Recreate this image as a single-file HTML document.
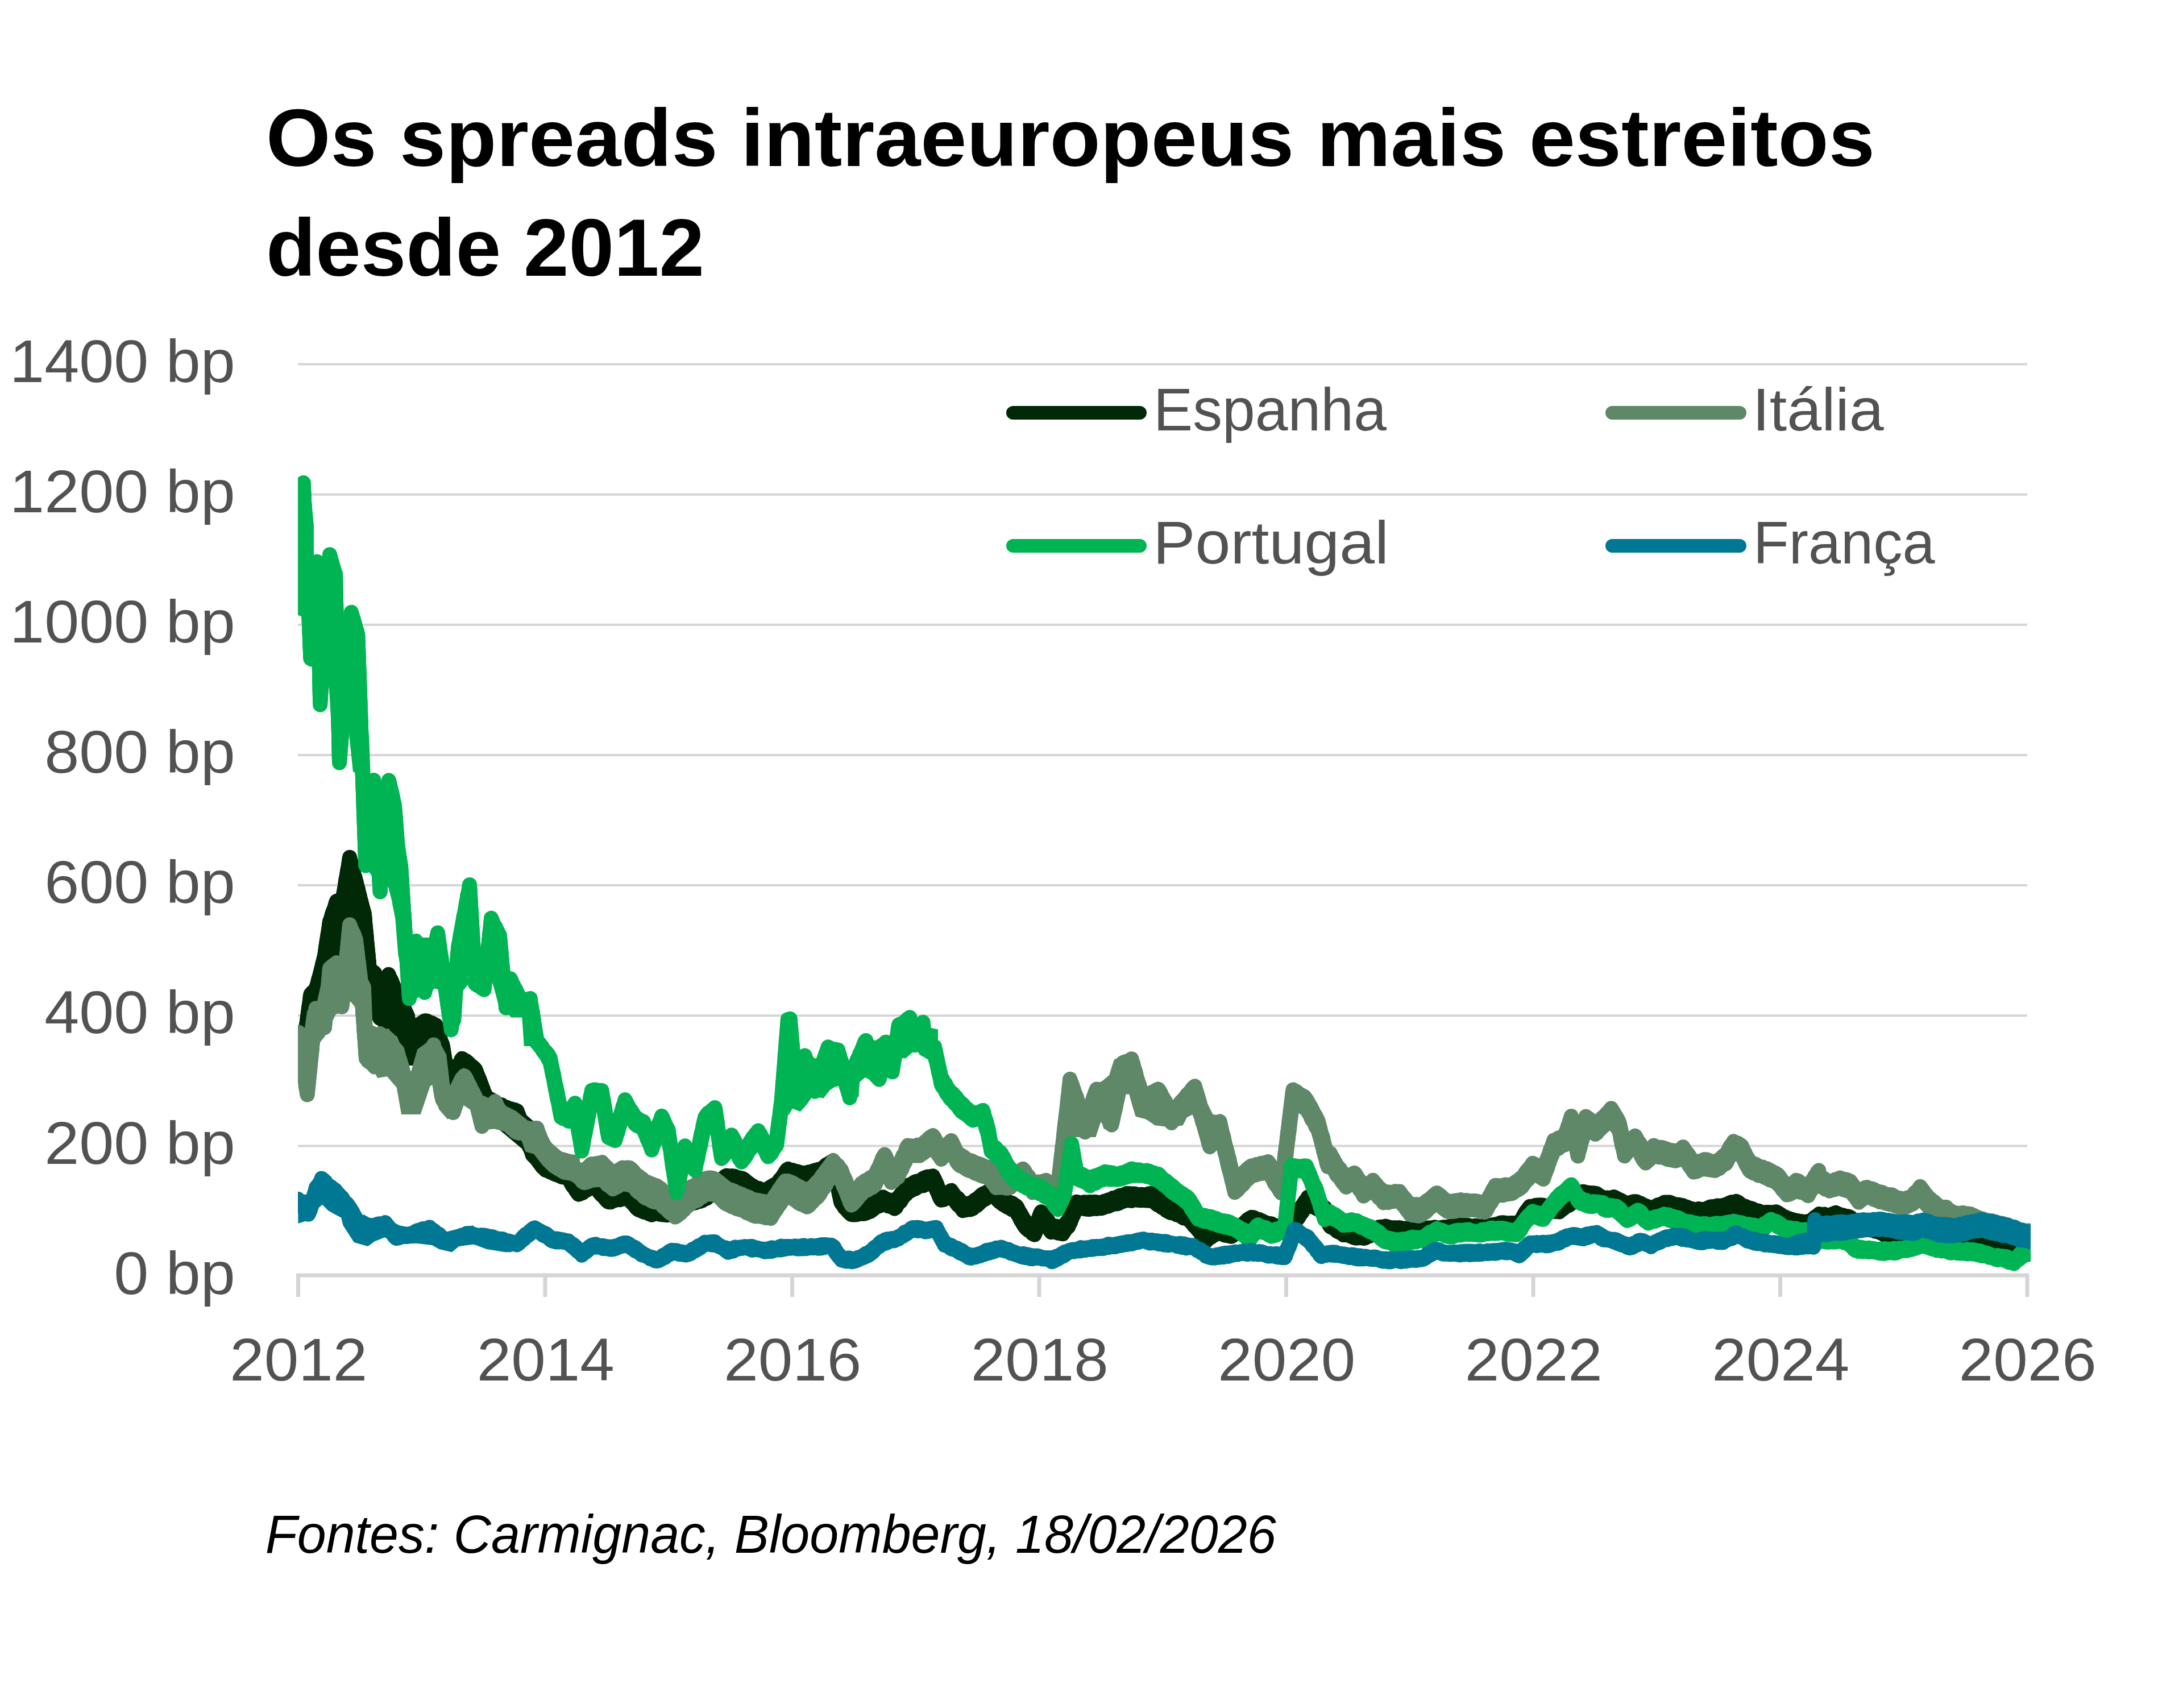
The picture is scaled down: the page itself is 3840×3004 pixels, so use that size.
<!DOCTYPE html>
<html><head><meta charset="utf-8">
<style>
html,body{margin:0;padding:0;background:#fff;width:3840px;height:3004px;overflow:hidden}
svg{position:absolute;left:0;top:0}
.t{font-family:"Liberation Sans",sans-serif;font-weight:bold;font-size:143px;fill:#000}
.ax{font-family:"Liberation Sans",sans-serif;font-size:105px;fill:#525252}
.lg{font-family:"Liberation Sans",sans-serif;font-size:106px;fill:#525252}
.ft{font-family:"Liberation Sans",sans-serif;font-style:italic;font-size:94px;fill:#000}
</style></head><body>
<svg width="3840" height="3004" viewBox="0 0 3840 3004">
<text x="467.9" y="291.5" class="t" textLength="2830" lengthAdjust="spacingAndGlyphs">Os spreads intraeuropeus mais estreitos</text>
<text x="468" y="485" class="t" textLength="771" lengthAdjust="spacingAndGlyphs">desde 2012</text>
<line x1="524" y1="2015.4" x2="3566" y2="2015.4" stroke="#d5d5d5" stroke-width="4"/>
<line x1="524" y1="1786.2" x2="3566" y2="1786.2" stroke="#d5d5d5" stroke-width="4"/>
<line x1="524" y1="1557.1" x2="3566" y2="1557.1" stroke="#d5d5d5" stroke-width="4"/>
<line x1="524" y1="1327.9" x2="3566" y2="1327.9" stroke="#d5d5d5" stroke-width="4"/>
<line x1="524" y1="1098.8" x2="3566" y2="1098.8" stroke="#d5d5d5" stroke-width="4"/>
<line x1="524" y1="869.7" x2="3566" y2="869.7" stroke="#d5d5d5" stroke-width="4"/>
<line x1="524" y1="640.5" x2="3566" y2="640.5" stroke="#d5d5d5" stroke-width="4"/>

<line x1="521" y1="2243" x2="3569" y2="2243" stroke="#d5d5d5" stroke-width="7"/>
<line x1="524.5" y1="2243" x2="524.5" y2="2281" stroke="#d5d5d5" stroke-width="7"/>
<line x1="959.0" y1="2243" x2="959.0" y2="2281" stroke="#d5d5d5" stroke-width="7"/>
<line x1="1393.5" y1="2243" x2="1393.5" y2="2281" stroke="#d5d5d5" stroke-width="7"/>
<line x1="1828.0" y1="2243" x2="1828.0" y2="2281" stroke="#d5d5d5" stroke-width="7"/>
<line x1="2262.5" y1="2243" x2="2262.5" y2="2281" stroke="#d5d5d5" stroke-width="7"/>
<line x1="2697.0" y1="2243" x2="2697.0" y2="2281" stroke="#d5d5d5" stroke-width="7"/>
<line x1="3131.5" y1="2243" x2="3131.5" y2="2281" stroke="#d5d5d5" stroke-width="7"/>
<line x1="3566.0" y1="2243" x2="3566.0" y2="2281" stroke="#d5d5d5" stroke-width="7"/>

<text x="413.8" y="2275.7" text-anchor="end" class="ax" textLength="213.6" lengthAdjust="spacingAndGlyphs">0 bp</text>
<text x="413.8" y="2046.6" text-anchor="end" class="ax" textLength="335.6" lengthAdjust="spacingAndGlyphs">200 bp</text>
<text x="413.8" y="1817.4" text-anchor="end" class="ax" textLength="335.6" lengthAdjust="spacingAndGlyphs">400 bp</text>
<text x="413.8" y="1588.3" text-anchor="end" class="ax" textLength="335.6" lengthAdjust="spacingAndGlyphs">600 bp</text>
<text x="413.8" y="1359.1" text-anchor="end" class="ax" textLength="335.6" lengthAdjust="spacingAndGlyphs">800 bp</text>
<text x="413.8" y="1130.0" text-anchor="end" class="ax" textLength="396.7" lengthAdjust="spacingAndGlyphs">1000 bp</text>
<text x="413.8" y="900.9" text-anchor="end" class="ax" textLength="396.7" lengthAdjust="spacingAndGlyphs">1200 bp</text>
<text x="413.8" y="671.7" text-anchor="end" class="ax" textLength="396.7" lengthAdjust="spacingAndGlyphs">1400 bp</text>

<text x="525.3" y="2428" text-anchor="middle" class="ax" textLength="242" lengthAdjust="spacingAndGlyphs">2012</text>
<text x="959.8" y="2428" text-anchor="middle" class="ax" textLength="242" lengthAdjust="spacingAndGlyphs">2014</text>
<text x="1394.3" y="2428" text-anchor="middle" class="ax" textLength="242" lengthAdjust="spacingAndGlyphs">2016</text>
<text x="1828.8" y="2428" text-anchor="middle" class="ax" textLength="242" lengthAdjust="spacingAndGlyphs">2018</text>
<text x="2263.3" y="2428" text-anchor="middle" class="ax" textLength="242" lengthAdjust="spacingAndGlyphs">2020</text>
<text x="2697.8" y="2428" text-anchor="middle" class="ax" textLength="242" lengthAdjust="spacingAndGlyphs">2022</text>
<text x="3132.3" y="2428" text-anchor="middle" class="ax" textLength="242" lengthAdjust="spacingAndGlyphs">2024</text>
<text x="3566.8" y="2428" text-anchor="middle" class="ax" textLength="242" lengthAdjust="spacingAndGlyphs">2026</text>

<defs><clipPath id="pc"><rect x="524" y="0" width="3048" height="3004"/></clipPath></defs>
<g clip-path="url(#pc)" fill="none" stroke-linejoin="round" stroke-linecap="round" stroke-width="26">
<path d="M524.8 1912.8 L537.5 1811.6 L543.1 1747.0 L551.5 1735.8 L561.4 1727.3 L564.2 1676.7 L574.0 1620.5 L583.9 1584.0 L596.5 1575.6 L602.1 1516.5 L613.4 1501.0 L624.6 1513.7 L633.0 1598.0 L644.3 1600.9 L651.3 1620.5 L652.7 1704.8 L664.0 1713.3 L668.2 1721.7 L683.6 1707.7 L694.9 1733.0 L706.1 1749.8 L723.0 1792.0 L745.5 1786.4 L768.0 1797.6 L775.0 1803.2 L775.0 1828.5 L756.7 1837.0 L725.8 1873.5 L717.4 1865.0 L697.7 1822.9 L672.4 1811.6 L655.5 1794.8 L638.7 1716.0 L627.4 1676.7 L599.3 1676.7 L571.2 1721.7 L557.2 1775.0 L543.1 1817.3 L526.2 1912.8Z" fill="#012907" stroke="none"/>
<path d="M760.0 1798.0 L768.4 1800.0 L776.9 1817.0 L783.2 1842.2 L791.6 1899.0 L797.9 1871.7 L814.8 1854.8 L829.5 1865.4 L842.2 1882.2 L852.7 1922.3 L865.4 1928.6 L878.0 1930.7 L907.5 1947.6 L920.1 1956.0 L937.0 1970.7 L945.4 1975.0 L968.6 2010.8 L987.6 2025.5 L1020.0 2035.0 L1020.0 2070.0 L960.2 2057.0 L937.0 2036.0 L870.0 1980.0 L830.0 1940.0 L800.0 1940.0 L780.0 1920.0 L760.0 1880.0Z" fill="#012907" stroke="none"/>
<path d="M528.3 1879.2 L528.9 1875.9 L529.4 1872.2 L530.0 1867.6 L530.5 1862.9 L531.1 1858.2 L531.6 1854.6 L532.2 1850.2 L532.7 1846.3 L533.3 1843.3 L533.8 1839.6 L534.4 1836.6 L534.9 1831.3 L535.5 1826.7 L536.0 1822.6 L536.6 1819.2 L537.1 1814.9 L537.7 1812.3 L538.2 1808.4 L538.8 1805.4 L539.3 1800.2 L539.9 1797.3 L540.4 1792.3 L541.0 1789.0 L541.5 1785.4 L542.1 1780.3 L542.6 1775.9 L543.2 1771.0 L543.7 1768.2 L544.3 1764.4 L544.8 1760.8 L545.4 1755.5 L545.9 1751.0 L546.5 1748.5 L549.6 1745.0 L552.6 1743.5 L555.7 1740.3 L556.8 1734.9 L557.9 1731.8 L559.0 1728.0 L560.0 1723.4 L561.1 1720.1 L562.2 1716.2 L563.3 1711.8 L564.4 1707.7 L565.5 1703.3 L566.6 1698.7 L567.6 1693.9 L568.7 1689.9 L569.8 1685.5 L570.9 1681.1 L571.5 1677.8 L572.1 1674.4 L572.7 1668.9 L573.3 1664.2 L573.9 1661.1 L574.5 1657.3 L575.1 1652.3 L575.8 1649.5 L576.4 1644.4 L577.0 1641.9 L577.6 1637.8 L578.2 1634.4 L578.8 1629.7 L579.4 1625.4 L580.0 1620.9 L581.4 1617.7 L582.7 1613.7 L584.1 1607.8 L585.4 1604.0 L586.8 1600.6 L588.1 1597.3 L589.5 1592.8 L590.8 1587.9 L592.2 1584.7 L596.8 1586.6 L601.4 1588.9 L602.1 1586.4 L602.8 1581.3 L603.5 1576.8 L604.1 1572.7 L604.8 1569.6 L605.5 1565.4 L606.2 1561.7 L606.9 1558.3 L607.6 1552.5 L608.2 1547.6 L608.9 1545.0 L609.6 1541.4 L610.3 1538.0 L611.0 1532.0 L611.7 1528.9 L612.4 1525.5 L613.0 1521.8 L613.7 1516.4 L614.4 1511.0 L615.1 1507.8 L616.2 1512.6 L617.2 1515.3 L618.3 1520.6 L619.3 1523.3 L620.4 1528.8 L621.4 1532.8 L622.5 1537.2 L623.5 1540.3 L624.6 1543.1 L625.6 1548.3 L626.7 1551.5 L627.7 1556.0 L628.8 1560.6 L629.8 1563.2 L630.8 1568.8 L631.8 1572.2 L632.8 1575.9 L633.8 1581.1 L634.8 1584.2 L635.9 1588.4 L636.9 1592.2 L637.9 1596.1 L638.9 1600.1 L639.9 1603.3 L640.9 1606.9 L641.3 1611.2 L641.7 1616.5 L642.0 1621.2 L642.4 1626.0 L642.8 1629.7 L643.2 1633.1 L643.6 1637.5 L644.0 1640.5 L644.4 1644.6 L644.7 1648.3 L645.1 1653.3 L645.5 1658.3 L645.9 1662.0 L646.3 1665.7 L646.6 1670.6 L647.0 1672.9 L647.4 1677.6 L647.8 1682.6 L648.2 1686.4 L648.6 1689.4 L649.0 1693.9 L649.3 1697.6 L649.7 1702.9 L650.1 1705.2 L654.7 1707.8 L659.2 1711.3 L659.7 1714.9 L660.2 1719.5 L660.6 1724.5 L661.1 1727.6 L661.6 1732.7 L662.1 1735.2 L662.6 1739.5 L663.0 1744.2 L663.5 1748.8 L664.0 1752.3 L664.5 1756.0 L664.9 1760.3 L665.4 1765.4 L665.9 1768.7 L666.4 1771.9 L666.9 1775.9 L667.3 1779.5 L667.8 1784.9 L668.3 1787.6 L669.1 1783.7 L670.0 1780.3 L670.8 1776.4 L671.7 1772.2 L672.5 1769.0 L673.4 1763.8 L674.2 1760.2 L675.1 1756.8 L676.0 1751.1 L676.8 1747.1 L677.6 1743.8 L678.5 1738.7 L679.4 1734.4 L680.2 1730.9 L681.0 1728.0 L681.9 1724.4 L682.8 1718.5 L683.6 1713.8 L685.4 1718.6 L687.2 1721.9 L689.1 1725.6 L690.9 1730.8 L692.7 1734.8 L694.5 1739.6 L696.3 1742.0 L698.2 1747.5 L700.0 1752.1 L701.8 1755.2 L703.5 1758.7 L705.2 1761.3 L706.9 1765.3 L708.6 1769.9 L710.3 1772.9 L712.0 1775.8 L713.7 1780.0 L715.4 1783.5 L717.1 1787.1 L717.5 1791.6 L717.8 1795.1 L718.2 1800.5 L718.5 1805.5 L718.9 1809.7 L719.3 1814.2 L719.6 1818.7 L720.0 1822.5 L720.3 1825.7 L720.7 1829.6 L721.0 1832.4 L721.4 1836.8 L721.8 1841.1 L722.1 1844.5 L722.5 1848.3 L722.8 1853.4 L723.2 1858.4 L724.0 1854.9 L724.7 1851.3 L725.5 1845.7 L726.2 1842.7 L727.0 1838.1 L727.8 1833.7 L728.5 1828.7 L729.3 1826.1 L730.0 1821.8 L730.8 1816.7 L731.5 1812.8 L732.3 1808.2 L735.3 1805.5 L738.4 1803.0 L741.4 1799.4 L744.5 1797.0 L747.5 1795.2 L751.3 1795.6 L755.1 1797.9 L759.0 1798.8 L762.8 1801.2 L766.6 1802.9 L767.9 1806.2 L769.2 1810.7 L770.5 1813.3 L771.8 1817.4 L773.0 1822.1 L774.3 1826.1 L775.6 1830.9 L776.9 1834.0 L778.2 1836.8 L778.9 1840.2 L779.7 1844.2 L780.4 1849.3 L781.1 1853.7 L781.8 1858.4 L782.5 1862.5 L783.3 1865.3 L784.0 1870.9 L784.7 1875.7 L785.5 1878.7 L786.2 1883.6 L786.9 1886.8 L787.6 1891.2 L788.3 1895.0 L789.1 1899.5 L789.8 1902.4 L791.7 1900.1 L793.7 1897.5 L795.6 1893.3 L797.5 1890.1 L799.5 1885.9 L801.4 1881.7 L803.3 1877.5 L805.3 1874.8 L807.2 1871.5 L809.1 1868.9 L811.1 1864.2 L813.0 1861.7 L816.3 1864.4 L819.6 1865.5 L822.9 1868.2 L826.3 1872.0 L829.6 1874.5 L832.9 1877.2 L836.2 1880.7 L837.7 1884.4 L839.2 1888.8 L840.7 1891.9 L842.1 1895.4 L843.6 1898.7 L845.1 1902.9 L846.6 1907.0 L848.1 1911.4 L849.6 1914.8 L851.0 1919.4 L852.5 1923.0 L854.0 1925.5 L855.5 1928.9 L859.4 1932.4 L863.2 1933.4 L867.1 1935.7 L871.0 1938.0 L874.8 1940.9 L878.7 1942.4 L882.5 1943.2 L886.4 1946.7 L890.3 1947.1 L894.1 1949.0 L898.0 1950.0 L901.9 1951.5 L905.7 1952.0 L909.6 1953.8 L911.0 1957.5 L912.4 1961.3 L913.9 1965.6 L915.3 1969.5 L916.7 1972.3 L918.1 1977.4 L919.5 1979.8 L921.0 1984.6 L922.4 1987.8 L923.8 1991.8 L925.2 1996.6 L926.7 1999.1 L928.1 2002.9 L929.5 2007.4 L930.9 2010.4 L932.3 2014.3 L933.8 2019.3 L935.2 2023.5 L936.6 2027.4 L939.5 2030.7 L942.4 2034.1 L945.3 2038.3 L948.2 2041.4 L951.1 2045.2 L954.0 2047.9 L956.9 2051.6 L959.8 2053.4 L963.8 2054.8 L967.8 2055.8 L971.9 2057.7 L975.9 2060.3 L979.9 2061.8 L983.9 2063.9 L987.9 2065.2 L992.0 2066.5 L996.0 2068.4 L1000.0 2070.5 L1002.5 2073.7 L1005.0 2076.8 L1007.5 2080.4 L1010.1 2082.3 L1012.6 2085.3 L1015.1 2089.8 L1017.6 2093.6 L1021.4 2091.5 L1025.1 2088.6 L1028.9 2086.3 L1032.6 2083.1 L1036.4 2080.0 L1040.1 2076.7 L1043.9 2075.0 L1046.8 2078.2 L1049.8 2081.3 L1052.7 2083.9 L1055.6 2087.5 L1058.6 2090.2 L1061.5 2092.6 L1064.4 2095.2 L1067.4 2099.5 L1070.3 2104.0 L1074.3 2103.0 L1078.3 2102.3 L1082.4 2100.0 L1086.4 2099.6 L1090.4 2097.6 L1094.5 2097.6 L1098.5 2095.9 L1102.5 2094.9 L1105.4 2096.5 L1108.4 2100.2 L1111.3 2102.3 L1114.2 2105.4 L1117.1 2108.6 L1120.1 2112.7 L1123.0 2115.8 L1126.9 2115.9 L1130.8 2116.6 L1134.7 2118.4 L1138.6 2121.3 L1142.5 2123.3 L1146.4 2124.7 L1151.1 2124.3 L1155.8 2124.1 L1160.4 2124.1 L1165.1 2122.8 L1169.8 2123.9 L1173.9 2123.7 L1178.0 2125.0 L1182.1 2125.8 L1186.2 2126.1 L1190.3 2126.7 L1193.2 2123.6 L1196.2 2121.9 L1199.1 2117.8 L1202.0 2115.2 L1204.9 2112.3 L1207.9 2108.4 L1210.8 2106.9 L1214.8 2105.6 L1218.8 2103.3 L1222.9 2103.3 L1226.9 2102.6 L1230.9 2101.8 L1235.0 2099.9 L1239.0 2097.9 L1243.0 2097.3 L1246.2 2093.9 L1249.4 2090.4 L1252.6 2088.8 L1255.8 2084.9 L1259.0 2082.5 L1262.1 2080.6 L1265.3 2078.4 L1268.5 2076.4 L1271.7 2072.9 L1274.9 2069.4 L1278.1 2067.5 L1282.8 2068.9 L1287.5 2068.1 L1292.1 2068.6 L1296.8 2070.6 L1301.5 2071.6 L1304.9 2072.2 L1308.3 2073.9 L1311.8 2076.9 L1315.2 2079.5 L1318.6 2082.2 L1322.0 2084.4 L1325.9 2086.8 L1329.8 2089.0 L1333.7 2089.7 L1337.6 2091.0 L1341.5 2093.6 L1345.4 2093.8 L1349.3 2092.4 L1353.2 2088.9 L1357.2 2086.6 L1361.1 2084.2 L1365.0 2082.3 L1368.9 2079.2 L1371.4 2075.2 L1373.9 2072.4 L1376.4 2069.3 L1378.9 2065.6 L1381.4 2061.4 L1383.9 2057.6 L1386.4 2055.9 L1390.3 2058.4 L1394.2 2058.1 L1398.1 2059.6 L1402.0 2060.3 L1405.9 2061.4 L1409.8 2063.8 L1414.0 2062.8 L1418.2 2063.5 L1422.4 2061.2 L1426.5 2061.1 L1430.7 2059.3 L1434.9 2058.1 L1439.1 2056.9 L1442.9 2056.2 L1446.6 2054.6 L1450.4 2051.4 L1454.2 2048.0 L1458.0 2046.3 L1461.7 2043.4 L1465.5 2041.6 L1466.4 2044.4 L1467.3 2049.4 L1468.2 2054.3 L1469.1 2056.5 L1470.0 2061.4 L1470.9 2066.4 L1471.8 2070.8 L1472.8 2075.0 L1473.7 2076.9 L1474.6 2081.0 L1475.5 2084.5 L1476.4 2088.5 L1477.3 2092.8 L1478.2 2097.2 L1479.1 2102.4 L1480.0 2105.4 L1482.9 2110.0 L1485.9 2113.4 L1488.8 2115.5 L1491.7 2119.8 L1494.7 2124.0 L1497.6 2126.0 L1502.0 2126.7 L1506.4 2126.2 L1510.8 2124.6 L1515.1 2124.4 L1519.5 2122.9 L1523.9 2123.9 L1527.6 2121.6 L1531.2 2119.4 L1534.9 2116.7 L1538.6 2115.1 L1542.2 2113.1 L1545.9 2109.9 L1549.5 2108.5 L1553.2 2105.3 L1557.3 2108.1 L1561.4 2109.6 L1565.5 2110.7 L1569.6 2112.3 L1573.7 2113.9 L1576.3 2109.9 L1578.9 2106.6 L1581.5 2104.5 L1584.1 2100.9 L1586.7 2098.0 L1589.3 2095.8 L1591.9 2092.0 L1594.5 2087.8 L1597.1 2084.6 L1601.5 2084.0 L1605.9 2080.9 L1610.3 2078.2 L1614.7 2077.2 L1619.1 2076.1 L1623.5 2072.8 L1627.9 2070.9 L1632.3 2069.4 L1636.7 2069.2 L1641.1 2068.3 L1642.9 2071.6 L1644.8 2075.7 L1646.6 2079.5 L1648.4 2083.6 L1650.2 2088.9 L1652.0 2093.0 L1653.9 2097.2 L1655.7 2100.4 L1660.1 2099.6 L1664.5 2097.7 L1668.9 2097.0 L1673.3 2093.7 L1676.2 2098.2 L1679.2 2102.1 L1682.1 2105.8 L1685.0 2107.1 L1687.9 2111.2 L1690.9 2113.3 L1693.8 2117.9 L1698.2 2117.8 L1702.5 2116.9 L1706.9 2115.7 L1711.3 2114.0 L1714.8 2110.6 L1718.3 2108.4 L1721.9 2105.9 L1725.4 2102.4 L1728.9 2099.9 L1733.3 2098.0 L1737.7 2095.5 L1742.1 2093.7 L1746.5 2090.6 L1749.4 2093.1 L1752.3 2097.1 L1755.3 2100.2 L1758.2 2102.5 L1761.1 2104.6 L1764.9 2108.0 L1768.6 2110.5 L1772.4 2112.7 L1776.2 2115.5 L1780.0 2115.7 L1783.7 2118.5 L1787.5 2120.8 L1789.6 2123.7 L1791.7 2128.2 L1793.8 2131.7 L1795.8 2135.0 L1797.9 2138.7 L1800.0 2142.8 L1802.1 2145.7 L1805.6 2149.8 L1809.1 2152.1 L1812.7 2155.5 L1816.2 2157.9 L1819.7 2161.6 L1821.4 2158.2 L1823.0 2152.6 L1824.7 2149.9 L1826.4 2144.2 L1828.1 2139.3 L1829.7 2134.8 L1831.4 2131.3 L1833.9 2135.6 L1836.4 2138.4 L1838.9 2142.1 L1841.5 2144.4 L1844.0 2147.4 L1846.5 2151.9 L1849.0 2155.7 L1853.1 2156.1 L1857.2 2156.4 L1861.3 2158.2 L1865.4 2157.3 L1869.5 2158.1 L1872.8 2153.7 L1876.0 2149.9 L1879.3 2146.4 L1881.1 2142.2 L1883.0 2138.7 L1884.8 2133.6 L1886.6 2130.3 L1888.4 2127.7 L1890.2 2122.4 L1892.1 2118.8 L1893.9 2113.7 L1898.3 2115.4 L1902.7 2115.3 L1907.1 2114.2 L1911.5 2115.3 L1915.8 2113.9 L1920.2 2114.4 L1924.6 2114.0 L1929.0 2114.3 L1933.4 2115.6 L1937.8 2115.9 L1941.8 2112.8 L1945.8 2112.1 L1949.8 2110.2 L1953.8 2109.9 L1957.8 2107.0 L1961.7 2107.0 L1965.7 2104.6 L1969.7 2102.9 L1973.7 2102.2 L1977.7 2101.1 L1981.7 2099.1 L1986.1 2099.1 L1990.5 2099.8 L1994.9 2099.3 L1999.3 2100.4 L2003.7 2101.3 L2008.0 2100.7 L2012.4 2101.3 L2016.8 2100.9 L2021.2 2099.4 L2025.6 2099.0 L2029.3 2101.7 L2032.9 2104.9 L2036.6 2107.6 L2040.2 2110.1 L2043.9 2113.5 L2047.6 2116.9 L2051.2 2118.7 L2054.9 2121.6 L2058.7 2121.7 L2062.5 2123.9 L2066.3 2125.1 L2070.1 2126.8 L2073.9 2128.5 L2077.8 2130.4 L2081.6 2131.9 L2085.4 2132.7 L2089.2 2134.0 L2093.0 2135.2 L2095.7 2139.2 L2098.3 2142.5 L2101.0 2144.7 L2103.6 2148.6 L2106.3 2152.0 L2108.9 2153.9 L2111.6 2157.3 L2114.2 2161.8 L2116.9 2163.6 L2119.5 2168.2 L2122.2 2171.5 L2126.3 2168.5 L2130.4 2166.3 L2134.5 2163.9 L2138.6 2160.2 L2142.7 2158.6 L2146.6 2160.8 L2150.5 2162.2 L2154.4 2162.1 L2158.4 2164.0 L2162.3 2164.8 L2166.2 2164.9 L2169.7 2161.9 L2173.2 2160.4 L2176.7 2158.6 L2180.2 2156.1 L2183.8 2154.3 L2187.3 2152.3 L2190.8 2148.6 L2194.3 2145.2 L2197.8 2142.9 L2201.3 2140.8 L2205.7 2141.4 L2210.1 2144.1 L2214.4 2144.6 L2218.8 2146.8 L2223.2 2148.7 L2227.6 2151.0 L2232.0 2151.8 L2236.4 2152.2 L2240.8 2155.0 L2245.2 2155.8 L2249.6 2158.1 L2254.0 2158.5 L2257.4 2155.4 L2260.8 2153.6 L2264.2 2152.4 L2267.7 2149.3 L2271.1 2147.3 L2274.5 2144.6 L2276.9 2140.9 L2279.3 2138.2 L2281.7 2133.0 L2284.1 2130.3 L2286.5 2128.1 L2288.8 2123.0 L2291.2 2119.7 L2293.6 2115.9 L2296.0 2112.1 L2298.4 2110.1 L2300.8 2105.4 L2304.5 2108.4 L2308.1 2110.8 L2311.8 2113.8 L2315.4 2114.5 L2319.1 2116.9 L2322.8 2120.5 L2326.4 2121.8 L2330.1 2123.5 L2331.8 2127.9 L2333.4 2132.5 L2335.1 2137.0 L2336.7 2139.7 L2338.3 2144.1 L2340.0 2147.9 L2343.9 2150.8 L2347.8 2151.8 L2351.7 2153.5 L2355.6 2156.7 L2359.5 2160.0 L2363.4 2162.9 L2367.8 2161.9 L2372.2 2163.1 L2376.6 2165.0 L2380.9 2166.1 L2385.3 2167.2 L2389.7 2166.9 L2394.1 2166.8 L2398.5 2167.6 L2402.3 2167.9 L2406.1 2166.2 L2409.9 2164.2 L2413.8 2163.9 L2417.6 2161.0 L2421.4 2160.8 L2425.2 2158.4 L2429.0 2157.7 L2433.1 2157.6 L2437.2 2156.6 L2441.3 2157.8 L2445.4 2159.0 L2449.5 2159.3 L2453.6 2159.2 L2457.7 2159.7 L2461.8 2159.1 L2466.0 2160.1 L2470.1 2160.4 L2474.3 2160.5 L2478.5 2160.2 L2482.6 2158.7 L2486.8 2158.9 L2491.0 2158.9 L2495.1 2159.5 L2499.3 2158.7 L2503.3 2158.8 L2507.3 2159.9 L2511.3 2159.6 L2515.4 2159.7 L2519.4 2159.3 L2523.4 2158.3 L2527.4 2159.5 L2531.7 2160.0 L2535.9 2158.8 L2540.2 2158.0 L2544.4 2158.7 L2548.7 2157.1 L2552.9 2156.4 L2557.2 2156.1 L2561.4 2156.4 L2565.7 2155.0 L2569.9 2154.4 L2574.2 2155.9 L2578.4 2154.6 L2582.5 2155.0 L2586.7 2156.6 L2590.9 2156.6 L2595.0 2155.7 L2599.2 2156.2 L2603.4 2157.8 L2607.5 2156.8 L2611.7 2156.5 L2615.8 2156.4 L2619.9 2155.3 L2624.0 2154.7 L2628.1 2153.6 L2632.1 2153.2 L2636.2 2152.0 L2640.3 2150.4 L2644.4 2150.3 L2648.4 2150.9 L2652.5 2151.6 L2656.5 2151.0 L2660.5 2150.9 L2664.5 2151.6 L2668.6 2150.2 L2672.6 2150.3 L2674.9 2146.4 L2677.3 2143.0 L2679.6 2139.0 L2681.9 2134.6 L2684.3 2130.5 L2686.6 2128.0 L2689.0 2124.4 L2691.3 2121.7 L2696.0 2121.7 L2700.7 2120.0 L2705.3 2119.5 L2710.0 2119.3 L2714.7 2119.6 L2718.7 2120.8 L2722.7 2121.6 L2726.7 2121.7 L2730.8 2122.5 L2734.8 2123.4 L2738.8 2122.7 L2742.8 2124.1 L2746.3 2120.6 L2749.8 2118.7 L2753.4 2115.4 L2756.9 2113.2 L2760.4 2111.0 L2763.9 2109.1 L2767.4 2105.7 L2770.9 2103.1 L2774.4 2100.3 L2778.0 2097.8 L2781.5 2096.4 L2785.0 2095.7 L2789.7 2097.2 L2794.4 2097.7 L2799.0 2098.0 L2803.7 2098.2 L2808.4 2099.0 L2812.7 2102.3 L2816.9 2104.7 L2821.2 2107.9 L2825.6 2106.6 L2829.9 2106.8 L2834.3 2106.5 L2838.7 2105.0 L2842.6 2106.9 L2846.5 2109.1 L2850.4 2110.6 L2854.4 2113.0 L2858.3 2115.1 L2862.2 2117.2 L2866.3 2115.5 L2870.3 2114.2 L2874.4 2113.3 L2878.5 2113.3 L2882.2 2115.3 L2885.9 2116.3 L2889.6 2118.5 L2893.2 2120.3 L2896.9 2121.4 L2900.6 2124.2 L2904.3 2126.5 L2908.2 2123.2 L2912.1 2121.6 L2916.0 2119.4 L2919.9 2118.4 L2923.8 2117.1 L2927.7 2114.5 L2932.4 2114.5 L2937.1 2114.5 L2941.7 2116.4 L2946.4 2118.4 L2951.1 2118.4 L2955.2 2119.4 L2959.3 2119.9 L2963.4 2121.8 L2967.5 2123.0 L2971.6 2124.8 L2975.7 2125.8 L2979.8 2127.8 L2983.9 2127.2 L2987.9 2126.1 L2991.9 2126.9 L2995.9 2127.1 L3000.0 2126.4 L3004.0 2124.6 L3008.0 2122.7 L3012.0 2122.1 L3016.2 2122.8 L3020.4 2120.5 L3024.7 2120.7 L3028.9 2120.5 L3033.1 2119.5 L3037.3 2118.1 L3041.5 2116.1 L3045.8 2114.3 L3050.0 2114.9 L3054.2 2112.8 L3058.1 2114.8 L3062.0 2118.1 L3065.9 2120.7 L3069.8 2121.5 L3073.7 2123.4 L3077.6 2124.5 L3081.5 2125.5 L3085.4 2127.4 L3089.3 2129.6 L3093.2 2129.4 L3097.1 2131.6 L3101.0 2132.8 L3105.7 2131.9 L3110.4 2132.1 L3115.0 2132.3 L3119.7 2132.2 L3124.4 2131.2 L3128.3 2133.5 L3132.2 2135.9 L3136.2 2139.1 L3140.1 2140.2 L3144.0 2142.7 L3147.9 2143.4 L3152.1 2145.0 L3156.2 2146.0 L3160.4 2146.8 L3164.5 2147.7 L3168.7 2148.1 L3172.8 2148.9 L3177.0 2149.2 L3181.1 2147.8 L3185.3 2148.1 L3189.0 2144.3 L3192.7 2140.5 L3196.3 2138.4 L3200.0 2135.1 L3204.6 2136.3 L3209.2 2135.6 L3213.7 2137.4 L3218.3 2137.3 L3223.8 2135.1 L3229.3 2132.9 L3233.6 2135.0 L3237.9 2136.5 L3242.2 2137.4 L3246.4 2139.0 L3250.7 2139.2 L3255.0 2141.0 L3258.7 2144.1 L3262.3 2145.9 L3266.0 2148.2 L3269.6 2151.0 L3273.3 2152.3 L3277.5 2154.1 L3281.7 2154.4 L3285.9 2154.7 L3290.0 2155.0 L3294.2 2155.0 L3298.4 2157.0 L3302.6 2156.9 L3306.7 2158.4 L3310.8 2162.0 L3315.0 2163.5 L3319.1 2167.0 L3323.1 2168.9 L3327.2 2170.5 L3331.2 2170.4 L3335.3 2171.0 L3339.3 2173.3 L3343.6 2174.0 L3347.8 2173.2 L3352.1 2172.4 L3356.4 2174.0 L3360.6 2174.6 L3364.9 2173.9 L3369.0 2173.8 L3373.1 2174.8 L3377.1 2173.3 L3381.2 2173.8 L3385.3 2174.4 L3389.4 2174.0 L3393.4 2174.5 L3397.5 2173.8 L3401.6 2174.7 L3405.7 2174.9 L3409.7 2173.6 L3413.8 2173.2 L3417.9 2172.6 L3421.9 2173.5 L3426.0 2173.1 L3430.1 2173.0 L3434.1 2174.6 L3438.2 2173.7 L3442.4 2172.4 L3446.6 2172.6 L3450.8 2171.8 L3454.9 2171.2 L3459.1 2171.7 L3463.3 2171.7 L3467.5 2170.8 L3473.0 2170.3 L3478.5 2169.5 L3482.5 2169.2 L3486.4 2170.8 L3490.4 2172.6 L3494.4 2172.6 L3498.3 2174.4 L3502.3 2176.7 L3506.2 2177.7 L3510.2 2177.9 L3514.1 2179.5 L3518.0 2180.1 L3521.9 2181.7 L3525.9 2182.4 L3529.8 2183.9 L3534.4 2184.3 L3539.0 2186.7 L3543.1 2187.4 L3547.2 2186.4 L3551.4 2187.8 L3555.5 2186.8 L3559.6 2186.8 L3563.8 2187.6 L3567.9 2186.4 L3572.0 2186.9" stroke="#012907"/>
<path d="M528.3 1884.0 L528.9 1879.3 L529.4 1876.5 L530.0 1872.9 L530.5 1868.2 L531.1 1864.3 L531.6 1860.6 L532.2 1856.1 L532.7 1852.9 L533.3 1849.1 L533.8 1845.3 L534.4 1840.7 L534.9 1836.9 L535.5 1833.5 L536.0 1827.4 L536.6 1824.2 L537.1 1820.9 L537.7 1815.3 L538.2 1812.4 L538.8 1807.8 L539.3 1805.0 L539.9 1799.7 L540.4 1796.0 L541.0 1792.3 L541.5 1788.5 L542.1 1783.9 L542.6 1779.1 L543.2 1777.0 L543.7 1772.2 L544.3 1768.9 L544.8 1764.7 L545.4 1760.1 L545.9 1755.7 L546.5 1752.2 L549.6 1750.4 L552.6 1747.2 L555.7 1743.5 L556.8 1739.2 L557.9 1735.9 L559.0 1732.2 L560.0 1726.2 L561.1 1722.0 L562.2 1718.8 L563.3 1713.7 L564.4 1709.9 L565.5 1706.8 L566.6 1703.1 L567.6 1699.2 L568.7 1693.4 L569.8 1688.8 L570.9 1685.3 L571.5 1680.6 L572.1 1678.1 L572.7 1672.7 L573.3 1668.6 L573.9 1666.0 L574.5 1660.4 L575.1 1656.6 L575.8 1653.2 L576.4 1649.2 L577.0 1646.2 L577.6 1641.5 L578.2 1637.9 L578.8 1632.7 L579.4 1627.9 L580.0 1624.0 L581.4 1620.6 L582.7 1616.9 L584.1 1612.7 L585.4 1608.1 L586.8 1605.2 L588.1 1599.9 L589.5 1596.1 L590.8 1591.6 L592.2 1587.2 L596.8 1589.9 L601.4 1594.5 L602.1 1589.3 L602.8 1586.2 L603.5 1581.2 L604.1 1578.5 L604.8 1574.9 L605.5 1570.2 L606.2 1566.3 L606.9 1562.2 L607.6 1558.6 L608.2 1554.4 L608.9 1550.0 L609.6 1544.9 L610.3 1541.7 L611.0 1537.5 L611.7 1532.4 L612.4 1528.1 L613.0 1524.9 L613.7 1520.4 L614.4 1517.1 L615.1 1511.7 L616.2 1516.5 L617.2 1520.0 L618.3 1523.7 L619.3 1527.6 L620.4 1531.8 L621.4 1536.3 L622.5 1539.1 L623.5 1544.0 L624.6 1547.7 L625.6 1552.8 L626.7 1556.4 L627.7 1560.8 L628.8 1563.4 L629.8 1566.8 L630.8 1571.8 L631.8 1576.2 L632.8 1579.1 L633.8 1582.6 L634.8 1587.9 L635.9 1591.3 L636.9 1596.9 L637.9 1599.6 L638.9 1605.2 L639.9 1609.8 L640.9 1614.2 L641.3 1617.0 L641.7 1620.6 L642.0 1624.8 L642.4 1629.3 L642.8 1633.6 L643.2 1636.9 L643.6 1640.5 L644.0 1645.3 L644.4 1648.1 L644.7 1653.4 L645.1 1657.9 L645.5 1661.2 L645.9 1665.3 L646.3 1670.0 L646.6 1673.2 L647.0 1677.7 L647.4 1682.6 L647.8 1686.1 L648.2 1690.8 L648.6 1693.2 L649.0 1697.4 L649.3 1701.6 L649.7 1704.9 L650.1 1709.4 L654.7 1713.7 L659.2 1716.4 L659.7 1719.5 L660.2 1724.4 L660.6 1729.1 L661.1 1732.4 L661.6 1735.9 L662.1 1740.7 L662.6 1744.7 L663.0 1747.7 L663.5 1751.3 L664.0 1755.6 L664.5 1759.2 L664.9 1763.0 L665.4 1768.9 L665.9 1773.4 L666.4 1777.8 L666.9 1780.1 L667.3 1784.1 L667.8 1788.2 L668.3 1791.1 L669.1 1787.3 L670.0 1782.9 L670.8 1780.0 L671.7 1775.3 L672.5 1771.0 L673.4 1766.7 L674.2 1764.4 L675.1 1759.1 L676.0 1755.3 L676.8 1751.5 L677.6 1748.5 L678.5 1743.9 L679.4 1738.8 L680.2 1736.1 L681.0 1731.2 L681.9 1727.8 L682.8 1724.5 L683.6 1719.8 L685.4 1722.8 L687.2 1727.3 L689.1 1729.9 L690.9 1734.4 L692.7 1739.0 L694.5 1743.8 L696.3 1746.1 L698.2 1751.6 L700.0 1754.3 L701.8 1757.4 L703.5 1762.1 L705.2 1766.8 L706.9 1770.2 L708.6 1773.7 L710.3 1776.8 L712.0 1781.2 L713.7 1785.2 L715.4 1788.8 L717.1 1793.4 L717.5 1796.0 L717.8 1799.2 L718.2 1804.1 L718.5 1808.8 L718.9 1811.8 L719.3 1816.2 L719.6 1819.6 L720.0 1824.5 L720.3 1828.4 L720.7 1832.5 L721.0 1838.0 L721.4 1842.2 L721.8 1846.7 L722.1 1851.3 L722.5 1853.4 L722.8 1856.9 L723.2 1860.7 L724.0 1856.8 L724.7 1853.1 L725.5 1850.4 L726.2 1845.7 L727.0 1842.3 L727.8 1839.1 L728.5 1833.9 L729.3 1830.8 L730.0 1826.7 L730.8 1821.4 L731.5 1818.6 L732.3 1814.1 L735.3 1811.4 L738.4 1807.6 L741.4 1803.5 L744.5 1802.0 L747.5 1798.1 L751.3 1800.8 L755.1 1801.4 L759.0 1803.7 L762.8 1804.4 L766.6 1807.5 L767.9 1810.6 L769.2 1815.5 L770.5 1819.2 L771.8 1823.7 L773.0 1826.1 L774.3 1829.3 L775.6 1833.6 L776.9 1836.5 L778.2 1841.7 L778.9 1845.4 L779.7 1849.6 L780.4 1854.3 L781.1 1857.8 L781.8 1862.2 L782.5 1865.4 L783.3 1869.1 L784.0 1874.6 L784.7 1879.0 L785.5 1882.5 L786.2 1887.3 L786.9 1890.2 L787.6 1894.8 L788.3 1899.7 L789.1 1903.7 L789.8 1906.8 L791.7 1902.8 L793.7 1900.7 L795.6 1897.1 L797.5 1893.2 L799.5 1890.0 L801.4 1886.6 L803.3 1882.6 L805.3 1878.5 L807.2 1875.9 L809.1 1872.9 L811.1 1869.5 L813.0 1865.2 L816.3 1867.7 L819.6 1869.9 L822.9 1874.1 L826.3 1875.1 L829.6 1878.5 L832.9 1880.3 L836.2 1883.9 L837.7 1888.2 L839.2 1892.9 L840.7 1895.7 L842.1 1899.0 L843.6 1903.4 L845.1 1907.6 L846.6 1910.7 L848.1 1914.1 L849.6 1918.5 L851.0 1923.6 L852.5 1925.8 L854.0 1931.2 L855.5 1933.6 L859.4 1936.6 L863.2 1939.4 L867.1 1940.1 L871.0 1943.1 L874.8 1944.3 L878.7 1945.9 L882.5 1948.5 L886.4 1950.8 L890.3 1951.9 L894.1 1953.2 L898.0 1954.3 L901.9 1954.9 L905.7 1955.7 L909.6 1958.2 L911.0 1961.3 L912.4 1964.9 L913.9 1969.3 L915.3 1973.6 L916.7 1977.1 L918.1 1981.5 L919.5 1984.4 L921.0 1987.9 L922.4 1993.0 L923.8 1997.0 L925.2 2000.3 L926.7 2003.1 L928.1 2008.1 L929.5 2012.8 L930.9 2017.0 L932.3 2019.4 L933.8 2022.7 L935.2 2026.5 L936.6 2031.5 L939.5 2034.3 L942.4 2037.3 L945.3 2040.5 L948.2 2044.8 L951.1 2048.4 L954.0 2052.6 L956.9 2054.9 L959.8 2058.2 L963.8 2059.2 L967.8 2061.4 L971.9 2063.0 L975.9 2065.2 L979.9 2066.5 L983.9 2067.7 L987.9 2070.0 L992.0 2070.5 L996.0 2071.0 L1000.0 2073.0 L1002.5 2077.6 L1005.0 2082.2 L1007.5 2086.5 L1010.1 2089.3 L1012.6 2093.5 L1015.1 2097.1 L1017.6 2100.7 L1021.4 2099.3 L1025.1 2098.0 L1028.9 2094.3 L1032.6 2093.1 L1036.4 2090.1 L1040.1 2087.3 L1043.9 2086.3 L1046.8 2089.3 L1049.8 2091.8 L1052.7 2095.3 L1055.6 2099.1 L1058.6 2102.3 L1061.5 2104.3 L1064.4 2108.3 L1067.4 2111.8 L1070.3 2114.2 L1074.3 2114.3 L1078.3 2112.1 L1082.4 2110.9 L1086.4 2109.5 L1090.4 2110.3 L1094.5 2108.8 L1098.5 2108.3 L1102.5 2107.6 L1105.4 2109.8 L1108.4 2111.8 L1111.3 2115.4 L1114.2 2118.3 L1117.1 2121.8 L1120.1 2125.4 L1123.0 2127.8 L1126.9 2128.8 L1130.8 2131.1 L1134.7 2132.3 L1138.6 2133.1 L1142.5 2135.2 L1146.4 2136.8 L1151.1 2134.9 L1155.8 2134.4 L1160.4 2135.6 L1165.1 2136.4 L1169.8 2136.9 L1173.9 2137.2 L1178.0 2136.7 L1182.1 2136.1 L1186.2 2137.6 L1190.3 2137.5 L1193.2 2134.2 L1196.2 2133.2 L1199.1 2129.6 L1202.0 2125.5 L1204.9 2123.2 L1207.9 2121.1 L1210.8 2118.4 L1214.8 2117.5 L1218.8 2116.2 L1222.9 2115.5 L1226.9 2112.9 L1230.9 2113.0 L1235.0 2111.7 L1239.0 2109.0 L1243.0 2107.8 L1246.2 2104.6 L1249.4 2103.3 L1252.6 2101.6 L1255.8 2099.2 L1259.0 2096.3 L1262.1 2092.9 L1265.3 2090.9 L1268.5 2086.4 L1271.7 2083.6 L1274.9 2081.0 L1278.1 2079.1 L1282.8 2080.7 L1287.5 2080.0 L1292.1 2079.6 L1296.8 2081.9 L1301.5 2083.4 L1304.9 2084.5 L1308.3 2086.3 L1311.8 2090.2 L1315.2 2092.7 L1318.6 2095.3 L1322.0 2098.0 L1325.9 2098.5 L1329.8 2099.2 L1333.7 2100.2 L1337.6 2101.3 L1341.5 2103.6 L1345.4 2105.8 L1349.3 2103.6 L1353.2 2100.0 L1357.2 2097.1 L1361.1 2094.7 L1365.0 2092.3 L1368.9 2089.4 L1371.4 2087.7 L1373.9 2083.8 L1376.4 2080.4 L1378.9 2077.6 L1381.4 2073.8 L1383.9 2070.9 L1386.4 2067.2 L1390.3 2069.4 L1394.2 2070.1 L1398.1 2072.7 L1402.0 2074.3 L1405.9 2076.1 L1409.8 2077.0 L1414.0 2076.2 L1418.2 2074.7 L1422.4 2073.8 L1426.5 2072.6 L1430.7 2071.0 L1434.9 2071.2 L1439.1 2071.4 L1442.9 2068.4 L1446.6 2064.3 L1450.4 2062.0 L1454.2 2060.9 L1458.0 2058.8 L1461.7 2055.6 L1465.5 2052.3 L1466.4 2056.6 L1467.3 2060.4 L1468.2 2064.3 L1469.1 2069.6 L1470.0 2073.1 L1470.9 2077.7 L1471.8 2081.1 L1472.8 2085.2 L1473.7 2088.5 L1474.6 2092.0 L1475.5 2097.7 L1476.4 2102.1 L1477.3 2105.6 L1478.2 2110.4 L1479.1 2114.1 L1480.0 2116.3 L1482.9 2120.0 L1485.9 2124.7 L1488.8 2127.2 L1491.7 2130.8 L1494.7 2133.7 L1497.6 2136.3 L1502.0 2136.5 L1506.4 2136.3 L1510.8 2135.3 L1515.1 2134.5 L1519.5 2134.9 L1523.9 2133.6 L1527.6 2131.8 L1531.2 2130.6 L1534.9 2127.8 L1538.6 2124.9 L1542.2 2122.1 L1545.9 2121.5 L1549.5 2119.2 L1553.2 2116.8 L1557.3 2118.7 L1561.4 2121.0 L1565.5 2121.9 L1569.6 2123.1 L1573.7 2125.7 L1576.3 2123.5 L1578.9 2118.5 L1581.5 2115.4 L1584.1 2113.3 L1586.7 2108.9 L1589.3 2104.9 L1591.9 2102.6 L1594.5 2100.2 L1597.1 2096.6 L1601.5 2094.8 L1605.9 2091.8 L1610.3 2090.8 L1614.7 2087.4 L1619.1 2085.5 L1623.5 2085.6 L1627.9 2083.6 L1632.3 2080.8 L1636.7 2079.9 L1641.1 2078.2 L1642.9 2082.8 L1644.8 2086.2 L1646.6 2091.5 L1648.4 2095.8 L1650.2 2099.4 L1652.0 2104.3 L1653.9 2108.4 L1655.7 2110.7 L1660.1 2110.0 L1664.5 2107.7 L1668.9 2105.4 L1673.3 2104.1 L1676.2 2108.1 L1679.2 2110.8 L1682.1 2115.8 L1685.0 2119.5 L1687.9 2121.7 L1690.9 2124.9 L1693.8 2129.2 L1698.2 2128.3 L1702.5 2127.3 L1706.9 2127.4 L1711.3 2125.7 L1714.8 2122.5 L1718.3 2120.5 L1721.9 2117.3 L1725.4 2113.7 L1728.9 2111.0 L1733.3 2108.8 L1737.7 2105.5 L1742.1 2102.9 L1746.5 2100.4 L1749.4 2104.5 L1752.3 2106.7 L1755.3 2111.1 L1758.2 2113.8 L1761.1 2115.7 L1764.9 2118.7 L1768.6 2120.6 L1772.4 2123.2 L1776.2 2124.7 L1780.0 2127.4 L1783.7 2128.4 L1787.5 2131.4 L1789.6 2135.0 L1791.7 2138.0 L1793.8 2142.5 L1795.8 2146.8 L1797.9 2149.7 L1800.0 2153.5 L1802.1 2156.9 L1805.6 2161.1 L1809.1 2164.0 L1812.7 2166.0 L1816.2 2169.7 L1819.7 2171.7 L1821.4 2167.4 L1823.0 2164.1 L1824.7 2159.7 L1826.4 2154.7 L1828.1 2151.5 L1829.7 2147.4 L1831.4 2142.4 L1833.9 2147.1 L1836.4 2150.8 L1838.9 2154.3 L1841.5 2157.1 L1844.0 2159.3 L1846.5 2163.7 L1849.0 2167.1 L1853.1 2166.5 L1857.2 2167.0 L1861.3 2168.8 L1865.4 2169.5 L1869.5 2170.2 L1872.8 2164.9 L1876.0 2160.2 L1879.3 2157.9 L1881.1 2153.1 L1883.0 2150.0 L1884.8 2144.8 L1886.6 2140.1 L1888.4 2137.0 L1890.2 2132.4 L1892.1 2129.6 L1893.9 2124.8 L1898.3 2124.6 L1902.7 2124.8 L1907.1 2126.1 L1911.5 2126.7 L1915.8 2127.1 L1920.2 2126.3 L1924.6 2125.4 L1929.0 2125.9 L1933.4 2125.2 L1937.8 2125.3 L1941.8 2123.7 L1945.8 2121.8 L1949.8 2121.7 L1953.8 2119.5 L1957.8 2117.8 L1961.7 2117.5 L1965.7 2117.3 L1969.7 2115.4 L1973.7 2113.5 L1977.7 2112.4 L1981.7 2110.9 L1986.1 2111.2 L1990.5 2111.9 L1994.9 2110.2 L1999.3 2110.5 L2003.7 2111.0 L2008.0 2111.3 L2012.4 2110.9 L2016.8 2111.5 L2021.2 2111.7 L2025.6 2110.2 L2029.3 2112.4 L2032.9 2116.5 L2036.6 2119.3 L2040.2 2120.1 L2043.9 2123.8 L2047.6 2125.2 L2051.2 2128.7 L2054.9 2130.7 L2058.7 2133.0 L2062.5 2133.3 L2066.3 2134.6 L2070.1 2136.7 L2073.9 2137.3 L2077.8 2139.3 L2081.6 2142.3 L2085.4 2142.4 L2089.2 2144.9 L2093.0 2146.2 L2095.7 2150.0 L2098.3 2153.4 L2101.0 2156.9 L2103.6 2158.1 L2106.3 2162.7 L2108.9 2164.7 L2111.6 2169.2 L2114.2 2172.7 L2116.9 2174.9 L2119.5 2178.7 L2122.2 2182.3 L2126.3 2178.1 L2130.4 2176.1 L2134.5 2173.1 L2138.6 2171.1 L2142.7 2168.2 L2146.6 2169.0 L2150.5 2170.6 L2154.4 2172.8 L2158.4 2172.5 L2162.3 2174.0 L2166.2 2174.8 L2169.7 2172.6 L2173.2 2169.2 L2176.7 2166.6 L2180.2 2164.7 L2183.8 2162.0 L2187.3 2160.0 L2190.8 2157.2 L2194.3 2156.2 L2197.8 2154.1 L2201.3 2151.3 L2205.7 2151.8 L2210.1 2154.6 L2214.4 2155.1 L2218.8 2156.5 L2223.2 2159.1 L2227.6 2161.4 L2232.0 2161.7 L2236.4 2164.0 L2240.8 2163.9 L2245.2 2165.0 L2249.6 2166.2 L2254.0 2168.0 L2257.4 2166.8 L2260.8 2163.8 L2264.2 2161.5 L2267.7 2158.9 L2271.1 2157.2 L2274.5 2155.3 L2276.9 2151.1 L2279.3 2148.3 L2281.7 2144.5 L2284.1 2141.9 L2286.5 2137.1 L2288.8 2134.5 L2291.2 2131.2 L2293.6 2126.6 L2296.0 2123.8 L2298.4 2119.8 L2300.8 2116.3 L2304.5 2119.8 L2308.1 2122.3 L2311.8 2122.9 L2315.4 2125.5 L2319.1 2127.0 L2322.8 2129.5 L2326.4 2131.4 L2330.1 2134.2 L2331.8 2139.1 L2333.4 2143.1 L2335.1 2146.2 L2336.7 2151.0 L2338.3 2154.9 L2340.0 2157.6 L2343.9 2159.4 L2347.8 2161.5 L2351.7 2165.3 L2355.6 2167.4 L2359.5 2168.5 L2363.4 2172.1 L2367.8 2171.7 L2372.2 2172.4 L2376.6 2174.6 L2380.9 2176.4 L2385.3 2177.6 L2389.7 2177.3 L2394.1 2176.9 L2398.5 2178.0 L2402.3 2177.1 L2406.1 2174.7 L2409.9 2173.6 L2413.8 2172.0 L2417.6 2171.5 L2421.4 2170.7 L2425.2 2167.7 L2429.0 2166.5 L2433.1 2167.9 L2437.2 2168.6 L2441.3 2167.2 L2445.4 2168.8 L2449.5 2169.9 L2453.6 2170.1 L2457.7 2169.7 L2461.8 2170.8 L2466.0 2170.4 L2470.1 2169.9 L2474.3 2169.1 L2478.5 2169.1 L2482.6 2170.3 L2486.8 2169.9 L2491.0 2169.9 L2495.1 2169.3 L2499.3 2168.2 L2503.3 2169.2 L2507.3 2169.6 L2511.3 2170.2 L2515.4 2168.7 L2519.4 2169.8 L2523.4 2170.5 L2527.4 2170.4 L2531.7 2169.4 L2535.9 2168.9 L2540.2 2167.8 L2544.4 2166.5 L2548.7 2166.0 L2552.9 2166.3 L2557.2 2165.2 L2561.4 2165.3 L2565.7 2166.0 L2569.9 2164.7 L2574.2 2163.3 L2578.4 2165.4 L2582.5 2165.5 L2586.7 2166.3 L2590.9 2166.6 L2595.0 2166.2 L2599.2 2166.1 L2603.4 2166.1 L2607.5 2165.5 L2611.7 2166.9 L2615.8 2165.7 L2619.9 2163.6 L2624.0 2162.5 L2628.1 2162.1 L2632.1 2161.5 L2636.2 2160.6 L2640.3 2159.9 L2644.4 2160.4 L2648.4 2160.1 L2652.5 2158.5 L2656.5 2159.8 L2660.5 2158.6 L2664.5 2160.2 L2668.6 2160.6 L2672.6 2160.9 L2674.9 2156.8 L2677.3 2151.1 L2679.6 2147.3 L2681.9 2144.8 L2684.3 2141.4 L2686.6 2138.0 L2689.0 2132.1 L2691.3 2128.9 L2696.0 2129.6 L2700.7 2128.7 L2705.3 2128.6 L2710.0 2127.8 L2714.7 2128.6 L2718.7 2128.5 L2722.7 2128.2 L2726.7 2128.2 L2730.8 2129.1 L2734.8 2130.7 L2738.8 2130.9 L2742.8 2131.4 L2746.3 2128.3 L2749.8 2126.3 L2753.4 2122.8 L2756.9 2120.6 L2760.4 2119.9 L2763.9 2116.4 L2767.4 2114.7 L2770.9 2112.4 L2774.4 2109.1 L2778.0 2107.8 L2781.5 2105.9 L2785.0 2104.3 L2789.7 2105.5 L2794.4 2105.5 L2799.0 2105.3 L2803.7 2105.7 L2808.4 2108.3 L2812.7 2109.5 L2816.9 2112.9 L2821.2 2114.6 L2825.6 2114.2 L2829.9 2113.7 L2834.3 2112.7 L2838.7 2112.1 L2842.6 2115.3 L2846.5 2118.0 L2850.4 2120.3 L2854.4 2123.1 L2858.3 2124.7 L2862.2 2126.5 L2866.3 2124.3 L2870.3 2124.3 L2874.4 2123.3 L2878.5 2121.4 L2882.2 2123.3 L2885.9 2125.6 L2889.6 2127.2 L2893.2 2127.6 L2896.9 2130.7 L2900.6 2132.1 L2904.3 2132.7 L2908.2 2131.0 L2912.1 2128.8 L2916.0 2128.1 L2919.9 2126.3 L2923.8 2124.3 L2927.7 2122.1 L2932.4 2122.7 L2937.1 2124.7 L2941.7 2125.6 L2946.4 2126.1 L2951.1 2125.8 L2955.2 2127.5 L2959.3 2127.8 L2963.4 2128.6 L2967.5 2130.3 L2971.6 2130.7 L2975.7 2132.8 L2979.8 2135.5 L2983.9 2137.1 L2987.9 2136.2 L2991.9 2134.0 L2995.9 2133.8 L3000.0 2133.4 L3004.0 2131.6 L3008.0 2130.9 L3012.0 2130.8 L3016.2 2130.3 L3020.4 2128.8 L3024.7 2128.7 L3028.9 2128.5 L3033.1 2125.9 L3037.3 2124.1 L3041.5 2123.6 L3045.8 2122.5 L3050.0 2121.7 L3054.2 2121.9 L3058.1 2124.4 L3062.0 2127.0 L3065.9 2127.7 L3069.8 2128.8 L3073.7 2131.1 L3077.6 2133.2 L3081.5 2134.6 L3085.4 2134.7 L3089.3 2136.3 L3093.2 2138.5 L3097.1 2138.3 L3101.0 2139.7 L3105.7 2139.5 L3110.4 2139.2 L3115.0 2138.9 L3119.7 2139.7 L3124.4 2139.6 L3128.3 2141.0 L3132.2 2143.1 L3136.2 2145.5 L3140.1 2148.7 L3144.0 2149.1 L3147.9 2151.7 L3152.1 2152.4 L3156.2 2153.7 L3160.4 2154.2 L3164.5 2154.0 L3168.7 2153.9 L3172.8 2154.8 L3177.0 2155.4 L3181.1 2156.3 L3185.3 2155.6 L3189.0 2152.3 L3192.7 2150.9 L3196.3 2148.1 L3200.0 2144.1 L3204.6 2144.6 L3209.2 2145.2 L3213.7 2144.9 L3218.3 2144.6 L3223.8 2143.9 L3229.3 2141.2 L3233.6 2142.5 L3237.9 2144.3 L3242.2 2144.3 L3246.4 2146.2 L3250.7 2146.6 L3255.0 2149.2 L3258.7 2152.5 L3262.3 2153.8 L3266.0 2155.0 L3269.6 2157.3 L3273.3 2160.1 L3277.5 2161.0 L3281.7 2161.0 L3285.9 2162.9 L3290.0 2163.4 L3294.2 2163.3 L3298.4 2165.7 L3302.6 2165.3 L3306.7 2167.9 L3310.8 2169.5 L3315.0 2172.3 L3319.1 2174.6 L3323.1 2176.4 L3327.2 2178.0 L3331.2 2177.3 L3335.3 2177.7 L3339.3 2179.3 L3343.6 2181.0 L3347.8 2181.2 L3352.1 2181.9 L3356.4 2181.1 L3360.6 2182.2 L3364.9 2182.0 L3369.0 2182.7 L3373.1 2183.4 L3377.1 2181.5 L3381.2 2182.0 L3385.3 2182.8 L3389.4 2181.7 L3393.4 2183.0 L3397.5 2182.9 L3401.6 2181.7 L3405.7 2182.1 L3409.7 2181.0 L3413.8 2181.9 L3417.9 2181.4 L3421.9 2181.5 L3426.0 2182.1 L3430.1 2181.9 L3434.1 2182.8 L3438.2 2181.4 L3442.4 2180.7 L3446.6 2180.3 L3450.8 2180.7 L3454.9 2179.0 L3459.1 2179.6 L3463.3 2179.4 L3467.5 2178.1 L3473.0 2177.5 L3478.5 2175.5 L3482.5 2177.3 L3486.4 2178.0 L3490.4 2180.2 L3494.4 2182.0 L3498.3 2182.7 L3502.3 2183.3 L3506.2 2185.9 L3510.2 2186.6 L3514.1 2188.0 L3518.0 2187.9 L3521.9 2188.9 L3525.9 2189.5 L3529.8 2189.9 L3534.4 2191.8 L3539.0 2193.9 L3543.1 2194.5 L3547.2 2193.7 L3551.4 2195.4 L3555.5 2195.6 L3559.6 2194.7 L3563.8 2195.0 L3567.9 2195.5 L3572.0 2194.9" stroke="#012907"/>
<path d="M528.3 1882.1 L528.9 1877.1 L529.4 1872.8 L530.0 1868.8 L530.5 1865.1 L531.1 1861.4 L531.6 1858.1 L532.2 1853.3 L532.7 1850.5 L533.3 1845.8 L533.8 1841.6 L534.4 1837.0 L534.9 1833.8 L535.5 1830.3 L536.0 1825.4 L536.6 1822.3 L537.1 1818.2 L537.7 1813.7 L538.2 1809.5 L538.8 1804.9 L539.3 1802.3 L539.9 1799.5 L540.4 1795.3 L541.0 1790.0 L541.5 1785.8 L542.1 1782.7 L542.6 1777.5 L543.2 1774.3 L543.7 1770.7 L544.3 1766.7 L544.8 1761.8 L545.4 1757.3 L545.9 1752.9 L546.5 1750.9 L549.6 1748.4 L552.6 1744.6 L555.7 1741.2 L556.8 1737.5 L557.9 1733.3 L559.0 1728.6 L560.0 1725.1 L561.1 1720.6 L562.2 1717.2 L563.3 1713.0 L564.4 1708.0 L565.5 1704.2 L566.6 1700.3 L567.6 1696.1 L568.7 1692.6 L569.8 1688.3 L570.9 1683.6 L571.5 1680.6 L572.1 1674.8 L572.7 1671.0 L573.3 1667.8 L573.9 1662.4 L574.5 1657.8 L575.1 1655.6 L575.8 1650.7 L576.4 1646.5 L577.0 1643.3 L577.6 1639.3 L578.2 1634.3 L578.8 1631.6 L579.4 1626.3 L580.0 1621.3 L581.4 1617.6 L582.7 1613.6 L584.1 1609.7 L585.4 1606.4 L586.8 1602.6 L588.1 1598.6 L589.5 1595.3 L590.8 1590.0 L592.2 1585.6 L596.8 1588.7 L601.4 1593.2 L602.1 1587.8 L602.8 1583.5 L603.5 1580.8 L604.1 1575.0 L604.8 1572.1 L605.5 1568.8 L606.2 1563.9 L606.9 1559.0 L607.6 1554.1 L608.2 1551.0 L608.9 1547.9 L609.6 1542.6 L610.3 1537.9 L611.0 1533.9 L611.7 1530.9 L612.4 1526.1 L613.0 1522.8 L613.7 1518.4 L614.4 1515.3 L615.1 1510.5 L616.2 1514.8 L617.2 1518.7 L618.3 1522.2 L619.3 1525.8 L620.4 1530.4 L621.4 1535.1 L622.5 1539.2 L623.5 1542.2 L624.6 1546.3 L625.6 1550.0 L626.7 1553.3 L627.7 1558.2 L628.8 1562.0 L629.8 1564.8 L630.8 1570.0 L631.8 1574.1 L632.8 1578.9 L633.8 1582.2 L634.8 1585.0 L635.9 1589.4 L636.9 1594.4 L637.9 1598.4 L638.9 1601.7 L639.9 1605.5 L640.9 1609.7 L641.3 1613.1 L641.7 1619.1 L642.0 1622.3 L642.4 1627.7 L642.8 1630.5 L643.2 1635.9 L643.6 1640.2 L644.0 1642.4 L644.4 1647.8 L644.7 1651.9 L645.1 1656.0 L645.5 1659.1 L645.9 1663.1 L646.3 1666.9 L646.6 1670.3 L647.0 1674.7 L647.4 1678.3 L647.8 1683.5 L648.2 1687.1 L648.6 1692.5 L649.0 1697.2 L649.3 1699.9 L649.7 1702.9 L650.1 1707.9 L654.7 1710.9 L659.2 1714.5 L659.7 1717.4 L660.2 1721.9 L660.6 1725.5 L661.1 1731.1 L661.6 1734.8 L662.1 1738.2 L662.6 1742.1 L663.0 1747.3 L663.5 1750.7 L664.0 1754.7 L664.5 1759.0 L664.9 1762.7 L665.4 1766.0 L665.9 1769.7 L666.4 1773.9 L666.9 1778.6 L667.3 1781.7 L667.8 1785.5 L668.3 1789.3 L669.1 1785.2 L670.0 1781.5 L670.8 1776.8 L671.7 1774.5 L672.5 1771.1 L673.4 1767.4 L674.2 1762.5 L675.1 1757.7 L676.0 1753.0 L676.8 1748.3 L677.6 1745.2 L678.5 1740.8 L679.4 1738.1 L680.2 1733.4 L681.0 1730.4 L681.9 1725.4 L682.8 1721.6 L683.6 1716.3 L685.4 1720.6 L687.2 1723.9 L689.1 1728.5 L690.9 1732.6 L692.7 1737.2 L694.5 1741.0 L696.3 1743.8 L698.2 1747.7 L700.0 1753.4 L701.8 1756.8 L703.5 1760.0 L705.2 1764.5 L706.9 1767.7 L708.6 1771.7 L710.3 1775.2 L712.0 1779.2 L713.7 1782.5 L715.4 1786.2 L717.1 1790.2 L717.5 1795.5 L717.8 1799.0 L718.2 1803.8 L718.5 1807.7 L718.9 1811.1 L719.3 1814.4 L719.6 1820.0 L720.0 1823.3 L720.3 1826.7 L720.7 1830.9 L721.0 1836.1 L721.4 1839.6 L721.8 1843.7 L722.1 1848.5 L722.5 1853.2 L722.8 1856.8 L723.2 1861.2 L724.0 1857.2 L724.7 1852.1 L725.5 1848.7 L726.2 1844.1 L727.0 1840.6 L727.8 1837.0 L728.5 1833.0 L729.3 1829.1 L730.0 1824.5 L730.8 1819.9 L731.5 1816.3 L732.3 1810.7 L735.3 1808.9 L738.4 1806.2 L741.4 1802.3 L744.5 1799.0 L747.5 1796.3 L751.3 1798.2 L755.1 1800.0 L759.0 1802.5 L762.8 1804.6 L766.6 1806.1 L767.9 1810.2 L769.2 1813.4 L770.5 1816.1 L771.8 1819.7 L773.0 1823.4 L774.3 1826.7 L775.6 1832.4 L776.9 1835.8 L778.2 1838.6 L778.9 1842.6 L779.7 1848.4 L780.4 1851.6 L781.1 1854.8 L781.8 1860.4 L782.5 1864.6 L783.3 1869.3 L784.0 1872.3 L784.7 1875.4 L785.5 1879.4 L786.2 1883.8 L786.9 1888.8 L787.6 1892.3 L788.3 1896.3 L789.1 1901.2 L789.8 1904.6 L791.7 1901.0 L793.7 1896.9 L795.6 1893.0 L797.5 1890.4 L799.5 1886.3 L801.4 1884.7 L803.3 1881.9 L805.3 1877.1 L807.2 1874.0 L809.1 1870.6 L811.1 1866.9 L813.0 1863.2 L816.3 1864.9 L819.6 1867.2 L822.9 1870.1 L826.3 1872.5 L829.6 1876.1 L832.9 1878.0 L836.2 1881.0 L837.7 1885.3 L839.2 1888.8 L840.7 1893.3 L842.1 1897.7 L843.6 1902.4 L845.1 1905.9 L846.6 1908.5 L848.1 1911.8 L849.6 1916.4 L851.0 1919.6 L852.5 1923.1 L854.0 1928.8 L855.5 1932.9 L859.4 1935.4 L863.2 1935.4 L867.1 1937.8 L871.0 1940.5 L874.8 1941.4 L878.7 1944.4 L882.5 1947.0 L886.4 1948.0 L890.3 1949.9 L894.1 1951.0 L898.0 1952.1 L901.9 1952.8 L905.7 1953.6 L909.6 1955.9 L911.0 1960.0 L912.4 1962.9 L913.9 1967.0 L915.3 1972.1 L916.7 1975.6 L918.1 1979.3 L919.5 1982.5 L921.0 1986.6 L922.4 1990.5 L923.8 1994.6 L925.2 1997.5 L926.7 2002.0 L928.1 2006.3 L929.5 2008.6 L930.9 2013.6 L932.3 2016.8 L933.8 2020.6 L935.2 2025.3 L936.6 2028.9 L939.5 2031.1 L942.4 2034.1 L945.3 2039.2 L948.2 2043.6 L951.1 2045.3 L954.0 2048.8 L956.9 2051.3 L959.8 2056.4 L963.8 2057.9 L967.8 2059.5 L971.9 2061.4 L975.9 2062.8 L979.9 2064.2 L983.9 2064.5 L987.9 2065.3 L992.0 2067.8 L996.0 2069.0 L1000.0 2070.2 L1002.5 2074.6 L1005.0 2078.5 L1007.5 2083.0 L1010.1 2086.0 L1012.6 2090.4 L1015.1 2094.3 L1017.6 2098.1 L1021.4 2094.8 L1025.1 2091.4 L1028.9 2089.0 L1032.6 2087.1 L1036.4 2085.9 L1040.1 2082.6 L1043.9 2079.9 L1046.8 2083.9 L1049.8 2085.6 L1052.7 2089.6 L1055.6 2092.2 L1058.6 2095.9 L1061.5 2100.2 L1064.4 2101.8 L1067.4 2104.7 L1070.3 2107.5 L1074.3 2107.0 L1078.3 2106.4 L1082.4 2105.8 L1086.4 2104.1 L1090.4 2103.8 L1094.5 2101.8 L1098.5 2101.3 L1102.5 2100.8 L1105.4 2103.2 L1108.4 2105.7 L1111.3 2108.6 L1114.2 2112.5 L1117.1 2115.9 L1120.1 2117.8 L1123.0 2120.1 L1126.9 2121.1 L1130.8 2122.3 L1134.7 2123.4 L1138.6 2125.5 L1142.5 2127.1 L1146.4 2129.0 L1151.1 2128.8 L1155.8 2129.9 L1160.4 2128.9 L1165.1 2129.8 L1169.8 2129.2 L1173.9 2129.0 L1178.0 2130.0 L1182.1 2130.3 L1186.2 2130.9 L1190.3 2132.1 L1193.2 2130.0 L1196.2 2125.8 L1199.1 2123.8 L1202.0 2121.4 L1204.9 2117.1 L1207.9 2114.3 L1210.8 2112.1 L1214.8 2111.6 L1218.8 2110.7 L1222.9 2108.3 L1226.9 2106.8 L1230.9 2105.0 L1235.0 2105.2 L1239.0 2103.8 L1243.0 2101.5 L1246.2 2100.3 L1249.4 2097.7 L1252.6 2095.7 L1255.8 2091.9 L1259.0 2088.1 L1262.1 2086.8 L1265.3 2084.2 L1268.5 2082.3 L1271.7 2078.7 L1274.9 2076.0 L1278.1 2072.6 L1282.8 2072.7 L1287.5 2073.6 L1292.1 2074.6 L1296.8 2074.6 L1301.5 2075.2 L1304.9 2079.3 L1308.3 2082.0 L1311.8 2084.6 L1315.2 2086.6 L1318.6 2088.8 L1322.0 2091.6 L1325.9 2093.0 L1329.8 2094.6 L1333.7 2096.5 L1337.6 2097.5 L1341.5 2098.0 L1345.4 2099.7 L1349.3 2098.0 L1353.2 2095.3 L1357.2 2091.8 L1361.1 2089.3 L1365.0 2087.2 L1368.9 2085.9 L1371.4 2081.2 L1373.9 2078.3 L1376.4 2076.0 L1378.9 2071.0 L1381.4 2068.3 L1383.9 2064.5 L1386.4 2061.9 L1390.3 2062.2 L1394.2 2063.3 L1398.1 2065.4 L1402.0 2067.9 L1405.9 2068.8 L1409.8 2069.8 L1414.0 2068.3 L1418.2 2069.1 L1422.4 2067.0 L1426.5 2067.4 L1430.7 2066.5 L1434.9 2065.5 L1439.1 2065.7 L1442.9 2062.2 L1446.6 2058.8 L1450.4 2056.7 L1454.2 2054.8 L1458.0 2052.6 L1461.7 2048.7 L1465.5 2047.1 L1466.4 2051.8 L1467.3 2054.5 L1468.2 2059.9 L1469.1 2064.6 L1470.0 2067.4 L1470.9 2070.6 L1471.8 2076.0 L1472.8 2078.7 L1473.7 2082.8 L1474.6 2086.8 L1475.5 2090.1 L1476.4 2095.3 L1477.3 2100.0 L1478.2 2103.0 L1479.1 2108.2 L1480.0 2110.7 L1482.9 2114.3 L1485.9 2116.9 L1488.8 2121.0 L1491.7 2124.9 L1494.7 2128.1 L1497.6 2131.1 L1502.0 2131.6 L1506.4 2130.2 L1510.8 2130.0 L1515.1 2130.5 L1519.5 2128.9 L1523.9 2129.8 L1527.6 2127.5 L1531.2 2125.2 L1534.9 2122.9 L1538.6 2119.8 L1542.2 2117.5 L1545.9 2116.6 L1549.5 2114.2 L1553.2 2110.5 L1557.3 2113.7 L1561.4 2114.5 L1565.5 2116.4 L1569.6 2118.5 L1573.7 2119.5 L1576.3 2115.7 L1578.9 2113.8 L1581.5 2110.0 L1584.1 2108.1 L1586.7 2103.5 L1589.3 2100.2 L1591.9 2097.6 L1594.5 2093.1 L1597.1 2090.8 L1601.5 2088.4 L1605.9 2085.7 L1610.3 2084.0 L1614.7 2081.7 L1619.1 2080.1 L1623.5 2079.4 L1627.9 2076.7 L1632.3 2075.6 L1636.7 2073.7 L1641.1 2072.1 L1642.9 2077.9 L1644.8 2082.2 L1646.6 2086.1 L1648.4 2090.0 L1650.2 2094.9 L1652.0 2098.0 L1653.9 2101.3 L1655.7 2106.0 L1660.1 2103.8 L1664.5 2103.5 L1668.9 2100.4 L1673.3 2098.8 L1676.2 2101.8 L1679.2 2104.8 L1682.1 2109.6 L1685.0 2112.7 L1687.9 2116.8 L1690.9 2119.8 L1693.8 2123.6 L1698.2 2123.2 L1702.5 2121.6 L1706.9 2119.7 L1711.3 2119.9 L1714.8 2116.2 L1718.3 2113.1 L1721.9 2111.0 L1725.4 2108.7 L1728.9 2104.9 L1733.3 2101.9 L1737.7 2100.1 L1742.1 2099.5 L1746.5 2097.3 L1749.4 2098.8 L1752.3 2102.7 L1755.3 2106.4 L1758.2 2108.9 L1761.1 2112.7 L1764.9 2113.9 L1768.6 2115.4 L1772.4 2118.4 L1776.2 2120.9 L1780.0 2121.7 L1783.7 2123.9 L1787.5 2126.9 L1789.6 2131.0 L1791.7 2133.1 L1793.8 2136.6 L1795.8 2140.7 L1797.9 2145.4 L1800.0 2148.8 L1802.1 2151.6 L1805.6 2155.5 L1809.1 2159.2 L1812.7 2160.4 L1816.2 2164.4 L1819.7 2168.0 L1821.4 2162.9 L1823.0 2159.2 L1824.7 2155.8 L1826.4 2149.7 L1828.1 2145.1 L1829.7 2142.5 L1831.4 2137.8 L1833.9 2141.9 L1836.4 2143.6 L1838.9 2147.6 L1841.5 2151.0 L1844.0 2154.4 L1846.5 2157.6 L1849.0 2160.0 L1853.1 2162.3 L1857.2 2162.0 L1861.3 2163.1 L1865.4 2164.8 L1869.5 2165.5 L1872.8 2159.9 L1876.0 2157.0 L1879.3 2152.4 L1881.1 2147.2 L1883.0 2144.8 L1884.8 2141.5 L1886.6 2136.0 L1888.4 2132.6 L1890.2 2128.4 L1892.1 2123.8 L1893.9 2120.4 L1898.3 2119.2 L1902.7 2118.9 L1907.1 2120.4 L1911.5 2120.5 L1915.8 2119.6 L1920.2 2118.8 L1924.6 2119.5 L1929.0 2120.3 L1933.4 2120.6 L1937.8 2119.6 L1941.8 2117.4 L1945.8 2117.0 L1949.8 2115.0 L1953.8 2113.5 L1957.8 2113.5 L1961.7 2111.7 L1965.7 2109.9 L1969.7 2109.2 L1973.7 2107.7 L1977.7 2107.5 L1981.7 2106.4 L1986.1 2106.4 L1990.5 2106.4 L1994.9 2106.1 L1999.3 2105.9 L2003.7 2104.8 L2008.0 2105.0 L2012.4 2106.2 L2016.8 2105.6 L2021.2 2106.7 L2025.6 2106.6 L2029.3 2108.4 L2032.9 2111.0 L2036.6 2112.6 L2040.2 2114.7 L2043.9 2117.0 L2047.6 2120.4 L2051.2 2122.4 L2054.9 2126.4 L2058.7 2126.6 L2062.5 2129.2 L2066.3 2131.3 L2070.1 2132.2 L2073.9 2132.4 L2077.8 2133.4 L2081.6 2135.3 L2085.4 2138.1 L2089.2 2139.1 L2093.0 2141.5 L2095.7 2144.1 L2098.3 2146.8 L2101.0 2149.6 L2103.6 2152.1 L2106.3 2155.2 L2108.9 2159.3 L2111.6 2163.3 L2114.2 2167.1 L2116.9 2169.3 L2119.5 2173.5 L2122.2 2175.1 L2126.3 2173.3 L2130.4 2170.1 L2134.5 2167.7 L2138.6 2165.2 L2142.7 2164.0 L2146.6 2164.9 L2150.5 2166.8 L2154.4 2166.1 L2158.4 2168.2 L2162.3 2169.0 L2166.2 2170.3 L2169.7 2167.3 L2173.2 2165.7 L2176.7 2163.6 L2180.2 2160.6 L2183.8 2157.3 L2187.3 2155.8 L2190.8 2154.6 L2194.3 2152.6 L2197.8 2148.4 L2201.3 2145.7 L2205.7 2148.5 L2210.1 2150.5 L2214.4 2150.8 L2218.8 2151.7 L2223.2 2153.2 L2227.6 2155.4 L2232.0 2156.7 L2236.4 2156.9 L2240.8 2158.6 L2245.2 2160.0 L2249.6 2161.6 L2254.0 2163.1 L2257.4 2160.1 L2260.8 2158.0 L2264.2 2156.7 L2267.7 2154.4 L2271.1 2151.1 L2274.5 2148.2 L2276.9 2145.7 L2279.3 2142.8 L2281.7 2138.1 L2284.1 2135.3 L2286.5 2131.8 L2288.8 2127.5 L2291.2 2124.4 L2293.6 2120.7 L2296.0 2117.5 L2298.4 2114.4 L2300.8 2110.1 L2304.5 2111.8 L2308.1 2115.2 L2311.8 2116.6 L2315.4 2120.2 L2319.1 2123.2 L2322.8 2124.2 L2326.4 2126.4 L2330.1 2128.9 L2331.8 2132.7 L2333.4 2136.0 L2335.1 2141.3 L2336.7 2143.9 L2338.3 2148.1 L2340.0 2152.1 L2343.9 2154.0 L2347.8 2157.2 L2351.7 2160.5 L2355.6 2163.4 L2359.5 2166.0 L2363.4 2167.8 L2367.8 2167.0 L2372.2 2169.0 L2376.6 2169.1 L2380.9 2169.5 L2385.3 2171.1 L2389.7 2171.0 L2394.1 2172.0 L2398.5 2174.6 L2402.3 2171.9 L2406.1 2171.2 L2409.9 2170.6 L2413.8 2169.4 L2417.6 2167.3 L2421.4 2165.2 L2425.2 2163.1 L2429.0 2161.9 L2433.1 2163.5 L2437.2 2163.5 L2441.3 2163.3 L2445.4 2163.5 L2449.5 2162.5 L2453.6 2163.2 L2457.7 2163.2 L2461.8 2163.0 L2466.0 2163.6 L2470.1 2163.9 L2474.3 2164.5 L2478.5 2164.1 L2482.6 2164.0 L2486.8 2163.1 L2491.0 2164.1 L2495.1 2164.0 L2499.3 2165.0 L2503.3 2163.5 L2507.3 2163.4 L2511.3 2163.1 L2515.4 2165.1 L2519.4 2165.1 L2523.4 2165.3 L2527.4 2165.7 L2531.7 2164.4 L2535.9 2163.2 L2540.2 2163.3 L2544.4 2163.2 L2548.7 2162.4 L2552.9 2160.9 L2557.2 2160.1 L2561.4 2160.2 L2565.7 2160.5 L2569.9 2160.3 L2574.2 2160.1 L2578.4 2159.6 L2582.5 2159.3 L2586.7 2160.4 L2590.9 2160.5 L2595.0 2160.9 L2599.2 2160.6 L2603.4 2162.3 L2607.5 2161.2 L2611.7 2161.2 L2615.8 2161.2 L2619.9 2159.8 L2624.0 2159.0 L2628.1 2159.5 L2632.1 2158.6 L2636.2 2157.4 L2640.3 2156.0 L2644.4 2154.4 L2648.4 2155.2 L2652.5 2154.7 L2656.5 2156.0 L2660.5 2155.4 L2664.5 2154.2 L2668.6 2154.5 L2672.6 2154.5 L2674.9 2151.7 L2677.3 2147.8 L2679.6 2143.0 L2681.9 2138.5 L2684.3 2135.6 L2686.6 2131.4 L2689.0 2128.2 L2691.3 2124.9 L2696.0 2125.7 L2700.7 2124.5 L2705.3 2125.4 L2710.0 2125.6 L2714.7 2125.2 L2718.7 2124.1 L2722.7 2125.6 L2726.7 2125.1 L2730.8 2125.5 L2734.8 2127.1 L2738.8 2127.8 L2742.8 2128.6 L2746.3 2126.0 L2749.8 2123.9 L2753.4 2119.5 L2756.9 2117.9 L2760.4 2115.8 L2763.9 2112.6 L2767.4 2110.0 L2770.9 2108.7 L2774.4 2106.8 L2778.0 2102.8 L2781.5 2101.8 L2785.0 2098.9 L2789.7 2099.7 L2794.4 2100.4 L2799.0 2102.3 L2803.7 2103.9 L2808.4 2104.7 L2812.7 2106.7 L2816.9 2108.9 L2821.2 2109.7 L2825.6 2109.7 L2829.9 2110.0 L2834.3 2109.5 L2838.7 2108.6 L2842.6 2110.8 L2846.5 2112.5 L2850.4 2115.3 L2854.4 2116.6 L2858.3 2119.0 L2862.2 2121.5 L2866.3 2121.4 L2870.3 2121.2 L2874.4 2118.7 L2878.5 2117.8 L2882.2 2118.2 L2885.9 2120.0 L2889.6 2123.0 L2893.2 2125.3 L2896.9 2125.9 L2900.6 2128.6 L2904.3 2128.6 L2908.2 2127.2 L2912.1 2125.1 L2916.0 2124.2 L2919.9 2121.2 L2923.8 2119.8 L2927.7 2117.2 L2932.4 2119.1 L2937.1 2120.7 L2941.7 2120.4 L2946.4 2121.1 L2951.1 2121.4 L2955.2 2123.2 L2959.3 2124.3 L2963.4 2124.6 L2967.5 2125.9 L2971.6 2127.2 L2975.7 2129.3 L2979.8 2131.0 L2983.9 2131.4 L2987.9 2130.0 L2991.9 2130.4 L2995.9 2129.3 L3000.0 2128.8 L3004.0 2127.1 L3008.0 2126.4 L3012.0 2126.2 L3016.2 2124.8 L3020.4 2123.7 L3024.7 2123.7 L3028.9 2124.1 L3033.1 2122.2 L3037.3 2121.7 L3041.5 2120.3 L3045.8 2120.5 L3050.0 2118.8 L3054.2 2118.8 L3058.1 2120.9 L3062.0 2122.4 L3065.9 2122.8 L3069.8 2124.7 L3073.7 2126.5 L3077.6 2129.1 L3081.5 2130.9 L3085.4 2131.1 L3089.3 2132.7 L3093.2 2135.1 L3097.1 2136.5 L3101.0 2137.6 L3105.7 2137.3 L3110.4 2137.2 L3115.0 2136.4 L3119.7 2135.8 L3124.4 2136.0 L3128.3 2138.6 L3132.2 2140.5 L3136.2 2143.0 L3140.1 2144.6 L3144.0 2147.0 L3147.9 2148.1 L3152.1 2149.4 L3156.2 2149.0 L3160.4 2149.4 L3164.5 2150.2 L3168.7 2150.9 L3172.8 2151.1 L3177.0 2152.4 L3181.1 2153.0 L3185.3 2152.3 L3189.0 2148.9 L3192.7 2146.7 L3196.3 2144.1 L3200.0 2140.5 L3204.6 2141.3 L3209.2 2141.0 L3213.7 2140.0 L3218.3 2139.9 L3223.8 2139.0 L3229.3 2136.6 L3233.6 2139.2 L3237.9 2140.6 L3242.2 2140.9 L3246.4 2142.3 L3250.7 2143.5 L3255.0 2143.8 L3258.7 2146.3 L3262.3 2150.0 L3266.0 2151.2 L3269.6 2154.6 L3273.3 2157.1 L3277.5 2156.4 L3281.7 2158.4 L3285.9 2158.5 L3290.0 2159.4 L3294.2 2159.8 L3298.4 2161.5 L3302.6 2162.2 L3306.7 2163.2 L3310.8 2165.1 L3315.0 2168.3 L3319.1 2170.3 L3323.1 2170.7 L3327.2 2171.9 L3331.2 2172.9 L3335.3 2175.2 L3339.3 2176.3 L3343.6 2177.7 L3347.8 2177.2 L3352.1 2176.6 L3356.4 2177.9 L3360.6 2178.5 L3364.9 2178.9 L3369.0 2177.9 L3373.1 2178.5 L3377.1 2177.6 L3381.2 2178.5 L3385.3 2179.1 L3389.4 2178.7 L3393.4 2178.0 L3397.5 2177.4 L3401.6 2176.8 L3405.7 2176.5 L3409.7 2178.1 L3413.8 2178.2 L3417.9 2179.1 L3421.9 2178.4 L3426.0 2178.9 L3430.1 2177.3 L3434.1 2177.0 L3438.2 2177.1 L3442.4 2177.6 L3446.6 2176.0 L3450.8 2175.5 L3454.9 2174.8 L3459.1 2175.1 L3463.3 2175.7 L3467.5 2175.1 L3473.0 2173.3 L3478.5 2171.8 L3482.5 2172.8 L3486.4 2175.1 L3490.4 2175.7 L3494.4 2176.8 L3498.3 2179.3 L3502.3 2180.1 L3506.2 2180.6 L3510.2 2181.8 L3514.1 2182.3 L3518.0 2183.7 L3521.9 2184.4 L3525.9 2186.6 L3529.8 2187.7 L3534.4 2188.8 L3539.0 2191.3 L3543.1 2190.9 L3547.2 2191.5 L3551.4 2190.4 L3555.5 2190.8 L3559.6 2190.2 L3563.8 2191.7 L3567.9 2191.2 L3572.0 2190.9" stroke="#012907"/>
<path d="M524.8 1814.5 L534.7 1817.3 L540.3 1777.9 L557.2 1763.9 L564.2 1733.0 L574.0 1702.0 L585.3 1690.8 L596.5 1688.0 L603.5 1629.0 L614.8 1617.7 L627.4 1629.0 L633.0 1713.3 L644.3 1716.0 L652.7 1733.0 L655.5 1803.2 L672.4 1811.6 L683.6 1808.8 L697.7 1828.5 L706.1 1837.0 L711.7 1873.5 L723.0 1884.7 L734.2 1845.4 L753.9 1831.3 L775.0 1831.3 L775.0 1901.6 L756.7 1910.0 L739.8 1960.0 L706.1 1960.0 L697.7 1912.8 L680.8 1893.2 L664.0 1896.0 L655.5 1879.1 L635.9 1867.8 L630.2 1777.9 L616.2 1761.0 L610.6 1780.7 L590.9 1783.5 L582.5 1800.4 L571.2 1823.0 L560.0 1837.0 L551.5 1924.0 L540.3 1935.3 L529.0 1926.9 L524.8 1912.8Z" fill="#5e8867" stroke="none"/>
<path d="M760.0 1825.4 L772.6 1831.7 L785.3 1854.8 L791.6 1909.6 L802.1 1888.6 L814.8 1878.0 L829.5 1892.8 L844.3 1924.4 L859.0 1930.7 L878.0 1930.7 L890.6 1945.4 L907.5 1953.9 L928.6 1970.7 L945.4 1975.0 L958.0 1991.8 L970.7 2010.8 L987.6 2025.5 L1000.2 2029.7 L1020.0 2031.8 L1020.0 2080.0 L987.6 2074.0 L966.5 2061.3 L953.8 2048.7 L939.1 2029.7 L924.3 2025.5 L915.9 2002.3 L903.3 1996.0 L886.4 1989.7 L869.6 1985.5 L848.5 1987.6 L835.9 1981.3 L827.4 1951.8 L814.8 1943.4 L802.1 1962.3 L787.4 1968.6 L772.6 1951.8 L764.2 1930.7 L760.0 1905.4Z" fill="#5e8867" stroke="none"/>
<path d="M2000.0 1863.4 L2003.5 1889.7 L2012.3 1919.6 L2026.3 1919.6 L2035.1 1903.8 L2047.4 1910.8 L2056.2 1931.9 L2063.2 1938.9 L2073.8 1928.4 L2084.3 1910.8 L2103.6 1903.8 L2115.9 1916.0 L2123.0 1938.9 L2133.5 1960.0 L2145.8 1961.7 L2154.6 1970.5 L2161.6 2000.0 L2114.2 2000.0 L2112.4 1988.0 L2103.6 1975.8 L2098.4 1960.0 L2087.8 1965.2 L2080.8 1979.3 L2059.7 1982.8 L2031.6 1979.3 L2014.0 1967.0 L2000.0 1963.5Z" fill="#5e8867" stroke="none"/>
<path d="M1872.5 2000.0 L1873.9 1907.6 L1885.1 1899.1 L1896.4 1909.0 L1897.8 1928.7 L1914.7 1947.0 L1920.3 1910.4 L1940.0 1900.5 L1951.2 1890.7 L1959.6 1864.0 L1969.5 1858.4 L1979.3 1864.0 L1989.1 1858.4 L2000.4 1869.6 L2003.2 1892.1 L2010.2 1900.5 L2014.4 1920.2 L2025.7 1920.2 L2036.9 1902.0 L2046.8 1907.6 L2050.0 1914.6 L2050.0 1977.8 L2032.7 1977.8 L2014.4 1968.0 L1997.6 1963.8 L1990.5 1939.9 L1986.3 1924.4 L1973.7 1924.4 L1969.5 1942.7 L1966.7 1980.7 L1954.0 1990.5 L1941.4 1984.9 L1937.1 1970.8 L1931.5 1987.7 L1927.3 2000.0Z" fill="#5e8867" stroke="none"/>
<path d="M525.2 1815.5 L525.8 1819.6 L526.4 1824.9 L527.0 1829.1 L527.6 1831.4 L528.1 1836.7 L528.7 1841.1 L529.3 1844.4 L529.9 1849.2 L530.5 1853.5 L531.1 1857.2 L531.7 1860.6 L532.3 1865.2 L532.9 1868.3 L533.4 1872.8 L534.0 1877.2 L534.6 1880.4 L535.2 1883.9 L535.8 1889.2 L536.4 1894.3 L537.0 1898.4 L537.6 1900.9 L538.1 1906.4 L538.7 1909.0 L539.3 1913.3 L539.9 1917.5 L540.5 1922.7 L540.9 1918.7 L541.3 1913.2 L541.7 1910.2 L542.1 1906.6 L542.6 1902.8 L543.0 1897.9 L543.4 1894.4 L543.8 1890.9 L544.2 1885.6 L544.6 1881.4 L545.0 1878.8 L545.4 1875.2 L545.8 1869.8 L546.3 1865.4 L546.7 1861.9 L547.1 1857.7 L547.5 1853.0 L547.9 1848.9 L548.3 1845.5 L548.7 1841.4 L549.1 1838.1 L549.5 1832.6 L549.9 1828.2 L550.4 1826.1 L550.8 1822.7 L551.2 1817.4 L551.6 1813.9 L552.0 1809.1 L552.4 1805.1 L552.8 1802.0 L553.2 1798.1 L553.6 1794.3 L554.1 1788.9 L554.5 1784.2 L554.9 1779.9 L555.3 1775.5 L555.7 1773.2 L557.6 1775.9 L559.5 1779.7 L561.4 1783.3 L563.3 1787.9 L565.2 1791.4 L567.1 1796.1 L569.0 1798.6 L570.9 1802.9 L571.3 1800.0 L571.6 1796.3 L572.0 1791.3 L572.4 1788.3 L572.7 1784.2 L573.1 1780.8 L573.4 1775.2 L573.8 1772.0 L574.2 1768.0 L574.5 1764.4 L574.9 1759.1 L575.3 1755.6 L575.6 1750.6 L576.0 1746.5 L576.4 1742.9 L576.7 1737.9 L577.1 1734.3 L577.5 1731.7 L577.8 1728.3 L578.2 1724.7 L578.5 1720.7 L578.9 1715.3 L579.3 1711.1 L579.6 1705.8 L580.0 1703.0 L584.1 1699.3 L588.1 1696.6 L592.2 1693.1 L592.7 1697.3 L593.2 1702.8 L593.7 1707.3 L594.2 1711.1 L594.8 1713.7 L595.3 1717.6 L595.8 1722.7 L596.3 1726.2 L596.8 1730.2 L597.3 1733.6 L597.8 1738.0 L598.3 1741.5 L598.8 1745.3 L599.4 1751.2 L599.9 1754.8 L600.4 1759.2 L600.9 1762.7 L601.4 1766.0 L601.8 1761.4 L602.2 1758.7 L602.6 1754.5 L603.0 1749.5 L603.4 1745.5 L603.7 1743.4 L604.1 1739.1 L604.5 1735.3 L604.9 1730.0 L605.3 1727.2 L605.7 1723.1 L606.1 1718.1 L606.5 1713.8 L606.9 1711.6 L607.3 1708.3 L607.7 1703.6 L608.1 1698.7 L608.4 1694.5 L608.8 1691.8 L609.2 1686.2 L609.6 1682.3 L610.0 1677.9 L610.4 1675.3 L610.8 1670.4 L611.2 1667.4 L611.6 1662.4 L612.0 1657.6 L612.4 1655.5 L612.8 1650.3 L613.1 1645.7 L613.5 1642.1 L613.9 1637.8 L614.3 1634.9 L614.7 1630.5 L615.1 1626.3 L616.9 1631.0 L618.6 1635.7 L620.4 1638.8 L622.2 1642.5 L623.9 1647.0 L625.7 1651.8 L626.2 1655.6 L626.7 1660.1 L627.1 1663.3 L627.6 1667.6 L628.1 1672.4 L628.6 1675.4 L629.1 1680.0 L629.5 1684.4 L630.0 1688.7 L630.5 1690.6 L631.0 1694.2 L631.4 1698.2 L631.9 1703.8 L632.4 1707.7 L632.9 1712.6 L633.4 1714.8 L633.8 1720.2 L634.3 1724.5 L634.8 1727.1 L635.1 1730.5 L635.4 1735.5 L635.7 1740.5 L635.9 1745.1 L636.2 1749.5 L636.5 1751.8 L636.8 1756.6 L637.1 1760.5 L637.4 1764.6 L637.7 1769.6 L638.0 1774.0 L638.2 1776.7 L638.5 1781.1 L638.8 1784.5 L639.1 1788.9 L639.4 1791.7 L639.7 1795.7 L640.0 1800.5 L640.3 1805.3 L640.5 1808.8 L640.8 1813.3 L641.1 1817.9 L641.4 1821.5 L641.7 1824.3 L642.0 1829.4 L642.3 1834.8 L642.6 1837.0 L642.9 1840.8 L643.1 1844.8 L643.4 1849.1 L643.7 1853.4 L644.0 1857.4 L647.0 1859.9 L650.1 1864.0 L653.1 1866.0 L656.2 1870.1 L659.2 1873.5 L659.9 1869.3 L660.6 1865.1 L661.3 1862.0 L662.0 1857.8 L662.7 1853.0 L663.4 1848.3 L664.1 1843.9 L664.8 1840.6 L665.5 1836.4 L666.2 1831.2 L666.9 1828.0 L667.6 1824.1 L668.3 1818.0 L672.1 1820.3 L676.0 1822.5 L679.8 1824.4 L683.6 1827.6 L686.1 1830.3 L688.7 1835.0 L691.2 1839.6 L693.7 1843.5 L696.3 1845.8 L698.8 1848.0 L700.0 1853.1 L701.1 1857.2 L702.3 1862.1 L703.5 1864.3 L704.6 1868.2 L705.8 1872.3 L707.0 1876.2 L708.2 1881.5 L709.3 1885.9 L710.5 1888.9 L711.7 1893.8 L712.8 1898.1 L714.0 1901.2 L715.7 1904.2 L717.4 1909.1 L719.1 1912.9 L720.8 1917.9 L722.4 1922.2 L724.1 1926.8 L725.8 1929.2 L727.5 1933.3 L729.2 1936.2 L730.0 1932.7 L730.7 1927.9 L731.5 1925.4 L732.2 1920.5 L733.0 1917.1 L733.8 1913.7 L734.5 1908.9 L735.3 1904.6 L736.1 1901.1 L736.8 1898.3 L737.6 1894.5 L738.4 1890.5 L739.1 1886.2 L739.9 1881.5 L740.6 1876.9 L741.4 1872.9 L743.5 1869.6 L745.7 1867.2 L747.8 1862.1 L750.0 1860.0 L752.1 1855.8 L754.2 1852.1 L756.4 1848.6 L758.5 1844.6 L760.7 1841.9 L762.8 1837.5 L763.5 1842.7 L764.1 1845.8 L764.8 1850.0 L765.5 1852.8 L766.1 1857.7 L766.8 1862.2 L767.5 1865.5 L768.2 1869.6 L768.8 1872.9 L769.5 1876.5 L770.2 1882.4 L770.8 1887.1 L771.5 1891.6 L772.2 1895.0 L772.8 1899.1 L773.5 1903.3 L774.2 1906.7 L774.9 1910.5 L775.5 1915.1 L776.2 1918.1 L776.9 1922.1 L777.5 1926.6 L778.2 1931.4 L781.0 1933.2 L783.7 1936.8 L786.5 1940.2 L789.2 1944.1 L792.0 1946.0 L794.7 1951.0 L797.5 1953.5 L798.7 1949.0 L799.9 1945.1 L801.1 1941.7 L802.3 1938.9 L803.5 1935.5 L804.7 1931.6 L805.9 1927.0 L807.1 1923.6 L808.4 1918.8 L809.6 1914.1 L810.8 1909.8 L812.0 1906.2 L813.2 1902.1 L814.4 1898.4 L815.6 1895.4 L816.8 1892.1 L818.7 1894.8 L820.7 1898.1 L822.6 1902.9 L824.6 1906.4 L826.5 1909.5 L828.4 1914.1 L830.4 1918.0 L832.3 1921.1 L834.3 1925.4 L836.2 1929.0 L837.3 1933.7 L838.3 1938.2 L839.4 1943.8 L840.4 1946.3 L841.5 1951.4 L842.5 1955.4 L843.6 1958.6 L844.6 1964.4 L845.7 1967.5 L846.7 1972.3 L847.8 1976.7 L849.9 1972.3 L852.0 1970.5 L854.1 1965.4 L856.2 1962.2 L858.3 1959.3 L860.4 1956.1 L862.5 1951.4 L864.6 1947.5 L866.7 1945.3 L868.8 1940.6 L870.9 1937.1 L872.8 1940.7 L874.8 1945.8 L876.7 1949.7 L878.6 1952.9 L880.6 1957.8 L882.5 1960.7 L884.5 1965.8 L886.4 1969.7 L889.7 1971.7 L893.0 1974.3 L896.3 1976.0 L899.7 1979.5 L903.0 1983.7 L906.3 1984.8 L909.6 1988.2 L914.0 1987.2 L918.3 1986.6 L922.6 1986.2 L927.0 1986.8 L931.4 1987.0 L935.7 1986.3 L940.0 1984.2 L944.4 1983.9 L946.0 1988.2 L947.5 1993.2 L949.1 1996.5 L950.6 2001.0 L952.2 2004.5 L953.8 2007.6 L955.3 2012.5 L956.9 2015.6 L958.4 2020.3 L960.0 2023.9 L962.8 2026.3 L965.6 2028.6 L968.4 2033.3 L971.2 2036.0 L974.1 2038.2 L976.9 2041.0 L979.7 2043.6 L982.5 2046.3 L985.3 2049.1 L989.5 2051.2 L993.7 2051.8 L998.0 2052.8 L1002.2 2053.6 L1006.4 2052.9 L1010.6 2054.5 L1014.0 2055.2 L1017.3 2056.8 L1020.7 2057.8 L1024.0 2059.4 L1027.4 2059.9 L1031.6 2055.7 L1035.8 2051.5 L1040.0 2047.2 L1044.8 2047.9 L1049.5 2046.1 L1054.2 2045.7 L1059.0 2044.2 L1062.2 2047.9 L1065.3 2051.0 L1068.5 2053.8 L1071.7 2057.1 L1074.8 2061.5 L1078.0 2065.4 L1081.4 2063.4 L1084.8 2060.9 L1088.1 2058.0 L1091.5 2056.0 L1094.9 2053.5 L1099.1 2054.6 L1103.3 2053.6 L1107.5 2053.7 L1110.7 2056.3 L1113.8 2059.4 L1117.0 2063.9 L1120.2 2067.4 L1123.3 2068.3 L1126.5 2071.2 L1129.6 2073.0 L1132.8 2076.4 L1136.5 2078.5 L1140.2 2079.7 L1143.9 2081.5 L1147.5 2082.6 L1151.2 2084.4 L1154.9 2085.4 L1158.6 2088.0 L1162.3 2090.3 L1165.5 2094.0 L1168.6 2095.8 L1171.8 2099.1 L1174.9 2100.4 L1178.1 2102.8 L1181.3 2106.9 L1184.4 2110.4 L1187.6 2112.3 L1190.8 2109.0 L1193.9 2106.7 L1197.0 2103.4 L1200.2 2100.5 L1203.3 2098.6 L1206.5 2095.1 L1209.6 2092.8 L1212.8 2089.6 L1216.5 2086.9 L1220.2 2086.3 L1223.9 2083.1 L1227.5 2080.2 L1231.2 2079.5 L1234.9 2077.7 L1238.6 2073.7 L1242.3 2072.3 L1246.5 2071.6 L1250.8 2071.5 L1255.0 2072.4 L1259.2 2074.5 L1262.6 2077.5 L1265.9 2079.7 L1269.3 2082.7 L1272.6 2085.5 L1276.0 2088.0 L1279.8 2090.7 L1283.5 2092.6 L1287.3 2093.2 L1291.0 2094.6 L1294.8 2097.0 L1298.5 2098.1 L1302.3 2100.0 L1306.0 2100.9 L1309.8 2103.5 L1313.6 2104.3 L1317.4 2105.8 L1321.1 2108.3 L1324.9 2109.9 L1328.7 2110.4 L1333.2 2110.9 L1337.8 2112.1 L1342.3 2112.9 L1346.9 2113.4 L1351.5 2114.7 L1356.0 2115.0 L1358.3 2111.0 L1360.6 2107.9 L1362.9 2103.2 L1365.2 2100.5 L1367.5 2097.3 L1369.9 2092.8 L1372.2 2089.8 L1374.5 2086.8 L1376.8 2082.8 L1379.1 2080.0 L1381.4 2076.9 L1385.6 2077.0 L1389.8 2078.6 L1394.0 2080.2 L1397.7 2082.4 L1401.4 2084.6 L1405.1 2086.5 L1408.9 2088.5 L1412.6 2090.2 L1416.3 2093.7 L1420.0 2095.3 L1423.1 2092.9 L1426.3 2090.3 L1429.4 2087.0 L1432.6 2084.4 L1435.7 2080.4 L1438.9 2077.5 L1442.0 2074.8 L1444.3 2070.6 L1446.7 2066.9 L1449.0 2064.8 L1451.4 2060.9 L1453.8 2057.8 L1456.1 2054.9 L1458.5 2051.5 L1460.8 2048.6 L1463.2 2045.7 L1465.5 2040.9 L1468.4 2044.7 L1471.3 2047.7 L1474.2 2049.8 L1477.1 2054.6 L1480.0 2057.6 L1481.6 2062.2 L1483.2 2066.5 L1484.8 2069.9 L1486.4 2072.9 L1488.0 2076.7 L1489.6 2082.2 L1491.2 2086.1 L1492.8 2090.9 L1494.4 2093.9 L1496.0 2097.1 L1497.6 2101.5 L1500.5 2098.3 L1503.5 2096.3 L1506.4 2091.9 L1509.3 2088.7 L1512.2 2085.7 L1515.2 2081.4 L1518.1 2079.5 L1522.2 2076.3 L1526.3 2075.2 L1530.4 2071.4 L1534.5 2069.4 L1538.6 2066.5 L1540.3 2064.1 L1542.1 2059.7 L1543.8 2056.3 L1545.6 2053.1 L1547.3 2049.8 L1549.1 2044.6 L1550.8 2040.7 L1552.6 2036.0 L1554.3 2033.8 L1556.1 2030.6 L1557.6 2032.8 L1559.0 2036.1 L1560.5 2040.0 L1561.9 2043.7 L1563.4 2048.6 L1564.9 2052.7 L1566.3 2056.0 L1567.8 2061.3 L1571.7 2057.8 L1575.7 2054.4 L1579.6 2052.8 L1581.3 2047.9 L1583.1 2044.3 L1584.8 2041.0 L1586.6 2036.8 L1588.3 2032.3 L1590.1 2030.3 L1591.8 2027.3 L1593.6 2021.6 L1595.3 2016.9 L1597.1 2014.6 L1601.2 2015.1 L1605.3 2015.8 L1609.4 2015.6 L1613.5 2013.9 L1617.6 2015.3 L1621.0 2013.1 L1624.3 2010.8 L1627.7 2007.6 L1631.0 2005.0 L1634.4 2001.3 L1637.7 1999.0 L1641.1 1997.1 L1643.5 2000.2 L1646.0 2005.5 L1648.4 2009.1 L1650.8 2013.6 L1653.3 2017.9 L1655.7 2020.1 L1659.2 2018.4 L1662.7 2015.7 L1666.3 2012.9 L1669.8 2009.5 L1673.3 2006.0 L1675.2 2009.4 L1677.2 2013.8 L1679.2 2018.1 L1681.1 2022.1 L1683.0 2025.9 L1685.0 2028.7 L1688.5 2030.4 L1692.0 2032.6 L1695.5 2034.8 L1699.0 2037.9 L1702.5 2039.7 L1706.9 2041.0 L1711.3 2042.7 L1715.7 2045.3 L1720.1 2046.3 L1724.5 2047.7 L1728.9 2049.8 L1733.3 2051.8 L1737.7 2052.3 L1740.6 2055.7 L1743.5 2059.8 L1746.5 2063.4 L1749.4 2066.8 L1752.3 2070.0 L1756.4 2069.7 L1760.5 2071.4 L1764.6 2071.9 L1768.7 2071.5 L1772.8 2072.1 L1776.6 2070.4 L1780.3 2068.3 L1784.1 2066.1 L1787.9 2063.4 L1791.7 2060.1 L1795.4 2059.0 L1799.2 2055.8 L1801.7 2058.2 L1804.2 2062.6 L1806.7 2066.6 L1809.2 2068.5 L1811.7 2073.2 L1814.2 2075.5 L1816.7 2078.7 L1821.4 2079.4 L1826.1 2078.4 L1830.8 2078.5 L1835.5 2077.3 L1840.2 2075.9 L1844.3 2078.5 L1848.4 2079.7 L1852.5 2082.4 L1856.6 2085.8 L1860.7 2088.5 L1861.2 2082.8 L1861.6 2080.5 L1862.1 2075.7 L1862.5 2071.4 L1863.0 2067.4 L1863.4 2062.5 L1863.9 2058.8 L1864.4 2054.2 L1864.8 2052.0 L1865.3 2047.5 L1865.7 2042.8 L1866.2 2038.7 L1866.6 2035.1 L1867.1 2030.0 L1867.6 2027.6 L1868.0 2022.5 L1868.5 2017.7 L1868.9 2014.8 L1869.4 2011.9 L1869.8 2007.8 L1870.3 2004.1 L1870.8 1998.9 L1871.2 1993.9 L1871.7 1991.0 L1872.1 1985.7 L1872.6 1981.4 L1873.1 1977.5 L1873.5 1973.5 L1874.0 1970.5 L1874.4 1966.4 L1874.9 1961.9 L1875.3 1958.8 L1875.8 1954.6 L1876.3 1951.3 L1876.7 1947.3 L1877.2 1942.6 L1877.6 1938.8 L1878.1 1934.9 L1878.5 1929.9 L1879.0 1927.0 L1879.5 1923.0 L1879.9 1918.9 L1880.4 1913.1 L1880.8 1910.6 L1881.3 1906.0 L1881.7 1901.3 L1882.2 1897.8 L1883.5 1901.9 L1884.8 1904.9 L1886.1 1908.1 L1887.5 1913.1 L1888.8 1916.1 L1890.1 1921.0 L1891.4 1923.8 L1892.7 1927.0 L1894.0 1930.3 L1895.3 1935.2 L1896.7 1940.4 L1898.0 1942.8 L1899.3 1946.7 L1900.6 1951.9 L1901.9 1956.1 L1903.2 1958.4 L1904.6 1962.8 L1905.9 1965.5 L1907.2 1969.8 L1908.5 1973.4 L1909.9 1970.5 L1911.2 1967.2 L1912.6 1962.8 L1914.0 1957.7 L1915.3 1955.0 L1916.7 1950.9 L1918.1 1946.8 L1919.4 1943.6 L1920.8 1938.1 L1922.2 1933.8 L1923.5 1930.1 L1924.9 1925.9 L1926.3 1922.1 L1927.6 1918.8 L1929.0 1915.5 L1931.0 1918.4 L1933.1 1921.4 L1935.1 1924.7 L1937.1 1930.0 L1939.2 1932.3 L1941.2 1936.3 L1943.2 1941.1 L1945.2 1944.6 L1947.3 1947.0 L1949.3 1950.8 L1951.3 1953.5 L1953.4 1958.3 L1955.4 1961.0 L1956.3 1956.8 L1957.2 1953.6 L1958.1 1949.4 L1959.0 1946.0 L1959.9 1942.8 L1960.7 1938.1 L1961.6 1934.7 L1962.5 1930.5 L1963.4 1925.5 L1964.3 1921.2 L1965.2 1917.1 L1966.1 1914.3 L1967.0 1908.4 L1967.9 1904.1 L1968.8 1901.6 L1969.7 1897.7 L1970.6 1893.2 L1971.4 1888.1 L1972.3 1883.3 L1973.2 1880.8 L1974.1 1876.6 L1975.0 1871.4 L1975.9 1868.7 L1980.8 1866.8 L1985.6 1865.6 L1990.5 1862.3 L1991.6 1867.1 L1992.8 1869.5 L1993.9 1874.1 L1995.1 1878.6 L1996.2 1881.2 L1997.3 1884.5 L1998.5 1890.0 L1999.6 1894.9 L2000.8 1898.2 L2001.9 1901.7 L2003.0 1904.9 L2004.2 1908.4 L2005.3 1912.0 L2006.4 1915.7 L2007.6 1921.4 L2008.7 1925.5 L2009.9 1929.4 L2011.0 1932.1 L2014.8 1929.3 L2018.5 1928.0 L2022.3 1924.3 L2026.1 1921.2 L2029.9 1919.6 L2033.6 1917.2 L2037.4 1915.6 L2039.5 1918.4 L2041.7 1922.1 L2043.8 1927.2 L2045.9 1930.4 L2048.0 1934.0 L2050.2 1937.4 L2052.3 1942.1 L2054.4 1945.6 L2056.5 1949.0 L2058.7 1952.8 L2060.8 1956.1 L2063.5 1952.1 L2066.3 1949.1 L2069.0 1946.0 L2071.7 1944.2 L2074.5 1941.8 L2077.2 1937.9 L2079.9 1935.3 L2082.7 1932.3 L2085.4 1929.3 L2088.1 1925.2 L2090.9 1922.8 L2093.6 1919.9 L2096.3 1915.9 L2099.1 1912.4 L2101.8 1910.3 L2102.9 1914.4 L2104.1 1918.6 L2105.2 1921.9 L2106.4 1926.3 L2107.5 1929.5 L2108.7 1933.9 L2109.8 1937.0 L2110.9 1941.7 L2112.1 1946.3 L2113.2 1948.2 L2114.4 1953.4 L2115.5 1956.4 L2116.7 1959.7 L2117.8 1965.3 L2119.0 1968.4 L2120.1 1972.4 L2121.2 1975.4 L2122.4 1979.9 L2123.5 1984.2 L2124.7 1987.5 L2125.8 1992.9 L2127.0 1996.2 L2128.1 2000.0 L2130.6 1997.1 L2133.1 1992.1 L2135.6 1988.1 L2138.2 1984.4 L2140.7 1981.1 L2143.2 1976.3 L2145.7 1972.4 L2146.7 1976.5 L2147.6 1981.3 L2148.6 1985.2 L2149.6 1990.0 L2150.6 1994.0 L2151.5 1996.3 L2152.5 1999.7 L2153.5 2005.5 L2154.5 2010.2 L2155.4 2014.3 L2156.4 2017.0 L2157.4 2020.1 L2158.4 2024.0 L2159.3 2027.9 L2160.3 2032.2 L2161.3 2035.1 L2162.3 2038.5 L2163.2 2043.4 L2164.2 2047.7 L2165.2 2051.7 L2166.2 2056.5 L2167.1 2059.1 L2168.1 2063.3 L2169.1 2066.6 L2170.1 2070.6 L2171.0 2074.4 L2172.0 2079.6 L2174.9 2075.3 L2177.9 2074.0 L2180.8 2070.2 L2183.7 2067.0 L2186.7 2063.9 L2189.6 2060.3 L2192.5 2057.6 L2195.4 2054.7 L2198.4 2052.3 L2201.3 2050.4 L2205.5 2049.9 L2209.7 2048.1 L2213.9 2048.4 L2218.0 2046.0 L2222.2 2045.6 L2226.4 2044.5 L2230.6 2043.1 L2232.7 2046.0 L2234.9 2050.1 L2237.0 2054.4 L2239.1 2057.9 L2241.2 2060.8 L2243.4 2064.4 L2245.5 2067.1 L2247.6 2072.2 L2249.7 2075.9 L2251.9 2079.7 L2254.0 2082.8 L2254.5 2078.1 L2255.0 2074.7 L2255.5 2070.3 L2256.0 2067.1 L2256.4 2063.6 L2256.9 2059.8 L2257.4 2055.5 L2257.9 2050.1 L2258.4 2046.5 L2258.9 2043.4 L2259.4 2038.0 L2259.9 2034.0 L2260.3 2029.3 L2260.8 2025.9 L2261.3 2022.7 L2261.8 2018.0 L2262.3 2015.1 L2262.8 2011.2 L2263.3 2007.6 L2263.8 2003.1 L2264.2 1999.1 L2264.7 1994.6 L2265.2 1990.1 L2265.7 1987.0 L2266.2 1983.1 L2266.7 1979.6 L2267.2 1975.0 L2267.7 1969.8 L2268.2 1966.2 L2268.6 1962.6 L2269.1 1959.3 L2269.6 1954.2 L2270.1 1951.5 L2270.6 1946.1 L2271.1 1943.4 L2271.6 1938.0 L2272.1 1934.1 L2272.5 1931.8 L2273.0 1927.0 L2273.5 1922.1 L2274.0 1919.6 L2274.5 1916.4 L2277.8 1918.5 L2281.2 1920.3 L2284.5 1923.6 L2287.9 1925.0 L2291.2 1927.0 L2294.6 1928.8 L2297.9 1933.4 L2300.0 1936.4 L2302.0 1940.3 L2304.1 1943.9 L2306.1 1947.1 L2308.2 1951.4 L2310.2 1955.5 L2312.2 1960.0 L2314.3 1962.4 L2316.3 1967.1 L2318.4 1970.7 L2319.5 1974.4 L2320.6 1979.4 L2321.7 1982.5 L2322.8 1987.9 L2323.9 1991.8 L2325.0 1995.5 L2326.1 1998.1 L2327.2 2001.6 L2328.2 2006.7 L2329.3 2011.4 L2330.4 2015.1 L2331.5 2019.2 L2332.6 2023.3 L2333.7 2027.6 L2334.8 2030.9 L2335.9 2034.2 L2340.0 2028.3 L2342.3 2033.7 L2344.7 2036.7 L2347.1 2041.5 L2349.4 2045.6 L2351.8 2050.0 L2354.1 2052.5 L2356.9 2055.4 L2359.7 2059.6 L2362.5 2063.1 L2365.3 2067.2 L2368.1 2070.1 L2371.6 2068.5 L2375.1 2066.4 L2378.7 2065.5 L2382.2 2062.7 L2384.5 2064.8 L2386.9 2069.4 L2389.2 2072.8 L2391.5 2075.6 L2393.8 2078.4 L2396.2 2080.9 L2398.5 2085.9 L2402.6 2082.9 L2406.7 2081.7 L2410.8 2079.7 L2414.9 2075.8 L2417.6 2079.0 L2420.3 2082.0 L2423.0 2085.4 L2425.6 2088.4 L2428.3 2090.4 L2431.0 2095.0 L2433.7 2096.5 L2437.7 2095.9 L2441.7 2096.4 L2445.7 2097.0 L2449.8 2096.7 L2453.8 2095.3 L2457.8 2095.7 L2461.8 2095.6 L2464.5 2099.4 L2467.1 2103.0 L2469.8 2105.8 L2472.5 2109.0 L2475.2 2112.9 L2477.8 2115.5 L2480.5 2118.4 L2485.2 2118.1 L2489.9 2118.2 L2494.6 2118.4 L2499.3 2121.0 L2502.4 2117.7 L2505.5 2116.3 L2508.7 2112.7 L2511.8 2110.6 L2514.9 2108.8 L2518.0 2106.2 L2521.2 2102.8 L2524.3 2100.3 L2527.4 2097.9 L2530.5 2100.6 L2533.6 2102.2 L2536.8 2105.7 L2539.9 2108.1 L2543.0 2111.4 L2546.1 2113.2 L2550.8 2112.7 L2555.5 2112.4 L2560.1 2111.5 L2564.8 2111.2 L2569.5 2110.0 L2574.2 2111.9 L2578.9 2111.0 L2583.5 2111.8 L2588.2 2112.7 L2592.9 2111.9 L2597.6 2112.4 L2602.3 2113.7 L2607.0 2114.0 L2611.7 2114.9 L2614.0 2112.9 L2616.4 2109.7 L2618.7 2105.9 L2621.1 2102.3 L2623.4 2097.6 L2625.7 2092.6 L2628.1 2089.6 L2630.4 2084.7 L2634.7 2085.4 L2639.0 2085.2 L2643.3 2085.2 L2647.6 2083.5 L2651.9 2083.9 L2656.2 2084.3 L2659.7 2082.8 L2663.2 2080.9 L2666.7 2078.1 L2670.2 2076.5 L2673.7 2073.1 L2677.2 2070.4 L2679.9 2068.4 L2682.6 2063.5 L2685.3 2059.6 L2687.9 2056.7 L2690.6 2053.7 L2693.3 2049.9 L2696.0 2045.8 L2699.7 2047.5 L2703.5 2051.4 L2707.2 2053.0 L2711.0 2056.3 L2714.7 2056.9 L2716.1 2053.7 L2717.6 2049.1 L2719.0 2044.6 L2720.5 2040.2 L2721.9 2036.4 L2723.3 2033.7 L2724.8 2030.3 L2726.2 2024.9 L2727.6 2020.7 L2729.1 2017.5 L2730.5 2014.8 L2732.0 2009.2 L2733.4 2005.4 L2737.2 2004.9 L2740.9 2001.8 L2744.7 2000.4 L2748.4 1999.2 L2752.2 1996.2 L2753.7 1992.7 L2755.1 1989.6 L2756.6 1985.7 L2758.1 1980.2 L2759.5 1977.0 L2761.0 1972.1 L2762.4 1968.0 L2763.9 1963.0 L2764.8 1968.4 L2765.7 1972.2 L2766.6 1975.7 L2767.5 1980.0 L2768.4 1984.9 L2769.3 1988.1 L2770.2 1991.4 L2771.1 1995.3 L2772.0 1999.3 L2772.9 2004.3 L2773.8 2008.6 L2774.7 2012.3 L2775.6 2016.3 L2776.7 2012.7 L2777.8 2008.1 L2778.8 2004.3 L2779.9 1999.2 L2781.0 1995.9 L2782.1 1991.6 L2783.1 1988.7 L2784.2 1984.9 L2785.3 1980.7 L2786.4 1976.2 L2787.4 1971.2 L2788.5 1968.2 L2789.6 1963.6 L2792.9 1966.1 L2796.2 1968.1 L2799.4 1972.2 L2802.7 1974.6 L2806.0 1976.9 L2809.0 1974.0 L2812.1 1972.7 L2815.1 1969.7 L2818.2 1965.9 L2821.2 1964.4 L2824.4 1960.2 L2827.6 1956.7 L2830.9 1953.8 L2834.1 1949.2 L2836.4 1952.9 L2838.8 1956.9 L2841.1 1961.1 L2843.4 1964.6 L2845.8 1968.6 L2848.1 1973.8 L2849.0 1976.6 L2850.0 1981.0 L2850.9 1985.4 L2851.9 1990.4 L2852.8 1995.3 L2853.7 1998.9 L2854.7 2002.9 L2855.6 2006.8 L2856.6 2012.2 L2857.5 2015.7 L2860.6 2012.8 L2863.7 2008.4 L2866.8 2005.5 L2870.0 2002.9 L2873.1 2000.2 L2876.2 1997.6 L2878.3 2000.8 L2880.4 2005.1 L2882.4 2008.3 L2884.5 2010.6 L2886.6 2014.1 L2888.7 2018.1 L2890.7 2022.5 L2892.8 2026.3 L2894.9 2029.7 L2898.4 2025.7 L2901.9 2023.1 L2905.5 2019.3 L2909.0 2014.6 L2913.7 2017.2 L2918.3 2018.1 L2923.0 2018.0 L2927.7 2019.5 L2932.4 2021.0 L2937.1 2022.9 L2941.8 2023.3 L2946.5 2025.6 L2951.2 2023.5 L2955.8 2021.5 L2960.5 2017.2 L2963.2 2021.2 L2965.9 2025.5 L2968.6 2028.7 L2971.2 2032.1 L2973.9 2036.7 L2976.6 2040.4 L2979.3 2043.0 L2984.0 2042.4 L2988.7 2042.4 L2993.3 2041.6 L2998.0 2039.2 L3002.7 2039.5 L3007.3 2041.4 L3012.0 2042.7 L3016.7 2044.1 L3020.5 2042.2 L3024.2 2039.2 L3028.0 2036.4 L3031.7 2032.4 L3035.5 2030.6 L3037.8 2027.0 L3040.2 2023.0 L3042.5 2017.6 L3044.8 2014.5 L3047.2 2011.4 L3049.5 2007.4 L3053.0 2009.7 L3056.6 2010.3 L3060.1 2012.5 L3063.6 2015.0 L3065.6 2019.5 L3067.6 2024.4 L3069.6 2027.4 L3071.6 2032.2 L3073.6 2035.7 L3075.6 2038.9 L3077.6 2043.1 L3081.5 2044.7 L3085.4 2046.5 L3089.3 2048.2 L3093.2 2050.8 L3097.1 2052.2 L3101.0 2052.7 L3104.9 2054.9 L3108.8 2055.6 L3112.7 2057.7 L3116.6 2060.0 L3120.5 2062.1 L3124.4 2063.9 L3127.1 2065.6 L3129.8 2068.5 L3132.5 2072.8 L3135.1 2076.0 L3137.8 2079.1 L3140.5 2083.4 L3143.2 2086.7 L3147.3 2083.0 L3151.4 2082.1 L3155.5 2080.3 L3159.6 2075.9 L3163.8 2077.2 L3168.0 2080.7 L3172.3 2083.1 L3176.5 2084.6 L3180.7 2086.4 L3183.0 2082.5 L3185.4 2079.1 L3187.7 2075.9 L3190.1 2073.3 L3192.4 2068.3 L3194.7 2065.7 L3197.1 2061.1 L3199.4 2058.6 L3199.7 2064.1 L3200.0 2070.1 L3203.7 2071.3 L3207.3 2071.9 L3211.0 2074.2 L3214.6 2077.0 L3218.3 2078.3 L3222.9 2077.7 L3227.4 2074.7 L3232.0 2074.0 L3236.6 2071.5 L3241.2 2073.7 L3245.8 2074.2 L3250.4 2075.4 L3255.0 2077.6 L3257.9 2082.0 L3260.8 2085.6 L3263.8 2090.1 L3266.7 2094.3 L3269.6 2098.3 L3273.3 2096.1 L3276.9 2092.1 L3280.6 2088.9 L3284.3 2088.0 L3288.0 2090.4 L3291.6 2090.3 L3295.3 2091.5 L3298.9 2093.2 L3302.6 2095.7 L3306.9 2096.1 L3311.2 2097.1 L3315.4 2099.9 L3319.7 2101.5 L3324.0 2100.9 L3328.3 2101.5 L3332.9 2104.4 L3337.4 2106.6 L3342.0 2107.1 L3346.6 2109.5 L3351.2 2108.2 L3355.8 2106.4 L3360.3 2105.3 L3364.9 2102.4 L3368.1 2097.4 L3371.3 2095.3 L3374.5 2092.0 L3377.7 2086.8 L3380.6 2090.8 L3383.6 2094.7 L3386.5 2098.9 L3389.5 2102.2 L3392.4 2106.8 L3395.4 2107.9 L3398.5 2112.0 L3401.6 2113.1 L3404.6 2115.7 L3407.6 2118.4 L3410.7 2121.0 L3415.0 2122.8 L3419.2 2122.9 L3423.5 2123.0 L3427.2 2127.4 L3430.8 2129.2 L3434.5 2131.4 L3438.2 2134.3 L3443.0 2133.5 L3447.7 2134.2 L3452.5 2132.9 L3457.2 2134.1 L3462.0 2134.5 L3466.4 2135.2 L3470.8 2137.1 L3475.2 2139.3 L3479.6 2141.5 L3484.0 2142.7 L3487.9 2143.8 L3491.9 2145.7 L3495.8 2146.2 L3499.7 2146.9 L3503.6 2146.9 L3507.6 2149.2 L3511.5 2149.3 L3515.4 2151.1 L3519.4 2151.3 L3523.3 2152.2 L3527.2 2153.9 L3531.1 2153.9 L3535.1 2155.9 L3539.0 2157.9 L3543.6 2158.1 L3548.2 2160.9 L3552.7 2162.9 L3557.3 2164.4 L3562.2 2165.6 L3567.1 2164.4 L3572.0 2164.4" stroke="#5e8867"/>
<path d="M525.2 1819.9 L525.8 1824.5 L526.4 1827.3 L527.0 1831.3 L527.6 1834.9 L528.1 1838.6 L528.7 1844.4 L529.3 1849.1 L529.9 1851.7 L530.5 1856.3 L531.1 1861.0 L531.7 1863.9 L532.3 1869.1 L532.9 1873.7 L533.4 1878.1 L534.0 1880.9 L534.6 1884.9 L535.2 1890.0 L535.8 1893.3 L536.4 1898.0 L537.0 1902.2 L537.6 1906.6 L538.1 1909.2 L538.7 1914.6 L539.3 1917.8 L539.9 1922.1 L540.5 1925.5 L540.9 1923.1 L541.3 1917.7 L541.7 1914.6 L542.1 1910.6 L542.6 1906.0 L543.0 1901.8 L543.4 1898.5 L543.8 1894.6 L544.2 1889.4 L544.6 1885.9 L545.0 1881.8 L545.4 1878.4 L545.8 1873.7 L546.3 1868.9 L546.7 1864.7 L547.1 1861.6 L547.5 1858.2 L547.9 1852.8 L548.3 1850.4 L548.7 1846.8 L549.1 1840.9 L549.5 1836.4 L549.9 1832.1 L550.4 1828.1 L550.8 1825.3 L551.2 1821.5 L551.6 1817.4 L552.0 1814.5 L552.4 1809.0 L552.8 1804.0 L553.2 1799.6 L553.6 1795.4 L554.1 1792.0 L554.5 1788.8 L554.9 1785.7 L555.3 1780.7 L555.7 1776.1 L557.6 1780.4 L559.5 1783.5 L561.4 1788.3 L563.3 1792.3 L565.2 1795.0 L567.1 1799.8 L569.0 1804.8 L570.9 1807.4 L571.3 1803.3 L571.6 1799.1 L572.0 1794.9 L572.4 1791.8 L572.7 1787.9 L573.1 1782.8 L573.4 1779.6 L573.8 1774.5 L574.2 1770.2 L574.5 1766.2 L574.9 1763.3 L575.3 1760.0 L575.6 1755.1 L576.0 1751.7 L576.4 1746.3 L576.7 1743.0 L577.1 1738.0 L577.5 1734.7 L577.8 1731.7 L578.2 1726.6 L578.5 1722.6 L578.9 1719.6 L579.3 1715.4 L579.6 1709.9 L580.0 1706.1 L584.1 1703.1 L588.1 1699.6 L592.2 1696.1 L592.7 1700.5 L593.2 1706.3 L593.7 1710.8 L594.2 1715.4 L594.8 1719.0 L595.3 1722.3 L595.8 1727.3 L596.3 1729.7 L596.8 1733.4 L597.3 1737.8 L597.8 1742.7 L598.3 1746.8 L598.8 1750.5 L599.4 1753.8 L599.9 1758.1 L600.4 1761.9 L600.9 1765.7 L601.4 1770.9 L601.8 1766.4 L602.2 1762.7 L602.6 1757.9 L603.0 1755.5 L603.4 1750.2 L603.7 1746.5 L604.1 1742.7 L604.5 1739.8 L604.9 1735.5 L605.3 1730.3 L605.7 1727.0 L606.1 1723.6 L606.5 1719.8 L606.9 1715.0 L607.3 1711.3 L607.7 1706.3 L608.1 1701.6 L608.4 1697.4 L608.8 1693.8 L609.2 1690.0 L609.6 1687.4 L610.0 1683.3 L610.4 1678.0 L610.8 1674.4 L611.2 1670.0 L611.6 1665.4 L612.0 1662.1 L612.4 1659.3 L612.8 1654.9 L613.1 1651.4 L613.5 1646.4 L613.9 1642.1 L614.3 1638.9 L614.7 1634.8 L615.1 1631.5 L616.9 1635.6 L618.6 1640.4 L620.4 1644.5 L622.2 1647.5 L623.9 1650.6 L625.7 1654.0 L626.2 1659.8 L626.7 1663.1 L627.1 1667.1 L627.6 1671.3 L628.1 1675.5 L628.6 1678.9 L629.1 1682.4 L629.5 1686.7 L630.0 1691.7 L630.5 1695.1 L631.0 1699.3 L631.4 1702.9 L631.9 1707.8 L632.4 1712.7 L632.9 1715.1 L633.4 1718.8 L633.8 1723.4 L634.3 1727.3 L634.8 1731.3 L635.1 1736.2 L635.4 1739.5 L635.7 1744.3 L635.9 1748.2 L636.2 1752.0 L636.5 1756.7 L636.8 1760.3 L637.1 1765.0 L637.4 1767.4 L637.7 1771.5 L638.0 1777.0 L638.2 1781.0 L638.5 1783.9 L638.8 1787.9 L639.1 1792.0 L639.4 1795.9 L639.7 1801.2 L640.0 1806.1 L640.3 1810.3 L640.5 1814.7 L640.8 1816.8 L641.1 1821.6 L641.4 1825.3 L641.7 1829.0 L642.0 1833.4 L642.3 1837.1 L642.6 1842.0 L642.9 1845.8 L643.1 1849.2 L643.4 1853.9 L643.7 1857.1 L644.0 1861.9 L647.0 1865.8 L650.1 1868.3 L653.1 1870.2 L656.2 1873.0 L659.2 1876.6 L659.9 1872.1 L660.6 1868.6 L661.3 1865.5 L662.0 1860.8 L662.7 1855.7 L663.4 1851.1 L664.1 1847.3 L664.8 1844.1 L665.5 1840.7 L666.2 1835.3 L666.9 1830.0 L667.6 1826.0 L668.3 1823.0 L672.1 1825.4 L676.0 1826.8 L679.8 1830.5 L683.6 1831.7 L686.1 1835.5 L688.7 1838.5 L691.2 1842.5 L693.7 1847.0 L696.3 1851.1 L698.8 1853.8 L700.0 1857.1 L701.1 1860.4 L702.3 1863.7 L703.5 1867.6 L704.6 1872.3 L705.8 1877.3 L707.0 1881.6 L708.2 1884.7 L709.3 1890.0 L710.5 1894.4 L711.7 1898.5 L712.8 1901.3 L714.0 1904.2 L715.7 1909.8 L717.4 1913.4 L719.1 1917.7 L720.8 1922.3 L722.4 1925.0 L724.1 1928.9 L725.8 1932.5 L727.5 1936.1 L729.2 1940.9 L730.0 1937.7 L730.7 1933.0 L731.5 1930.0 L732.2 1924.6 L733.0 1920.3 L733.8 1918.1 L734.5 1913.9 L735.3 1910.0 L736.1 1906.3 L736.8 1901.1 L737.6 1896.2 L738.4 1892.5 L739.1 1889.2 L739.9 1884.5 L740.6 1881.1 L741.4 1877.4 L743.5 1873.5 L745.7 1871.1 L747.8 1868.0 L750.0 1863.6 L752.1 1859.2 L754.2 1855.4 L756.4 1851.1 L758.5 1848.9 L760.7 1844.5 L762.8 1841.0 L763.5 1846.1 L764.1 1850.9 L764.8 1854.0 L765.5 1857.8 L766.1 1862.7 L766.8 1866.5 L767.5 1869.3 L768.2 1873.1 L768.8 1877.5 L769.5 1882.4 L770.2 1886.6 L770.8 1890.6 L771.5 1895.0 L772.2 1899.1 L772.8 1901.9 L773.5 1905.2 L774.2 1908.9 L774.9 1913.0 L775.5 1918.1 L776.2 1922.5 L776.9 1926.6 L777.5 1929.9 L778.2 1933.8 L781.0 1938.1 L783.7 1940.2 L786.5 1945.1 L789.2 1948.2 L792.0 1950.3 L794.7 1953.6 L797.5 1957.0 L798.7 1953.0 L799.9 1949.2 L801.1 1945.8 L802.3 1942.8 L803.5 1938.3 L804.7 1935.4 L805.9 1931.3 L807.1 1926.6 L808.4 1922.1 L809.6 1919.5 L810.8 1916.4 L812.0 1911.5 L813.2 1907.5 L814.4 1903.2 L815.6 1898.9 L816.8 1894.6 L818.7 1900.2 L820.7 1904.5 L822.6 1907.3 L824.6 1911.2 L826.5 1915.2 L828.4 1917.8 L830.4 1923.2 L832.3 1928.0 L834.3 1930.8 L836.2 1933.3 L837.3 1937.9 L838.3 1941.7 L839.4 1946.6 L840.4 1950.6 L841.5 1956.0 L842.5 1959.8 L843.6 1963.8 L844.6 1968.8 L845.7 1972.8 L846.7 1977.1 L847.8 1981.1 L849.9 1976.5 L852.0 1972.2 L854.1 1969.9 L856.2 1967.2 L858.3 1963.5 L860.4 1960.2 L862.5 1955.6 L864.6 1952.9 L866.7 1950.0 L868.8 1946.2 L870.9 1941.2 L872.8 1944.8 L874.8 1949.5 L876.7 1953.8 L878.6 1958.3 L880.6 1962.2 L882.5 1965.8 L884.5 1969.5 L886.4 1973.6 L889.7 1976.5 L893.0 1978.8 L896.3 1980.5 L899.7 1984.7 L903.0 1986.5 L906.3 1990.5 L909.6 1992.0 L914.0 1992.9 L918.3 1991.2 L922.6 1991.0 L927.0 1989.3 L931.4 1989.6 L935.7 1989.8 L940.0 1987.9 L944.4 1987.2 L946.0 1991.5 L947.5 1995.4 L949.1 1999.7 L950.6 2003.5 L952.2 2006.9 L953.8 2011.6 L955.3 2016.5 L956.9 2020.1 L958.4 2023.6 L960.0 2028.1 L962.8 2031.6 L965.6 2034.2 L968.4 2037.2 L971.2 2040.7 L974.1 2044.1 L976.9 2046.7 L979.7 2049.3 L982.5 2051.6 L985.3 2055.2 L989.5 2056.2 L993.7 2055.8 L998.0 2058.3 L1002.2 2059.6 L1006.4 2062.3 L1010.6 2065.7 L1014.0 2068.1 L1017.3 2070.3 L1020.7 2073.1 L1024.0 2077.8 L1027.4 2080.2 L1031.6 2079.3 L1035.8 2077.8 L1040.0 2074.9 L1044.8 2075.5 L1049.5 2075.2 L1054.2 2074.6 L1059.0 2074.5 L1062.2 2077.6 L1065.3 2079.6 L1068.5 2083.9 L1071.7 2085.8 L1074.8 2088.0 L1078.0 2091.3 L1081.4 2089.5 L1084.8 2087.7 L1088.1 2086.0 L1091.5 2082.6 L1094.9 2079.7 L1099.1 2082.1 L1103.3 2083.6 L1107.5 2082.8 L1110.7 2085.3 L1113.8 2087.2 L1117.0 2089.8 L1120.2 2094.5 L1123.3 2097.1 L1126.5 2099.0 L1129.6 2101.3 L1132.8 2105.2 L1136.5 2107.5 L1140.2 2108.1 L1143.9 2110.8 L1147.5 2112.8 L1151.2 2114.2 L1154.9 2114.6 L1158.6 2115.3 L1162.3 2116.5 L1165.5 2121.2 L1168.6 2124.0 L1171.8 2125.6 L1174.9 2129.7 L1178.1 2132.9 L1181.3 2134.7 L1184.4 2136.7 L1187.6 2140.6 L1190.8 2138.8 L1193.9 2136.1 L1197.0 2134.1 L1200.2 2130.3 L1203.3 2128.0 L1206.5 2123.6 L1209.6 2121.7 L1212.8 2118.8 L1216.5 2116.1 L1220.2 2113.1 L1223.9 2112.4 L1227.5 2110.7 L1231.2 2106.5 L1234.9 2105.4 L1238.6 2102.4 L1242.3 2099.1 L1246.5 2100.2 L1250.8 2100.4 L1255.0 2100.5 L1259.2 2101.1 L1262.6 2104.4 L1265.9 2106.7 L1269.3 2110.0 L1272.6 2113.5 L1276.0 2116.7 L1279.8 2118.6 L1283.5 2119.9 L1287.3 2122.5 L1291.0 2122.7 L1294.8 2125.4 L1298.5 2126.7 L1302.3 2127.7 L1306.0 2128.5 L1309.8 2130.7 L1313.6 2133.2 L1317.4 2134.4 L1321.1 2136.3 L1324.9 2138.1 L1328.7 2139.2 L1333.2 2139.2 L1337.8 2139.6 L1342.3 2140.5 L1346.9 2142.0 L1351.5 2141.8 L1356.0 2143.0 L1358.3 2138.6 L1360.6 2135.0 L1362.9 2130.8 L1365.2 2128.3 L1367.5 2124.5 L1369.9 2120.8 L1372.2 2118.2 L1374.5 2114.5 L1376.8 2110.3 L1379.1 2106.3 L1381.4 2104.0 L1385.6 2105.6 L1389.8 2106.7 L1394.0 2107.5 L1397.7 2110.4 L1401.4 2113.0 L1405.1 2115.9 L1408.9 2118.0 L1412.6 2119.0 L1416.3 2121.1 L1420.0 2122.7 L1423.1 2120.7 L1426.3 2116.8 L1429.4 2113.9 L1432.6 2109.6 L1435.7 2107.6 L1438.9 2105.0 L1442.0 2100.7 L1444.3 2096.5 L1446.7 2092.1 L1449.0 2090.1 L1451.4 2087.0 L1453.8 2082.2 L1456.1 2078.0 L1458.5 2074.1 L1460.8 2070.5 L1463.2 2067.8 L1465.5 2064.9 L1468.4 2066.2 L1471.3 2069.1 L1474.2 2072.7 L1477.1 2074.5 L1480.0 2076.4 L1481.6 2080.3 L1483.2 2085.8 L1484.8 2088.7 L1486.4 2092.2 L1488.0 2096.5 L1489.6 2099.6 L1491.2 2104.7 L1492.8 2107.6 L1494.4 2113.4 L1496.0 2116.2 L1497.6 2119.6 L1500.5 2117.6 L1503.5 2114.2 L1506.4 2110.9 L1509.3 2107.4 L1512.2 2103.0 L1515.2 2100.7 L1518.1 2096.3 L1522.2 2093.5 L1526.3 2092.9 L1530.4 2089.8 L1534.5 2088.6 L1538.6 2085.0 L1540.3 2082.3 L1542.1 2077.9 L1543.8 2074.0 L1545.6 2068.9 L1547.3 2065.3 L1549.1 2061.4 L1550.8 2057.1 L1552.6 2054.5 L1554.3 2050.2 L1556.1 2045.9 L1557.6 2049.8 L1559.0 2054.4 L1560.5 2058.5 L1561.9 2063.6 L1563.4 2068.2 L1564.9 2071.8 L1566.3 2075.5 L1567.8 2079.9 L1571.7 2077.4 L1575.7 2072.7 L1579.6 2070.8 L1581.3 2066.0 L1583.1 2061.8 L1584.8 2059.0 L1586.6 2056.4 L1588.3 2051.4 L1590.1 2046.9 L1591.8 2044.7 L1593.6 2040.6 L1595.3 2035.4 L1597.1 2031.7 L1601.2 2031.4 L1605.3 2031.1 L1609.4 2032.8 L1613.5 2032.0 L1617.6 2032.7 L1621.0 2030.0 L1624.3 2028.3 L1627.7 2025.3 L1631.0 2023.6 L1634.4 2020.9 L1637.7 2018.3 L1641.1 2016.1 L1643.5 2019.5 L1646.0 2024.1 L1648.4 2027.5 L1650.8 2031.8 L1653.3 2034.7 L1655.7 2039.0 L1659.2 2035.0 L1662.7 2031.2 L1666.3 2029.1 L1669.8 2025.3 L1673.3 2023.0 L1675.2 2027.9 L1677.2 2032.0 L1679.2 2034.7 L1681.1 2039.0 L1683.0 2043.7 L1685.0 2046.5 L1688.5 2050.3 L1692.0 2051.2 L1695.5 2053.3 L1699.0 2055.7 L1702.5 2058.0 L1706.9 2059.5 L1711.3 2060.9 L1715.7 2063.8 L1720.1 2065.0 L1724.5 2067.2 L1728.9 2068.8 L1733.3 2069.9 L1737.7 2070.0 L1740.6 2074.3 L1743.5 2076.4 L1746.5 2080.7 L1749.4 2084.3 L1752.3 2089.1 L1756.4 2088.3 L1760.5 2088.4 L1764.6 2088.4 L1768.7 2089.7 L1772.8 2089.7 L1776.6 2089.0 L1780.3 2085.4 L1784.1 2082.7 L1787.9 2081.3 L1791.7 2077.8 L1795.4 2075.7 L1799.2 2072.9 L1801.7 2077.2 L1804.2 2079.5 L1806.7 2082.3 L1809.2 2086.7 L1811.7 2090.8 L1814.2 2093.4 L1816.7 2097.5 L1821.4 2096.7 L1826.1 2096.6 L1830.8 2096.0 L1835.5 2094.6 L1840.2 2093.2 L1844.3 2095.0 L1848.4 2097.7 L1852.5 2100.0 L1856.6 2103.3 L1860.7 2104.9 L1861.2 2101.7 L1861.6 2097.4 L1862.1 2092.5 L1862.5 2087.8 L1863.0 2084.5 L1863.4 2081.9 L1863.9 2077.7 L1864.4 2072.3 L1864.8 2067.9 L1865.3 2063.9 L1865.7 2060.4 L1866.2 2055.7 L1866.6 2052.3 L1867.1 2047.4 L1867.6 2043.4 L1868.0 2040.0 L1868.5 2035.7 L1868.9 2033.4 L1869.4 2029.4 L1869.8 2024.9 L1870.3 2021.5 L1870.8 2017.1 L1871.2 2013.4 L1871.7 2008.0 L1872.1 2003.7 L1872.6 1998.9 L1873.1 1996.6 L1873.5 1992.5 L1874.0 1988.4 L1874.4 1983.5 L1874.9 1979.0 L1875.3 1975.2 L1875.8 1971.6 L1876.3 1967.0 L1876.7 1962.9 L1877.2 1958.8 L1877.6 1954.9 L1878.1 1951.2 L1878.5 1948.3 L1879.0 1945.1 L1879.5 1940.8 L1879.9 1935.5 L1880.4 1931.4 L1880.8 1927.3 L1881.3 1924.5 L1881.7 1920.2 L1882.2 1916.0 L1883.5 1918.6 L1884.8 1922.3 L1886.1 1927.6 L1887.5 1930.6 L1888.8 1935.2 L1890.1 1938.4 L1891.4 1942.9 L1892.7 1945.5 L1894.0 1948.8 L1895.3 1952.7 L1896.7 1956.3 L1898.0 1959.5 L1899.3 1965.3 L1900.6 1969.5 L1901.9 1972.1 L1903.2 1975.0 L1904.6 1979.3 L1905.9 1984.6 L1907.2 1989.0 L1908.5 1991.2 L1909.9 1988.0 L1911.2 1984.5 L1912.6 1980.0 L1914.0 1976.4 L1915.3 1971.3 L1916.7 1968.3 L1918.1 1964.3 L1919.4 1959.6 L1920.8 1955.0 L1922.2 1951.5 L1923.5 1949.2 L1924.9 1945.1 L1926.3 1940.6 L1927.6 1936.7 L1929.0 1931.6 L1931.0 1935.9 L1933.1 1939.6 L1935.1 1942.6 L1937.1 1947.7 L1939.2 1951.4 L1941.2 1955.0 L1943.2 1958.1 L1945.2 1961.5 L1947.3 1966.3 L1949.3 1968.9 L1951.3 1971.6 L1953.4 1975.3 L1955.4 1978.6 L1956.3 1975.3 L1957.2 1970.7 L1958.1 1967.5 L1959.0 1962.4 L1959.9 1958.6 L1960.7 1955.3 L1961.6 1951.8 L1962.5 1948.0 L1963.4 1942.7 L1964.3 1937.7 L1965.2 1935.2 L1966.1 1930.4 L1967.0 1925.9 L1967.9 1922.2 L1968.8 1918.2 L1969.7 1913.6 L1970.6 1909.1 L1971.4 1905.5 L1972.3 1902.1 L1973.2 1898.1 L1974.1 1895.1 L1975.0 1890.9 L1975.9 1885.4 L1980.8 1882.8 L1985.6 1881.5 L1990.5 1879.5 L1991.6 1882.6 L1992.8 1886.7 L1993.9 1892.3 L1995.1 1895.0 L1996.2 1900.4 L1997.3 1904.8 L1998.5 1908.1 L1999.6 1910.4 L2000.8 1914.0 L2001.9 1918.4 L2003.0 1922.1 L2004.2 1926.9 L2005.3 1929.9 L2006.4 1935.0 L2007.6 1939.5 L2008.7 1941.8 L2009.9 1944.9 L2011.0 1950.3 L2014.8 1947.7 L2018.5 1945.5 L2022.3 1943.8 L2026.1 1939.5 L2029.9 1938.2 L2033.6 1934.6 L2037.4 1932.8 L2039.5 1936.0 L2041.7 1940.8 L2043.8 1944.5 L2045.9 1948.6 L2048.0 1951.1 L2050.2 1955.3 L2052.3 1958.3 L2054.4 1961.5 L2056.5 1965.7 L2058.7 1970.6 L2060.8 1975.0 L2063.5 1970.2 L2066.3 1967.9 L2069.0 1963.4 L2071.7 1960.3 L2074.5 1957.8 L2077.2 1953.8 L2079.9 1951.6 L2082.7 1947.6 L2085.4 1946.2 L2088.1 1941.6 L2090.9 1939.5 L2093.6 1936.6 L2096.3 1933.9 L2099.1 1929.8 L2101.8 1927.1 L2102.9 1931.8 L2104.1 1934.0 L2105.2 1937.6 L2106.4 1942.4 L2107.5 1947.2 L2108.7 1951.7 L2109.8 1954.8 L2110.9 1959.5 L2112.1 1962.2 L2113.2 1965.2 L2114.4 1969.9 L2115.5 1974.3 L2116.7 1977.0 L2117.8 1980.8 L2119.0 1984.8 L2120.1 1989.4 L2121.2 1993.1 L2122.4 1997.2 L2123.5 2000.7 L2124.7 2005.6 L2125.8 2009.9 L2127.0 2013.3 L2128.1 2017.2 L2130.6 2014.3 L2133.1 2009.4 L2135.6 2005.4 L2138.2 2001.3 L2140.7 1999.2 L2143.2 1994.5 L2145.7 1990.5 L2146.7 1995.9 L2147.6 1999.3 L2148.6 2003.1 L2149.6 2008.0 L2150.6 2010.2 L2151.5 2013.8 L2152.5 2017.4 L2153.5 2021.9 L2154.5 2026.8 L2155.4 2029.3 L2156.4 2033.4 L2157.4 2036.9 L2158.4 2042.2 L2159.3 2045.9 L2160.3 2050.9 L2161.3 2054.6 L2162.3 2058.9 L2163.2 2061.3 L2164.2 2065.1 L2165.2 2068.5 L2166.2 2073.7 L2167.1 2077.6 L2168.1 2081.2 L2169.1 2084.6 L2170.1 2089.9 L2171.0 2092.2 L2172.0 2097.3 L2174.9 2095.0 L2177.9 2092.3 L2180.8 2088.6 L2183.7 2085.6 L2186.7 2083.4 L2189.6 2079.7 L2192.5 2075.3 L2195.4 2074.1 L2198.4 2070.0 L2201.3 2066.4 L2205.5 2067.2 L2209.7 2066.3 L2213.9 2064.1 L2218.0 2064.3 L2222.2 2063.6 L2226.4 2062.2 L2230.6 2062.1 L2232.7 2065.1 L2234.9 2067.9 L2237.0 2071.1 L2239.1 2075.0 L2241.2 2079.7 L2243.4 2083.6 L2245.5 2085.3 L2247.6 2088.9 L2249.7 2092.1 L2251.9 2096.2 L2254.0 2098.5 L2254.5 2095.2 L2255.0 2092.3 L2255.5 2087.4 L2256.0 2082.6 L2256.4 2078.7 L2256.9 2075.2 L2257.4 2072.3 L2257.9 2067.4 L2258.4 2062.8 L2258.9 2059.2 L2259.4 2055.5 L2259.9 2051.0 L2260.3 2046.7 L2260.8 2042.4 L2261.3 2038.4 L2261.8 2035.2 L2262.3 2032.8 L2262.8 2028.5 L2263.3 2023.4 L2263.8 2018.8 L2264.2 2016.0 L2264.7 2011.0 L2265.2 2007.2 L2265.7 2004.7 L2266.2 2000.1 L2266.7 1995.1 L2267.2 1992.3 L2267.7 1988.3 L2268.2 1985.5 L2268.6 1980.5 L2269.1 1975.3 L2269.6 1971.2 L2270.1 1968.0 L2270.6 1964.5 L2271.1 1960.1 L2271.6 1956.0 L2272.1 1952.4 L2272.5 1947.4 L2273.0 1944.1 L2273.5 1940.7 L2274.0 1937.3 L2274.5 1931.8 L2277.8 1935.5 L2281.2 1937.9 L2284.5 1940.6 L2287.9 1943.8 L2291.2 1946.1 L2294.6 1949.2 L2297.9 1950.0 L2300.0 1953.6 L2302.0 1958.0 L2304.1 1960.6 L2306.1 1966.1 L2308.2 1970.1 L2310.2 1972.3 L2312.2 1975.8 L2314.3 1981.4 L2316.3 1984.4 L2318.4 1987.5 L2319.5 1991.5 L2320.6 1995.3 L2321.7 1999.1 L2322.8 2003.1 L2323.9 2006.8 L2325.0 2011.4 L2326.1 2016.4 L2327.2 2019.8 L2328.2 2025.0 L2329.3 2028.0 L2330.4 2033.0 L2331.5 2036.3 L2332.6 2040.6 L2333.7 2045.7 L2334.8 2049.4 L2335.9 2052.2 L2340.0 2046.5 L2342.3 2049.7 L2344.7 2055.1 L2347.1 2058.8 L2349.4 2063.0 L2351.8 2067.4 L2354.1 2069.5 L2356.9 2072.4 L2359.7 2076.9 L2362.5 2081.0 L2365.3 2084.0 L2368.1 2087.9 L2371.6 2085.3 L2375.1 2082.9 L2378.7 2080.3 L2382.2 2078.0 L2384.5 2081.4 L2386.9 2084.7 L2389.2 2088.0 L2391.5 2092.6 L2393.8 2095.3 L2396.2 2099.1 L2398.5 2103.6 L2402.6 2100.7 L2406.7 2097.4 L2410.8 2094.4 L2414.9 2092.7 L2417.6 2095.1 L2420.3 2098.9 L2423.0 2103.3 L2425.6 2106.9 L2428.3 2108.6 L2431.0 2111.3 L2433.7 2115.5 L2437.7 2114.2 L2441.7 2115.0 L2445.7 2113.5 L2449.8 2113.2 L2453.8 2112.5 L2457.8 2112.9 L2461.8 2111.6 L2464.5 2115.7 L2467.1 2118.7 L2469.8 2121.4 L2472.5 2125.1 L2475.2 2129.3 L2477.8 2131.5 L2480.5 2136.0 L2485.2 2137.4 L2489.9 2137.5 L2494.6 2138.8 L2499.3 2137.6 L2502.4 2134.5 L2505.5 2133.5 L2508.7 2131.2 L2511.8 2127.6 L2514.9 2124.1 L2518.0 2122.8 L2521.2 2119.8 L2524.3 2117.2 L2527.4 2114.5 L2530.5 2116.7 L2533.6 2118.7 L2536.8 2123.4 L2539.9 2126.5 L2543.0 2128.6 L2546.1 2130.8 L2550.8 2130.2 L2555.5 2130.9 L2560.1 2130.1 L2564.8 2129.3 L2569.5 2128.1 L2574.2 2128.9 L2578.9 2128.2 L2583.5 2128.5 L2588.2 2127.3 L2592.9 2128.2 L2597.6 2128.4 L2602.3 2129.7 L2607.0 2130.9 L2611.7 2132.1 L2614.0 2130.1 L2616.4 2125.7 L2618.7 2121.1 L2621.1 2117.2 L2623.4 2114.6 L2625.7 2110.1 L2628.1 2107.3 L2630.4 2102.5 L2634.7 2102.0 L2639.0 2101.3 L2643.3 2102.4 L2647.6 2100.6 L2651.9 2100.4 L2656.2 2099.7 L2659.7 2099.2 L2663.2 2097.0 L2666.7 2094.0 L2670.2 2092.7 L2673.7 2090.4 L2677.2 2087.6 L2679.9 2083.8 L2682.6 2080.1 L2685.3 2076.7 L2687.9 2074.8 L2690.6 2070.6 L2693.3 2065.6 L2696.0 2062.9 L2699.7 2064.2 L2703.5 2067.4 L2707.2 2069.5 L2711.0 2071.1 L2714.7 2074.0 L2716.1 2070.0 L2717.6 2065.5 L2719.0 2062.0 L2720.5 2058.3 L2721.9 2054.9 L2723.3 2050.0 L2724.8 2045.7 L2726.2 2041.4 L2727.6 2038.3 L2729.1 2033.7 L2730.5 2031.4 L2732.0 2026.5 L2733.4 2023.2 L2737.2 2020.9 L2740.9 2020.3 L2744.7 2016.9 L2748.4 2014.2 L2752.2 2013.8 L2753.7 2010.3 L2755.1 2006.0 L2756.6 2001.4 L2758.1 1996.2 L2759.5 1991.6 L2761.0 1989.4 L2762.4 1984.7 L2763.9 1981.9 L2764.8 1985.1 L2765.7 1990.1 L2766.6 1992.2 L2767.5 1996.4 L2768.4 2000.9 L2769.3 2005.0 L2770.2 2007.9 L2771.1 2012.6 L2772.0 2016.9 L2772.9 2020.6 L2773.8 2024.0 L2774.7 2029.1 L2775.6 2033.5 L2776.7 2027.9 L2777.8 2023.7 L2778.8 2021.3 L2779.9 2016.2 L2781.0 2011.8 L2782.1 2007.9 L2783.1 2005.3 L2784.2 2000.9 L2785.3 1996.0 L2786.4 1993.5 L2787.4 1988.3 L2788.5 1984.9 L2789.6 1981.5 L2792.9 1983.9 L2796.2 1987.0 L2799.4 1990.5 L2802.7 1991.6 L2806.0 1994.9 L2809.0 1993.0 L2812.1 1988.8 L2815.1 1986.1 L2818.2 1982.7 L2821.2 1980.5 L2824.4 1977.0 L2827.6 1974.0 L2830.9 1971.1 L2834.1 1966.9 L2836.4 1971.6 L2838.8 1974.3 L2841.1 1979.1 L2843.4 1982.2 L2845.8 1985.1 L2848.1 1988.8 L2849.0 1992.8 L2850.0 1997.5 L2850.9 2003.6 L2851.9 2008.0 L2852.8 2012.6 L2853.7 2016.8 L2854.7 2019.2 L2855.6 2023.8 L2856.6 2027.7 L2857.5 2033.3 L2860.6 2029.4 L2863.7 2025.3 L2866.8 2023.2 L2870.0 2020.5 L2873.1 2015.9 L2876.2 2014.3 L2878.3 2017.9 L2880.4 2022.3 L2882.4 2025.7 L2884.5 2028.0 L2886.6 2032.7 L2888.7 2036.7 L2890.7 2040.6 L2892.8 2042.5 L2894.9 2045.5 L2898.4 2042.0 L2901.9 2039.4 L2905.5 2034.9 L2909.0 2031.3 L2913.7 2032.3 L2918.3 2035.2 L2923.0 2035.4 L2927.7 2036.1 L2932.4 2038.9 L2937.1 2039.8 L2941.8 2040.5 L2946.5 2041.8 L2951.2 2040.6 L2955.8 2037.2 L2960.5 2033.8 L2963.2 2038.7 L2965.9 2042.1 L2968.6 2045.4 L2971.2 2049.8 L2973.9 2053.7 L2976.6 2057.6 L2979.3 2061.5 L2984.0 2060.6 L2988.7 2058.3 L2993.3 2056.5 L2998.0 2056.0 L3002.7 2056.8 L3007.3 2057.4 L3012.0 2058.2 L3016.7 2058.9 L3020.5 2056.5 L3024.2 2055.3 L3028.0 2051.5 L3031.7 2048.5 L3035.5 2047.1 L3037.8 2043.7 L3040.2 2038.3 L3042.5 2035.0 L3044.8 2030.3 L3047.2 2025.9 L3049.5 2023.6 L3053.0 2025.7 L3056.6 2026.9 L3060.1 2029.0 L3063.6 2032.9 L3065.6 2036.5 L3067.6 2039.7 L3069.6 2044.4 L3071.6 2048.6 L3073.6 2052.0 L3075.6 2055.7 L3077.6 2059.4 L3081.5 2061.6 L3085.4 2063.7 L3089.3 2064.6 L3093.2 2067.5 L3097.1 2067.7 L3101.0 2068.9 L3104.9 2071.2 L3108.8 2072.5 L3112.7 2075.3 L3116.6 2076.1 L3120.5 2077.8 L3124.4 2079.0 L3127.1 2082.6 L3129.8 2085.0 L3132.5 2088.0 L3135.1 2092.3 L3137.8 2094.9 L3140.5 2097.8 L3143.2 2101.4 L3147.3 2100.7 L3151.4 2098.8 L3155.5 2096.0 L3159.6 2094.4 L3163.8 2096.2 L3168.0 2097.1 L3172.3 2097.7 L3176.5 2100.3 L3180.7 2103.1 L3183.0 2098.3 L3185.4 2094.5 L3187.7 2091.1 L3190.1 2087.5 L3192.4 2084.4 L3194.7 2081.1 L3197.1 2078.2 L3199.4 2074.6 L3199.7 2079.5 L3200.0 2084.7 L3203.7 2087.7 L3207.3 2088.2 L3211.0 2091.7 L3214.6 2092.0 L3218.3 2094.7 L3222.9 2092.9 L3227.4 2092.1 L3232.0 2089.5 L3236.6 2089.7 L3241.2 2091.9 L3245.8 2093.4 L3250.4 2094.6 L3255.0 2096.3 L3257.9 2098.1 L3260.8 2102.8 L3263.8 2105.7 L3266.7 2110.5 L3269.6 2114.7 L3273.3 2111.5 L3276.9 2109.1 L3280.6 2106.1 L3284.3 2104.1 L3288.0 2105.8 L3291.6 2106.8 L3295.3 2109.4 L3298.9 2110.6 L3302.6 2111.7 L3306.9 2114.1 L3311.2 2114.1 L3315.4 2115.9 L3319.7 2117.1 L3324.0 2118.3 L3328.3 2118.6 L3332.9 2120.7 L3337.4 2121.5 L3342.0 2124.0 L3346.6 2125.1 L3351.2 2123.5 L3355.8 2121.5 L3360.3 2119.3 L3364.9 2117.6 L3368.1 2113.8 L3371.3 2111.8 L3374.5 2106.9 L3377.7 2102.5 L3380.6 2107.0 L3383.6 2111.8 L3386.5 2116.1 L3389.5 2120.1 L3392.4 2122.9 L3395.4 2125.1 L3398.5 2128.7 L3401.6 2131.7 L3404.6 2134.5 L3407.6 2135.2 L3410.7 2139.4 L3415.0 2138.5 L3419.2 2140.7 L3423.5 2139.7 L3427.2 2143.1 L3430.8 2146.0 L3434.5 2148.5 L3438.2 2151.2 L3443.0 2151.9 L3447.7 2150.2 L3452.5 2150.6 L3457.2 2149.1 L3462.0 2150.3 L3466.4 2151.9 L3470.8 2152.7 L3475.2 2154.7 L3479.6 2157.6 L3484.0 2160.0 L3487.9 2160.8 L3491.9 2160.3 L3495.8 2162.3 L3499.7 2164.3 L3503.6 2164.5 L3507.6 2166.3 L3511.5 2165.5 L3515.4 2166.6 L3519.4 2169.0 L3523.3 2168.4 L3527.2 2169.7 L3531.1 2171.1 L3535.1 2173.0 L3539.0 2172.7 L3543.6 2175.4 L3548.2 2177.9 L3552.7 2180.2 L3557.3 2180.6 L3562.2 2181.5 L3567.1 2181.2 L3572.0 2180.8" stroke="#5e8867"/>
<path d="M525.2 1817.8 L525.8 1822.6 L526.4 1825.5 L527.0 1828.6 L527.6 1834.4 L528.1 1838.1 L528.7 1842.3 L529.3 1845.3 L529.9 1849.9 L530.5 1855.3 L531.1 1859.5 L531.7 1864.2 L532.3 1868.3 L532.9 1872.2 L533.4 1874.4 L534.0 1879.9 L534.6 1883.4 L535.2 1888.1 L535.8 1892.8 L536.4 1895.8 L537.0 1899.7 L537.6 1903.6 L538.1 1907.1 L538.7 1910.4 L539.3 1916.6 L539.9 1920.5 L540.5 1924.6 L540.9 1921.3 L541.3 1916.8 L541.7 1912.9 L542.1 1908.7 L542.6 1905.2 L543.0 1899.4 L543.4 1895.4 L543.8 1891.4 L544.2 1888.4 L544.6 1883.6 L545.0 1879.1 L545.4 1875.5 L545.8 1871.9 L546.3 1866.7 L546.7 1864.2 L547.1 1860.1 L547.5 1854.9 L547.9 1852.2 L548.3 1848.5 L548.7 1843.7 L549.1 1838.5 L549.5 1834.6 L549.9 1830.5 L550.4 1827.9 L550.8 1824.5 L551.2 1819.0 L551.6 1814.7 L552.0 1810.4 L552.4 1807.1 L552.8 1803.4 L553.2 1798.7 L553.6 1794.8 L554.1 1791.8 L554.5 1787.5 L554.9 1784.1 L555.3 1778.5 L555.7 1775.1 L557.6 1778.2 L559.5 1783.5 L561.4 1785.8 L563.3 1790.6 L565.2 1794.5 L567.1 1798.3 L569.0 1802.7 L570.9 1806.6 L571.3 1800.8 L571.6 1796.9 L572.0 1793.2 L572.4 1788.1 L572.7 1783.7 L573.1 1781.3 L573.4 1777.8 L573.8 1774.1 L574.2 1770.3 L574.5 1765.3 L574.9 1761.5 L575.3 1756.4 L575.6 1753.3 L576.0 1748.8 L576.4 1745.0 L576.7 1741.7 L577.1 1738.0 L577.5 1732.8 L577.8 1728.1 L578.2 1724.1 L578.5 1720.9 L578.9 1717.2 L579.3 1713.0 L579.6 1709.9 L580.0 1705.4 L584.1 1701.9 L588.1 1697.9 L592.2 1694.3 L592.7 1700.4 L593.2 1703.7 L593.7 1708.6 L594.2 1713.0 L594.8 1717.5 L595.3 1721.6 L595.8 1723.7 L596.3 1727.4 L596.8 1731.8 L597.3 1735.4 L597.8 1740.4 L598.3 1744.8 L598.8 1749.2 L599.4 1752.6 L599.9 1755.6 L600.4 1760.0 L600.9 1764.1 L601.4 1769.5 L601.8 1765.8 L602.2 1761.7 L602.6 1758.0 L603.0 1753.9 L603.4 1748.4 L603.7 1743.9 L604.1 1740.5 L604.5 1735.8 L604.9 1732.4 L605.3 1728.0 L605.7 1724.6 L606.1 1720.9 L606.5 1716.1 L606.9 1711.8 L607.3 1708.5 L607.7 1704.7 L608.1 1700.1 L608.4 1695.4 L608.8 1692.7 L609.2 1690.0 L609.6 1684.2 L610.0 1680.1 L610.4 1675.6 L610.8 1671.6 L611.2 1668.2 L611.6 1663.5 L612.0 1660.2 L612.4 1656.6 L612.8 1651.9 L613.1 1648.5 L613.5 1643.8 L613.9 1641.2 L614.3 1635.8 L614.7 1632.3 L615.1 1628.6 L616.9 1632.8 L618.6 1635.9 L620.4 1639.7 L622.2 1644.4 L623.9 1648.7 L625.7 1654.1 L626.2 1658.7 L626.7 1660.8 L627.1 1664.7 L627.6 1667.8 L628.1 1671.9 L628.6 1676.5 L629.1 1681.4 L629.5 1685.0 L630.0 1689.1 L630.5 1692.6 L631.0 1696.6 L631.4 1701.3 L631.9 1705.4 L632.4 1708.2 L632.9 1711.9 L633.4 1716.9 L633.8 1721.8 L634.3 1725.7 L634.8 1730.3 L635.1 1732.9 L635.4 1737.9 L635.7 1741.0 L635.9 1744.9 L636.2 1749.4 L636.5 1753.4 L636.8 1756.7 L637.1 1760.5 L637.4 1764.5 L637.7 1769.7 L638.0 1773.3 L638.2 1777.3 L638.5 1782.8 L638.8 1787.2 L639.1 1790.9 L639.4 1794.1 L639.7 1799.4 L640.0 1802.7 L640.3 1807.2 L640.5 1811.0 L640.8 1815.8 L641.1 1818.4 L641.4 1823.7 L641.7 1826.5 L642.0 1830.4 L642.3 1836.3 L642.6 1840.0 L642.9 1843.9 L643.1 1848.5 L643.4 1852.4 L643.7 1855.3 L644.0 1860.2 L647.0 1862.6 L650.1 1866.5 L653.1 1869.2 L656.2 1871.8 L659.2 1875.9 L659.9 1872.1 L660.6 1867.4 L661.3 1863.4 L662.0 1859.2 L662.7 1855.5 L663.4 1850.9 L664.1 1846.7 L664.8 1841.9 L665.5 1838.4 L666.2 1832.6 L666.9 1829.9 L667.6 1826.0 L668.3 1821.5 L672.1 1824.3 L676.0 1826.7 L679.8 1827.1 L683.6 1830.7 L686.1 1833.8 L688.7 1837.1 L691.2 1840.7 L693.7 1843.2 L696.3 1847.5 L698.8 1850.9 L700.0 1854.4 L701.1 1858.6 L702.3 1863.5 L703.5 1866.1 L704.6 1870.3 L705.8 1874.4 L707.0 1879.2 L708.2 1883.3 L709.3 1887.8 L710.5 1890.4 L711.7 1894.5 L712.8 1897.7 L714.0 1901.4 L715.7 1906.0 L717.4 1910.3 L719.1 1913.7 L720.8 1919.6 L722.4 1924.5 L724.1 1928.2 L725.8 1931.4 L727.5 1934.2 L729.2 1939.8 L730.0 1936.2 L730.7 1931.0 L731.5 1927.7 L732.2 1923.5 L733.0 1920.5 L733.8 1916.2 L734.5 1910.7 L735.3 1907.8 L736.1 1902.6 L736.8 1898.8 L737.6 1894.9 L738.4 1891.4 L739.1 1888.5 L739.9 1884.4 L740.6 1878.9 L741.4 1875.1 L743.5 1872.6 L745.7 1868.9 L747.8 1865.5 L750.0 1861.4 L752.1 1858.5 L754.2 1854.5 L756.4 1849.8 L758.5 1845.6 L760.7 1842.8 L762.8 1839.6 L763.5 1844.3 L764.1 1847.8 L764.8 1852.1 L765.5 1856.5 L766.1 1860.8 L766.8 1864.2 L767.5 1868.9 L768.2 1871.7 L768.8 1874.7 L769.5 1878.3 L770.2 1882.3 L770.8 1887.4 L771.5 1892.3 L772.2 1895.0 L772.8 1900.7 L773.5 1904.8 L774.2 1908.1 L774.9 1912.6 L775.5 1917.4 L776.2 1920.9 L776.9 1924.7 L777.5 1928.5 L778.2 1932.5 L781.0 1936.2 L783.7 1938.8 L786.5 1942.3 L789.2 1946.4 L792.0 1948.0 L794.7 1952.8 L797.5 1956.0 L798.7 1951.0 L799.9 1948.6 L801.1 1944.5 L802.3 1939.6 L803.5 1936.1 L804.7 1931.9 L805.9 1929.1 L807.1 1925.3 L808.4 1921.7 L809.6 1917.9 L810.8 1913.1 L812.0 1910.2 L813.2 1904.6 L814.4 1900.0 L815.6 1896.3 L816.8 1892.7 L818.7 1898.3 L820.7 1900.9 L822.6 1906.1 L824.6 1909.8 L826.5 1912.4 L828.4 1916.8 L830.4 1920.9 L832.3 1924.1 L834.3 1928.7 L836.2 1931.4 L837.3 1935.6 L838.3 1939.3 L839.4 1943.5 L840.4 1949.1 L841.5 1953.8 L842.5 1957.7 L843.6 1961.2 L844.6 1965.4 L845.7 1968.8 L846.7 1973.6 L847.8 1978.6 L849.9 1976.2 L852.0 1971.1 L854.1 1966.8 L856.2 1964.7 L858.3 1961.4 L860.4 1957.9 L862.5 1954.2 L864.6 1949.5 L866.7 1947.4 L868.8 1943.1 L870.9 1941.0 L872.8 1944.7 L874.8 1947.0 L876.7 1951.4 L878.6 1954.7 L880.6 1959.1 L882.5 1962.4 L884.5 1967.1 L886.4 1970.6 L889.7 1974.2 L893.0 1976.8 L896.3 1979.6 L899.7 1981.7 L903.0 1985.4 L906.3 1987.2 L909.6 1990.5 L914.0 1990.2 L918.3 1990.2 L922.6 1990.2 L927.0 1987.8 L931.4 1987.1 L935.7 1988.0 L940.0 1987.9 L944.4 1987.6 L946.0 1991.9 L947.5 1995.8 L949.1 1998.0 L950.6 2002.3 L952.2 2006.3 L953.8 2010.9 L955.3 2015.0 L956.9 2018.3 L958.4 2022.2 L960.0 2026.2 L962.8 2029.6 L965.6 2031.9 L968.4 2034.9 L971.2 2038.2 L974.1 2040.5 L976.9 2043.0 L979.7 2045.8 L982.5 2048.0 L985.3 2052.6 L989.5 2053.6 L993.7 2055.0 L998.0 2056.4 L1002.2 2057.2 L1006.4 2059.5 L1010.6 2060.9 L1014.0 2061.8 L1017.3 2065.2 L1020.7 2068.0 L1024.0 2068.9 L1027.4 2071.5 L1031.6 2068.8 L1035.8 2064.0 L1040.0 2062.0 L1044.8 2060.5 L1049.5 2061.1 L1054.2 2060.5 L1059.0 2060.3 L1062.2 2063.8 L1065.3 2067.2 L1068.5 2070.4 L1071.7 2073.4 L1074.8 2075.4 L1078.0 2078.3 L1081.4 2076.5 L1084.8 2073.8 L1088.1 2070.9 L1091.5 2069.9 L1094.9 2067.6 L1099.1 2068.1 L1103.3 2069.4 L1107.5 2069.7 L1110.7 2071.9 L1113.8 2073.4 L1117.0 2076.0 L1120.2 2079.6 L1123.3 2083.7 L1126.5 2085.8 L1129.6 2087.5 L1132.8 2091.5 L1136.5 2093.0 L1140.2 2095.5 L1143.9 2095.7 L1147.5 2096.2 L1151.2 2097.9 L1154.9 2101.0 L1158.6 2102.6 L1162.3 2104.7 L1165.5 2107.9 L1168.6 2110.5 L1171.8 2113.2 L1174.9 2115.5 L1178.1 2117.7 L1181.3 2120.8 L1184.4 2123.8 L1187.6 2126.1 L1190.8 2123.8 L1193.9 2121.6 L1197.0 2119.0 L1200.2 2115.5 L1203.3 2112.4 L1206.5 2109.6 L1209.6 2108.5 L1212.8 2106.0 L1216.5 2102.8 L1220.2 2099.1 L1223.9 2096.4 L1227.5 2095.4 L1231.2 2092.9 L1234.9 2091.2 L1238.6 2089.0 L1242.3 2085.2 L1246.5 2085.8 L1250.8 2086.4 L1255.0 2087.7 L1259.2 2088.2 L1262.6 2090.4 L1265.9 2094.3 L1269.3 2098.0 L1272.6 2101.1 L1276.0 2104.2 L1279.8 2104.5 L1283.5 2105.8 L1287.3 2108.2 L1291.0 2110.4 L1294.8 2110.3 L1298.5 2113.0 L1302.3 2114.4 L1306.0 2116.6 L1309.8 2117.1 L1313.6 2119.7 L1317.4 2121.4 L1321.1 2122.6 L1324.9 2123.8 L1328.7 2124.6 L1333.2 2125.6 L1337.8 2127.1 L1342.3 2126.2 L1346.9 2127.1 L1351.5 2126.5 L1356.0 2126.5 L1358.3 2123.5 L1360.6 2121.7 L1362.9 2117.8 L1365.2 2113.6 L1367.5 2109.4 L1369.9 2106.1 L1372.2 2103.0 L1374.5 2098.9 L1376.8 2095.5 L1379.1 2092.4 L1381.4 2088.5 L1385.6 2090.3 L1389.8 2092.9 L1394.0 2093.8 L1397.7 2096.6 L1401.4 2097.6 L1405.1 2101.6 L1408.9 2104.4 L1412.6 2105.5 L1416.3 2107.8 L1420.0 2110.1 L1423.1 2106.6 L1426.3 2103.2 L1429.4 2100.3 L1432.6 2097.1 L1435.7 2093.9 L1438.9 2090.0 L1442.0 2086.7 L1444.3 2084.4 L1446.7 2081.9 L1449.0 2078.8 L1451.4 2073.4 L1453.8 2070.9 L1456.1 2067.0 L1458.5 2063.5 L1460.8 2060.2 L1463.2 2055.8 L1465.5 2052.7 L1468.4 2056.5 L1471.3 2058.1 L1474.2 2061.0 L1477.1 2065.3 L1480.0 2067.9 L1481.6 2072.7 L1483.2 2075.2 L1484.8 2079.4 L1486.4 2084.6 L1488.0 2087.0 L1489.6 2091.5 L1491.2 2096.2 L1492.8 2099.3 L1494.4 2103.5 L1496.0 2107.8 L1497.6 2111.5 L1500.5 2109.2 L1503.5 2105.0 L1506.4 2101.2 L1509.3 2096.9 L1512.2 2095.3 L1515.2 2091.8 L1518.1 2088.5 L1522.2 2086.2 L1526.3 2083.7 L1530.4 2080.1 L1534.5 2077.6 L1538.6 2075.2 L1540.3 2072.6 L1542.1 2069.8 L1543.8 2065.1 L1545.6 2062.1 L1547.3 2058.4 L1549.1 2053.9 L1550.8 2050.6 L1552.6 2045.7 L1554.3 2041.2 L1556.1 2037.5 L1557.6 2042.5 L1559.0 2045.2 L1560.5 2050.1 L1561.9 2053.2 L1563.4 2057.1 L1564.9 2061.0 L1566.3 2064.9 L1567.8 2069.8 L1571.7 2068.0 L1575.7 2064.4 L1579.6 2060.9 L1581.3 2057.7 L1583.1 2055.1 L1584.8 2050.4 L1586.6 2046.0 L1588.3 2043.3 L1590.1 2039.7 L1591.8 2035.3 L1593.6 2031.2 L1595.3 2028.5 L1597.1 2024.2 L1601.2 2022.9 L1605.3 2022.1 L1609.4 2023.3 L1613.5 2022.9 L1617.6 2024.3 L1621.0 2020.5 L1624.3 2018.9 L1627.7 2015.8 L1631.0 2012.3 L1634.4 2010.4 L1637.7 2007.8 L1641.1 2005.7 L1643.5 2008.9 L1646.0 2014.3 L1648.4 2018.7 L1650.8 2021.5 L1653.3 2024.3 L1655.7 2029.5 L1659.2 2026.1 L1662.7 2023.7 L1666.3 2020.3 L1669.8 2017.1 L1673.3 2014.1 L1675.2 2017.8 L1677.2 2022.4 L1679.2 2026.3 L1681.1 2031.1 L1683.0 2034.5 L1685.0 2039.2 L1688.5 2041.7 L1692.0 2044.4 L1695.5 2046.3 L1699.0 2047.6 L1702.5 2050.5 L1706.9 2052.3 L1711.3 2053.9 L1715.7 2054.9 L1720.1 2056.9 L1724.5 2058.6 L1728.9 2058.5 L1733.3 2059.9 L1737.7 2061.0 L1740.6 2064.8 L1743.5 2068.6 L1746.5 2073.0 L1749.4 2076.0 L1752.3 2080.0 L1756.4 2081.0 L1760.5 2080.0 L1764.6 2080.0 L1768.7 2080.4 L1772.8 2081.7 L1776.6 2080.5 L1780.3 2077.8 L1784.1 2074.2 L1787.9 2072.9 L1791.7 2068.9 L1795.4 2067.2 L1799.2 2064.1 L1801.7 2068.4 L1804.2 2071.0 L1806.7 2074.8 L1809.2 2077.4 L1811.7 2082.2 L1814.2 2085.1 L1816.7 2088.3 L1821.4 2088.6 L1826.1 2087.2 L1830.8 2086.3 L1835.5 2086.5 L1840.2 2085.3 L1844.3 2087.4 L1848.4 2089.3 L1852.5 2091.8 L1856.6 2094.4 L1860.7 2097.1 L1861.2 2091.8 L1861.6 2089.4 L1862.1 2084.3 L1862.5 2081.2 L1863.0 2077.0 L1863.4 2073.4 L1863.9 2069.9 L1864.4 2065.7 L1864.8 2061.6 L1865.3 2057.3 L1865.7 2051.8 L1866.2 2047.2 L1866.6 2043.2 L1867.1 2039.0 L1867.6 2034.7 L1868.0 2032.5 L1868.5 2027.1 L1868.9 2024.6 L1869.4 2019.4 L1869.8 2015.4 L1870.3 2010.5 L1870.8 2007.5 L1871.2 2002.7 L1871.7 2000.1 L1872.1 1995.4 L1872.6 1990.5 L1873.1 1988.0 L1873.5 1983.9 L1874.0 1980.7 L1874.4 1975.7 L1874.9 1970.7 L1875.3 1967.9 L1875.8 1963.2 L1876.3 1958.2 L1876.7 1955.8 L1877.2 1950.9 L1877.6 1946.6 L1878.1 1942.4 L1878.5 1938.4 L1879.0 1935.6 L1879.5 1930.1 L1879.9 1925.4 L1880.4 1920.9 L1880.8 1918.4 L1881.3 1914.4 L1881.7 1910.0 L1882.2 1906.1 L1883.5 1910.9 L1884.8 1915.2 L1886.1 1918.4 L1887.5 1922.0 L1888.8 1925.0 L1890.1 1930.0 L1891.4 1932.3 L1892.7 1935.8 L1894.0 1941.2 L1895.3 1945.2 L1896.7 1948.4 L1898.0 1951.0 L1899.3 1954.4 L1900.6 1958.1 L1901.9 1963.1 L1903.2 1966.4 L1904.6 1971.0 L1905.9 1974.3 L1907.2 1979.1 L1908.5 1982.0 L1909.9 1979.5 L1911.2 1975.4 L1912.6 1970.5 L1914.0 1966.8 L1915.3 1962.0 L1916.7 1959.3 L1918.1 1955.6 L1919.4 1950.7 L1920.8 1947.6 L1922.2 1944.4 L1923.5 1939.6 L1924.9 1935.2 L1926.3 1932.0 L1927.6 1927.8 L1929.0 1923.2 L1931.0 1927.4 L1933.1 1931.5 L1935.1 1934.7 L1937.1 1938.0 L1939.2 1942.0 L1941.2 1945.4 L1943.2 1949.2 L1945.2 1953.8 L1947.3 1957.9 L1949.3 1959.8 L1951.3 1963.9 L1953.4 1966.8 L1955.4 1971.0 L1956.3 1967.1 L1957.2 1962.3 L1958.1 1957.5 L1959.0 1953.6 L1959.9 1949.4 L1960.7 1945.1 L1961.6 1941.0 L1962.5 1936.9 L1963.4 1933.6 L1964.3 1930.2 L1965.2 1926.7 L1966.1 1921.3 L1967.0 1918.3 L1967.9 1914.9 L1968.8 1910.9 L1969.7 1906.0 L1970.6 1902.5 L1971.4 1897.6 L1972.3 1894.4 L1973.2 1889.0 L1974.1 1885.5 L1975.0 1881.6 L1975.9 1876.5 L1980.8 1875.2 L1985.6 1872.4 L1990.5 1870.1 L1991.6 1875.8 L1992.8 1880.2 L1993.9 1883.9 L1995.1 1888.4 L1996.2 1891.9 L1997.3 1895.2 L1998.5 1899.9 L1999.6 1904.0 L2000.8 1907.8 L2001.9 1911.8 L2003.0 1913.7 L2004.2 1917.0 L2005.3 1922.5 L2006.4 1927.2 L2007.6 1929.2 L2008.7 1934.2 L2009.9 1938.7 L2011.0 1941.8 L2014.8 1939.1 L2018.5 1937.2 L2022.3 1935.2 L2026.1 1931.6 L2029.9 1929.3 L2033.6 1925.7 L2037.4 1923.4 L2039.5 1926.4 L2041.7 1931.8 L2043.8 1935.6 L2045.9 1938.1 L2048.0 1941.3 L2050.2 1945.5 L2052.3 1950.0 L2054.4 1954.7 L2056.5 1958.6 L2058.7 1961.6 L2060.8 1965.6 L2063.5 1961.4 L2066.3 1957.4 L2069.0 1955.6 L2071.7 1951.8 L2074.5 1948.3 L2077.2 1945.6 L2079.9 1943.1 L2082.7 1938.9 L2085.4 1936.4 L2088.1 1934.3 L2090.9 1930.5 L2093.6 1927.3 L2096.3 1923.3 L2099.1 1921.1 L2101.8 1918.5 L2102.9 1921.5 L2104.1 1926.6 L2105.2 1930.6 L2106.4 1934.1 L2107.5 1939.1 L2108.7 1942.2 L2109.8 1944.7 L2110.9 1948.9 L2112.1 1953.5 L2113.2 1957.7 L2114.4 1962.4 L2115.5 1966.3 L2116.7 1970.2 L2117.8 1973.2 L2119.0 1977.5 L2120.1 1981.8 L2121.2 1984.5 L2122.4 1988.7 L2123.5 1993.9 L2124.7 1997.3 L2125.8 2000.5 L2127.0 2004.9 L2128.1 2009.8 L2130.6 2005.5 L2133.1 2001.7 L2135.6 1996.8 L2138.2 1994.0 L2140.7 1990.1 L2143.2 1986.4 L2145.7 1982.2 L2146.7 1986.6 L2147.6 1990.0 L2148.6 1994.2 L2149.6 1998.8 L2150.6 2002.6 L2151.5 2005.0 L2152.5 2008.5 L2153.5 2013.6 L2154.5 2017.9 L2155.4 2022.6 L2156.4 2025.2 L2157.4 2030.1 L2158.4 2034.6 L2159.3 2038.2 L2160.3 2042.0 L2161.3 2045.4 L2162.3 2048.6 L2163.2 2052.7 L2164.2 2055.9 L2165.2 2061.2 L2166.2 2063.8 L2167.1 2068.1 L2168.1 2072.6 L2169.1 2075.3 L2170.1 2078.6 L2171.0 2082.3 L2172.0 2088.3 L2174.9 2085.6 L2177.9 2082.6 L2180.8 2079.3 L2183.7 2076.3 L2186.7 2074.3 L2189.6 2071.6 L2192.5 2068.2 L2195.4 2065.9 L2198.4 2061.2 L2201.3 2058.3 L2205.5 2058.0 L2209.7 2056.4 L2213.9 2054.8 L2218.0 2054.5 L2222.2 2054.0 L2226.4 2052.8 L2230.6 2053.4 L2232.7 2056.0 L2234.9 2058.5 L2237.0 2062.9 L2239.1 2066.3 L2241.2 2070.1 L2243.4 2073.6 L2245.5 2077.4 L2247.6 2080.5 L2249.7 2083.3 L2251.9 2087.0 L2254.0 2089.6 L2254.5 2086.1 L2255.0 2082.3 L2255.5 2079.8 L2256.0 2074.9 L2256.4 2070.6 L2256.9 2067.7 L2257.4 2063.7 L2257.9 2058.2 L2258.4 2054.9 L2258.9 2051.6 L2259.4 2046.5 L2259.9 2044.0 L2260.3 2040.1 L2260.8 2036.2 L2261.3 2031.0 L2261.8 2027.1 L2262.3 2024.4 L2262.8 2019.4 L2263.3 2014.9 L2263.8 2011.3 L2264.2 2008.2 L2264.7 2004.9 L2265.2 1999.2 L2265.7 1994.4 L2266.2 1989.9 L2266.7 1986.0 L2267.2 1984.0 L2267.7 1980.9 L2268.2 1977.1 L2268.6 1972.0 L2269.1 1967.4 L2269.6 1964.7 L2270.1 1960.4 L2270.6 1956.6 L2271.1 1953.2 L2271.6 1948.4 L2272.1 1944.9 L2272.5 1940.4 L2273.0 1935.0 L2273.5 1932.3 L2274.0 1928.8 L2274.5 1923.6 L2277.8 1926.9 L2281.2 1930.0 L2284.5 1931.6 L2287.9 1934.3 L2291.2 1936.1 L2294.6 1939.9 L2297.9 1941.3 L2300.0 1944.4 L2302.0 1949.5 L2304.1 1954.3 L2306.1 1957.7 L2308.2 1960.0 L2310.2 1964.6 L2312.2 1967.7 L2314.3 1970.8 L2316.3 1976.1 L2318.4 1979.0 L2319.5 1984.2 L2320.6 1988.3 L2321.7 1991.4 L2322.8 1994.7 L2323.9 1998.2 L2325.0 2002.8 L2326.1 2006.8 L2327.2 2011.8 L2328.2 2017.0 L2329.3 2019.3 L2330.4 2023.1 L2331.5 2026.4 L2332.6 2030.7 L2333.7 2035.3 L2334.8 2039.8 L2335.9 2043.8 L2340.0 2038.3 L2342.3 2041.8 L2344.7 2044.6 L2347.1 2050.3 L2349.4 2054.6 L2351.8 2058.3 L2354.1 2061.2 L2356.9 2065.4 L2359.7 2069.0 L2362.5 2072.1 L2365.3 2075.4 L2368.1 2080.6 L2371.6 2076.9 L2375.1 2074.2 L2378.7 2072.5 L2382.2 2069.4 L2384.5 2074.2 L2386.9 2077.0 L2389.2 2081.4 L2391.5 2085.2 L2393.8 2087.0 L2396.2 2089.9 L2398.5 2094.5 L2402.6 2090.8 L2406.7 2088.0 L2410.8 2085.8 L2414.9 2083.4 L2417.6 2087.9 L2420.3 2091.8 L2423.0 2094.8 L2425.6 2097.2 L2428.3 2101.1 L2431.0 2103.8 L2433.7 2106.1 L2437.7 2106.2 L2441.7 2106.2 L2445.7 2105.7 L2449.8 2105.8 L2453.8 2105.2 L2457.8 2105.3 L2461.8 2105.0 L2464.5 2106.6 L2467.1 2109.4 L2469.8 2112.7 L2472.5 2116.7 L2475.2 2119.3 L2477.8 2123.2 L2480.5 2127.5 L2485.2 2128.4 L2489.9 2128.6 L2494.6 2129.2 L2499.3 2129.5 L2502.4 2126.1 L2505.5 2123.6 L2508.7 2121.8 L2511.8 2118.4 L2514.9 2115.2 L2518.0 2113.2 L2521.2 2111.4 L2524.3 2109.4 L2527.4 2105.8 L2530.5 2107.8 L2533.6 2112.1 L2536.8 2114.1 L2539.9 2117.5 L2543.0 2120.6 L2546.1 2121.8 L2550.8 2121.5 L2555.5 2120.5 L2560.1 2120.3 L2564.8 2120.4 L2569.5 2119.3 L2574.2 2118.8 L2578.9 2118.9 L2583.5 2119.1 L2588.2 2119.7 L2592.9 2120.1 L2597.6 2121.8 L2602.3 2123.2 L2607.0 2122.7 L2611.7 2124.2 L2614.0 2121.8 L2616.4 2117.4 L2618.7 2113.2 L2621.1 2110.2 L2623.4 2105.9 L2625.7 2100.8 L2628.1 2098.2 L2630.4 2093.6 L2634.7 2093.6 L2639.0 2093.3 L2643.3 2093.0 L2647.6 2092.6 L2651.9 2093.5 L2656.2 2093.0 L2659.7 2090.5 L2663.2 2089.0 L2666.7 2086.1 L2670.2 2083.1 L2673.7 2082.8 L2677.2 2081.3 L2679.9 2078.0 L2682.6 2074.0 L2685.3 2070.2 L2687.9 2065.6 L2690.6 2062.7 L2693.3 2058.7 L2696.0 2055.1 L2699.7 2056.6 L2703.5 2058.2 L2707.2 2061.3 L2711.0 2063.8 L2714.7 2066.6 L2716.1 2062.4 L2717.6 2059.0 L2719.0 2053.9 L2720.5 2049.2 L2721.9 2045.4 L2723.3 2043.0 L2724.8 2039.4 L2726.2 2034.2 L2727.6 2029.8 L2729.1 2026.4 L2730.5 2022.1 L2732.0 2018.2 L2733.4 2013.9 L2737.2 2013.3 L2740.9 2012.0 L2744.7 2010.5 L2748.4 2008.8 L2752.2 2006.7 L2753.7 2001.2 L2755.1 1996.6 L2756.6 1992.1 L2758.1 1989.6 L2759.5 1985.4 L2761.0 1980.0 L2762.4 1976.0 L2763.9 1972.7 L2764.8 1977.4 L2765.7 1981.2 L2766.6 1984.8 L2767.5 1989.4 L2768.4 1991.5 L2769.3 1995.2 L2770.2 2000.0 L2771.1 2004.6 L2772.0 2008.2 L2772.9 2012.5 L2773.8 2015.3 L2774.7 2019.0 L2775.6 2024.6 L2776.7 2020.6 L2777.8 2017.1 L2778.8 2013.0 L2779.9 2008.5 L2781.0 2003.1 L2782.1 1999.2 L2783.1 1996.0 L2784.2 1991.6 L2785.3 1988.6 L2786.4 1984.7 L2787.4 1981.3 L2788.5 1975.6 L2789.6 1971.1 L2792.9 1973.9 L2796.2 1977.0 L2799.4 1981.5 L2802.7 1984.7 L2806.0 1986.4 L2809.0 1984.1 L2812.1 1981.5 L2815.1 1977.5 L2818.2 1975.9 L2821.2 1971.6 L2824.4 1969.1 L2827.6 1965.2 L2830.9 1962.0 L2834.1 1958.1 L2836.4 1962.6 L2838.8 1966.7 L2841.1 1970.1 L2843.4 1974.3 L2845.8 1977.1 L2848.1 1980.8 L2849.0 1984.6 L2850.0 1988.8 L2850.9 1994.6 L2851.9 1999.3 L2852.8 2002.9 L2853.7 2008.3 L2854.7 2011.3 L2855.6 2015.5 L2856.6 2018.6 L2857.5 2024.5 L2860.6 2020.4 L2863.7 2017.5 L2866.8 2013.7 L2870.0 2010.4 L2873.1 2007.7 L2876.2 2004.4 L2878.3 2007.7 L2880.4 2012.7 L2882.4 2015.0 L2884.5 2018.7 L2886.6 2023.1 L2888.7 2026.0 L2890.7 2029.4 L2892.8 2033.6 L2894.9 2038.7 L2898.4 2034.1 L2901.9 2031.6 L2905.5 2028.7 L2909.0 2024.1 L2913.7 2024.7 L2918.3 2026.5 L2923.0 2026.6 L2927.7 2029.2 L2932.4 2030.0 L2937.1 2031.9 L2941.8 2031.5 L2946.5 2031.9 L2951.2 2031.3 L2955.8 2028.9 L2960.5 2025.4 L2963.2 2029.4 L2965.9 2034.4 L2968.6 2037.8 L2971.2 2040.3 L2973.9 2043.3 L2976.6 2048.7 L2979.3 2051.8 L2984.0 2051.5 L2988.7 2049.7 L2993.3 2047.4 L2998.0 2046.5 L3002.7 2047.9 L3007.3 2048.6 L3012.0 2051.4 L3016.7 2053.2 L3020.5 2048.5 L3024.2 2046.2 L3028.0 2043.0 L3031.7 2041.4 L3035.5 2038.1 L3037.8 2033.9 L3040.2 2029.3 L3042.5 2025.7 L3044.8 2022.4 L3047.2 2018.4 L3049.5 2015.5 L3053.0 2017.2 L3056.6 2020.0 L3060.1 2020.9 L3063.6 2024.0 L3065.6 2027.2 L3067.6 2032.4 L3069.6 2035.6 L3071.6 2039.4 L3073.6 2042.6 L3075.6 2048.0 L3077.6 2052.2 L3081.5 2054.2 L3085.4 2055.0 L3089.3 2056.0 L3093.2 2058.5 L3097.1 2060.9 L3101.0 2061.2 L3104.9 2063.3 L3108.8 2064.8 L3112.7 2066.0 L3116.6 2067.1 L3120.5 2068.5 L3124.4 2070.6 L3127.1 2074.4 L3129.8 2076.9 L3132.5 2080.8 L3135.1 2085.3 L3137.8 2088.1 L3140.5 2091.5 L3143.2 2093.4 L3147.3 2091.8 L3151.4 2088.9 L3155.5 2087.6 L3159.6 2085.6 L3163.8 2086.9 L3168.0 2088.7 L3172.3 2091.1 L3176.5 2092.4 L3180.7 2093.8 L3183.0 2089.3 L3185.4 2086.8 L3187.7 2082.7 L3190.1 2080.8 L3192.4 2077.4 L3194.7 2074.2 L3197.1 2069.9 L3199.4 2066.4 L3199.7 2071.6 L3200.0 2078.2 L3203.7 2080.2 L3207.3 2080.8 L3211.0 2083.5 L3214.6 2084.7 L3218.3 2087.6 L3222.9 2085.5 L3227.4 2084.7 L3232.0 2082.4 L3236.6 2081.0 L3241.2 2082.7 L3245.8 2083.1 L3250.4 2083.6 L3255.0 2085.1 L3257.9 2089.8 L3260.8 2092.6 L3263.8 2097.6 L3266.7 2100.5 L3269.6 2104.0 L3273.3 2103.3 L3276.9 2101.5 L3280.6 2099.4 L3284.3 2096.7 L3288.0 2096.8 L3291.6 2099.0 L3295.3 2100.9 L3298.9 2103.0 L3302.6 2105.4 L3306.9 2106.1 L3311.2 2107.7 L3315.4 2108.1 L3319.7 2108.1 L3324.0 2109.2 L3328.3 2110.7 L3332.9 2113.4 L3337.4 2114.1 L3342.0 2116.9 L3346.6 2118.9 L3351.2 2117.3 L3355.8 2114.2 L3360.3 2113.4 L3364.9 2109.7 L3368.1 2106.2 L3371.3 2102.6 L3374.5 2100.2 L3377.7 2096.0 L3380.6 2098.6 L3383.6 2102.9 L3386.5 2106.2 L3389.5 2111.2 L3392.4 2114.7 L3395.4 2117.5 L3398.5 2120.8 L3401.6 2122.4 L3404.6 2123.9 L3407.6 2126.2 L3410.7 2130.5 L3415.0 2131.1 L3419.2 2132.7 L3423.5 2131.5 L3427.2 2134.8 L3430.8 2138.4 L3434.5 2140.0 L3438.2 2142.3 L3443.0 2143.5 L3447.7 2143.9 L3452.5 2141.6 L3457.2 2140.4 L3462.0 2140.9 L3466.4 2143.3 L3470.8 2146.3 L3475.2 2146.7 L3479.6 2147.9 L3484.0 2151.3 L3487.9 2151.9 L3491.9 2152.1 L3495.8 2152.7 L3499.7 2154.8 L3503.6 2155.2 L3507.6 2156.3 L3511.5 2156.7 L3515.4 2158.3 L3519.4 2160.1 L3523.3 2162.2 L3527.2 2163.2 L3531.1 2164.5 L3535.1 2164.9 L3539.0 2164.5 L3543.6 2167.2 L3548.2 2168.2 L3552.7 2171.1 L3557.3 2173.7 L3562.2 2173.6 L3567.1 2174.0 L3572.0 2172.6" stroke="#5e8867"/>
<path d="M1386.9 1962.3 L1376.3 1792.3 L1378.4 1783.9 L1388.3 1781.1 L1396.7 1783.9 L1399.5 1792.3 L1399.5 1851.3 L1405.1 1861.2 L1419.2 1851.3 L1433.2 1861.2 L1448.7 1864.0 L1454.3 1841.5 L1468.3 1840.1 L1481.0 1856.9 L1490.8 1876.6 L1502.1 1872.4 L1510.5 1837.3 L1524.5 1824.6 L1540.0 1830.2 L1552.6 1821.8 L1570.9 1827.4 L1573.7 1802.1 L1594.8 1790.9 L1611.6 1793.7 L1629.9 1792.3 L1636.9 1807.8 L1650.0 1810.6 L1650.0 1914.5 L1645.4 1911.7 L1638.3 1886.4 L1634.1 1845.7 L1622.9 1851.3 L1606.0 1849.9 L1593.4 1861.2 L1579.3 1861.2 L1575.1 1886.4 L1561.1 1893.5 L1548.4 1907.5 L1538.6 1903.3 L1521.7 1894.9 L1511.9 1903.3 L1510.5 1928.6 L1500.7 1937.0 L1490.8 1932.8 L1479.6 1908.9 L1468.3 1911.7 L1459.9 1917.3 L1448.7 1931.4 L1429.0 1928.6 L1419.2 1942.6 L1407.9 1955.3 L1393.9 1949.7 L1386.9 1962.3Z" fill="#00b453" stroke="none"/>
<path d="M523.9 848.1 L533.7 839.7 L545.0 851.0 L552.0 924.0 L552.0 977.4 L557.6 977.4 L566.0 985.8 L570.3 971.8 L580.1 966.0 L591.3 983.0 L598.4 1011.0 L599.8 1126.4 L606.8 1073.0 L618.0 1066.0 L629.3 1115.0 L633.5 1213.5 L640.5 1283.7 L649.0 1292.0 L651.8 1368.0 L668.6 1373.7 L685.5 1368.0 L696.7 1474.8 L709.4 1519.8 L713.6 1581.6 L722.0 1587.3 L719.2 1657.5 L696.7 1612.6 L682.7 1559.0 L668.6 1573.2 L657.4 1545.0 L643.3 1525.4 L632.0 1497.3 L629.3 1362.4 L620.9 1356.8 L612.4 1275.3 L606.8 1275.3 L604.0 1342.7 L592.7 1342.7 L584.3 1250.0 L584.3 1300.0 L578.7 1207.9 L574.5 1238.8 L564.6 1248.6 L553.4 1238.8 L552.0 1171.3 L545.0 1172.7 L535.0 1162.9 L530.9 1073.0 L523.9 1075.8Z" fill="#00b453" stroke="none"/>
<path d="M690.0 1540.0 L709.3 1540.0 L712.8 1578.6 L721.6 1589.0 L723.4 1659.4 L732.1 1656.0 L742.7 1648.9 L755.0 1648.9 L767.3 1640.0 L779.6 1647.0 L788.3 1703.3 L795.4 1706.8 L797.1 1668.2 L805.9 1654.2 L809.4 1571.6 L823.5 1552.3 L837.5 1562.8 L842.8 1627.8 L844.5 1673.5 L849.8 1645.4 L853.3 1615.5 L863.9 1610.2 L874.4 1619.0 L876.2 1636.6 L883.2 1645.4 L888.5 1710.4 L899.0 1713.9 L904.3 1736.7 L918.3 1750.7 L935.9 1756.0 L941.1 1817.5 L953.4 1822.8 L955.2 1840.0 L921.8 1840.0 L918.3 1789.4 L899.0 1789.4 L886.7 1773.6 L876.2 1764.8 L869.1 1738.5 L863.9 1720.9 L858.6 1735.0 L848.0 1743.7 L835.8 1733.2 L832.3 1713.9 L825.2 1715.6 L823.5 1731.4 L814.7 1742.0 L811.2 1796.4 L802.4 1817.5 L793.6 1819.2 L783.1 1810.5 L770.8 1740.2 L763.8 1738.5 L756.7 1749.0 L742.7 1747.2 L735.7 1754.3 L725.1 1763.0 L712.8 1754.3 L709.3 1719.1 L700.5 1680.5 L695.3 1615.5 L690.0 1589.2Z" fill="#00b453" stroke="none"/>
<path d="M524.0 1040.1 L525.1 1043.5 L526.3 1046.9 L527.5 1051.1 L528.6 1055.0 L529.8 1059.4 L530.9 1063.8 L531.0 1061.3 L531.0 1057.7 L531.1 1052.3 L531.1 1049.2 L531.2 1044.0 L531.2 1041.1 L531.3 1036.6 L531.3 1032.5 L531.4 1028.3 L531.4 1023.8 L531.5 1020.5 L531.5 1015.7 L531.6 1013.5 L531.6 1009.1 L531.7 1005.7 L531.7 1001.1 L531.8 996.9 L531.8 993.9 L531.9 988.3 L531.9 984.9 L532.0 981.6 L532.0 977.4 L532.1 972.3 L532.1 969.5 L532.2 966.2 L532.2 961.7 L532.3 958.0 L532.4 952.9 L532.4 948.7 L532.5 945.2 L532.5 941.2 L532.6 937.2 L532.6 933.8 L532.7 930.3 L532.7 925.7 L532.8 922.1 L532.8 917.5 L532.9 914.2 L532.9 908.9 L533.0 905.2 L533.0 900.2 L533.1 896.7 L533.1 894.0 L533.2 890.1 L533.2 885.5 L533.3 880.3 L533.3 876.7 L533.4 871.8 L533.4 869.5 L533.5 865.8 L533.5 862.4 L533.6 858.7 L533.6 852.8 L533.7 849.1 L533.9 853.8 L534.0 858.0 L534.2 861.4 L534.4 865.2 L534.5 868.6 L534.7 873.7 L534.9 877.3 L535.0 880.2 L535.2 885.1 L535.4 888.5 L535.5 891.8 L535.7 896.0 L535.9 901.5 L536.0 904.7 L536.2 910.2 L536.4 913.5 L536.5 916.4 L536.7 920.2 L536.9 924.9 L537.0 930.2 L537.2 934.1 L537.4 938.5 L537.5 941.5 L537.7 945.6 L537.9 948.9 L538.0 952.8 L538.2 958.2 L538.4 962.7 L538.5 966.6 L538.7 970.1 L538.9 972.9 L539.0 977.0 L539.2 982.5 L539.4 986.3 L539.5 989.4 L539.7 992.8 L539.9 998.2 L540.0 1002.9 L540.2 1007.4 L540.4 1010.8 L540.6 1014.6 L540.7 1018.9 L540.9 1023.3 L541.1 1027.7 L541.2 1031.8 L541.4 1034.0 L541.6 1037.8 L541.7 1042.3 L541.9 1045.6 L542.1 1049.3 L542.2 1053.9 L542.4 1057.6 L542.6 1061.1 L542.7 1067.1 L542.9 1070.8 L543.1 1073.9 L543.2 1078.5 L543.4 1083.0 L543.6 1087.1 L543.7 1090.6 L543.9 1095.0 L544.1 1099.3 L544.2 1101.8 L544.4 1106.2 L544.6 1110.9 L544.7 1114.1 L544.9 1117.5 L545.1 1123.1 L545.2 1126.3 L545.4 1130.0 L545.6 1135.3 L545.7 1139.1 L545.9 1142.9 L546.1 1147.1 L546.2 1150.4 L546.4 1154.3 L546.7 1149.7 L546.9 1145.7 L547.2 1142.4 L547.5 1138.3 L547.7 1135.1 L548.0 1130.7 L548.3 1127.8 L548.5 1124.5 L548.8 1119.7 L549.1 1114.8 L549.3 1110.5 L549.6 1107.5 L549.9 1102.8 L550.1 1100.0 L550.4 1094.8 L550.7 1091.5 L550.9 1086.1 L551.2 1082.3 L551.5 1078.7 L551.7 1074.8 L552.0 1071.0 L552.3 1067.5 L552.5 1062.8 L552.8 1057.7 L553.1 1053.6 L553.3 1050.1 L553.6 1046.0 L553.9 1042.3 L554.1 1039.3 L554.4 1034.8 L554.7 1030.4 L554.9 1026.0 L555.2 1023.6 L555.5 1018.3 L555.7 1015.4 L556.0 1010.8 L556.3 1006.7 L556.5 1003.1 L556.8 998.8 L557.1 995.3 L557.3 992.0 L557.6 987.8 L557.7 991.3 L557.8 994.6 L557.9 999.3 L558.0 1002.9 L558.1 1007.6 L558.2 1011.8 L558.2 1014.2 L558.3 1019.9 L558.4 1023.4 L558.5 1027.7 L558.6 1032.0 L558.7 1034.7 L558.8 1039.0 L558.9 1042.5 L559.0 1048.3 L559.1 1052.8 L559.2 1056.6 L559.3 1060.6 L559.3 1064.9 L559.4 1069.4 L559.5 1072.6 L559.6 1075.8 L559.7 1080.0 L559.8 1084.5 L559.9 1087.8 L560.0 1091.4 L560.1 1095.4 L560.2 1098.8 L560.3 1104.6 L560.4 1109.4 L560.4 1112.9 L560.5 1116.6 L560.6 1120.6 L560.7 1124.8 L560.8 1128.8 L560.9 1133.6 L561.0 1136.0 L561.1 1139.3 L561.2 1144.9 L561.3 1147.9 L561.4 1152.5 L561.5 1156.5 L561.5 1161.6 L561.6 1165.9 L561.7 1168.4 L561.8 1173.0 L561.9 1177.2 L562.0 1181.0 L562.1 1186.0 L562.2 1190.5 L562.3 1193.2 L562.4 1196.8 L562.5 1200.4 L562.6 1204.3 L562.6 1208.8 L562.7 1213.5 L562.8 1217.1 L562.9 1220.4 L563.0 1225.9 L563.1 1229.3 L563.2 1234.7 L563.5 1231.1 L563.7 1225.6 L564.0 1220.6 L564.3 1218.0 L564.5 1213.0 L564.8 1209.1 L565.0 1205.8 L565.3 1201.5 L565.6 1198.4 L565.8 1194.3 L566.1 1188.9 L566.4 1184.9 L566.6 1181.0 L566.9 1176.6 L567.2 1172.8 L567.4 1169.1 L567.7 1165.9 L568.0 1160.7 L568.2 1156.6 L568.5 1154.1 L568.7 1150.0 L569.0 1144.4 L569.3 1140.9 L569.5 1137.3 L569.8 1133.5 L570.1 1128.1 L570.3 1124.1 L570.6 1121.2 L570.9 1117.3 L571.1 1112.6 L571.4 1107.5 L571.7 1103.4 L571.9 1101.0 L572.2 1097.8 L572.4 1093.4 L572.7 1089.6 L573.0 1084.6 L573.2 1079.8 L573.5 1076.3 L573.8 1072.4 L574.0 1068.9 L574.3 1063.8 L574.6 1061.1 L574.8 1056.1 L575.1 1051.9 L575.3 1049.0 L575.6 1044.8 L575.9 1039.8 L576.1 1035.5 L576.4 1032.9 L576.7 1027.2 L576.9 1022.7 L577.2 1020.3 L577.5 1016.7 L577.7 1012.3 L578.0 1008.7 L578.3 1004.3 L578.5 999.5 L578.8 994.7 L579.0 990.2 L579.3 986.3 L579.6 981.8 L579.8 979.1 L580.1 975.2 L581.3 980.2 L582.6 985.2 L583.8 989.2 L585.0 993.7 L586.3 997.9 L587.5 1002.1 L588.8 1006.4 L590.0 1009.5 L590.1 1012.4 L590.2 1017.9 L590.3 1022.3 L590.3 1025.2 L590.4 1028.4 L590.5 1033.4 L590.6 1037.1 L590.7 1041.1 L590.8 1044.4 L590.9 1049.3 L590.9 1053.9 L591.0 1056.6 L591.1 1060.0 L591.2 1065.9 L591.3 1068.7 L591.4 1073.9 L591.5 1076.7 L591.5 1081.7 L591.6 1084.2 L591.7 1088.9 L591.8 1092.9 L591.9 1096.7 L592.0 1102.1 L592.0 1106.5 L592.1 1110.3 L592.2 1112.6 L592.3 1115.9 L592.4 1119.8 L592.5 1124.4 L592.6 1129.3 L592.6 1133.4 L592.7 1137.9 L592.8 1140.9 L592.9 1145.3 L593.0 1150.2 L593.1 1153.6 L593.2 1158.6 L593.2 1161.2 L593.3 1164.2 L593.4 1169.4 L593.5 1173.1 L593.6 1177.1 L593.7 1181.3 L593.8 1184.5 L593.8 1189.7 L593.9 1194.1 L594.0 1198.2 L594.1 1202.8 L594.2 1207.1 L594.3 1209.7 L594.4 1213.7 L594.4 1218.5 L594.5 1222.5 L594.6 1225.8 L594.7 1229.8 L594.8 1234.8 L594.9 1238.6 L595.0 1242.6 L595.0 1246.7 L595.1 1250.2 L595.2 1252.8 L595.3 1257.8 L595.4 1262.2 L595.5 1265.3 L595.5 1269.9 L595.6 1274.6 L595.7 1279.1 L595.8 1282.7 L595.9 1286.3 L596.0 1289.4 L596.1 1294.4 L596.1 1297.4 L596.2 1302.6 L596.3 1305.3 L596.4 1310.1 L596.5 1313.9 L596.6 1317.6 L596.7 1322.3 L596.7 1326.0 L596.8 1329.8 L596.9 1334.4 L597.0 1337.1 L597.3 1332.5 L597.6 1329.9 L598.0 1326.2 L598.3 1322.0 L598.6 1317.8 L598.9 1313.0 L599.3 1309.5 L599.6 1304.6 L599.9 1301.8 L600.2 1297.4 L600.6 1292.5 L600.9 1289.4 L601.2 1285.2 L601.5 1282.6 L601.8 1277.2 L602.2 1273.3 L602.5 1269.9 L602.8 1266.5 L603.1 1261.3 L603.5 1256.5 L603.8 1253.6 L604.1 1249.2 L604.4 1246.2 L604.8 1241.6 L605.1 1238.1 L605.4 1232.7 L605.7 1229.2 L606.0 1225.6 L606.4 1221.3 L606.7 1218.5 L607.0 1214.4 L607.3 1210.5 L607.7 1204.7 L608.0 1201.8 L608.3 1196.7 L608.6 1193.7 L609.0 1189.6 L609.3 1184.6 L609.6 1181.5 L609.9 1176.8 L610.2 1174.1 L610.6 1168.5 L610.9 1164.3 L611.2 1160.7 L611.5 1157.5 L611.9 1153.0 L612.2 1150.0 L612.5 1145.0 L612.8 1140.7 L613.2 1137.2 L613.5 1133.8 L613.8 1128.2 L614.1 1124.0 L614.4 1120.5 L614.8 1116.2 L615.1 1113.6 L615.4 1108.4 L615.7 1105.0 L616.1 1101.6 L616.4 1097.5 L616.7 1093.8 L617.0 1089.2 L617.4 1083.8 L617.7 1080.1 L618.0 1076.8 L619.1 1079.8 L620.3 1084.8 L621.4 1087.9 L622.5 1091.7 L623.6 1095.4 L624.8 1100.6 L625.9 1104.2 L627.0 1107.4 L628.2 1110.7 L629.3 1116.3 L629.4 1119.6 L629.6 1124.4 L629.7 1128.1 L629.9 1132.9 L630.0 1137.6 L630.1 1140.2 L630.3 1144.6 L630.4 1147.8 L630.6 1152.9 L630.7 1155.9 L630.8 1160.1 L631.0 1165.1 L631.1 1168.6 L631.3 1171.4 L631.4 1176.6 L631.5 1181.0 L631.7 1184.2 L631.8 1189.2 L632.0 1192.1 L632.1 1196.5 L632.2 1200.8 L632.4 1203.8 L632.5 1208.6 L632.7 1212.8 L632.8 1216.8 L632.9 1221.7 L633.1 1224.4 L633.2 1228.8 L633.4 1233.4 L633.5 1237.8 L633.6 1242.3 L633.8 1244.2 L633.9 1247.7 L634.1 1252.6 L634.2 1257.0 L634.3 1260.7 L634.5 1264.8 L634.6 1269.8 L634.8 1273.4 L634.9 1277.3 L635.0 1280.4 L635.2 1285.8 L635.3 1290.4 L635.5 1293.4 L635.6 1295.9 L635.7 1300.7 L635.9 1305.9 L636.0 1308.3 L636.2 1311.8 L636.3 1315.9 L636.4 1319.4 L636.6 1323.2 L636.7 1327.2 L636.9 1332.5 L637.0 1336.5 L637.1 1339.7 L637.3 1345.1 L637.4 1348.6 L637.6 1353.8 L637.7 1357.1 L637.8 1362.1 L638.0 1366.7 L638.1 1369.8 L638.3 1373.7 L638.4 1376.9 L638.5 1381.1 L638.7 1384.5 L638.8 1389.0 L639.0 1394.1 L639.1 1398.7 L639.2 1402.7 L639.4 1407.1 L639.5 1410.6 L639.7 1414.8 L639.8 1417.5 L639.9 1422.7 L640.1 1426.6 L640.2 1429.4 L640.4 1434.7 L640.5 1437.1 L640.6 1440.5 L640.8 1444.3 L640.9 1450.1 L641.1 1453.1 L641.2 1457.9 L641.3 1462.5 L641.5 1466.8 L641.6 1470.3 L641.8 1472.9 L641.9 1477.8 L642.0 1482.2 L642.2 1486.8 L642.3 1491.2 L642.5 1493.3 L642.6 1497.1 L642.7 1501.9 L642.9 1505.5 L643.0 1511.0 L643.2 1513.6 L643.3 1516.8 L643.7 1514.1 L644.1 1511.1 L644.5 1506.3 L644.9 1501.6 L645.3 1497.7 L645.6 1493.0 L646.0 1488.8 L646.4 1484.3 L646.8 1481.7 L647.2 1476.9 L647.6 1472.3 L648.0 1469.3 L648.4 1465.0 L648.8 1462.1 L649.2 1457.8 L649.6 1452.9 L650.0 1448.0 L650.3 1445.6 L650.7 1440.4 L651.1 1436.6 L651.5 1433.5 L651.9 1429.8 L652.3 1426.1 L652.7 1420.0 L653.1 1415.6 L653.5 1412.3 L653.9 1407.2 L654.3 1404.0 L654.7 1401.1 L655.0 1395.5 L655.4 1392.8 L655.8 1389.0 L656.2 1384.7 L656.6 1381.2 L657.0 1377.0 L657.4 1372.0 L657.6 1375.8 L657.9 1380.7 L658.1 1385.2 L658.3 1389.1 L658.6 1393.4 L658.8 1397.2 L659.0 1400.3 L659.3 1405.1 L659.5 1407.6 L659.7 1411.5 L660.0 1415.0 L660.2 1419.6 L660.4 1424.0 L660.7 1428.8 L660.9 1432.3 L661.1 1435.7 L661.4 1440.0 L661.6 1444.3 L661.8 1449.4 L662.1 1453.2 L662.3 1457.3 L662.5 1461.2 L662.8 1463.8 L663.0 1467.5 L663.2 1471.6 L663.5 1476.4 L663.7 1480.8 L663.9 1485.3 L664.2 1489.7 L664.4 1494.1 L664.6 1497.8 L664.9 1500.4 L665.1 1503.8 L665.3 1507.9 L665.6 1512.2 L665.8 1517.9 L666.0 1521.9 L666.3 1526.2 L666.5 1530.6 L666.7 1533.7 L667.0 1536.6 L667.2 1541.3 L667.4 1544.7 L667.7 1550.2 L667.9 1552.9 L668.1 1558.5 L668.4 1561.6 L668.6 1564.9 L668.9 1561.2 L669.2 1556.3 L669.6 1552.9 L669.9 1548.2 L670.2 1544.9 L670.5 1541.3 L670.8 1538.5 L671.2 1533.3 L671.5 1529.6 L671.8 1526.0 L672.1 1521.7 L672.5 1516.9 L672.8 1512.0 L673.1 1508.5 L673.4 1505.1 L673.7 1500.5 L674.1 1497.7 L674.4 1492.4 L674.7 1488.1 L675.0 1485.5 L675.3 1481.8 L675.7 1477.1 L676.0 1473.0 L676.3 1469.3 L676.6 1464.7 L676.9 1459.5 L677.3 1455.9 L677.6 1451.5 L677.9 1449.1 L678.2 1444.7 L678.5 1440.6 L678.9 1435.9 L679.2 1433.2 L679.5 1428.4 L679.8 1424.7 L680.1 1420.3 L680.5 1415.6 L680.8 1411.5 L681.1 1408.9 L681.4 1404.3 L681.8 1399.5 L682.1 1395.0 L682.4 1392.3 L682.7 1388.9 L683.0 1384.1 L683.4 1379.8 L683.7 1375.0 L684.0 1372.3 L684.9 1376.6 L685.8 1379.6 L686.7 1384.3 L687.6 1387.2 L688.5 1391.6 L689.5 1395.2 L690.4 1399.5 L691.3 1403.9 L692.2 1409.1 L693.1 1412.6 L694.0 1416.6 L694.3 1421.7 L694.6 1426.2 L695.0 1428.8 L695.3 1432.6 L695.6 1436.1 L695.9 1439.8 L696.3 1443.8 L696.6 1449.7 L696.9 1452.7 L697.2 1458.4 L697.6 1462.6 L697.9 1465.5 L698.2 1471.3 L698.5 1475.0 L698.9 1478.7 L699.2 1482.2 L699.5 1487.1 L700.1 1491.4 L700.7 1495.6 L701.3 1498.6 L701.9 1503.7 L702.6 1507.4 L703.2 1510.9 L703.8 1515.1 L704.4 1519.5 L705.0 1522.2 L705.3 1526.7 L705.5 1531.8 L705.8 1534.8 L706.1 1540.0 L706.3 1542.5 L706.6 1546.3 L706.8 1551.4 L707.1 1556.3 L707.4 1560.4 L707.6 1564.6 L707.9 1567.7 L708.2 1570.4 L708.4 1576.1 L708.7 1580.9 L708.9 1583.1 L709.2 1588.5 L709.5 1593.1 L709.7 1596.4 L710.0 1600.9 L710.3 1605.1 L710.5 1608.5 L710.8 1611.3 L711.1 1614.6 L711.3 1618.6 L711.6 1622.5 L711.8 1626.8 L712.1 1632.4 L712.4 1636.8 L712.6 1641.2 L712.9 1643.8 L713.2 1648.6 L713.4 1652.6 L713.7 1656.5 L713.9 1660.1 L714.2 1664.8 L714.5 1667.4 L714.7 1671.8 L715.0 1675.0 L715.3 1678.9 L715.5 1683.5 L715.8 1688.2 L716.1 1691.5 L716.3 1695.2 L716.6 1699.7 L716.8 1704.3 L717.1 1709.0 L717.4 1711.5 L717.6 1715.7 L717.9 1720.7 L718.2 1723.4 L718.4 1727.0 L718.7 1731.5 L718.9 1734.9 L719.2 1740.3 L719.5 1743.4 L719.7 1748.0 L720.0 1753.0 L720.5 1748.2 L721.0 1745.2 L721.5 1741.6 L722.0 1737.5 L722.5 1732.8 L723.0 1728.6 L723.4 1724.1 L723.9 1720.0 L724.4 1717.3 L724.9 1713.0 L725.4 1708.0 L725.9 1704.5 L726.4 1699.5 L726.9 1695.1 L727.4 1692.8 L727.9 1688.9 L728.4 1684.1 L728.8 1680.7 L729.3 1676.9 L729.8 1672.7 L730.3 1667.9 L730.8 1664.6 L731.3 1659.4 L731.8 1655.0 L732.5 1659.1 L733.2 1663.1 L734.0 1668.3 L734.7 1672.3 L735.4 1676.4 L736.1 1680.0 L736.9 1683.1 L737.6 1687.7 L738.3 1692.3 L739.0 1697.5 L739.8 1700.2 L740.5 1704.2 L741.2 1707.3 L741.9 1712.0 L742.7 1716.8 L743.4 1719.7 L744.1 1724.6 L744.8 1728.5 L745.6 1733.8 L746.3 1736.8 L747.0 1742.1 L747.9 1736.3 L748.8 1732.3 L749.8 1727.6 L750.7 1724.2 L751.6 1720.3 L752.5 1716.8 L753.4 1713.8 L754.4 1708.9 L755.3 1704.7 L756.2 1701.7 L757.1 1697.2 L758.0 1693.3 L759.0 1688.1 L759.9 1685.2 L760.8 1681.5 L761.7 1678.1 L762.6 1673.2 L763.6 1669.5 L764.5 1665.2 L765.4 1660.4 L766.3 1657.5 L767.2 1653.9 L768.2 1648.6 L769.1 1645.2 L770.0 1640.4 L770.6 1644.9 L771.2 1650.0 L771.7 1654.2 L772.3 1657.8 L772.9 1660.9 L773.5 1665.9 L774.0 1669.4 L774.6 1674.8 L775.2 1679.3 L775.8 1681.2 L776.4 1684.4 L776.9 1690.3 L777.5 1693.7 L778.1 1698.7 L778.7 1702.8 L779.2 1705.3 L779.8 1709.4 L780.4 1712.8 L781.0 1717.0 L781.6 1721.4 L782.1 1726.7 L782.7 1731.2 L783.3 1735.5 L783.9 1738.5 L784.5 1741.6 L785.0 1745.0 L785.6 1750.3 L786.2 1753.2 L786.8 1758.9 L787.3 1761.8 L787.9 1765.9 L788.5 1770.1 L789.1 1775.4 L789.7 1779.9 L790.2 1781.9 L790.8 1785.6 L791.4 1790.1 L792.0 1794.3 L792.5 1798.5 L793.1 1802.9 L793.7 1807.1 L794.1 1803.2 L794.4 1799.3 L794.8 1793.6 L795.2 1791.1 L795.5 1786.3 L795.9 1782.3 L796.2 1779.3 L796.6 1773.5 L797.0 1769.8 L797.3 1766.6 L797.7 1761.1 L798.1 1757.7 L798.4 1752.6 L798.8 1749.3 L799.1 1745.1 L799.5 1740.8 L799.9 1736.7 L800.2 1734.2 L800.6 1729.0 L801.0 1724.9 L801.3 1721.2 L801.7 1717.3 L802.0 1713.8 L802.4 1708.7 L802.8 1703.6 L803.1 1701.0 L803.5 1695.9 L803.9 1691.9 L804.2 1688.4 L804.6 1684.8 L804.9 1680.1 L805.3 1675.8 L805.7 1672.2 L806.0 1668.2 L806.4 1664.7 L807.1 1660.7 L807.9 1657.1 L808.6 1651.9 L809.3 1646.9 L810.0 1642.9 L810.8 1640.8 L811.5 1635.4 L812.2 1631.9 L812.9 1627.8 L813.7 1624.1 L814.4 1619.5 L815.1 1615.0 L815.8 1610.7 L816.6 1607.6 L817.3 1604.7 L818.0 1600.9 L818.7 1596.6 L819.5 1591.8 L820.2 1587.9 L820.9 1583.8 L821.6 1580.7 L822.4 1576.7 L823.1 1572.6 L823.8 1568.8 L824.5 1566.0 L825.3 1560.7 L826.0 1555.9 L826.2 1559.4 L826.5 1564.8 L826.7 1569.4 L827.0 1572.0 L827.2 1576.4 L827.4 1580.8 L827.7 1585.9 L827.9 1590.2 L828.1 1593.6 L828.4 1597.7 L828.6 1602.5 L828.9 1606.4 L829.1 1609.3 L829.3 1612.9 L829.6 1617.6 L829.8 1620.7 L830.0 1626.0 L830.3 1629.1 L830.5 1633.6 L830.8 1637.8 L831.0 1642.1 L831.2 1645.1 L831.5 1648.2 L831.7 1652.1 L832.0 1656.7 L832.2 1659.9 L832.4 1663.7 L832.7 1669.2 L832.9 1672.3 L833.1 1677.9 L833.4 1680.7 L833.6 1685.2 L833.9 1690.2 L834.1 1694.6 L834.3 1696.9 L834.6 1702.3 L834.8 1706.1 L835.0 1709.9 L835.3 1714.2 L835.5 1718.7 L835.8 1722.2 L836.0 1725.5 L839.9 1729.0 L843.8 1732.2 L847.7 1735.7 L851.6 1737.4 L852.0 1732.1 L852.4 1727.5 L852.8 1724.5 L853.3 1721.8 L853.7 1718.1 L854.1 1713.2 L854.5 1709.9 L854.9 1705.5 L855.3 1700.0 L855.7 1696.6 L856.1 1691.9 L856.6 1687.5 L857.0 1685.1 L857.4 1681.6 L857.8 1676.7 L858.2 1672.0 L858.6 1667.5 L859.0 1663.7 L859.5 1660.9 L859.9 1656.4 L860.3 1652.9 L860.7 1647.6 L861.1 1643.6 L861.5 1639.2 L861.9 1636.4 L862.3 1633.1 L862.8 1627.4 L863.2 1623.5 L863.6 1619.1 L864.0 1614.8 L866.1 1619.3 L868.2 1624.7 L870.3 1628.5 L872.4 1631.5 L874.5 1636.7 L876.6 1641.0 L878.7 1644.7 L879.1 1649.2 L879.4 1651.7 L879.8 1655.4 L880.2 1659.4 L880.5 1664.6 L880.9 1668.0 L881.3 1671.4 L881.6 1675.2 L882.0 1680.2 L882.3 1685.0 L882.7 1688.4 L883.1 1692.4 L883.4 1696.1 L883.8 1700.7 L884.2 1704.8 L884.5 1707.2 L884.9 1712.4 L885.3 1716.8 L885.6 1719.2 L886.0 1723.4 L886.4 1728.5 L886.7 1732.1 L887.1 1735.4 L887.4 1738.6 L887.8 1744.5 L888.2 1748.0 L888.5 1752.8 L888.9 1757.5 L889.3 1761.7 L889.6 1764.7 L890.0 1768.1 L890.7 1764.2 L891.5 1760.9 L892.2 1756.9 L892.9 1751.3 L893.6 1748.1 L894.4 1742.6 L895.1 1738.8 L895.8 1735.3 L896.5 1729.6 L897.3 1726.2 L898.0 1721.3 L899.9 1725.6 L901.9 1730.5 L903.8 1733.8 L905.7 1737.9 L907.6 1740.8 L909.6 1745.6 L911.5 1748.9 L913.4 1753.4 L915.4 1756.1 L917.3 1761.0 L922.5 1759.6 L927.6 1757.3 L932.8 1756.0 L933.4 1760.8 L934.1 1765.6 L934.7 1769.3 L935.4 1774.0 L936.0 1776.4 L936.7 1779.8 L937.3 1784.6 L938.0 1788.3 L938.6 1793.0 L939.2 1797.7 L939.9 1801.6 L940.5 1806.1 L941.2 1809.9 L941.8 1813.8 L942.5 1818.8 L943.1 1821.4 L943.8 1824.9 L944.4 1829.3 L947.0 1832.9 L949.5 1835.4 L952.1 1839.1 L954.7 1842.6 L957.2 1847.2 L959.8 1849.2 L962.4 1851.9 L964.9 1855.5 L967.5 1859.9 L968.3 1862.3 L969.1 1867.6 L969.9 1871.8 L970.7 1875.1 L971.5 1879.6 L972.4 1883.1 L973.2 1886.5 L974.0 1890.8 L974.8 1895.6 L975.6 1899.1 L976.4 1903.8 L977.2 1907.5 L978.0 1910.3 L978.8 1914.2 L979.6 1917.4 L980.4 1921.5 L981.2 1925.6 L982.0 1930.0 L982.9 1934.9 L983.7 1938.7 L984.5 1942.1 L985.3 1946.3 L986.1 1949.5 L986.9 1954.5 L991.3 1955.8 L995.6 1957.3 L1000.0 1957.5 L1002.3 1955.2 L1004.7 1950.8 L1007.0 1946.7 L1009.4 1943.4 L1011.7 1940.2 L1012.4 1943.5 L1013.1 1947.4 L1013.8 1951.5 L1014.5 1957.2 L1015.1 1960.2 L1015.8 1963.7 L1016.5 1968.7 L1017.2 1974.3 L1017.9 1977.7 L1018.6 1982.7 L1019.3 1985.6 L1020.0 1990.7 L1020.6 1993.3 L1021.3 1999.0 L1022.0 2002.5 L1022.7 2007.3 L1023.4 2010.6 L1024.2 2007.4 L1024.9 2001.7 L1025.7 1997.4 L1026.5 1995.1 L1027.2 1989.5 L1028.0 1986.3 L1028.8 1981.7 L1029.5 1977.7 L1030.3 1973.3 L1031.1 1969.4 L1031.8 1965.9 L1032.6 1962.7 L1033.3 1957.9 L1034.1 1953.7 L1034.9 1948.7 L1035.6 1946.2 L1036.4 1941.7 L1037.2 1937.7 L1037.9 1932.5 L1038.7 1928.4 L1039.5 1924.8 L1040.2 1922.0 L1041.0 1917.7 L1045.4 1916.4 L1049.8 1917.1 L1054.1 1918.0 L1058.5 1917.7 L1059.2 1921.4 L1059.9 1926.2 L1060.6 1930.8 L1061.3 1932.9 L1062.0 1937.3 L1062.7 1942.0 L1063.4 1945.0 L1064.1 1950.1 L1064.7 1954.3 L1065.4 1959.2 L1066.1 1961.7 L1066.8 1966.9 L1067.5 1971.1 L1068.2 1975.8 L1068.9 1978.4 L1069.6 1983.7 L1070.3 1988.5 L1074.2 1990.0 L1078.1 1992.3 L1082.0 1993.1 L1083.2 1989.8 L1084.3 1984.3 L1085.5 1981.0 L1086.7 1976.6 L1087.8 1974.3 L1089.0 1971.1 L1090.2 1966.0 L1091.3 1961.7 L1092.5 1956.9 L1093.7 1954.0 L1094.8 1949.7 L1096.0 1945.0 L1097.2 1942.8 L1098.3 1938.8 L1099.5 1934.1 L1101.7 1937.9 L1103.9 1942.6 L1106.1 1946.7 L1108.3 1950.8 L1110.5 1953.0 L1112.7 1956.8 L1114.9 1960.2 L1117.1 1963.3 L1120.8 1966.7 L1124.4 1968.9 L1128.0 1971.4 L1131.7 1972.3 L1133.3 1975.7 L1135.0 1981.0 L1136.6 1984.6 L1138.2 1987.6 L1139.9 1992.2 L1141.5 1996.2 L1143.1 2000.5 L1144.8 2003.6 L1146.4 2007.4 L1148.0 2002.6 L1149.6 2000.2 L1151.2 1995.0 L1152.8 1990.8 L1154.4 1987.2 L1155.9 1983.9 L1157.5 1979.8 L1159.1 1975.7 L1160.7 1972.6 L1162.3 1967.5 L1163.9 1962.9 L1165.9 1966.5 L1167.8 1970.9 L1169.8 1975.7 L1171.7 1980.0 L1173.6 1983.5 L1175.6 1986.9 L1176.2 1991.8 L1176.8 1995.9 L1177.4 1999.8 L1178.0 2003.4 L1178.7 2008.3 L1179.3 2012.4 L1179.9 2016.4 L1180.5 2019.9 L1181.1 2023.4 L1181.7 2027.4 L1182.3 2031.5 L1182.9 2036.7 L1183.6 2039.9 L1184.2 2044.3 L1184.8 2048.2 L1185.4 2051.8 L1186.0 2055.6 L1186.6 2059.5 L1187.2 2064.8 L1187.8 2067.7 L1188.5 2071.6 L1189.1 2075.0 L1189.7 2080.0 L1190.3 2084.6 L1191.2 2079.4 L1192.0 2075.4 L1192.9 2071.0 L1193.7 2068.5 L1194.6 2064.8 L1195.5 2060.4 L1196.3 2056.1 L1197.2 2053.2 L1198.0 2049.5 L1198.9 2043.9 L1199.7 2040.3 L1200.6 2036.2 L1201.5 2031.4 L1202.3 2027.1 L1203.2 2024.5 L1204.0 2019.6 L1204.9 2015.3 L1207.1 2019.9 L1209.3 2023.1 L1211.5 2027.7 L1213.7 2031.6 L1215.9 2034.7 L1218.1 2038.0 L1220.3 2043.0 L1222.5 2047.1 L1223.4 2042.0 L1224.2 2037.1 L1225.1 2033.6 L1226.0 2030.0 L1226.9 2026.6 L1227.8 2021.0 L1228.6 2018.3 L1229.5 2013.9 L1230.4 2009.4 L1231.2 2005.9 L1232.1 2000.7 L1233.0 1996.0 L1233.9 1992.0 L1234.8 1989.4 L1235.6 1985.8 L1236.5 1980.4 L1237.4 1976.3 L1238.2 1972.6 L1239.1 1969.3 L1240.0 1965.3 L1242.9 1960.7 L1245.9 1957.1 L1248.8 1955.8 L1251.7 1953.0 L1254.7 1950.5 L1257.6 1947.9 L1258.2 1950.3 L1258.8 1954.6 L1259.4 1958.0 L1260.1 1963.4 L1260.7 1967.2 L1261.3 1970.9 L1261.9 1974.2 L1262.5 1979.7 L1263.1 1983.8 L1263.8 1989.0 L1264.4 1993.3 L1265.0 1996.1 L1265.6 2000.5 L1266.2 2005.8 L1266.8 2008.9 L1267.5 2013.0 L1268.1 2016.6 L1268.7 2021.5 L1269.3 2024.4 L1271.5 2021.4 L1273.7 2018.7 L1275.9 2014.1 L1278.1 2011.5 L1280.3 2008.5 L1282.5 2003.5 L1284.7 1999.9 L1286.9 1996.2 L1288.8 1999.6 L1290.8 2003.2 L1292.7 2006.6 L1294.7 2012.0 L1296.6 2017.0 L1298.6 2020.3 L1300.5 2024.0 L1302.5 2028.9 L1304.4 2031.3 L1306.9 2028.6 L1309.4 2024.0 L1311.9 2021.1 L1314.5 2016.8 L1317.0 2011.9 L1319.5 2007.9 L1322.0 2003.9 L1324.3 2000.2 L1326.7 1998.4 L1329.0 1994.2 L1331.4 1991.9 L1333.7 1988.5 L1335.7 1992.2 L1337.6 1994.6 L1339.6 1998.5 L1341.5 2002.7 L1343.5 2006.5 L1345.4 2010.4 L1347.4 2014.6 L1349.3 2018.8 L1351.3 2022.7 L1353.7 2018.2 L1356.2 2016.5 L1358.6 2012.8 L1361.0 2008.4 L1363.5 2004.4 L1365.9 2001.0 L1366.5 1998.5 L1367.0 1993.0 L1367.6 1989.3 L1368.1 1984.3 L1368.7 1981.0 L1369.2 1976.6 L1369.8 1973.0 L1370.3 1967.8 L1370.9 1964.6 L1371.4 1961.3 L1372.0 1955.6 L1372.5 1951.7 L1373.0 1947.4 L1373.6 1943.6 L1374.2 1940.0 L1374.7 1935.8 L1375.0 1930.2 L1375.3 1927.0 L1375.7 1922.4 L1376.0 1919.1 L1376.3 1915.0 L1376.6 1910.1 L1376.9 1905.2 L1377.2 1901.9 L1377.6 1898.7 L1377.9 1893.5 L1378.2 1889.1 L1378.5 1886.2 L1378.8 1883.2 L1379.1 1878.1 L1379.5 1873.8 L1379.8 1870.6 L1380.1 1865.8 L1380.4 1861.8 L1380.7 1857.2 L1381.0 1852.7 L1381.4 1849.2 L1381.7 1845.1 L1382.0 1841.1 L1382.3 1836.5 L1382.6 1833.4 L1382.9 1829.0 L1383.3 1824.4 L1383.6 1821.1 L1383.9 1818.1 L1384.2 1814.4 L1384.5 1810.0 L1384.8 1805.7 L1385.2 1802.1 L1385.5 1796.4 L1385.8 1793.1 L1389.9 1791.9 L1390.2 1797.3 L1390.6 1801.9 L1391.0 1806.3 L1391.3 1809.6 L1391.7 1813.0 L1392.0 1817.0 L1392.4 1822.3 L1392.7 1824.7 L1393.0 1828.5 L1393.4 1833.6 L1393.8 1836.7 L1394.1 1841.6 L1394.5 1846.3 L1394.8 1849.3 L1395.2 1853.3 L1395.5 1857.4 L1395.8 1862.5 L1396.2 1866.9 L1396.5 1869.9 L1396.9 1873.3 L1397.2 1877.1 L1397.6 1882.7 L1398.0 1886.0 L1398.3 1890.9 L1398.6 1893.9 L1399.0 1898.3 L1399.3 1902.9 L1399.7 1906.6 L1400.0 1911.5 L1400.4 1914.2 L1400.8 1917.7 L1401.1 1921.5 L1402.0 1918.1 L1402.8 1915.1 L1403.7 1912.4 L1404.5 1908.0 L1405.4 1903.4 L1406.3 1899.6 L1407.1 1894.7 L1408.0 1891.2 L1408.8 1888.2 L1409.7 1885.0 L1410.5 1880.3 L1411.4 1876.6 L1412.3 1871.9 L1413.1 1867.2 L1414.0 1862.8 L1414.8 1859.2 L1415.7 1856.6 L1417.1 1860.8 L1418.4 1863.2 L1419.8 1867.1 L1421.1 1871.1 L1422.5 1875.0 L1423.8 1878.6 L1425.2 1883.4 L1426.5 1887.7 L1427.9 1890.3 L1429.2 1894.4 L1430.6 1897.3 L1431.9 1900.9 L1433.3 1905.0 L1434.7 1902.8 L1436.1 1897.8 L1437.4 1894.4 L1438.8 1890.5 L1440.2 1885.9 L1441.6 1882.1 L1442.9 1878.8 L1444.3 1876.0 L1445.7 1870.7 L1447.1 1867.8 L1448.4 1864.7 L1449.8 1860.7 L1451.2 1857.1 L1452.6 1852.6 L1453.9 1850.0 L1455.3 1845.0 L1456.7 1841.3 L1461.1 1843.9 L1465.5 1845.8 L1469.8 1845.5 L1474.2 1846.6 L1475.3 1851.3 L1476.5 1854.9 L1477.6 1860.1 L1478.8 1862.8 L1479.9 1866.1 L1481.0 1869.6 L1482.2 1873.5 L1483.3 1877.5 L1484.5 1880.9 L1485.6 1886.0 L1486.7 1890.8 L1487.9 1893.9 L1489.0 1898.2 L1490.1 1902.4 L1491.3 1906.6 L1492.4 1910.9 L1493.6 1915.0 L1494.7 1918.4 L1495.4 1913.0 L1496.0 1909.8 L1496.7 1906.3 L1497.3 1902.7 L1498.0 1897.8 L1498.7 1894.1 L1499.3 1890.4 L1500.0 1885.7 L1501.5 1881.0 L1503.1 1877.8 L1504.6 1872.9 L1506.2 1867.9 L1507.7 1863.9 L1509.4 1860.7 L1511.1 1857.3 L1512.9 1851.9 L1514.6 1849.5 L1516.3 1845.2 L1518.0 1840.9 L1519.8 1836.2 L1521.5 1832.0 L1523.2 1829.9 L1524.3 1833.6 L1525.3 1836.3 L1526.4 1840.1 L1527.4 1843.9 L1528.5 1847.4 L1529.5 1851.0 L1530.6 1856.5 L1531.6 1861.5 L1532.7 1863.6 L1533.7 1867.2 L1534.8 1870.4 L1537.7 1875.0 L1540.6 1878.3 L1543.5 1881.9 L1546.4 1886.4 L1547.3 1883.3 L1548.2 1880.0 L1549.1 1875.8 L1550.0 1871.0 L1550.9 1866.0 L1551.8 1861.4 L1552.6 1858.5 L1553.5 1853.3 L1554.4 1849.1 L1555.3 1845.9 L1556.2 1840.5 L1557.1 1836.8 L1558.0 1832.7 L1559.2 1837.2 L1560.3 1840.9 L1561.5 1843.7 L1562.6 1848.5 L1563.8 1851.8 L1565.0 1856.4 L1566.1 1859.5 L1567.3 1863.4 L1568.4 1867.9 L1569.6 1870.8 L1570.3 1867.4 L1571.0 1862.6 L1571.6 1859.0 L1572.3 1855.3 L1573.0 1850.7 L1573.7 1846.7 L1574.3 1842.8 L1575.0 1838.5 L1575.7 1834.3 L1576.4 1830.6 L1577.0 1827.4 L1577.7 1822.4 L1578.4 1819.8 L1579.1 1814.7 L1579.7 1809.6 L1580.4 1805.3 L1581.1 1802.3 L1585.0 1800.7 L1588.9 1799.1 L1592.7 1795.6 L1596.6 1792.0 L1600.5 1789.3 L1601.5 1794.9 L1602.4 1800.5 L1603.4 1804.4 L1604.3 1808.7 L1605.3 1812.3 L1606.3 1817.1 L1607.2 1820.6 L1608.2 1825.8 L1610.4 1822.2 L1612.6 1818.3 L1614.8 1813.8 L1617.0 1809.5 L1619.2 1804.9 L1621.4 1801.0 L1623.6 1797.8 L1624.1 1803.0 L1624.6 1808.3 L1625.1 1811.1 L1625.5 1815.5 L1626.0 1820.8 L1626.5 1824.9 L1627.0 1828.3 L1627.5 1832.4 L1631.6 1835.8 L1635.8 1836.9 L1639.9 1839.3 L1644.0 1840.7 L1644.9 1844.8 L1645.8 1849.0 L1646.7 1852.9 L1647.6 1858.6 L1648.5 1861.5 L1649.4 1866.4 L1650.3 1870.0 L1651.2 1874.9 L1652.1 1877.7 L1653.0 1883.0 L1653.9 1886.2 L1654.8 1891.1 L1655.7 1894.2 L1658.1 1898.2 L1660.6 1903.3 L1663.0 1905.8 L1665.4 1910.8 L1667.9 1914.4 L1670.3 1918.6 L1673.2 1920.9 L1676.2 1923.3 L1679.1 1926.7 L1682.0 1929.6 L1684.9 1934.2 L1687.9 1937.1 L1690.8 1940.1 L1694.2 1942.6 L1697.6 1947.1 L1701.0 1949.6 L1704.5 1952.6 L1707.9 1956.4 L1711.3 1960.1 L1715.7 1957.4 L1720.1 1956.6 L1724.5 1955.0 L1728.9 1952.7 L1730.2 1956.3 L1731.4 1961.0 L1732.7 1965.6 L1733.9 1968.9 L1735.2 1972.8 L1736.4 1978.7 L1737.7 1982.4 L1738.5 1985.5 L1739.4 1990.3 L1740.2 1995.9 L1741.0 1999.5 L1741.8 2004.6 L1742.7 2007.4 L1743.5 2012.6 L1746.4 2016.0 L1749.4 2017.1 L1752.3 2019.2 L1755.2 2023.8 L1758.2 2025.3 L1761.1 2028.0 L1763.3 2032.1 L1765.5 2035.6 L1767.7 2039.9 L1769.9 2044.6 L1772.1 2048.4 L1774.3 2051.5 L1776.5 2053.9 L1778.7 2058.1 L1782.0 2060.6 L1785.4 2063.4 L1788.7 2066.6 L1792.1 2069.2 L1795.4 2072.4 L1798.8 2073.4 L1802.1 2076.5 L1806.0 2077.5 L1809.9 2079.8 L1813.8 2081.9 L1817.7 2083.1 L1821.6 2083.5 L1825.5 2084.6 L1829.6 2086.5 L1833.7 2088.8 L1837.8 2092.1 L1841.9 2094.3 L1846.0 2097.2 L1848.9 2100.9 L1851.9 2104.0 L1854.8 2108.3 L1857.8 2111.3 L1860.7 2113.6 L1862.7 2109.7 L1864.6 2107.5 L1866.6 2102.2 L1868.5 2099.3 L1870.5 2096.1 L1872.4 2092.1 L1873.0 2088.4 L1873.7 2083.5 L1874.3 2079.8 L1874.9 2076.3 L1875.6 2071.6 L1876.2 2066.3 L1876.8 2063.4 L1877.5 2059.2 L1878.1 2054.1 L1878.8 2050.9 L1879.4 2047.6 L1880.0 2042.8 L1880.7 2039.4 L1881.3 2034.4 L1881.9 2030.6 L1882.6 2027.9 L1883.2 2023.6 L1883.8 2020.4 L1884.5 2017.0 L1885.1 2011.4 L1885.8 2014.9 L1886.6 2020.3 L1887.3 2023.2 L1888.0 2027.5 L1888.8 2032.7 L1889.5 2037.4 L1890.2 2042.4 L1891.0 2045.5 L1891.7 2048.4 L1892.4 2052.7 L1893.2 2057.0 L1893.9 2060.4 L1897.8 2063.5 L1901.7 2064.5 L1905.6 2066.4 L1909.5 2068.7 L1913.4 2070.0 L1917.3 2072.8 L1921.1 2070.4 L1924.8 2068.4 L1928.6 2067.5 L1932.4 2066.1 L1936.2 2064.5 L1939.9 2063.1 L1943.7 2060.7 L1948.4 2061.7 L1953.1 2062.0 L1957.7 2062.9 L1962.4 2064.8 L1967.1 2065.0 L1971.0 2063.1 L1974.9 2062.1 L1978.8 2061.2 L1982.7 2059.4 L1986.6 2057.6 L1990.5 2055.5 L1994.9 2056.9 L1999.3 2057.5 L2003.7 2057.2 L2008.1 2058.8 L2012.5 2059.4 L2016.9 2058.6 L2021.0 2059.4 L2025.1 2061.7 L2029.2 2062.5 L2033.3 2064.8 L2037.4 2064.7 L2040.7 2067.8 L2044.1 2071.9 L2047.4 2075.0 L2050.8 2076.2 L2054.1 2079.3 L2057.5 2082.5 L2060.8 2084.4 L2064.5 2087.6 L2068.1 2091.2 L2071.8 2094.1 L2075.4 2096.8 L2079.1 2098.5 L2082.7 2101.7 L2086.3 2103.4 L2090.0 2106.4 L2092.2 2109.1 L2094.4 2112.7 L2096.6 2116.5 L2098.8 2119.9 L2101.0 2123.5 L2103.2 2128.0 L2105.4 2131.2 L2107.6 2134.9 L2111.5 2137.3 L2115.4 2137.2 L2119.3 2137.5 L2123.2 2139.5 L2127.1 2139.4 L2131.0 2140.1 L2134.9 2142.5 L2138.8 2142.6 L2142.7 2144.8 L2146.9 2146.4 L2151.1 2146.9 L2155.3 2147.6 L2159.4 2148.1 L2163.6 2149.5 L2167.8 2152.5 L2172.0 2153.8 L2175.8 2157.1 L2179.5 2158.5 L2183.3 2161.6 L2187.1 2162.6 L2190.9 2165.1 L2194.6 2168.8 L2198.4 2170.0 L2201.3 2168.3 L2204.2 2164.5 L2207.2 2160.3 L2210.1 2156.4 L2213.0 2154.3 L2216.9 2156.7 L2220.8 2158.0 L2224.7 2158.6 L2228.6 2160.4 L2232.5 2163.8 L2236.4 2165.0 L2240.3 2164.0 L2244.2 2161.8 L2248.1 2161.0 L2252.0 2160.3 L2255.9 2158.2 L2259.8 2157.5 L2260.2 2153.9 L2260.7 2150.2 L2261.1 2146.1 L2261.5 2140.6 L2262.0 2137.7 L2262.4 2133.3 L2262.8 2128.2 L2263.3 2123.5 L2263.7 2120.4 L2264.1 2116.2 L2264.6 2112.5 L2265.0 2108.8 L2265.4 2103.4 L2265.9 2100.9 L2266.3 2096.5 L2266.7 2093.5 L2267.2 2088.0 L2267.6 2085.3 L2268.0 2079.8 L2268.5 2077.3 L2268.9 2073.5 L2269.3 2070.0 L2269.8 2066.1 L2270.2 2060.2 L2270.6 2057.0 L2271.1 2053.1 L2271.5 2049.3 L2275.9 2050.0 L2280.3 2051.0 L2284.7 2051.4 L2289.1 2051.3 L2293.5 2050.6 L2297.9 2050.4 L2299.5 2054.9 L2301.1 2058.7 L2302.7 2061.7 L2304.3 2066.2 L2305.9 2070.2 L2307.5 2073.3 L2309.1 2078.4 L2310.7 2082.2 L2312.3 2084.7 L2313.9 2087.5 L2315.5 2091.7 L2316.8 2095.7 L2318.2 2101.0 L2319.5 2104.2 L2320.8 2109.2 L2322.1 2112.3 L2323.5 2116.1 L2324.8 2120.4 L2326.1 2124.1 L2327.4 2129.2 L2328.8 2133.6 L2330.1 2136.0 L2335.1 2135.3 L2340.0 2131.3 L2343.9 2134.1 L2347.8 2135.7 L2351.7 2138.6 L2355.6 2141.2 L2359.5 2144.8 L2363.4 2146.4 L2368.1 2147.3 L2372.8 2146.1 L2377.4 2145.1 L2382.1 2146.6 L2386.8 2147.0 L2390.8 2149.5 L2394.8 2151.2 L2398.8 2152.8 L2402.9 2154.5 L2406.9 2155.9 L2410.9 2157.3 L2414.9 2160.0 L2418.3 2162.3 L2421.6 2164.2 L2425.0 2166.3 L2428.3 2169.5 L2431.7 2173.0 L2435.0 2175.6 L2438.4 2176.5 L2443.1 2177.8 L2447.8 2178.8 L2452.4 2180.1 L2457.1 2180.9 L2461.8 2180.2 L2466.5 2179.4 L2471.1 2179.0 L2475.8 2179.0 L2480.5 2176.7 L2485.2 2175.6 L2489.9 2176.7 L2494.5 2176.4 L2499.2 2176.5 L2503.9 2175.5 L2507.8 2173.1 L2511.7 2169.7 L2515.7 2166.7 L2519.6 2165.9 L2523.5 2163.8 L2527.4 2160.8 L2531.3 2162.5 L2535.2 2163.4 L2539.1 2164.8 L2543.0 2166.7 L2546.9 2167.5 L2550.8 2168.9 L2555.5 2166.0 L2560.2 2164.3 L2564.8 2163.6 L2569.5 2163.8 L2574.2 2163.8 L2578.9 2162.8 L2583.6 2162.6 L2588.2 2164.8 L2592.9 2165.3 L2597.6 2166.2 L2602.3 2165.4 L2607.0 2162.7 L2611.6 2162.2 L2616.3 2162.1 L2621.0 2160.0 L2625.7 2159.6 L2630.4 2161.3 L2635.0 2160.1 L2639.7 2160.1 L2644.4 2160.1 L2649.1 2161.1 L2653.8 2162.9 L2658.5 2163.3 L2663.2 2164.5 L2667.9 2165.6 L2670.2 2160.7 L2672.6 2158.0 L2674.9 2155.8 L2677.2 2152.7 L2679.6 2149.3 L2681.9 2146.0 L2685.4 2141.5 L2688.9 2137.6 L2692.5 2134.4 L2696.0 2130.3 L2700.7 2132.1 L2705.3 2133.1 L2710.0 2136.2 L2714.7 2138.6 L2717.5 2132.9 L2720.3 2130.2 L2723.2 2126.3 L2726.0 2122.6 L2728.8 2118.6 L2731.6 2115.2 L2734.4 2111.8 L2737.2 2107.6 L2740.0 2104.8 L2742.8 2101.7 L2745.8 2098.8 L2748.8 2097.2 L2751.8 2094.7 L2754.9 2092.5 L2757.9 2089.0 L2760.9 2085.9 L2763.9 2083.5 L2766.2 2086.5 L2768.6 2091.7 L2770.9 2096.3 L2773.2 2100.5 L2775.6 2104.1 L2777.9 2106.8 L2781.7 2107.8 L2785.4 2110.4 L2789.2 2110.7 L2792.9 2112.9 L2796.7 2115.1 L2801.4 2113.3 L2806.1 2113.6 L2810.7 2113.7 L2815.4 2114.5 L2820.1 2115.2 L2821.2 2122.4 L2825.6 2121.1 L2830.1 2120.2 L2834.5 2120.1 L2839.0 2121.7 L2843.4 2121.6 L2846.5 2123.7 L2849.7 2125.9 L2852.8 2130.9 L2855.9 2133.7 L2859.1 2136.2 L2862.2 2139.5 L2865.9 2137.3 L2869.7 2135.7 L2873.4 2133.3 L2877.2 2130.7 L2880.9 2128.3 L2884.0 2130.0 L2887.1 2132.1 L2890.2 2136.6 L2893.4 2140.2 L2896.5 2141.7 L2899.6 2144.1 L2903.6 2143.7 L2907.6 2141.4 L2911.6 2140.0 L2915.7 2139.4 L2919.7 2138.7 L2923.7 2136.9 L2927.7 2135.3 L2931.6 2136.2 L2935.5 2136.4 L2939.4 2139.2 L2943.3 2139.3 L2947.2 2141.6 L2951.1 2141.3 L2955.1 2143.4 L2959.2 2145.8 L2963.2 2147.5 L2967.2 2148.7 L2971.2 2148.4 L2975.3 2149.2 L2979.3 2151.3 L2983.3 2151.0 L2987.3 2152.8 L2991.3 2152.5 L2995.4 2152.1 L2999.4 2151.9 L3003.4 2153.2 L3007.4 2153.3 L3011.7 2153.3 L3015.9 2151.8 L3020.2 2151.3 L3024.4 2152.8 L3028.7 2151.7 L3032.9 2151.2 L3037.2 2149.8 L3041.4 2150.6 L3045.7 2149.3 L3049.9 2148.2 L3054.2 2148.7 L3058.9 2150.0 L3063.6 2150.5 L3068.2 2152.9 L3072.9 2152.8 L3077.6 2153.4 L3082.3 2154.4 L3086.9 2155.0 L3091.6 2156.7 L3096.3 2158.4 L3100.1 2155.3 L3103.8 2152.0 L3107.6 2150.0 L3111.3 2147.4 L3115.1 2144.5 L3119.1 2147.3 L3123.1 2147.7 L3127.1 2149.6 L3131.2 2152.4 L3135.2 2155.6 L3139.2 2157.7 L3143.2 2159.6 L3147.2 2159.2 L3151.2 2160.1 L3155.2 2160.9 L3159.3 2160.5 L3163.3 2162.8 L3167.3 2162.7 L3171.3 2163.0 L3176.0 2162.4 L3180.6 2162.7 L3185.3 2161.0 L3188.2 2164.8 L3191.2 2168.0 L3194.1 2169.5 L3197.1 2174.0 L3200.0 2176.3 L3204.2 2177.4 L3208.4 2176.1 L3212.6 2175.2 L3216.7 2174.9 L3220.9 2175.5 L3225.1 2176.9 L3229.3 2176.4 L3233.9 2177.8 L3238.4 2178.6 L3243.0 2178.4 L3247.6 2178.2 L3250.9 2181.6 L3254.2 2185.2 L3257.5 2187.8 L3260.8 2189.2 L3264.1 2192.4 L3268.7 2193.2 L3273.3 2193.5 L3277.9 2194.7 L3282.5 2195.3 L3287.3 2194.7 L3292.0 2195.3 L3296.8 2196.1 L3301.5 2197.2 L3306.3 2197.0 L3310.5 2197.4 L3314.7 2196.0 L3318.9 2196.8 L3323.0 2196.9 L3327.2 2196.6 L3331.4 2195.6 L3335.6 2197.1 L3340.0 2195.5 L3344.4 2195.4 L3348.8 2194.6 L3353.2 2193.9 L3357.6 2192.6 L3361.9 2191.0 L3366.1 2190.1 L3370.4 2187.7 L3374.7 2185.5 L3378.9 2183.7 L3383.2 2183.1 L3387.1 2184.7 L3391.1 2185.9 L3395.0 2186.5 L3398.9 2187.4 L3402.8 2188.7 L3406.8 2192.2 L3410.7 2193.3 L3414.8 2194.1 L3418.9 2195.5 L3422.9 2195.8 L3427.0 2195.3 L3431.1 2196.8 L3435.2 2196.1 L3439.2 2197.4 L3443.3 2196.8 L3447.4 2197.9 L3452.0 2198.7 L3456.6 2198.0 L3461.2 2197.2 L3465.7 2198.2 L3470.3 2197.9 L3474.9 2199.0 L3478.8 2200.7 L3482.7 2200.1 L3486.6 2202.1 L3490.6 2202.8 L3494.5 2203.8 L3498.4 2205.1 L3502.3 2207.0 L3506.2 2208.0 L3510.2 2208.6 L3514.1 2208.1 L3518.0 2209.7 L3521.9 2209.0 L3525.9 2210.0 L3529.8 2210.1 L3534.1 2213.2 L3538.3 2215.0 L3542.6 2216.3 L3545.8 2213.2 L3549.1 2210.6 L3552.3 2206.1 L3555.5 2202.8 L3559.6 2203.0 L3563.8 2201.2 L3567.9 2199.0 L3572.0 2198.6" stroke="#00b453"/>
<path d="M524.0 1043.4 L525.1 1046.9 L526.3 1051.5 L527.5 1055.8 L528.6 1061.3 L529.8 1066.2 L530.9 1070.6 L531.0 1065.2 L531.0 1061.0 L531.1 1056.3 L531.1 1052.6 L531.2 1048.0 L531.2 1043.8 L531.3 1041.6 L531.3 1037.2 L531.4 1034.0 L531.4 1029.9 L531.5 1026.1 L531.5 1022.2 L531.6 1016.7 L531.6 1011.9 L531.7 1009.5 L531.7 1005.9 L531.8 1000.5 L531.8 996.4 L531.9 993.1 L531.9 988.9 L532.0 984.5 L532.0 980.9 L532.1 976.9 L532.1 974.0 L532.2 968.4 L532.2 965.0 L532.3 960.4 L532.4 955.7 L532.4 951.5 L532.5 948.6 L532.5 945.5 L532.6 941.8 L532.6 936.8 L532.7 934.0 L532.7 929.7 L532.8 926.3 L532.8 922.1 L532.9 917.6 L532.9 914.0 L533.0 909.6 L533.0 905.5 L533.1 900.7 L533.1 896.2 L533.2 892.7 L533.2 888.8 L533.3 883.8 L533.3 881.4 L533.4 877.1 L533.4 871.9 L533.5 869.3 L533.5 864.4 L533.6 860.3 L533.6 857.0 L533.7 853.1 L533.9 856.8 L534.0 861.5 L534.2 865.2 L534.4 869.2 L534.5 872.8 L534.7 877.4 L534.9 881.9 L535.0 885.0 L535.2 889.7 L535.4 893.3 L535.5 897.9 L535.7 901.0 L535.9 905.6 L536.0 908.6 L536.2 912.8 L536.4 916.6 L536.5 920.0 L536.7 926.0 L536.9 930.1 L537.0 934.2 L537.2 937.3 L537.4 942.2 L537.5 944.9 L537.7 948.7 L537.9 952.2 L538.0 958.0 L538.2 960.8 L538.4 965.9 L538.5 970.9 L538.7 973.5 L538.9 978.2 L539.0 980.9 L539.2 985.0 L539.4 989.6 L539.5 992.8 L539.7 997.7 L539.9 1001.2 L540.0 1006.7 L540.2 1010.7 L540.4 1014.4 L540.6 1018.0 L540.7 1021.3 L540.9 1026.8 L541.1 1029.7 L541.2 1034.3 L541.4 1037.2 L541.6 1041.4 L541.7 1045.7 L541.9 1049.3 L542.1 1055.0 L542.2 1059.2 L542.4 1063.4 L542.6 1067.1 L542.7 1069.6 L542.9 1073.8 L543.1 1079.0 L543.2 1082.6 L543.4 1087.4 L543.6 1091.6 L543.7 1094.7 L543.9 1097.8 L544.1 1103.3 L544.2 1106.5 L544.4 1110.6 L544.6 1114.3 L544.7 1119.7 L544.9 1123.1 L545.1 1127.7 L545.2 1131.8 L545.4 1135.6 L545.6 1138.3 L545.7 1143.3 L545.9 1147.9 L546.1 1151.0 L546.2 1155.9 L546.4 1158.6 L546.7 1155.1 L546.9 1152.2 L547.2 1147.1 L547.5 1142.5 L547.7 1139.6 L548.0 1134.7 L548.3 1131.4 L548.5 1126.6 L548.8 1123.5 L549.1 1118.3 L549.3 1115.1 L549.6 1111.4 L549.9 1108.2 L550.1 1102.9 L550.4 1098.0 L550.7 1094.4 L550.9 1090.3 L551.2 1085.8 L551.5 1081.9 L551.7 1079.0 L552.0 1073.7 L552.3 1069.9 L552.5 1065.5 L552.8 1063.2 L553.1 1059.7 L553.3 1055.1 L553.6 1050.9 L553.9 1047.4 L554.1 1042.2 L554.4 1038.4 L554.7 1034.8 L554.9 1031.1 L555.2 1027.5 L555.5 1023.4 L555.7 1019.8 L556.0 1015.0 L556.3 1011.7 L556.5 1008.1 L556.8 1003.2 L557.1 999.9 L557.3 996.3 L557.6 992.3 L557.7 994.2 L557.8 998.8 L557.9 1003.6 L558.0 1006.5 L558.1 1010.1 L558.2 1014.5 L558.2 1018.4 L558.3 1021.9 L558.4 1027.5 L558.5 1031.0 L558.6 1035.3 L558.7 1040.3 L558.8 1043.5 L558.9 1047.4 L559.0 1051.7 L559.1 1054.5 L559.2 1059.3 L559.3 1063.9 L559.3 1068.4 L559.4 1070.9 L559.5 1075.8 L559.6 1080.4 L559.7 1084.9 L559.8 1087.8 L559.9 1092.2 L560.0 1096.8 L560.1 1100.7 L560.2 1103.8 L560.3 1108.0 L560.4 1113.1 L560.4 1117.2 L560.5 1121.6 L560.6 1125.7 L560.7 1128.3 L560.8 1131.5 L560.9 1136.8 L561.0 1140.0 L561.1 1144.5 L561.2 1147.8 L561.3 1153.3 L561.4 1156.6 L561.5 1161.1 L561.5 1165.0 L561.6 1169.1 L561.7 1172.5 L561.8 1176.2 L561.9 1180.6 L562.0 1184.0 L562.1 1189.0 L562.2 1192.3 L562.3 1197.4 L562.4 1201.9 L562.5 1205.1 L562.6 1209.1 L562.6 1213.2 L562.7 1218.4 L562.8 1221.2 L562.9 1226.1 L563.0 1230.5 L563.1 1235.3 L563.2 1239.7 L563.5 1233.6 L563.7 1229.8 L564.0 1226.8 L564.3 1221.3 L564.5 1217.5 L564.8 1213.7 L565.0 1209.6 L565.3 1205.1 L565.6 1200.5 L565.8 1198.0 L566.1 1194.6 L566.4 1189.3 L566.6 1184.4 L566.9 1180.9 L567.2 1178.4 L567.4 1173.4 L567.7 1170.3 L568.0 1164.6 L568.2 1160.0 L568.5 1156.2 L568.7 1153.4 L569.0 1148.5 L569.3 1145.0 L569.5 1141.6 L569.8 1136.9 L570.1 1133.9 L570.3 1130.0 L570.6 1124.2 L570.9 1121.2 L571.1 1115.9 L571.4 1112.4 L571.7 1108.7 L571.9 1103.8 L572.2 1101.1 L572.4 1097.5 L572.7 1093.1 L573.0 1088.3 L573.2 1083.4 L573.5 1080.0 L573.8 1076.3 L574.0 1073.0 L574.3 1069.6 L574.6 1064.1 L574.8 1060.9 L575.1 1055.3 L575.3 1051.7 L575.6 1047.5 L575.9 1043.0 L576.1 1039.3 L576.4 1035.9 L576.7 1032.7 L576.9 1027.7 L577.2 1023.6 L577.5 1019.3 L577.7 1014.4 L578.0 1012.3 L578.3 1007.1 L578.5 1004.3 L578.8 999.4 L579.0 995.8 L579.3 990.9 L579.6 986.9 L579.8 983.8 L580.1 979.8 L581.3 984.4 L582.6 987.9 L583.8 993.0 L585.0 996.6 L586.3 999.5 L587.5 1004.7 L588.8 1008.3 L590.0 1012.0 L590.1 1016.8 L590.2 1021.4 L590.3 1026.4 L590.3 1030.0 L590.4 1032.7 L590.5 1036.0 L590.6 1040.9 L590.7 1045.8 L590.8 1049.9 L590.9 1054.4 L590.9 1058.3 L591.0 1061.1 L591.1 1065.9 L591.2 1069.2 L591.3 1072.5 L591.4 1075.8 L591.5 1081.2 L591.5 1086.4 L591.6 1089.5 L591.7 1093.7 L591.8 1097.0 L591.9 1102.0 L592.0 1104.7 L592.0 1108.1 L592.1 1112.0 L592.2 1115.8 L592.3 1121.8 L592.4 1126.0 L592.5 1128.8 L592.6 1134.1 L592.6 1137.0 L592.7 1141.5 L592.8 1145.6 L592.9 1150.6 L593.0 1153.6 L593.1 1157.8 L593.2 1161.6 L593.2 1165.7 L593.3 1168.9 L593.4 1173.0 L593.5 1176.7 L593.6 1180.8 L593.7 1185.5 L593.8 1189.1 L593.8 1193.3 L593.9 1198.1 L594.0 1201.0 L594.1 1204.2 L594.2 1209.3 L594.3 1214.2 L594.4 1218.7 L594.4 1222.1 L594.5 1224.8 L594.6 1230.2 L594.7 1232.9 L594.8 1237.5 L594.9 1241.3 L595.0 1245.7 L595.0 1250.1 L595.1 1253.1 L595.2 1257.3 L595.3 1260.8 L595.4 1265.0 L595.5 1269.5 L595.5 1273.9 L595.6 1277.1 L595.7 1281.9 L595.8 1285.1 L595.9 1290.3 L596.0 1294.0 L596.1 1298.0 L596.1 1302.7 L596.2 1307.2 L596.3 1310.2 L596.4 1313.2 L596.5 1316.6 L596.6 1320.7 L596.7 1325.2 L596.7 1329.8 L596.8 1332.8 L596.9 1336.7 L597.0 1341.6 L597.3 1338.5 L597.6 1334.3 L598.0 1330.1 L598.3 1325.7 L598.6 1320.8 L598.9 1317.5 L599.3 1313.9 L599.6 1310.9 L599.9 1306.2 L600.2 1301.8 L600.6 1298.4 L600.9 1294.6 L601.2 1288.9 L601.5 1284.6 L601.8 1282.0 L602.2 1276.9 L602.5 1273.6 L602.8 1270.6 L603.1 1266.3 L603.5 1260.8 L603.8 1256.8 L604.1 1254.1 L604.4 1250.1 L604.8 1246.4 L605.1 1241.4 L605.4 1237.7 L605.7 1234.5 L606.0 1230.3 L606.4 1225.4 L606.7 1220.5 L607.0 1217.7 L607.3 1213.3 L607.7 1208.6 L608.0 1204.7 L608.3 1201.0 L608.6 1196.6 L609.0 1192.1 L609.3 1189.1 L609.6 1186.2 L609.9 1181.1 L610.2 1177.9 L610.6 1172.8 L610.9 1170.0 L611.2 1165.1 L611.5 1161.4 L611.9 1156.5 L612.2 1152.8 L612.5 1149.2 L612.8 1145.3 L613.2 1140.4 L613.5 1137.4 L613.8 1133.7 L614.1 1128.4 L614.4 1124.5 L614.8 1121.3 L615.1 1117.3 L615.4 1113.1 L615.7 1108.4 L616.1 1104.9 L616.4 1100.3 L616.7 1097.7 L617.0 1092.4 L617.4 1088.7 L617.7 1083.8 L618.0 1081.0 L619.1 1085.5 L620.3 1090.0 L621.4 1093.2 L622.5 1097.8 L623.6 1101.0 L624.8 1105.2 L625.9 1109.6 L627.0 1112.4 L628.2 1117.3 L629.3 1120.9 L629.4 1124.7 L629.6 1129.1 L629.7 1131.6 L629.9 1135.3 L630.0 1138.8 L630.1 1142.8 L630.3 1147.7 L630.4 1151.4 L630.6 1156.3 L630.7 1159.1 L630.8 1163.7 L631.0 1168.1 L631.1 1171.6 L631.3 1176.2 L631.4 1181.4 L631.5 1183.8 L631.7 1189.2 L631.8 1193.9 L632.0 1197.9 L632.1 1201.4 L632.2 1204.0 L632.4 1207.4 L632.5 1212.9 L632.7 1217.1 L632.8 1220.7 L632.9 1224.4 L633.1 1227.6 L633.2 1232.3 L633.4 1237.5 L633.5 1241.1 L633.6 1243.9 L633.8 1249.3 L633.9 1252.2 L634.1 1255.6 L634.2 1260.9 L634.3 1264.1 L634.5 1268.8 L634.6 1273.2 L634.8 1277.6 L634.9 1280.5 L635.0 1284.3 L635.2 1287.5 L635.3 1292.8 L635.5 1296.9 L635.6 1301.4 L635.7 1303.9 L635.9 1307.5 L636.0 1311.9 L636.2 1316.7 L636.3 1321.3 L636.4 1324.8 L636.6 1327.8 L636.7 1331.8 L636.9 1337.7 L637.0 1340.4 L637.1 1345.8 L637.3 1350.2 L637.4 1354.4 L637.6 1358.6 L637.7 1360.9 L637.8 1364.9 L638.0 1369.3 L638.1 1372.9 L638.3 1378.1 L638.4 1380.8 L638.5 1385.8 L638.7 1389.6 L638.8 1392.3 L639.0 1397.0 L639.1 1402.0 L639.2 1406.5 L639.4 1408.8 L639.5 1413.8 L639.7 1418.0 L639.8 1421.2 L639.9 1424.4 L640.1 1428.0 L640.2 1433.2 L640.4 1436.8 L640.5 1440.3 L640.6 1446.1 L640.8 1450.9 L640.9 1454.7 L641.1 1458.2 L641.2 1462.5 L641.3 1465.3 L641.5 1470.6 L641.6 1474.9 L641.8 1477.7 L641.9 1481.8 L642.0 1486.7 L642.2 1489.8 L642.3 1492.8 L642.5 1498.4 L642.6 1503.1 L642.7 1505.6 L642.9 1510.1 L643.0 1513.2 L643.2 1517.7 L643.3 1522.5 L643.7 1519.3 L644.1 1514.2 L644.5 1509.3 L644.9 1504.9 L645.3 1501.9 L645.6 1497.5 L646.0 1493.2 L646.4 1489.5 L646.8 1485.6 L647.2 1481.0 L647.6 1478.3 L648.0 1473.5 L648.4 1469.8 L648.8 1465.5 L649.2 1460.8 L649.6 1456.9 L650.0 1453.1 L650.3 1449.8 L650.7 1444.0 L651.1 1440.4 L651.5 1436.0 L651.9 1431.6 L652.3 1428.0 L652.7 1424.6 L653.1 1419.5 L653.5 1416.5 L653.9 1413.3 L654.3 1408.6 L654.7 1403.8 L655.0 1399.2 L655.4 1396.1 L655.8 1392.3 L656.2 1388.8 L656.6 1384.2 L657.0 1379.4 L657.4 1374.5 L657.6 1379.4 L657.9 1384.5 L658.1 1387.1 L658.3 1390.4 L658.6 1394.8 L658.8 1398.9 L659.0 1403.0 L659.3 1406.5 L659.5 1411.9 L659.7 1415.0 L660.0 1418.9 L660.2 1423.7 L660.4 1427.8 L660.7 1432.2 L660.9 1435.5 L661.1 1438.9 L661.4 1444.1 L661.6 1449.2 L661.8 1452.4 L662.1 1455.5 L662.3 1459.2 L662.5 1463.0 L662.8 1468.3 L663.0 1472.1 L663.2 1475.8 L663.5 1481.6 L663.7 1485.4 L663.9 1489.7 L664.2 1493.3 L664.4 1497.2 L664.6 1500.1 L664.9 1503.8 L665.1 1509.5 L665.3 1513.3 L665.6 1518.4 L665.8 1521.4 L666.0 1524.5 L666.3 1528.5 L666.5 1533.0 L666.7 1537.9 L667.0 1541.5 L667.2 1545.9 L667.4 1549.2 L667.7 1553.0 L667.9 1557.5 L668.1 1560.7 L668.4 1564.1 L668.6 1568.8 L668.9 1564.1 L669.2 1559.9 L669.6 1556.7 L669.9 1553.9 L670.2 1549.6 L670.5 1546.3 L670.8 1542.7 L671.2 1537.1 L671.5 1533.5 L671.8 1529.9 L672.1 1525.5 L672.5 1521.2 L672.8 1517.9 L673.1 1512.7 L673.4 1509.4 L673.7 1504.2 L674.1 1500.9 L674.4 1497.9 L674.7 1493.3 L675.0 1488.8 L675.3 1484.1 L675.7 1480.1 L676.0 1476.3 L676.3 1471.7 L676.6 1467.4 L676.9 1464.6 L677.3 1459.9 L677.6 1455.3 L677.9 1451.9 L678.2 1447.2 L678.5 1443.5 L678.9 1440.0 L679.2 1435.3 L679.5 1432.8 L679.8 1429.2 L680.1 1425.6 L680.5 1420.1 L680.8 1417.0 L681.1 1412.6 L681.4 1409.2 L681.8 1404.7 L682.1 1399.2 L682.4 1394.5 L682.7 1390.5 L683.0 1386.9 L683.4 1382.2 L683.7 1379.0 L684.0 1376.4 L684.9 1381.1 L685.8 1384.5 L686.7 1388.2 L687.6 1392.4 L688.5 1395.9 L689.5 1399.9 L690.4 1404.5 L691.3 1407.5 L692.2 1413.2 L693.1 1417.5 L694.0 1421.8 L694.3 1424.7 L694.6 1428.7 L695.0 1433.9 L695.3 1437.9 L695.6 1441.9 L695.9 1445.4 L696.3 1449.8 L696.6 1454.0 L696.9 1458.6 L697.2 1462.1 L697.6 1466.7 L697.9 1470.8 L698.2 1474.9 L698.5 1477.7 L698.9 1482.5 L699.2 1487.1 L699.5 1490.7 L700.1 1495.3 L700.7 1498.7 L701.3 1503.9 L701.9 1506.5 L702.6 1511.2 L703.2 1516.1 L703.8 1520.2 L704.4 1523.1 L705.0 1527.3 L705.3 1530.1 L705.5 1534.5 L705.8 1539.0 L706.1 1542.4 L706.3 1546.7 L706.6 1551.2 L706.8 1555.8 L707.1 1560.4 L707.4 1562.8 L707.6 1566.7 L707.9 1571.0 L708.2 1576.4 L708.4 1579.8 L708.7 1583.8 L708.9 1588.2 L709.2 1591.7 L709.5 1595.0 L709.7 1598.9 L710.0 1602.5 L710.3 1607.0 L710.5 1611.9 L710.8 1616.8 L711.1 1621.3 L711.3 1623.2 L711.6 1628.1 L711.8 1632.1 L712.1 1636.1 L712.4 1640.6 L712.6 1643.8 L712.9 1648.9 L713.2 1653.3 L713.4 1656.4 L713.7 1659.6 L713.9 1663.8 L714.2 1668.9 L714.5 1672.3 L714.7 1675.2 L715.0 1678.8 L715.3 1684.0 L715.5 1689.0 L715.8 1692.3 L716.1 1695.7 L716.3 1700.6 L716.6 1704.6 L716.8 1708.8 L717.1 1713.4 L717.4 1716.3 L717.6 1721.2 L717.9 1725.7 L718.2 1728.0 L718.4 1733.4 L718.7 1737.9 L718.9 1740.7 L719.2 1743.6 L719.5 1749.1 L719.7 1752.9 L720.0 1756.6 L720.5 1753.6 L721.0 1748.6 L721.5 1743.9 L722.0 1739.6 L722.5 1736.1 L723.0 1732.7 L723.4 1728.5 L723.9 1724.1 L724.4 1720.5 L724.9 1717.3 L725.4 1712.6 L725.9 1707.8 L726.4 1704.0 L726.9 1700.6 L727.4 1697.3 L727.9 1693.2 L728.4 1688.9 L728.8 1685.1 L729.3 1679.9 L729.8 1675.9 L730.3 1672.2 L730.8 1667.3 L731.3 1662.7 L731.8 1658.5 L732.5 1662.3 L733.2 1667.3 L734.0 1670.8 L734.7 1676.1 L735.4 1679.6 L736.1 1683.9 L736.9 1688.7 L737.6 1693.0 L738.3 1696.3 L739.0 1699.5 L739.8 1705.3 L740.5 1708.0 L741.2 1712.4 L741.9 1717.2 L742.7 1719.9 L743.4 1723.4 L744.1 1728.0 L744.8 1732.8 L745.6 1736.1 L746.3 1741.1 L747.0 1745.7 L747.9 1741.9 L748.8 1736.5 L749.8 1731.8 L750.7 1729.2 L751.6 1726.0 L752.5 1721.4 L753.4 1717.5 L754.4 1713.0 L755.3 1708.8 L756.2 1705.2 L757.1 1700.4 L758.0 1696.9 L759.0 1694.2 L759.9 1690.2 L760.8 1686.4 L761.7 1682.3 L762.6 1678.5 L763.6 1674.8 L764.5 1669.2 L765.4 1665.1 L766.3 1661.4 L767.2 1656.4 L768.2 1652.0 L769.1 1648.4 L770.0 1644.1 L770.6 1648.6 L771.2 1653.8 L771.7 1658.6 L772.3 1663.1 L772.9 1666.7 L773.5 1669.6 L774.0 1674.4 L774.6 1678.4 L775.2 1682.5 L775.8 1687.1 L776.4 1690.3 L776.9 1694.3 L777.5 1698.7 L778.1 1701.7 L778.7 1704.9 L779.2 1710.6 L779.8 1714.9 L780.4 1718.9 L781.0 1723.3 L781.6 1726.8 L782.1 1731.6 L782.7 1735.0 L783.3 1737.9 L783.9 1741.0 L784.5 1744.7 L785.0 1749.7 L785.6 1754.1 L786.2 1759.0 L786.8 1761.8 L787.3 1766.8 L787.9 1770.4 L788.5 1774.5 L789.1 1779.6 L789.7 1783.6 L790.2 1786.2 L790.8 1791.6 L791.4 1794.2 L792.0 1797.6 L792.5 1802.6 L793.1 1805.7 L793.7 1811.4 L794.1 1807.4 L794.4 1801.7 L794.8 1797.8 L795.2 1794.7 L795.5 1789.9 L795.9 1785.5 L796.2 1782.2 L796.6 1778.0 L797.0 1773.0 L797.3 1770.2 L797.7 1766.1 L798.1 1761.7 L798.4 1758.0 L798.8 1754.6 L799.1 1750.3 L799.5 1745.8 L799.9 1741.2 L800.2 1736.3 L800.6 1731.6 L801.0 1729.1 L801.3 1724.1 L801.7 1719.7 L802.0 1717.4 L802.4 1712.8 L802.8 1709.0 L803.1 1703.6 L803.5 1699.3 L803.9 1694.9 L804.2 1692.2 L804.6 1687.4 L804.9 1684.7 L805.3 1679.6 L805.7 1675.1 L806.0 1670.8 L806.4 1668.3 L807.1 1664.5 L807.9 1659.6 L808.6 1655.1 L809.3 1650.8 L810.0 1646.8 L810.8 1643.4 L811.5 1638.8 L812.2 1636.2 L812.9 1633.4 L813.7 1627.9 L814.4 1625.3 L815.1 1620.0 L815.8 1616.8 L816.6 1613.8 L817.3 1609.9 L818.0 1605.9 L818.7 1600.2 L819.5 1597.5 L820.2 1592.6 L820.9 1589.5 L821.6 1585.0 L822.4 1580.6 L823.1 1576.8 L823.8 1572.5 L824.5 1568.6 L825.3 1565.9 L826.0 1562.1 L826.2 1565.3 L826.5 1568.4 L826.7 1572.2 L827.0 1577.8 L827.2 1582.5 L827.4 1585.7 L827.7 1589.5 L827.9 1593.6 L828.1 1596.3 L828.4 1600.0 L828.6 1604.9 L828.9 1608.1 L829.1 1613.7 L829.3 1616.9 L829.6 1620.3 L829.8 1624.0 L830.0 1627.6 L830.3 1631.9 L830.5 1637.2 L830.8 1641.4 L831.0 1644.9 L831.2 1648.9 L831.5 1653.0 L831.7 1658.1 L832.0 1662.1 L832.2 1664.5 L832.4 1669.8 L832.7 1672.7 L832.9 1676.8 L833.1 1681.4 L833.4 1686.1 L833.6 1689.7 L833.9 1693.9 L834.1 1698.7 L834.3 1702.1 L834.6 1705.8 L834.8 1709.7 L835.0 1712.8 L835.3 1717.7 L835.5 1722.7 L835.8 1726.7 L836.0 1730.6 L839.9 1733.2 L843.8 1734.8 L847.7 1738.3 L851.6 1740.7 L852.0 1736.0 L852.4 1731.9 L852.8 1727.4 L853.3 1723.4 L853.7 1719.6 L854.1 1716.2 L854.5 1713.2 L854.9 1708.3 L855.3 1703.8 L855.7 1699.1 L856.1 1695.6 L856.6 1693.3 L857.0 1689.5 L857.4 1683.9 L857.8 1679.7 L858.2 1675.8 L858.6 1673.3 L859.0 1667.8 L859.5 1664.8 L859.9 1660.3 L860.3 1656.8 L860.7 1652.2 L861.1 1647.4 L861.5 1643.0 L861.9 1640.2 L862.3 1636.8 L862.8 1631.5 L863.2 1626.8 L863.6 1623.0 L864.0 1620.4 L866.1 1623.6 L868.2 1627.1 L870.3 1632.1 L872.4 1636.0 L874.5 1639.9 L876.6 1643.6 L878.7 1647.7 L879.1 1653.1 L879.4 1657.5 L879.8 1659.6 L880.2 1664.7 L880.5 1667.9 L880.9 1671.8 L881.3 1675.6 L881.6 1678.9 L882.0 1682.9 L882.3 1688.1 L882.7 1690.9 L883.1 1696.0 L883.4 1700.9 L883.8 1704.6 L884.2 1708.4 L884.5 1712.5 L884.9 1715.1 L885.3 1720.5 L885.6 1725.3 L886.0 1727.6 L886.4 1730.8 L886.7 1735.5 L887.1 1740.7 L887.4 1744.6 L887.8 1748.5 L888.2 1752.2 L888.5 1755.3 L888.9 1759.1 L889.3 1762.8 L889.6 1768.7 L890.0 1772.7 L890.7 1768.8 L891.5 1763.8 L892.2 1758.7 L892.9 1756.0 L893.6 1751.1 L894.4 1747.7 L895.1 1743.2 L895.8 1738.9 L896.5 1733.1 L897.3 1729.0 L898.0 1725.7 L899.9 1730.1 L901.9 1732.8 L903.8 1737.8 L905.7 1741.3 L907.6 1744.1 L909.6 1747.7 L911.5 1753.4 L913.4 1757.7 L915.4 1760.5 L917.3 1763.2 L922.5 1762.2 L927.6 1762.5 L932.8 1760.9 L933.4 1764.1 L934.1 1768.4 L934.7 1771.9 L935.4 1776.3 L936.0 1780.8 L936.7 1785.0 L937.3 1789.4 L938.0 1792.5 L938.6 1795.7 L939.2 1799.9 L939.9 1805.2 L940.5 1809.5 L941.2 1813.0 L941.8 1817.4 L942.5 1820.7 L943.1 1824.9 L943.8 1829.2 L944.4 1834.5 L947.0 1836.3 L949.5 1840.8 L952.1 1843.3 L954.7 1848.1 L957.2 1851.4 L959.8 1854.5 L962.4 1859.0 L964.9 1864.0 L967.5 1867.4 L968.3 1872.0 L969.1 1876.4 L969.9 1878.4 L970.7 1883.8 L971.5 1887.8 L972.4 1892.4 L973.2 1894.9 L974.0 1898.8 L974.8 1904.1 L975.6 1908.4 L976.4 1912.0 L977.2 1916.8 L978.0 1919.8 L978.8 1924.6 L979.6 1929.0 L980.4 1933.4 L981.2 1935.9 L982.0 1939.6 L982.9 1943.2 L983.7 1948.8 L984.5 1952.9 L985.3 1956.7 L986.1 1960.7 L986.9 1965.1 L991.3 1967.6 L995.6 1968.6 L1000.0 1972.0 L1002.3 1967.6 L1004.7 1964.1 L1007.0 1961.7 L1009.4 1957.1 L1011.7 1954.2 L1012.4 1959.3 L1013.1 1962.2 L1013.8 1965.9 L1014.5 1971.1 L1015.1 1975.6 L1015.8 1980.0 L1016.5 1983.8 L1017.2 1988.7 L1017.9 1991.9 L1018.6 1995.4 L1019.3 2000.0 L1020.0 2003.3 L1020.6 2007.2 L1021.3 2011.2 L1022.0 2015.1 L1022.7 2019.6 L1023.4 2024.6 L1024.2 2020.7 L1024.9 2017.0 L1025.7 2013.4 L1026.5 2007.8 L1027.2 2003.4 L1028.0 1999.2 L1028.8 1996.0 L1029.5 1992.9 L1030.3 1988.0 L1031.1 1984.4 L1031.8 1980.8 L1032.6 1976.6 L1033.3 1973.0 L1034.1 1968.0 L1034.9 1964.4 L1035.6 1960.8 L1036.4 1954.9 L1037.2 1951.0 L1037.9 1947.9 L1038.7 1942.9 L1039.5 1939.3 L1040.2 1935.3 L1041.0 1929.9 L1045.4 1931.2 L1049.8 1930.6 L1054.1 1931.9 L1058.5 1931.5 L1059.2 1936.0 L1059.9 1939.5 L1060.6 1943.8 L1061.3 1947.8 L1062.0 1951.5 L1062.7 1955.7 L1063.4 1960.2 L1064.1 1964.2 L1064.7 1967.0 L1065.4 1971.1 L1066.1 1976.3 L1066.8 1980.0 L1067.5 1984.2 L1068.2 1989.6 L1068.9 1992.8 L1069.6 1996.2 L1070.3 2000.6 L1074.2 2002.1 L1078.1 2004.1 L1082.0 2006.1 L1083.2 2002.3 L1084.3 1998.5 L1085.5 1994.1 L1086.7 1991.8 L1087.8 1987.4 L1089.0 1983.3 L1090.2 1979.3 L1091.3 1975.5 L1092.5 1970.8 L1093.7 1967.5 L1094.8 1962.7 L1096.0 1960.2 L1097.2 1957.0 L1098.3 1951.5 L1099.5 1947.1 L1101.7 1951.7 L1103.9 1956.2 L1106.1 1960.2 L1108.3 1963.2 L1110.5 1966.4 L1112.7 1969.8 L1114.9 1972.6 L1117.1 1977.2 L1120.8 1979.9 L1124.4 1981.6 L1128.0 1983.4 L1131.7 1986.3 L1133.3 1989.3 L1135.0 1994.4 L1136.6 1997.5 L1138.2 2002.6 L1139.9 2006.2 L1141.5 2009.2 L1143.1 2013.3 L1144.8 2017.7 L1146.4 2022.6 L1148.0 2017.4 L1149.6 2013.7 L1151.2 2009.5 L1152.8 2006.6 L1154.4 2002.5 L1155.9 1998.7 L1157.5 1994.6 L1159.1 1989.8 L1160.7 1986.2 L1162.3 1981.2 L1163.9 1978.1 L1165.9 1981.2 L1167.8 1985.7 L1169.8 1989.5 L1171.7 1993.7 L1173.6 1998.2 L1175.6 2000.5 L1176.2 2004.1 L1176.8 2008.3 L1177.4 2013.6 L1178.0 2017.4 L1178.7 2020.5 L1179.3 2023.7 L1179.9 2027.9 L1180.5 2032.8 L1181.1 2037.8 L1181.7 2041.1 L1182.3 2046.4 L1182.9 2050.5 L1183.6 2054.9 L1184.2 2057.4 L1184.8 2061.2 L1185.4 2066.0 L1186.0 2069.6 L1186.6 2072.9 L1187.2 2078.2 L1187.8 2082.7 L1188.5 2085.6 L1189.1 2089.3 L1189.7 2092.4 L1190.3 2097.6 L1191.2 2093.3 L1192.0 2089.6 L1192.9 2086.6 L1193.7 2082.3 L1194.6 2078.4 L1195.5 2074.4 L1196.3 2069.8 L1197.2 2065.3 L1198.0 2061.1 L1198.9 2057.8 L1199.7 2054.3 L1200.6 2049.4 L1201.5 2046.6 L1202.3 2041.3 L1203.2 2038.2 L1204.0 2033.7 L1204.9 2029.4 L1207.1 2034.4 L1209.3 2037.2 L1211.5 2041.0 L1213.7 2044.9 L1215.9 2049.5 L1218.1 2052.3 L1220.3 2055.3 L1222.5 2058.4 L1223.4 2053.9 L1224.2 2049.5 L1225.1 2045.9 L1226.0 2042.3 L1226.9 2039.5 L1227.8 2035.1 L1228.6 2030.0 L1229.5 2026.1 L1230.4 2021.2 L1231.2 2018.6 L1232.1 2015.2 L1233.0 2011.2 L1233.9 2005.5 L1234.8 2002.1 L1235.6 1997.7 L1236.5 1993.5 L1237.4 1990.5 L1238.2 1985.0 L1239.1 1981.5 L1240.0 1977.7 L1242.9 1974.5 L1245.9 1971.7 L1248.8 1967.9 L1251.7 1964.3 L1254.7 1961.2 L1257.6 1958.5 L1258.2 1963.2 L1258.8 1969.0 L1259.4 1973.3 L1260.1 1977.8 L1260.7 1980.2 L1261.3 1983.5 L1261.9 1988.3 L1262.5 1992.1 L1263.1 1997.3 L1263.8 2001.0 L1264.4 2005.4 L1265.0 2010.4 L1265.6 2014.7 L1266.2 2019.1 L1266.8 2023.5 L1267.5 2025.9 L1268.1 2031.5 L1268.7 2034.5 L1269.3 2037.7 L1271.5 2035.4 L1273.7 2032.8 L1275.9 2029.0 L1278.1 2024.3 L1280.3 2021.2 L1282.5 2016.9 L1284.7 2014.1 L1286.9 2010.6 L1288.8 2015.0 L1290.8 2017.9 L1292.7 2022.4 L1294.7 2025.7 L1296.6 2030.2 L1298.6 2033.8 L1300.5 2038.3 L1302.5 2040.6 L1304.4 2043.8 L1306.9 2040.3 L1309.4 2037.4 L1311.9 2034.2 L1314.5 2029.6 L1317.0 2024.7 L1319.5 2021.8 L1322.0 2019.0 L1324.3 2015.6 L1326.7 2011.3 L1329.0 2007.6 L1331.4 2004.0 L1333.7 2000.5 L1335.7 2003.6 L1337.6 2008.1 L1339.6 2012.3 L1341.5 2015.6 L1343.5 2019.5 L1345.4 2023.3 L1347.4 2026.6 L1349.3 2031.7 L1351.3 2034.6 L1353.7 2032.1 L1356.2 2029.8 L1358.6 2025.8 L1361.0 2021.3 L1363.5 2017.5 L1365.9 2014.9 L1366.5 2012.1 L1367.0 2007.2 L1367.6 2002.9 L1368.1 1999.3 L1368.7 1994.8 L1369.2 1991.4 L1369.8 1986.0 L1370.3 1981.2 L1370.9 1976.7 L1371.4 1974.1 L1372.0 1968.2 L1372.5 1965.2 L1373.0 1961.0 L1373.6 1956.9 L1374.2 1951.5 L1374.7 1946.6 L1375.0 1943.2 L1375.3 1940.8 L1375.7 1935.9 L1376.0 1931.1 L1376.3 1927.5 L1376.6 1924.5 L1376.9 1920.3 L1377.2 1915.4 L1377.6 1912.4 L1377.9 1907.4 L1378.2 1903.9 L1378.5 1899.5 L1378.8 1895.1 L1379.1 1890.0 L1379.5 1886.3 L1379.8 1881.6 L1380.1 1878.3 L1380.4 1874.7 L1380.7 1871.7 L1381.0 1867.9 L1381.4 1863.7 L1381.7 1860.3 L1382.0 1855.3 L1382.3 1851.6 L1382.6 1846.1 L1382.9 1842.0 L1383.3 1837.9 L1383.6 1833.4 L1383.9 1829.7 L1384.2 1826.9 L1384.5 1823.1 L1384.8 1817.4 L1385.2 1813.5 L1385.5 1808.9 L1385.8 1806.5 L1389.9 1806.9 L1390.2 1810.3 L1390.6 1815.4 L1391.0 1819.7 L1391.3 1821.9 L1391.7 1826.5 L1392.0 1829.6 L1392.4 1833.7 L1392.7 1839.1 L1393.0 1841.8 L1393.4 1846.5 L1393.8 1851.7 L1394.1 1854.3 L1394.5 1859.6 L1394.8 1862.1 L1395.2 1867.9 L1395.5 1871.9 L1395.8 1875.7 L1396.2 1878.8 L1396.5 1883.5 L1396.9 1887.1 L1397.2 1890.4 L1397.6 1894.3 L1398.0 1898.3 L1398.3 1903.3 L1398.6 1907.4 L1399.0 1912.6 L1399.3 1917.2 L1399.7 1919.6 L1400.0 1922.9 L1400.4 1928.7 L1400.8 1933.1 L1401.1 1937.0 L1402.0 1931.7 L1402.8 1928.0 L1403.7 1924.9 L1404.5 1920.9 L1405.4 1915.8 L1406.3 1911.6 L1407.1 1908.4 L1408.0 1904.3 L1408.8 1900.9 L1409.7 1897.3 L1410.5 1893.7 L1411.4 1889.4 L1412.3 1886.2 L1413.1 1881.7 L1414.0 1877.8 L1414.8 1873.3 L1415.7 1869.9 L1417.1 1873.6 L1418.4 1876.5 L1419.8 1881.3 L1421.1 1885.8 L1422.5 1887.8 L1423.8 1893.0 L1425.2 1895.9 L1426.5 1900.3 L1427.9 1902.6 L1429.2 1906.6 L1430.6 1910.4 L1431.9 1915.1 L1433.3 1919.7 L1434.7 1915.5 L1436.1 1912.0 L1437.4 1906.5 L1438.8 1903.3 L1440.2 1900.3 L1441.6 1895.0 L1442.9 1891.9 L1444.3 1888.4 L1445.7 1884.7 L1447.1 1880.1 L1448.4 1876.9 L1449.8 1873.1 L1451.2 1870.2 L1452.6 1864.9 L1453.9 1860.8 L1455.3 1858.0 L1456.7 1854.2 L1461.1 1854.7 L1465.5 1857.1 L1469.8 1859.6 L1474.2 1859.9 L1475.3 1864.2 L1476.5 1867.6 L1477.6 1870.5 L1478.8 1875.3 L1479.9 1879.8 L1481.0 1883.2 L1482.2 1886.4 L1483.3 1889.8 L1484.5 1895.7 L1485.6 1899.6 L1486.7 1904.2 L1487.9 1907.5 L1489.0 1911.9 L1490.1 1914.2 L1491.3 1918.5 L1492.4 1922.4 L1493.6 1925.4 L1494.7 1930.9 L1495.4 1927.6 L1496.0 1922.6 L1496.7 1917.5 L1497.3 1914.5 L1498.0 1909.8 L1498.7 1905.7 L1499.3 1901.2 L1500.0 1897.1 L1501.5 1892.4 L1503.1 1889.4 L1504.6 1884.7 L1506.2 1881.8 L1507.7 1877.2 L1509.4 1872.3 L1511.1 1868.6 L1512.9 1865.9 L1514.6 1861.3 L1516.3 1857.9 L1518.0 1854.1 L1519.8 1848.8 L1521.5 1845.2 L1523.2 1841.3 L1524.3 1844.5 L1525.3 1850.3 L1526.4 1855.1 L1527.4 1858.5 L1528.5 1861.8 L1529.5 1865.4 L1530.6 1870.1 L1531.6 1873.9 L1532.7 1877.5 L1533.7 1880.3 L1534.8 1884.8 L1537.7 1889.5 L1540.6 1892.3 L1543.5 1895.4 L1546.4 1898.6 L1547.3 1896.0 L1548.2 1892.5 L1549.1 1888.8 L1550.0 1884.9 L1550.9 1879.6 L1551.8 1874.8 L1552.6 1869.8 L1553.5 1865.5 L1554.4 1861.1 L1555.3 1858.8 L1556.2 1854.2 L1557.1 1849.0 L1558.0 1845.1 L1559.2 1849.9 L1560.3 1854.1 L1561.5 1858.3 L1562.6 1862.8 L1563.8 1866.9 L1565.0 1869.6 L1566.1 1872.4 L1567.3 1875.9 L1568.4 1880.4 L1569.6 1885.4 L1570.3 1881.5 L1571.0 1876.6 L1571.6 1872.3 L1572.3 1868.5 L1573.0 1864.3 L1573.7 1859.7 L1574.3 1855.1 L1575.0 1852.3 L1575.7 1847.6 L1576.4 1843.6 L1577.0 1839.1 L1577.7 1834.1 L1578.4 1830.1 L1579.1 1827.8 L1579.7 1822.3 L1580.4 1818.3 L1581.1 1815.7 L1585.0 1813.5 L1588.9 1811.8 L1592.7 1809.5 L1596.6 1805.7 L1600.5 1803.7 L1601.5 1807.5 L1602.4 1811.7 L1603.4 1817.4 L1604.3 1820.8 L1605.3 1826.0 L1606.3 1829.4 L1607.2 1833.7 L1608.2 1838.2 L1610.4 1835.4 L1612.6 1831.1 L1614.8 1827.6 L1617.0 1821.9 L1619.2 1819.5 L1621.4 1814.8 L1623.6 1809.9 L1624.1 1813.9 L1624.6 1819.5 L1625.1 1823.5 L1625.5 1829.2 L1626.0 1832.3 L1626.5 1836.7 L1627.0 1841.6 L1627.5 1846.1 L1631.6 1847.8 L1635.8 1850.6 L1639.9 1852.4 L1644.0 1855.2 L1644.9 1858.9 L1645.8 1863.6 L1646.7 1865.7 L1647.6 1869.2 L1648.5 1874.0 L1649.4 1877.6 L1650.3 1882.6 L1651.2 1887.0 L1652.1 1890.1 L1653.0 1893.9 L1653.9 1897.9 L1654.8 1903.5 L1655.7 1907.5 L1658.1 1911.7 L1660.6 1914.2 L1663.0 1919.4 L1665.4 1923.8 L1667.9 1926.3 L1670.3 1930.6 L1673.2 1934.1 L1676.2 1936.4 L1679.1 1940.5 L1682.0 1943.1 L1684.9 1946.2 L1687.9 1950.9 L1690.8 1954.8 L1694.2 1957.0 L1697.6 1959.1 L1701.0 1961.3 L1704.5 1964.4 L1707.9 1967.8 L1711.3 1970.3 L1715.7 1968.4 L1720.1 1968.8 L1724.5 1966.6 L1728.9 1965.4 L1730.2 1969.5 L1731.4 1972.5 L1732.7 1977.0 L1733.9 1982.3 L1735.2 1987.0 L1736.4 1989.5 L1737.7 1995.3 L1738.5 1998.7 L1739.4 2003.6 L1740.2 2007.5 L1741.0 2011.1 L1741.8 2015.4 L1742.7 2020.4 L1743.5 2025.3 L1746.4 2027.6 L1749.4 2029.0 L1752.3 2032.4 L1755.2 2036.2 L1758.2 2037.7 L1761.1 2040.1 L1763.3 2044.0 L1765.5 2047.7 L1767.7 2051.3 L1769.9 2055.1 L1772.1 2060.4 L1774.3 2064.4 L1776.5 2067.6 L1778.7 2070.1 L1782.0 2073.9 L1785.4 2076.7 L1788.7 2079.1 L1792.1 2080.0 L1795.4 2081.7 L1798.8 2085.7 L1802.1 2087.1 L1806.0 2089.6 L1809.9 2090.8 L1813.8 2092.4 L1817.7 2093.3 L1821.6 2094.1 L1825.5 2096.1 L1829.6 2099.8 L1833.7 2101.3 L1837.8 2104.7 L1841.9 2106.3 L1846.0 2107.8 L1848.9 2110.9 L1851.9 2116.0 L1854.8 2119.8 L1857.8 2123.6 L1860.7 2127.3 L1862.7 2123.3 L1864.6 2118.4 L1866.6 2115.3 L1868.5 2110.8 L1870.5 2106.8 L1872.4 2101.7 L1873.0 2097.8 L1873.7 2093.7 L1874.3 2089.1 L1874.9 2086.8 L1875.6 2082.8 L1876.2 2079.6 L1876.8 2074.5 L1877.5 2069.6 L1878.1 2066.3 L1878.8 2062.8 L1879.4 2059.2 L1880.0 2055.5 L1880.7 2051.1 L1881.3 2046.9 L1881.9 2043.7 L1882.6 2040.2 L1883.2 2035.6 L1883.8 2031.9 L1884.5 2028.6 L1885.1 2023.3 L1885.8 2027.9 L1886.6 2031.4 L1887.3 2034.7 L1888.0 2039.5 L1888.8 2044.5 L1889.5 2048.7 L1890.2 2053.2 L1891.0 2055.7 L1891.7 2059.2 L1892.4 2064.8 L1893.2 2068.7 L1893.9 2072.5 L1897.8 2074.8 L1901.7 2076.5 L1905.6 2077.9 L1909.5 2079.5 L1913.4 2082.1 L1917.3 2085.6 L1921.1 2082.3 L1924.8 2081.7 L1928.6 2080.3 L1932.4 2077.4 L1936.2 2075.3 L1939.9 2075.3 L1943.7 2073.3 L1948.4 2073.0 L1953.1 2074.6 L1957.7 2074.0 L1962.4 2074.6 L1967.1 2074.5 L1971.0 2073.7 L1974.9 2072.6 L1978.8 2071.1 L1982.7 2069.8 L1986.6 2069.0 L1990.5 2067.5 L1994.9 2067.8 L1999.3 2067.2 L2003.7 2067.6 L2008.1 2067.6 L2012.5 2068.0 L2016.9 2069.5 L2021.0 2069.8 L2025.1 2071.4 L2029.2 2073.7 L2033.3 2075.1 L2037.4 2075.9 L2040.7 2079.1 L2044.1 2081.4 L2047.4 2084.4 L2050.8 2086.3 L2054.1 2089.6 L2057.5 2092.0 L2060.8 2096.4 L2064.5 2098.6 L2068.1 2101.5 L2071.8 2103.3 L2075.4 2105.8 L2079.1 2108.1 L2082.7 2111.4 L2086.3 2114.5 L2090.0 2115.5 L2092.2 2120.3 L2094.4 2124.6 L2096.6 2128.0 L2098.8 2130.6 L2101.0 2134.4 L2103.2 2137.6 L2105.4 2141.7 L2107.6 2144.5 L2111.5 2145.2 L2115.4 2147.1 L2119.3 2148.4 L2123.2 2148.4 L2127.1 2149.3 L2131.0 2151.3 L2134.9 2152.1 L2138.8 2153.2 L2142.7 2155.2 L2146.9 2155.8 L2151.1 2157.2 L2155.3 2158.4 L2159.4 2158.7 L2163.6 2159.9 L2167.8 2161.4 L2172.0 2162.1 L2175.8 2165.1 L2179.5 2166.9 L2183.3 2170.3 L2187.1 2172.1 L2190.9 2175.9 L2194.6 2179.1 L2198.4 2181.6 L2201.3 2176.8 L2204.2 2173.1 L2207.2 2170.5 L2210.1 2167.6 L2213.0 2163.5 L2216.9 2165.6 L2220.8 2167.0 L2224.7 2168.5 L2228.6 2169.6 L2232.5 2172.6 L2236.4 2174.6 L2240.3 2173.5 L2244.2 2172.6 L2248.1 2170.3 L2252.0 2168.6 L2255.9 2166.5 L2259.8 2165.8 L2260.2 2160.8 L2260.7 2156.6 L2261.1 2154.2 L2261.5 2148.9 L2262.0 2145.4 L2262.4 2142.5 L2262.8 2138.0 L2263.3 2132.8 L2263.7 2129.0 L2264.1 2125.2 L2264.6 2121.8 L2265.0 2116.4 L2265.4 2112.2 L2265.9 2109.4 L2266.3 2104.3 L2266.7 2099.8 L2267.2 2097.0 L2267.6 2093.5 L2268.0 2089.4 L2268.5 2085.2 L2268.9 2082.4 L2269.3 2078.0 L2269.8 2074.0 L2270.2 2068.4 L2270.6 2064.3 L2271.1 2059.8 L2271.5 2057.5 L2275.9 2058.5 L2280.3 2058.5 L2284.7 2059.5 L2289.1 2059.3 L2293.5 2059.8 L2297.9 2060.0 L2299.5 2063.2 L2301.1 2068.1 L2302.7 2071.6 L2304.3 2074.4 L2305.9 2077.5 L2307.5 2082.7 L2309.1 2087.3 L2310.7 2089.9 L2312.3 2094.4 L2313.9 2098.5 L2315.5 2100.5 L2316.8 2105.1 L2318.2 2109.0 L2319.5 2113.6 L2320.8 2116.3 L2322.1 2121.6 L2323.5 2126.1 L2324.8 2130.4 L2326.1 2134.0 L2327.4 2137.0 L2328.8 2141.0 L2330.1 2145.3 L2335.1 2143.3 L2340.0 2141.1 L2343.9 2143.5 L2347.8 2144.6 L2351.7 2146.3 L2355.6 2148.9 L2359.5 2151.6 L2363.4 2155.1 L2368.1 2154.4 L2372.8 2154.5 L2377.4 2153.4 L2382.1 2153.5 L2386.8 2153.2 L2390.8 2156.8 L2394.8 2159.1 L2398.8 2159.6 L2402.9 2162.1 L2406.9 2164.8 L2410.9 2166.7 L2414.9 2167.9 L2418.3 2170.3 L2421.6 2171.8 L2425.0 2174.6 L2428.3 2178.2 L2431.7 2181.0 L2435.0 2183.5 L2438.4 2184.6 L2443.1 2184.9 L2447.8 2187.1 L2452.4 2188.5 L2457.1 2190.3 L2461.8 2188.2 L2466.5 2188.6 L2471.1 2187.7 L2475.8 2186.1 L2480.5 2185.9 L2485.2 2184.4 L2489.9 2184.6 L2494.5 2183.0 L2499.2 2182.2 L2503.9 2181.7 L2507.8 2179.1 L2511.7 2177.8 L2515.7 2175.1 L2519.6 2173.3 L2523.5 2170.4 L2527.4 2167.0 L2531.3 2169.3 L2535.2 2170.8 L2539.1 2171.6 L2543.0 2174.0 L2546.9 2174.9 L2550.8 2175.6 L2555.5 2175.4 L2560.2 2173.1 L2564.8 2172.1 L2569.5 2172.5 L2574.2 2171.1 L2578.9 2170.6 L2583.6 2171.2 L2588.2 2171.0 L2592.9 2171.2 L2597.6 2171.7 L2602.3 2172.4 L2607.0 2172.2 L2611.6 2170.3 L2616.3 2170.0 L2621.0 2169.5 L2625.7 2168.9 L2630.4 2169.5 L2635.0 2169.2 L2639.7 2168.6 L2644.4 2168.6 L2649.1 2170.1 L2653.8 2171.3 L2658.5 2170.6 L2663.2 2171.6 L2667.9 2171.7 L2670.2 2169.5 L2672.6 2166.4 L2674.9 2163.6 L2677.2 2159.0 L2679.6 2155.4 L2681.9 2152.2 L2685.4 2147.4 L2688.9 2144.5 L2692.5 2141.7 L2696.0 2137.5 L2700.7 2140.3 L2705.3 2141.7 L2710.0 2144.1 L2714.7 2144.8 L2717.5 2140.9 L2720.3 2137.0 L2723.2 2134.2 L2726.0 2130.8 L2728.8 2126.6 L2731.6 2122.2 L2734.4 2120.1 L2737.2 2117.0 L2740.0 2113.6 L2742.8 2110.3 L2745.8 2107.5 L2748.8 2104.2 L2751.8 2102.4 L2754.9 2099.6 L2757.9 2097.5 L2760.9 2094.3 L2763.9 2092.2 L2766.2 2096.5 L2768.6 2099.5 L2770.9 2102.7 L2773.2 2106.6 L2775.6 2111.5 L2777.9 2114.8 L2781.7 2117.1 L2785.4 2117.6 L2789.2 2119.9 L2792.9 2121.1 L2796.7 2122.1 L2801.4 2122.2 L2806.1 2120.7 L2810.7 2120.5 L2815.4 2120.2 L2820.1 2120.2 L2821.2 2127.2 L2825.6 2129.0 L2830.1 2129.0 L2834.5 2127.8 L2839.0 2128.1 L2843.4 2129.3 L2846.5 2133.0 L2849.7 2134.6 L2852.8 2138.4 L2855.9 2140.8 L2859.1 2144.2 L2862.2 2146.8 L2865.9 2145.4 L2869.7 2143.4 L2873.4 2139.3 L2877.2 2137.0 L2880.9 2134.7 L2884.0 2136.7 L2887.1 2140.1 L2890.2 2143.7 L2893.4 2147.1 L2896.5 2148.7 L2899.6 2151.5 L2903.6 2149.4 L2907.6 2147.5 L2911.6 2147.9 L2915.7 2146.3 L2919.7 2143.9 L2923.7 2143.8 L2927.7 2142.2 L2931.6 2143.8 L2935.5 2146.0 L2939.4 2147.1 L2943.3 2147.6 L2947.2 2149.6 L2951.1 2149.1 L2955.1 2151.2 L2959.2 2151.4 L2963.2 2152.7 L2967.2 2154.8 L2971.2 2156.6 L2975.3 2158.3 L2979.3 2159.2 L2983.3 2160.0 L2987.3 2160.9 L2991.3 2159.8 L2995.4 2159.8 L2999.4 2159.7 L3003.4 2159.8 L3007.4 2159.5 L3011.7 2159.7 L3015.9 2158.8 L3020.2 2159.6 L3024.4 2159.5 L3028.7 2159.7 L3032.9 2158.2 L3037.2 2158.3 L3041.4 2156.6 L3045.7 2156.0 L3049.9 2157.0 L3054.2 2157.4 L3058.9 2157.5 L3063.6 2157.2 L3068.2 2157.9 L3072.9 2160.1 L3077.6 2161.0 L3082.3 2161.8 L3086.9 2163.7 L3091.6 2165.7 L3096.3 2165.9 L3100.1 2163.5 L3103.8 2160.5 L3107.6 2156.3 L3111.3 2153.4 L3115.1 2151.9 L3119.1 2152.5 L3123.1 2154.5 L3127.1 2158.0 L3131.2 2158.9 L3135.2 2162.2 L3139.2 2164.1 L3143.2 2164.8 L3147.2 2166.5 L3151.2 2166.4 L3155.2 2168.1 L3159.3 2167.7 L3163.3 2169.3 L3167.3 2168.8 L3171.3 2169.3 L3176.0 2170.0 L3180.6 2169.7 L3185.3 2168.8 L3188.2 2171.0 L3191.2 2173.7 L3194.1 2177.7 L3197.1 2180.5 L3200.0 2184.5 L3204.2 2183.2 L3208.4 2183.6 L3212.6 2184.6 L3216.7 2184.8 L3220.9 2183.7 L3225.1 2184.4 L3229.3 2184.5 L3233.9 2183.2 L3238.4 2183.7 L3243.0 2185.5 L3247.6 2186.1 L3250.9 2188.1 L3254.2 2190.4 L3257.5 2192.9 L3260.8 2197.2 L3264.1 2199.4 L3268.7 2200.8 L3273.3 2201.0 L3277.9 2201.3 L3282.5 2200.7 L3287.3 2202.0 L3292.0 2201.5 L3296.8 2201.8 L3301.5 2203.0 L3306.3 2204.2 L3310.5 2204.5 L3314.7 2204.7 L3318.9 2203.5 L3323.0 2203.4 L3327.2 2202.6 L3331.4 2204.1 L3335.6 2203.7 L3340.0 2201.6 L3344.4 2200.2 L3348.8 2199.5 L3353.2 2199.9 L3357.6 2198.7 L3361.9 2197.8 L3366.1 2196.5 L3370.4 2195.3 L3374.7 2193.8 L3378.9 2191.6 L3383.2 2191.6 L3387.1 2192.8 L3391.1 2193.7 L3395.0 2195.3 L3398.9 2196.7 L3402.8 2196.9 L3406.8 2199.3 L3410.7 2199.1 L3414.8 2200.3 L3418.9 2199.8 L3422.9 2200.1 L3427.0 2202.3 L3431.1 2203.8 L3435.2 2202.8 L3439.2 2203.0 L3443.3 2204.1 L3447.4 2204.3 L3452.0 2204.6 L3456.6 2204.6 L3461.2 2205.6 L3465.7 2204.7 L3470.3 2205.6 L3474.9 2205.3 L3478.8 2207.0 L3482.7 2208.0 L3486.6 2209.1 L3490.6 2209.0 L3494.5 2209.2 L3498.4 2211.3 L3502.3 2212.2 L3506.2 2212.7 L3510.2 2214.9 L3514.1 2215.9 L3518.0 2215.2 L3521.9 2215.2 L3525.9 2216.6 L3529.8 2218.3 L3534.1 2220.5 L3538.3 2220.1 L3542.6 2222.6 L3545.8 2219.0 L3549.1 2216.6 L3552.3 2214.5 L3555.5 2211.3 L3559.6 2208.8 L3563.8 2206.6 L3567.9 2206.4 L3572.0 2205.2" stroke="#00b453"/>
<path d="M524.0 1040.1 L525.1 1045.7 L526.3 1050.0 L527.5 1054.5 L528.6 1057.8 L529.8 1062.0 L530.9 1067.9 L531.0 1064.5 L531.0 1060.0 L531.1 1056.2 L531.1 1050.5 L531.2 1046.2 L531.2 1043.2 L531.3 1039.5 L531.3 1034.4 L531.4 1031.8 L531.4 1027.2 L531.5 1023.7 L531.5 1018.1 L531.6 1014.1 L531.6 1011.6 L531.7 1006.3 L531.7 1002.5 L531.8 999.6 L531.8 995.3 L531.9 992.3 L531.9 987.5 L532.0 982.2 L532.0 977.5 L532.1 974.7 L532.1 970.1 L532.2 965.4 L532.2 961.6 L532.3 959.5 L532.4 954.5 L532.4 950.1 L532.5 947.4 L532.5 943.5 L532.6 939.3 L532.6 935.5 L532.7 931.4 L532.7 926.7 L532.8 922.8 L532.8 919.5 L532.9 915.2 L532.9 911.5 L533.0 906.0 L533.0 902.8 L533.1 898.7 L533.1 894.8 L533.2 891.2 L533.2 887.8 L533.3 883.2 L533.3 879.5 L533.4 874.7 L533.4 870.9 L533.5 865.8 L533.5 861.6 L533.6 859.5 L533.6 854.8 L533.7 849.7 L533.9 855.5 L534.0 859.8 L534.2 863.3 L534.4 867.1 L534.5 871.8 L534.7 875.3 L534.9 879.3 L535.0 882.5 L535.2 885.9 L535.4 890.4 L535.5 895.4 L535.7 899.8 L535.9 903.8 L536.0 908.1 L536.2 910.6 L536.4 916.1 L536.5 918.5 L536.7 923.8 L536.9 927.0 L537.0 930.5 L537.2 936.0 L537.4 939.0 L537.5 944.3 L537.7 947.6 L537.9 950.6 L538.0 956.1 L538.2 960.8 L538.4 963.0 L538.5 968.2 L538.7 973.1 L538.9 976.2 L539.0 978.8 L539.2 984.1 L539.4 987.5 L539.5 990.8 L539.7 996.2 L539.9 1000.2 L540.0 1003.9 L540.2 1006.9 L540.4 1010.8 L540.6 1015.7 L540.7 1020.0 L540.9 1024.2 L541.1 1027.0 L541.2 1032.7 L541.4 1035.9 L541.6 1039.2 L541.7 1043.1 L541.9 1047.2 L542.1 1050.8 L542.2 1056.5 L542.4 1060.8 L542.6 1065.3 L542.7 1069.4 L542.9 1073.1 L543.1 1075.9 L543.2 1079.3 L543.4 1083.7 L543.6 1089.3 L543.7 1093.0 L543.9 1097.2 L544.1 1100.7 L544.2 1104.8 L544.4 1107.7 L544.6 1112.5 L544.7 1116.7 L544.9 1120.1 L545.1 1125.6 L545.2 1129.0 L545.4 1132.3 L545.6 1137.5 L545.7 1141.3 L545.9 1145.7 L546.1 1149.8 L546.2 1152.1 L546.4 1156.6 L546.7 1152.3 L546.9 1147.8 L547.2 1143.7 L547.5 1141.2 L547.7 1136.1 L548.0 1133.0 L548.3 1128.4 L548.5 1123.9 L548.8 1120.6 L549.1 1116.7 L549.3 1113.0 L549.6 1107.9 L549.9 1105.3 L550.1 1101.2 L550.4 1097.9 L550.7 1092.2 L550.9 1088.8 L551.2 1085.6 L551.5 1080.2 L551.7 1076.8 L552.0 1072.5 L552.3 1067.6 L552.5 1063.3 L552.8 1061.1 L553.1 1057.1 L553.3 1053.0 L553.6 1048.7 L553.9 1044.3 L554.1 1039.4 L554.4 1037.0 L554.7 1034.0 L554.9 1029.2 L555.2 1025.8 L555.5 1021.9 L555.7 1017.0 L556.0 1013.0 L556.3 1007.9 L556.5 1004.3 L556.8 1000.4 L557.1 997.1 L557.3 992.1 L557.6 989.4 L557.7 993.4 L557.8 996.0 L557.9 1001.2 L558.0 1003.8 L558.1 1007.8 L558.2 1013.3 L558.2 1017.8 L558.3 1022.0 L558.4 1024.7 L558.5 1028.5 L558.6 1033.0 L558.7 1036.0 L558.8 1041.4 L558.9 1045.3 L559.0 1050.4 L559.1 1053.8 L559.2 1058.1 L559.3 1061.2 L559.3 1065.3 L559.4 1069.2 L559.5 1074.1 L559.6 1077.4 L559.7 1081.7 L559.8 1085.5 L559.9 1090.6 L560.0 1094.6 L560.1 1098.1 L560.2 1103.2 L560.3 1107.3 L560.4 1110.0 L560.4 1114.9 L560.5 1118.6 L560.6 1121.6 L560.7 1126.9 L560.8 1131.5 L560.9 1136.1 L561.0 1138.2 L561.1 1143.3 L561.2 1147.6 L561.3 1151.9 L561.4 1156.2 L561.5 1158.9 L561.5 1163.2 L561.6 1167.7 L561.7 1171.0 L561.8 1174.5 L561.9 1178.3 L562.0 1182.6 L562.1 1187.9 L562.2 1192.5 L562.3 1197.0 L562.4 1200.0 L562.5 1203.7 L562.6 1208.6 L562.6 1212.8 L562.7 1215.4 L562.8 1219.1 L562.9 1222.7 L563.0 1226.4 L563.1 1231.1 L563.2 1236.4 L563.5 1232.6 L563.7 1227.4 L564.0 1222.8 L564.3 1220.6 L564.5 1215.3 L564.8 1211.2 L565.0 1207.9 L565.3 1204.9 L565.6 1200.0 L565.8 1194.8 L566.1 1190.3 L566.4 1186.2 L566.6 1182.1 L566.9 1179.0 L567.2 1176.1 L567.4 1172.4 L567.7 1168.8 L568.0 1163.7 L568.2 1158.6 L568.5 1154.5 L568.7 1150.4 L569.0 1145.9 L569.3 1142.1 L569.5 1139.0 L569.8 1135.4 L570.1 1132.3 L570.3 1128.0 L570.6 1122.9 L570.9 1118.6 L571.1 1115.3 L571.4 1110.7 L571.7 1105.6 L571.9 1102.4 L572.2 1098.2 L572.4 1094.9 L572.7 1089.9 L573.0 1086.9 L573.2 1083.6 L573.5 1079.4 L573.8 1074.5 L574.0 1070.7 L574.3 1065.9 L574.6 1061.5 L574.8 1058.1 L575.1 1054.1 L575.3 1050.7 L575.6 1047.2 L575.9 1041.9 L576.1 1038.4 L576.4 1034.1 L576.7 1030.4 L576.9 1026.5 L577.2 1021.7 L577.5 1018.8 L577.7 1013.0 L578.0 1008.8 L578.3 1004.9 L578.5 1000.4 L578.8 997.8 L579.0 992.6 L579.3 989.1 L579.6 985.9 L579.8 982.2 L580.1 978.7 L581.3 982.6 L582.6 987.2 L583.8 990.0 L585.0 994.7 L586.3 998.0 L587.5 1002.2 L588.8 1005.5 L590.0 1009.9 L590.1 1015.4 L590.2 1019.9 L590.3 1024.1 L590.3 1027.3 L590.4 1031.7 L590.5 1034.7 L590.6 1038.2 L590.7 1042.1 L590.8 1047.4 L590.9 1051.8 L590.9 1054.6 L591.0 1058.2 L591.1 1061.6 L591.2 1066.7 L591.3 1071.7 L591.4 1075.5 L591.5 1078.9 L591.5 1083.2 L591.6 1087.6 L591.7 1090.3 L591.8 1095.6 L591.9 1099.2 L592.0 1102.8 L592.0 1106.6 L592.1 1110.7 L592.2 1116.2 L592.3 1118.8 L592.4 1124.2 L592.5 1127.1 L592.6 1131.9 L592.6 1134.7 L592.7 1140.2 L592.8 1143.3 L592.9 1147.1 L593.0 1150.7 L593.1 1156.1 L593.2 1160.5 L593.2 1162.9 L593.3 1167.9 L593.4 1171.0 L593.5 1175.0 L593.6 1178.2 L593.7 1183.0 L593.8 1187.1 L593.8 1191.7 L593.9 1195.5 L594.0 1198.9 L594.1 1204.4 L594.2 1208.9 L594.3 1211.7 L594.4 1216.5 L594.4 1219.4 L594.5 1224.0 L594.6 1228.9 L594.7 1232.8 L594.8 1236.3 L594.9 1239.2 L595.0 1243.9 L595.0 1248.8 L595.1 1251.7 L595.2 1254.8 L595.3 1259.2 L595.4 1263.0 L595.5 1268.1 L595.5 1270.8 L595.6 1275.5 L595.7 1279.6 L595.8 1283.5 L595.9 1287.6 L596.0 1291.5 L596.1 1294.6 L596.1 1298.7 L596.2 1303.8 L596.3 1309.0 L596.4 1312.8 L596.5 1316.1 L596.6 1319.6 L596.7 1325.0 L596.7 1327.3 L596.8 1330.6 L596.9 1334.5 L597.0 1339.7 L597.3 1335.4 L597.6 1332.9 L598.0 1329.2 L598.3 1324.4 L598.6 1320.7 L598.9 1316.6 L599.3 1312.4 L599.6 1308.1 L599.9 1305.1 L600.2 1301.5 L600.6 1296.2 L600.9 1292.4 L601.2 1287.1 L601.5 1282.7 L601.8 1279.5 L602.2 1276.5 L602.5 1272.6 L602.8 1268.7 L603.1 1263.1 L603.5 1259.1 L603.8 1255.7 L604.1 1252.0 L604.4 1246.7 L604.8 1242.9 L605.1 1240.1 L605.4 1235.5 L605.7 1232.3 L606.0 1227.8 L606.4 1224.1 L606.7 1218.8 L607.0 1215.2 L607.3 1212.1 L607.7 1206.8 L608.0 1202.0 L608.3 1198.8 L608.6 1195.7 L609.0 1191.3 L609.3 1186.8 L609.6 1182.3 L609.9 1178.1 L610.2 1175.0 L610.6 1170.1 L610.9 1167.1 L611.2 1164.1 L611.5 1160.1 L611.9 1154.7 L612.2 1151.6 L612.5 1146.7 L612.8 1142.7 L613.2 1138.9 L613.5 1135.5 L613.8 1131.5 L614.1 1127.2 L614.4 1121.9 L614.8 1117.6 L615.1 1114.5 L615.4 1111.0 L615.7 1105.9 L616.1 1103.1 L616.4 1097.9 L616.7 1094.3 L617.0 1090.1 L617.4 1085.5 L617.7 1082.7 L618.0 1079.6 L619.1 1082.3 L620.3 1087.4 L621.4 1091.4 L622.5 1094.4 L623.6 1098.3 L624.8 1103.4 L625.9 1107.6 L627.0 1110.3 L628.2 1114.1 L629.3 1117.1 L629.4 1122.7 L629.6 1126.9 L629.7 1129.6 L629.9 1134.6 L630.0 1137.9 L630.1 1142.8 L630.3 1147.1 L630.4 1151.0 L630.6 1155.7 L630.7 1158.4 L630.8 1162.3 L631.0 1167.0 L631.1 1170.8 L631.3 1173.8 L631.4 1178.5 L631.5 1181.4 L631.7 1186.2 L631.8 1189.8 L632.0 1195.1 L632.1 1199.2 L632.2 1203.7 L632.4 1206.3 L632.5 1209.9 L632.7 1213.5 L632.8 1217.3 L632.9 1222.2 L633.1 1226.1 L633.2 1229.7 L633.4 1233.7 L633.5 1238.1 L633.6 1242.2 L633.8 1246.7 L633.9 1249.6 L634.1 1253.4 L634.2 1257.0 L634.3 1263.0 L634.5 1266.7 L634.6 1271.2 L634.8 1275.4 L634.9 1279.0 L635.0 1283.6 L635.2 1286.6 L635.3 1290.4 L635.5 1294.6 L635.6 1299.2 L635.7 1303.5 L635.9 1307.6 L636.0 1311.5 L636.2 1316.4 L636.3 1319.2 L636.4 1321.9 L636.6 1325.4 L636.7 1330.8 L636.9 1335.2 L637.0 1339.3 L637.1 1343.8 L637.3 1347.6 L637.4 1351.5 L637.6 1355.0 L637.7 1359.1 L637.8 1364.3 L638.0 1368.0 L638.1 1371.6 L638.3 1375.6 L638.4 1378.3 L638.5 1382.7 L638.7 1386.6 L638.8 1390.8 L639.0 1395.1 L639.1 1399.7 L639.2 1403.8 L639.4 1407.3 L639.5 1411.7 L639.7 1416.4 L639.8 1420.0 L639.9 1424.9 L640.1 1427.5 L640.2 1431.3 L640.4 1434.7 L640.5 1439.6 L640.6 1442.9 L640.8 1448.5 L640.9 1451.1 L641.1 1454.8 L641.2 1460.3 L641.3 1464.6 L641.5 1468.5 L641.6 1471.7 L641.8 1475.9 L641.9 1480.4 L642.0 1485.1 L642.2 1488.3 L642.3 1491.9 L642.5 1495.6 L642.6 1500.5 L642.7 1504.6 L642.9 1507.3 L643.0 1512.6 L643.2 1516.7 L643.3 1521.1 L643.7 1515.9 L644.1 1511.6 L644.5 1508.3 L644.9 1502.8 L645.3 1500.4 L645.6 1496.2 L646.0 1492.2 L646.4 1487.1 L646.8 1484.3 L647.2 1479.1 L647.6 1475.5 L648.0 1470.2 L648.4 1467.7 L648.8 1462.8 L649.2 1459.9 L649.6 1454.5 L650.0 1450.1 L650.3 1447.1 L650.7 1442.9 L651.1 1439.4 L651.5 1433.8 L651.9 1429.6 L652.3 1425.9 L652.7 1421.5 L653.1 1418.4 L653.5 1414.5 L653.9 1409.8 L654.3 1405.6 L654.7 1402.0 L655.0 1398.2 L655.4 1394.6 L655.8 1390.3 L656.2 1385.0 L656.6 1382.6 L657.0 1379.2 L657.4 1373.5 L657.6 1377.9 L657.9 1380.6 L658.1 1386.2 L658.3 1391.0 L658.6 1394.0 L658.8 1397.2 L659.0 1402.8 L659.3 1407.5 L659.5 1410.8 L659.7 1414.6 L660.0 1419.0 L660.2 1423.2 L660.4 1427.1 L660.7 1430.3 L660.9 1435.1 L661.1 1437.6 L661.4 1442.7 L661.6 1447.2 L661.8 1450.3 L662.1 1453.3 L662.3 1457.5 L662.5 1461.5 L662.8 1465.5 L663.0 1469.9 L663.2 1475.4 L663.5 1478.5 L663.7 1483.2 L663.9 1488.1 L664.2 1492.1 L664.4 1496.4 L664.6 1499.6 L664.9 1502.5 L665.1 1506.4 L665.3 1511.5 L665.6 1516.3 L665.8 1519.5 L666.0 1523.6 L666.3 1527.8 L666.5 1530.7 L666.7 1534.7 L667.0 1539.7 L667.2 1543.2 L667.4 1546.7 L667.7 1550.1 L667.9 1555.9 L668.1 1558.9 L668.4 1564.2 L668.6 1567.6 L668.9 1562.4 L669.2 1558.8 L669.6 1554.0 L669.9 1550.5 L670.2 1548.0 L670.5 1542.8 L670.8 1539.1 L671.2 1535.9 L671.5 1531.3 L671.8 1526.5 L672.1 1524.0 L672.5 1520.2 L672.8 1516.2 L673.1 1512.3 L673.4 1507.8 L673.7 1502.9 L674.1 1498.3 L674.4 1493.5 L674.7 1489.7 L675.0 1485.9 L675.3 1482.2 L675.7 1478.4 L676.0 1475.1 L676.3 1470.3 L676.6 1465.9 L676.9 1463.3 L677.3 1457.7 L677.6 1455.0 L677.9 1450.4 L678.2 1445.6 L678.5 1442.5 L678.9 1439.4 L679.2 1435.0 L679.5 1431.1 L679.8 1425.6 L680.1 1423.0 L680.5 1419.2 L680.8 1414.0 L681.1 1410.9 L681.4 1405.4 L681.8 1401.1 L682.1 1397.6 L682.4 1394.4 L682.7 1390.0 L683.0 1386.8 L683.4 1383.2 L683.7 1377.2 L684.0 1373.7 L684.9 1377.0 L685.8 1382.5 L686.7 1387.1 L687.6 1391.6 L688.5 1395.8 L689.5 1399.6 L690.4 1402.5 L691.3 1407.2 L692.2 1410.4 L693.1 1413.8 L694.0 1419.0 L694.3 1423.5 L694.6 1427.0 L695.0 1431.9 L695.3 1436.2 L695.6 1439.6 L695.9 1443.1 L696.3 1448.1 L696.6 1451.7 L696.9 1456.0 L697.2 1459.8 L697.6 1464.5 L697.9 1469.4 L698.2 1473.9 L698.5 1478.2 L698.9 1480.7 L699.2 1484.8 L699.5 1488.0 L700.1 1492.1 L700.7 1495.5 L701.3 1501.2 L701.9 1504.2 L702.6 1509.2 L703.2 1513.1 L703.8 1517.7 L704.4 1520.4 L705.0 1524.4 L705.3 1528.6 L705.5 1532.4 L705.8 1537.6 L706.1 1541.4 L706.3 1545.2 L706.6 1548.1 L706.8 1552.8 L707.1 1557.3 L707.4 1561.9 L707.6 1565.7 L707.9 1570.0 L708.2 1573.8 L708.4 1578.2 L708.7 1581.6 L708.9 1586.6 L709.2 1591.1 L709.5 1593.2 L709.7 1597.2 L710.0 1602.0 L710.3 1605.4 L710.5 1608.8 L710.8 1613.9 L711.1 1617.6 L711.3 1620.7 L711.6 1625.5 L711.8 1629.2 L712.1 1634.6 L712.4 1639.3 L712.6 1642.8 L712.9 1646.8 L713.2 1651.4 L713.4 1655.3 L713.7 1658.1 L713.9 1661.1 L714.2 1665.4 L714.5 1668.7 L714.7 1673.4 L715.0 1678.9 L715.3 1682.9 L715.5 1687.4 L715.8 1691.1 L716.1 1695.3 L716.3 1699.7 L716.6 1703.0 L716.8 1706.5 L717.1 1709.3 L717.4 1714.6 L717.6 1717.3 L717.9 1721.9 L718.2 1725.7 L718.4 1729.5 L718.7 1733.2 L718.9 1738.0 L719.2 1742.9 L719.5 1746.4 L719.7 1749.9 L720.0 1753.6 L720.5 1751.0 L721.0 1746.7 L721.5 1743.0 L722.0 1737.9 L722.5 1734.8 L723.0 1730.0 L723.4 1726.2 L723.9 1721.8 L724.4 1719.1 L724.9 1714.7 L725.4 1710.5 L725.9 1707.4 L726.4 1702.7 L726.9 1698.7 L727.4 1693.8 L727.9 1689.6 L728.4 1686.8 L728.8 1681.3 L729.3 1676.6 L729.8 1673.1 L730.3 1669.2 L730.8 1664.8 L731.3 1662.5 L731.8 1657.4 L732.5 1661.3 L733.2 1665.6 L734.0 1668.9 L734.7 1672.9 L735.4 1678.4 L736.1 1683.5 L736.9 1686.2 L737.6 1689.3 L738.3 1694.0 L739.0 1698.9 L739.8 1702.4 L740.5 1706.1 L741.2 1710.1 L741.9 1714.9 L742.7 1718.6 L743.4 1722.9 L744.1 1725.8 L744.8 1731.5 L745.6 1736.0 L746.3 1739.6 L747.0 1743.0 L747.9 1739.8 L748.8 1736.2 L749.8 1731.8 L750.7 1728.3 L751.6 1723.1 L752.5 1718.7 L753.4 1713.8 L754.4 1711.8 L755.3 1707.6 L756.2 1704.5 L757.1 1700.5 L758.0 1695.5 L759.0 1692.5 L759.9 1688.9 L760.8 1684.2 L761.7 1678.9 L762.6 1676.0 L763.6 1670.5 L764.5 1668.0 L765.4 1664.4 L766.3 1661.0 L767.2 1655.1 L768.2 1650.8 L769.1 1647.3 L770.0 1643.8 L770.6 1646.5 L771.2 1650.9 L771.7 1656.2 L772.3 1660.3 L772.9 1663.0 L773.5 1666.8 L774.0 1670.2 L774.6 1674.6 L775.2 1678.6 L775.8 1683.0 L776.4 1686.8 L776.9 1690.5 L777.5 1695.8 L778.1 1700.6 L778.7 1703.8 L779.2 1707.1 L779.8 1712.0 L780.4 1716.7 L781.0 1719.7 L781.6 1724.8 L782.1 1728.4 L782.7 1732.8 L783.3 1737.3 L783.9 1740.9 L784.5 1744.1 L785.0 1749.3 L785.6 1751.9 L786.2 1755.3 L786.8 1759.1 L787.3 1764.8 L787.9 1767.9 L788.5 1771.3 L789.1 1777.0 L789.7 1779.8 L790.2 1784.8 L790.8 1788.0 L791.4 1792.6 L792.0 1795.8 L792.5 1800.9 L793.1 1805.0 L793.7 1809.0 L794.1 1804.5 L794.4 1801.4 L794.8 1796.2 L795.2 1792.5 L795.5 1788.0 L795.9 1784.3 L796.2 1780.5 L796.6 1776.0 L797.0 1772.1 L797.3 1767.2 L797.7 1762.5 L798.1 1758.6 L798.4 1755.4 L798.8 1751.0 L799.1 1748.3 L799.5 1744.9 L799.9 1739.6 L800.2 1736.1 L800.6 1731.8 L801.0 1726.5 L801.3 1721.9 L801.7 1717.3 L802.0 1715.2 L802.4 1711.1 L802.8 1707.9 L803.1 1704.3 L803.5 1698.1 L803.9 1693.6 L804.2 1689.6 L804.6 1685.9 L804.9 1681.0 L805.3 1677.7 L805.7 1674.7 L806.0 1669.5 L806.4 1665.4 L807.1 1660.7 L807.9 1657.5 L808.6 1654.8 L809.3 1650.9 L810.0 1645.6 L810.8 1641.0 L811.5 1636.6 L812.2 1632.8 L812.9 1629.3 L813.7 1625.6 L814.4 1621.3 L815.1 1618.1 L815.8 1613.7 L816.6 1610.5 L817.3 1607.3 L818.0 1603.1 L818.7 1598.5 L819.5 1594.3 L820.2 1591.1 L820.9 1586.1 L821.6 1581.9 L822.4 1578.5 L823.1 1574.3 L823.8 1570.9 L824.5 1566.4 L825.3 1562.8 L826.0 1558.5 L826.2 1563.0 L826.5 1566.4 L826.7 1570.1 L827.0 1574.2 L827.2 1579.5 L827.4 1582.6 L827.7 1586.4 L827.9 1590.0 L828.1 1594.8 L828.4 1598.2 L828.6 1604.0 L828.9 1607.0 L829.1 1609.9 L829.3 1614.0 L829.6 1617.6 L829.8 1622.9 L830.0 1627.7 L830.3 1631.6 L830.5 1635.5 L830.8 1640.4 L831.0 1643.1 L831.2 1646.5 L831.5 1652.2 L831.7 1656.2 L832.0 1659.6 L832.2 1662.2 L832.4 1666.2 L832.7 1670.4 L832.9 1673.8 L833.1 1679.0 L833.4 1682.5 L833.6 1685.9 L833.9 1690.2 L834.1 1695.4 L834.3 1700.5 L834.6 1704.4 L834.8 1708.8 L835.0 1712.6 L835.3 1714.7 L835.5 1718.4 L835.8 1724.0 L836.0 1727.4 L839.9 1730.7 L843.8 1733.1 L847.7 1736.8 L851.6 1739.5 L852.0 1736.1 L852.4 1730.5 L852.8 1727.2 L853.3 1722.6 L853.7 1719.5 L854.1 1716.1 L854.5 1711.2 L854.9 1705.8 L855.3 1703.1 L855.7 1698.1 L856.1 1693.9 L856.6 1689.2 L857.0 1686.8 L857.4 1682.0 L857.8 1677.5 L858.2 1673.3 L858.6 1670.3 L859.0 1667.1 L859.5 1663.4 L859.9 1657.6 L860.3 1654.4 L860.7 1651.0 L861.1 1647.6 L861.5 1642.6 L861.9 1638.4 L862.3 1635.1 L862.8 1630.9 L863.2 1626.8 L863.6 1622.9 L864.0 1619.3 L866.1 1622.6 L868.2 1626.1 L870.3 1628.9 L872.4 1634.4 L874.5 1638.1 L876.6 1641.8 L878.7 1645.0 L879.1 1648.5 L879.4 1653.0 L879.8 1657.0 L880.2 1661.9 L880.5 1666.1 L880.9 1670.3 L881.3 1673.2 L881.6 1677.2 L882.0 1682.5 L882.3 1687.1 L882.7 1691.4 L883.1 1694.7 L883.4 1699.1 L883.8 1701.9 L884.2 1705.6 L884.5 1708.9 L884.9 1714.4 L885.3 1717.5 L885.6 1721.3 L886.0 1725.5 L886.4 1730.5 L886.7 1733.2 L887.1 1737.1 L887.4 1741.9 L887.8 1745.2 L888.2 1749.4 L888.5 1755.0 L888.9 1758.3 L889.3 1761.2 L889.6 1766.2 L890.0 1769.9 L890.7 1766.7 L891.5 1762.9 L892.2 1758.4 L892.9 1754.3 L893.6 1749.4 L894.4 1743.8 L895.1 1740.8 L895.8 1737.1 L896.5 1732.3 L897.3 1728.5 L898.0 1722.9 L899.9 1728.1 L901.9 1731.0 L903.8 1735.3 L905.7 1739.4 L907.6 1742.0 L909.6 1747.5 L911.5 1750.5 L913.4 1755.6 L915.4 1757.7 L917.3 1762.5 L922.5 1761.3 L927.6 1758.7 L932.8 1759.1 L933.4 1763.0 L934.1 1767.8 L934.7 1771.5 L935.4 1775.6 L936.0 1778.7 L936.7 1781.9 L937.3 1786.0 L938.0 1791.3 L938.6 1795.8 L939.2 1800.0 L939.9 1804.0 L940.5 1806.4 L941.2 1812.1 L941.8 1816.5 L942.5 1820.1 L943.1 1823.4 L943.8 1828.2 L944.4 1832.3 L947.0 1836.5 L949.5 1838.3 L952.1 1842.0 L954.7 1845.9 L957.2 1848.7 L959.8 1851.7 L962.4 1855.8 L964.9 1859.4 L967.5 1864.0 L968.3 1867.5 L969.1 1870.5 L969.9 1874.9 L970.7 1877.7 L971.5 1882.1 L972.4 1887.5 L973.2 1890.5 L974.0 1894.0 L974.8 1898.9 L975.6 1903.5 L976.4 1908.4 L977.2 1911.5 L978.0 1915.4 L978.8 1918.4 L979.6 1923.0 L980.4 1926.8 L981.2 1931.1 L982.0 1935.8 L982.9 1938.6 L983.7 1942.1 L984.5 1947.7 L985.3 1952.0 L986.1 1955.3 L986.9 1958.9 L991.3 1961.6 L995.6 1964.0 L1000.0 1965.6 L1002.3 1962.0 L1004.7 1957.6 L1007.0 1955.1 L1009.4 1952.0 L1011.7 1947.3 L1012.4 1950.9 L1013.1 1955.9 L1013.8 1959.6 L1014.5 1964.5 L1015.1 1969.0 L1015.8 1972.9 L1016.5 1977.1 L1017.2 1981.2 L1017.9 1985.8 L1018.6 1989.2 L1019.3 1991.9 L1020.0 1996.6 L1020.6 2001.0 L1021.3 2005.8 L1022.0 2008.5 L1022.7 2013.8 L1023.4 2018.6 L1024.2 2014.2 L1024.9 2010.6 L1025.7 2005.3 L1026.5 2000.7 L1027.2 1997.4 L1028.0 1993.0 L1028.8 1988.7 L1029.5 1985.8 L1030.3 1981.5 L1031.1 1976.5 L1031.8 1973.3 L1032.6 1968.9 L1033.3 1963.8 L1034.1 1959.5 L1034.9 1955.2 L1035.6 1950.8 L1036.4 1946.7 L1037.2 1944.0 L1037.9 1938.9 L1038.7 1936.7 L1039.5 1931.4 L1040.2 1927.9 L1041.0 1922.8 L1045.4 1923.4 L1049.8 1924.2 L1054.1 1924.8 L1058.5 1923.7 L1059.2 1927.8 L1059.9 1932.5 L1060.6 1935.6 L1061.3 1939.9 L1062.0 1943.5 L1062.7 1948.7 L1063.4 1953.8 L1064.1 1956.8 L1064.7 1960.1 L1065.4 1965.3 L1066.1 1969.5 L1066.8 1973.4 L1067.5 1976.9 L1068.2 1981.8 L1068.9 1985.5 L1069.6 1990.3 L1070.3 1993.8 L1074.2 1996.6 L1078.1 1998.9 L1082.0 1999.8 L1083.2 1996.6 L1084.3 1992.3 L1085.5 1988.1 L1086.7 1985.1 L1087.8 1981.2 L1089.0 1976.1 L1090.2 1972.6 L1091.3 1969.5 L1092.5 1966.2 L1093.7 1960.7 L1094.8 1958.0 L1096.0 1953.2 L1097.2 1949.4 L1098.3 1945.7 L1099.5 1940.5 L1101.7 1945.2 L1103.9 1948.1 L1106.1 1952.7 L1108.3 1956.7 L1110.5 1959.6 L1112.7 1963.0 L1114.9 1967.7 L1117.1 1971.6 L1120.8 1974.2 L1124.4 1976.9 L1128.0 1978.9 L1131.7 1979.7 L1133.3 1983.4 L1135.0 1987.5 L1136.6 1991.4 L1138.2 1996.0 L1139.9 1999.7 L1141.5 2003.3 L1143.1 2007.7 L1144.8 2010.6 L1146.4 2015.8 L1148.0 2011.0 L1149.6 2007.3 L1151.2 2003.0 L1152.8 1999.3 L1154.4 1994.5 L1155.9 1991.0 L1157.5 1986.6 L1159.1 1983.0 L1160.7 1978.2 L1162.3 1973.9 L1163.9 1969.3 L1165.9 1974.4 L1167.8 1979.4 L1169.8 1982.8 L1171.7 1986.0 L1173.6 1990.3 L1175.6 1993.9 L1176.2 1997.8 L1176.8 2001.1 L1177.4 2005.6 L1178.0 2011.2 L1178.7 2014.1 L1179.3 2018.6 L1179.9 2022.7 L1180.5 2026.6 L1181.1 2031.0 L1181.7 2033.6 L1182.3 2037.1 L1182.9 2040.9 L1183.6 2046.6 L1184.2 2050.9 L1184.8 2054.7 L1185.4 2057.9 L1186.0 2062.3 L1186.6 2067.5 L1187.2 2071.6 L1187.8 2076.1 L1188.5 2080.3 L1189.1 2082.3 L1189.7 2087.7 L1190.3 2090.2 L1191.2 2085.5 L1192.0 2082.0 L1192.9 2077.9 L1193.7 2075.0 L1194.6 2071.4 L1195.5 2066.4 L1196.3 2063.9 L1197.2 2059.3 L1198.0 2055.8 L1198.9 2050.9 L1199.7 2047.6 L1200.6 2042.5 L1201.5 2039.3 L1202.3 2035.0 L1203.2 2031.0 L1204.0 2027.5 L1204.9 2024.7 L1207.1 2027.2 L1209.3 2031.4 L1211.5 2033.8 L1213.7 2037.1 L1215.9 2042.5 L1218.1 2045.2 L1220.3 2050.1 L1222.5 2053.7 L1223.4 2049.3 L1224.2 2044.9 L1225.1 2041.4 L1226.0 2035.8 L1226.9 2032.3 L1227.8 2027.5 L1228.6 2023.1 L1229.5 2020.6 L1230.4 2017.2 L1231.2 2012.7 L1232.1 2007.9 L1233.0 2004.7 L1233.9 1998.7 L1234.8 1995.6 L1235.6 1992.2 L1236.5 1987.4 L1237.4 1982.5 L1238.2 1979.7 L1239.1 1975.2 L1240.0 1970.4 L1242.9 1966.8 L1245.9 1965.1 L1248.8 1963.0 L1251.7 1959.4 L1254.7 1955.6 L1257.6 1953.8 L1258.2 1956.7 L1258.8 1960.8 L1259.4 1965.2 L1260.1 1969.3 L1260.7 1972.9 L1261.3 1976.9 L1261.9 1982.8 L1262.5 1986.3 L1263.1 1990.0 L1263.8 1995.4 L1264.4 2000.2 L1265.0 2004.7 L1265.6 2008.3 L1266.2 2011.1 L1266.8 2015.8 L1267.5 2020.7 L1268.1 2024.3 L1268.7 2028.0 L1269.3 2032.8 L1271.5 2029.1 L1273.7 2025.9 L1275.9 2021.0 L1278.1 2016.9 L1280.3 2013.1 L1282.5 2008.9 L1284.7 2006.8 L1286.9 2003.5 L1288.8 2006.8 L1290.8 2010.9 L1292.7 2015.4 L1294.7 2019.3 L1296.6 2022.8 L1298.6 2026.0 L1300.5 2029.8 L1302.5 2034.8 L1304.4 2037.9 L1306.9 2035.5 L1309.4 2032.0 L1311.9 2026.8 L1314.5 2023.0 L1317.0 2018.4 L1319.5 2014.7 L1322.0 2011.0 L1324.3 2009.0 L1326.7 2005.8 L1329.0 2002.7 L1331.4 1997.6 L1333.7 1993.5 L1335.7 1997.1 L1337.6 2000.8 L1339.6 2006.1 L1341.5 2009.4 L1343.5 2014.2 L1345.4 2017.3 L1347.4 2021.2 L1349.3 2024.9 L1351.3 2029.4 L1353.7 2025.6 L1356.2 2022.9 L1358.6 2018.2 L1361.0 2014.9 L1363.5 2012.1 L1365.9 2009.3 L1366.5 2005.8 L1367.0 2001.1 L1367.6 1997.1 L1368.1 1991.6 L1368.7 1987.5 L1369.2 1983.9 L1369.8 1979.9 L1370.3 1975.7 L1370.9 1972.3 L1371.4 1966.8 L1372.0 1962.5 L1372.5 1957.6 L1373.0 1953.8 L1373.6 1949.6 L1374.2 1945.9 L1374.7 1940.6 L1375.0 1937.5 L1375.3 1932.2 L1375.7 1928.7 L1376.0 1925.7 L1376.3 1922.1 L1376.6 1917.0 L1376.9 1912.9 L1377.2 1908.3 L1377.6 1903.7 L1377.9 1900.3 L1378.2 1896.3 L1378.5 1891.5 L1378.8 1887.5 L1379.1 1883.7 L1379.5 1879.7 L1379.8 1876.1 L1380.1 1873.3 L1380.4 1869.0 L1380.7 1864.5 L1381.0 1859.7 L1381.4 1855.4 L1381.7 1852.0 L1382.0 1849.0 L1382.3 1845.6 L1382.6 1841.8 L1382.9 1837.8 L1383.3 1831.7 L1383.6 1828.2 L1383.9 1823.6 L1384.2 1818.8 L1384.5 1815.0 L1384.8 1810.4 L1385.2 1806.1 L1385.5 1802.8 L1385.8 1799.7 L1389.9 1800.3 L1390.2 1804.7 L1390.6 1808.8 L1391.0 1811.9 L1391.3 1815.7 L1391.7 1820.3 L1392.0 1823.7 L1392.4 1828.7 L1392.7 1832.1 L1393.0 1835.9 L1393.4 1840.4 L1393.8 1843.2 L1394.1 1847.6 L1394.5 1851.8 L1394.8 1855.7 L1395.2 1860.8 L1395.5 1865.7 L1395.8 1869.7 L1396.2 1873.9 L1396.5 1876.5 L1396.9 1882.0 L1397.2 1885.8 L1397.6 1889.9 L1398.0 1893.8 L1398.3 1896.4 L1398.6 1902.0 L1399.0 1905.8 L1399.3 1909.4 L1399.7 1912.6 L1400.0 1917.9 L1400.4 1922.9 L1400.8 1926.9 L1401.1 1929.8 L1402.0 1925.5 L1402.8 1920.6 L1403.7 1917.9 L1404.5 1913.8 L1405.4 1910.7 L1406.3 1905.5 L1407.1 1902.8 L1408.0 1898.2 L1408.8 1894.6 L1409.7 1890.2 L1410.5 1886.1 L1411.4 1883.4 L1412.3 1878.1 L1413.1 1873.9 L1414.0 1870.1 L1414.8 1865.5 L1415.7 1861.3 L1417.1 1865.9 L1418.4 1870.5 L1419.8 1873.7 L1421.1 1876.9 L1422.5 1880.5 L1423.8 1884.4 L1425.2 1887.7 L1426.5 1892.4 L1427.9 1897.3 L1429.2 1901.6 L1430.6 1904.9 L1431.9 1908.3 L1433.3 1913.3 L1434.7 1908.4 L1436.1 1905.5 L1437.4 1900.3 L1438.8 1897.1 L1440.2 1892.8 L1441.6 1888.7 L1442.9 1885.4 L1444.3 1881.8 L1445.7 1877.2 L1447.1 1873.4 L1448.4 1869.8 L1449.8 1867.5 L1451.2 1864.0 L1452.6 1859.9 L1453.9 1854.5 L1455.3 1851.7 L1456.7 1848.5 L1461.1 1849.6 L1465.5 1851.2 L1469.8 1852.4 L1474.2 1853.5 L1475.3 1856.6 L1476.5 1860.7 L1477.6 1865.3 L1478.8 1870.2 L1479.9 1872.4 L1481.0 1876.0 L1482.2 1880.9 L1483.3 1885.2 L1484.5 1888.7 L1485.6 1893.0 L1486.7 1897.6 L1487.9 1900.0 L1489.0 1903.5 L1490.1 1907.1 L1491.3 1910.6 L1492.4 1914.4 L1493.6 1919.4 L1494.7 1923.3 L1495.4 1918.6 L1496.0 1915.1 L1496.7 1911.5 L1497.3 1907.8 L1498.0 1904.4 L1498.7 1900.4 L1499.3 1894.9 L1500.0 1890.6 L1501.5 1886.2 L1503.1 1883.8 L1504.6 1878.9 L1506.2 1875.2 L1507.7 1870.7 L1509.4 1867.0 L1511.1 1862.4 L1512.9 1857.6 L1514.6 1853.3 L1516.3 1851.1 L1518.0 1848.4 L1519.8 1843.3 L1521.5 1840.4 L1523.2 1836.6 L1524.3 1840.7 L1525.3 1844.4 L1526.4 1846.7 L1527.4 1851.0 L1528.5 1855.6 L1529.5 1858.2 L1530.6 1862.4 L1531.6 1866.1 L1532.7 1870.0 L1533.7 1875.3 L1534.8 1878.9 L1537.7 1881.4 L1540.6 1884.7 L1543.5 1888.4 L1546.4 1892.5 L1547.3 1888.6 L1548.2 1885.1 L1549.1 1881.0 L1550.0 1877.5 L1550.9 1872.2 L1551.8 1868.2 L1552.6 1863.5 L1553.5 1860.6 L1554.4 1856.3 L1555.3 1852.6 L1556.2 1847.0 L1557.1 1843.9 L1558.0 1839.7 L1559.2 1842.7 L1560.3 1847.2 L1561.5 1851.1 L1562.6 1855.9 L1563.8 1860.0 L1565.0 1864.2 L1566.1 1866.1 L1567.3 1870.1 L1568.4 1874.8 L1569.6 1877.4 L1570.3 1873.9 L1571.0 1868.9 L1571.6 1864.8 L1572.3 1860.8 L1573.0 1856.5 L1573.7 1852.5 L1574.3 1849.8 L1575.0 1845.1 L1575.7 1841.3 L1576.4 1838.4 L1577.0 1834.3 L1577.7 1828.7 L1578.4 1825.5 L1579.1 1821.4 L1579.7 1817.8 L1580.4 1812.3 L1581.1 1809.4 L1585.0 1806.0 L1588.9 1804.3 L1592.7 1801.5 L1596.6 1800.4 L1600.5 1797.7 L1601.5 1800.6 L1602.4 1805.5 L1603.4 1809.9 L1604.3 1813.7 L1605.3 1818.9 L1606.3 1823.0 L1607.2 1828.4 L1608.2 1833.3 L1610.4 1827.5 L1612.6 1825.0 L1614.8 1820.3 L1617.0 1817.5 L1619.2 1813.5 L1621.4 1809.5 L1623.6 1804.4 L1624.1 1808.1 L1624.6 1813.4 L1625.1 1816.9 L1625.5 1821.7 L1626.0 1827.1 L1626.5 1832.1 L1627.0 1834.6 L1627.5 1838.4 L1631.6 1841.4 L1635.8 1843.0 L1639.9 1846.1 L1644.0 1847.6 L1644.9 1851.5 L1645.8 1856.0 L1646.7 1860.3 L1647.6 1863.7 L1648.5 1868.9 L1649.4 1872.4 L1650.3 1876.2 L1651.2 1879.5 L1652.1 1884.4 L1653.0 1889.3 L1653.9 1892.6 L1654.8 1896.1 L1655.7 1900.9 L1658.1 1904.4 L1660.6 1909.3 L1663.0 1912.8 L1665.4 1916.6 L1667.9 1920.3 L1670.3 1925.1 L1673.2 1926.9 L1676.2 1931.1 L1679.1 1933.8 L1682.0 1936.4 L1684.9 1940.5 L1687.9 1945.0 L1690.8 1948.2 L1694.2 1949.8 L1697.6 1953.1 L1701.0 1956.8 L1704.5 1958.8 L1707.9 1962.5 L1711.3 1964.1 L1715.7 1963.1 L1720.1 1962.8 L1724.5 1961.2 L1728.9 1959.7 L1730.2 1964.5 L1731.4 1968.6 L1732.7 1972.3 L1733.9 1976.1 L1735.2 1979.8 L1736.4 1983.2 L1737.7 1988.9 L1738.5 1992.1 L1739.4 1997.1 L1740.2 2000.3 L1741.0 2004.3 L1741.8 2009.3 L1742.7 2013.8 L1743.5 2018.3 L1746.4 2019.9 L1749.4 2022.1 L1752.3 2025.0 L1755.2 2029.4 L1758.2 2031.3 L1761.1 2035.8 L1763.3 2040.2 L1765.5 2042.1 L1767.7 2045.1 L1769.9 2049.8 L1772.1 2052.6 L1774.3 2055.7 L1776.5 2059.4 L1778.7 2063.9 L1782.0 2065.8 L1785.4 2069.8 L1788.7 2073.0 L1792.1 2074.2 L1795.4 2075.8 L1798.8 2079.5 L1802.1 2081.1 L1806.0 2083.8 L1809.9 2084.3 L1813.8 2085.3 L1817.7 2086.9 L1821.6 2088.3 L1825.5 2089.9 L1829.6 2093.8 L1833.7 2096.8 L1837.8 2097.2 L1841.9 2101.0 L1846.0 2102.3 L1848.9 2105.4 L1851.9 2110.0 L1854.8 2113.3 L1857.8 2117.2 L1860.7 2120.8 L1862.7 2116.0 L1864.6 2113.0 L1866.6 2107.8 L1868.5 2104.5 L1870.5 2100.2 L1872.4 2096.0 L1873.0 2092.2 L1873.7 2089.7 L1874.3 2085.1 L1874.9 2081.9 L1875.6 2077.3 L1876.2 2073.2 L1876.8 2069.4 L1877.5 2065.8 L1878.1 2061.6 L1878.8 2057.4 L1879.4 2053.4 L1880.0 2049.9 L1880.7 2045.3 L1881.3 2042.2 L1881.9 2037.1 L1882.6 2033.7 L1883.2 2030.8 L1883.8 2025.4 L1884.5 2020.8 L1885.1 2017.2 L1885.8 2021.5 L1886.6 2025.2 L1887.3 2030.4 L1888.0 2033.5 L1888.8 2037.9 L1889.5 2041.9 L1890.2 2045.6 L1891.0 2050.3 L1891.7 2055.9 L1892.4 2060.3 L1893.2 2063.6 L1893.9 2067.0 L1897.8 2069.0 L1901.7 2070.5 L1905.6 2071.7 L1909.5 2073.6 L1913.4 2076.1 L1917.3 2078.6 L1921.1 2076.9 L1924.8 2076.7 L1928.6 2075.3 L1932.4 2073.0 L1936.2 2070.4 L1939.9 2068.4 L1943.7 2067.8 L1948.4 2067.5 L1953.1 2068.9 L1957.7 2068.4 L1962.4 2068.6 L1967.1 2069.3 L1971.0 2068.3 L1974.9 2068.0 L1978.8 2066.8 L1982.7 2065.5 L1986.6 2063.7 L1990.5 2062.9 L1994.9 2063.7 L1999.3 2062.2 L2003.7 2063.1 L2008.1 2062.9 L2012.5 2064.0 L2016.9 2065.5 L2021.0 2066.2 L2025.1 2068.0 L2029.2 2068.1 L2033.3 2070.2 L2037.4 2070.6 L2040.7 2074.0 L2044.1 2075.7 L2047.4 2079.0 L2050.8 2080.9 L2054.1 2085.4 L2057.5 2088.7 L2060.8 2092.1 L2064.5 2092.9 L2068.1 2094.6 L2071.8 2099.0 L2075.4 2100.2 L2079.1 2102.3 L2082.7 2105.3 L2086.3 2109.2 L2090.0 2110.6 L2092.2 2115.0 L2094.4 2117.9 L2096.6 2122.6 L2098.8 2125.6 L2101.0 2129.6 L2103.2 2134.2 L2105.4 2138.4 L2107.6 2140.9 L2111.5 2141.9 L2115.4 2142.9 L2119.3 2142.9 L2123.2 2144.2 L2127.1 2144.8 L2131.0 2146.1 L2134.9 2146.2 L2138.8 2148.8 L2142.7 2148.8 L2146.9 2150.4 L2151.1 2152.5 L2155.3 2153.3 L2159.4 2153.7 L2163.6 2154.4 L2167.8 2156.5 L2172.0 2156.9 L2175.8 2159.9 L2179.5 2162.6 L2183.3 2166.2 L2187.1 2168.4 L2190.9 2169.7 L2194.6 2172.2 L2198.4 2175.3 L2201.3 2171.6 L2204.2 2168.9 L2207.2 2164.7 L2210.1 2160.7 L2213.0 2158.2 L2216.9 2160.6 L2220.8 2162.8 L2224.7 2164.1 L2228.6 2166.3 L2232.5 2168.6 L2236.4 2171.1 L2240.3 2169.6 L2244.2 2167.4 L2248.1 2164.6 L2252.0 2163.9 L2255.9 2161.6 L2259.8 2161.2 L2260.2 2157.1 L2260.7 2153.0 L2261.1 2149.9 L2261.5 2145.6 L2262.0 2140.0 L2262.4 2135.5 L2262.8 2133.3 L2263.3 2128.9 L2263.7 2124.8 L2264.1 2119.8 L2264.6 2117.6 L2265.0 2113.2 L2265.4 2108.0 L2265.9 2105.5 L2266.3 2100.8 L2266.7 2096.9 L2267.2 2091.9 L2267.6 2089.6 L2268.0 2085.8 L2268.5 2081.5 L2268.9 2076.6 L2269.3 2071.5 L2269.8 2068.1 L2270.2 2065.3 L2270.6 2060.1 L2271.1 2057.5 L2271.5 2053.2 L2275.9 2052.6 L2280.3 2054.6 L2284.7 2053.7 L2289.1 2054.5 L2293.5 2056.1 L2297.9 2056.0 L2299.5 2058.5 L2301.1 2063.2 L2302.7 2067.5 L2304.3 2071.3 L2305.9 2074.6 L2307.5 2078.6 L2309.1 2081.7 L2310.7 2084.8 L2312.3 2088.3 L2313.9 2092.3 L2315.5 2096.2 L2316.8 2101.0 L2318.2 2104.4 L2319.5 2109.2 L2320.8 2111.7 L2322.1 2116.8 L2323.5 2120.7 L2324.8 2123.5 L2326.1 2129.0 L2327.4 2133.3 L2328.8 2136.3 L2330.1 2140.5 L2335.1 2138.9 L2340.0 2136.2 L2343.9 2139.0 L2347.8 2141.4 L2351.7 2143.1 L2355.6 2144.6 L2359.5 2146.4 L2363.4 2150.2 L2368.1 2150.7 L2372.8 2150.3 L2377.4 2151.5 L2382.1 2151.5 L2386.8 2151.1 L2390.8 2152.1 L2394.8 2155.3 L2398.8 2156.0 L2402.9 2158.8 L2406.9 2160.9 L2410.9 2163.3 L2414.9 2164.2 L2418.3 2166.4 L2421.6 2167.8 L2425.0 2171.9 L2428.3 2175.1 L2431.7 2176.7 L2435.0 2178.6 L2438.4 2181.0 L2443.1 2182.9 L2447.8 2183.0 L2452.4 2185.4 L2457.1 2186.8 L2461.8 2184.3 L2466.5 2184.4 L2471.1 2182.4 L2475.8 2182.8 L2480.5 2180.5 L2485.2 2179.9 L2489.9 2180.6 L2494.5 2180.9 L2499.2 2180.0 L2503.9 2177.8 L2507.8 2175.2 L2511.7 2172.7 L2515.7 2170.6 L2519.6 2168.1 L2523.5 2166.8 L2527.4 2163.7 L2531.3 2164.4 L2535.2 2166.6 L2539.1 2168.3 L2543.0 2169.6 L2546.9 2169.9 L2550.8 2170.5 L2555.5 2169.1 L2560.2 2169.5 L2564.8 2169.1 L2569.5 2167.6 L2574.2 2167.1 L2578.9 2166.8 L2583.6 2168.7 L2588.2 2168.6 L2592.9 2167.7 L2597.6 2168.3 L2602.3 2167.7 L2607.0 2166.8 L2611.6 2166.1 L2616.3 2164.4 L2621.0 2164.1 L2625.7 2164.2 L2630.4 2165.5 L2635.0 2165.1 L2639.7 2164.5 L2644.4 2164.1 L2649.1 2164.4 L2653.8 2165.2 L2658.5 2166.8 L2663.2 2167.8 L2667.9 2169.3 L2670.2 2166.7 L2672.6 2163.1 L2674.9 2158.6 L2677.2 2156.1 L2679.6 2151.1 L2681.9 2148.8 L2685.4 2144.5 L2688.9 2141.4 L2692.5 2138.2 L2696.0 2135.1 L2700.7 2136.5 L2705.3 2137.7 L2710.0 2139.0 L2714.7 2140.5 L2717.5 2135.9 L2720.3 2133.9 L2723.2 2130.3 L2726.0 2126.3 L2728.8 2121.2 L2731.6 2117.9 L2734.4 2114.1 L2737.2 2111.5 L2740.0 2109.9 L2742.8 2105.0 L2745.8 2102.4 L2748.8 2101.2 L2751.8 2097.5 L2754.9 2095.8 L2757.9 2092.1 L2760.9 2090.8 L2763.9 2087.0 L2766.2 2090.7 L2768.6 2094.1 L2770.9 2098.4 L2773.2 2101.9 L2775.6 2106.6 L2777.9 2111.0 L2781.7 2111.8 L2785.4 2112.2 L2789.2 2113.2 L2792.9 2114.9 L2796.7 2116.1 L2801.4 2116.6 L2806.1 2116.2 L2810.7 2116.3 L2815.4 2116.7 L2820.1 2117.8 L2821.2 2125.7 L2825.6 2124.7 L2830.1 2125.7 L2834.5 2124.0 L2839.0 2124.0 L2843.4 2124.1 L2846.5 2128.1 L2849.7 2129.9 L2852.8 2133.9 L2855.9 2136.6 L2859.1 2140.9 L2862.2 2142.6 L2865.9 2140.7 L2869.7 2139.4 L2873.4 2137.5 L2877.2 2135.6 L2880.9 2132.0 L2884.0 2133.7 L2887.1 2135.9 L2890.2 2140.6 L2893.4 2143.2 L2896.5 2144.5 L2899.6 2147.3 L2903.6 2145.5 L2907.6 2145.2 L2911.6 2144.6 L2915.7 2141.8 L2919.7 2140.5 L2923.7 2139.0 L2927.7 2139.3 L2931.6 2140.8 L2935.5 2142.5 L2939.4 2143.8 L2943.3 2144.3 L2947.2 2144.2 L2951.1 2144.9 L2955.1 2146.9 L2959.2 2148.4 L2963.2 2149.0 L2967.2 2151.7 L2971.2 2152.2 L2975.3 2154.1 L2979.3 2155.4 L2983.3 2154.6 L2987.3 2155.1 L2991.3 2156.9 L2995.4 2157.8 L2999.4 2156.6 L3003.4 2157.2 L3007.4 2158.4 L3011.7 2157.2 L3015.9 2155.6 L3020.2 2156.9 L3024.4 2154.8 L3028.7 2155.2 L3032.9 2154.6 L3037.2 2153.3 L3041.4 2154.3 L3045.7 2153.2 L3049.9 2153.8 L3054.2 2153.8 L3058.9 2155.3 L3063.6 2155.7 L3068.2 2155.2 L3072.9 2155.4 L3077.6 2156.1 L3082.3 2158.1 L3086.9 2159.4 L3091.6 2160.4 L3096.3 2161.0 L3100.1 2158.6 L3103.8 2157.2 L3107.6 2153.8 L3111.3 2150.3 L3115.1 2147.8 L3119.1 2150.8 L3123.1 2151.2 L3127.1 2154.1 L3131.2 2156.9 L3135.2 2158.4 L3139.2 2160.1 L3143.2 2162.2 L3147.2 2162.9 L3151.2 2162.7 L3155.2 2162.9 L3159.3 2164.2 L3163.3 2166.2 L3167.3 2166.4 L3171.3 2168.0 L3176.0 2166.5 L3180.6 2165.7 L3185.3 2164.3 L3188.2 2168.6 L3191.2 2170.3 L3194.1 2172.7 L3197.1 2175.3 L3200.0 2179.9 L3204.2 2180.4 L3208.4 2181.0 L3212.6 2179.2 L3216.7 2178.9 L3220.9 2180.3 L3225.1 2180.8 L3229.3 2180.0 L3233.9 2179.4 L3238.4 2181.1 L3243.0 2180.6 L3247.6 2180.8 L3250.9 2184.7 L3254.2 2187.0 L3257.5 2189.8 L3260.8 2192.9 L3264.1 2196.9 L3268.7 2197.0 L3273.3 2197.4 L3277.9 2197.1 L3282.5 2198.2 L3287.3 2199.6 L3292.0 2199.2 L3296.8 2199.3 L3301.5 2199.6 L3306.3 2199.2 L3310.5 2199.6 L3314.7 2198.9 L3318.9 2199.6 L3323.0 2198.7 L3327.2 2199.7 L3331.4 2200.8 L3335.6 2201.1 L3340.0 2198.7 L3344.4 2197.6 L3348.8 2196.7 L3353.2 2196.7 L3357.6 2195.9 L3361.9 2193.2 L3366.1 2192.3 L3370.4 2189.9 L3374.7 2188.2 L3378.9 2188.2 L3383.2 2186.3 L3387.1 2187.6 L3391.1 2190.5 L3395.0 2190.6 L3398.9 2191.6 L3402.8 2194.6 L3406.8 2195.8 L3410.7 2196.9 L3414.8 2197.0 L3418.9 2197.7 L3422.9 2197.3 L3427.0 2199.1 L3431.1 2198.8 L3435.2 2200.1 L3439.2 2199.6 L3443.3 2200.0 L3447.4 2200.4 L3452.0 2201.6 L3456.6 2200.9 L3461.2 2200.6 L3465.7 2200.6 L3470.3 2202.1 L3474.9 2202.8 L3478.8 2202.4 L3482.7 2203.1 L3486.6 2203.8 L3490.6 2205.0 L3494.5 2207.3 L3498.4 2208.8 L3502.3 2209.9 L3506.2 2211.4 L3510.2 2211.5 L3514.1 2210.7 L3518.0 2210.9 L3521.9 2212.5 L3525.9 2214.6 L3529.8 2214.7 L3534.1 2215.4 L3538.3 2216.8 L3542.6 2217.6 L3545.8 2214.5 L3549.1 2213.1 L3552.3 2211.0 L3555.5 2207.7 L3559.6 2205.0 L3563.8 2203.9 L3567.9 2203.5 L3572.0 2201.9" stroke="#00b453"/>
<path d="M524.4 2102.2 L539.1 2100.5 L544.4 2082.2 L558.3 2064.8 L577.4 2064.8 L587.9 2082.2 L600.1 2087.4 L603.6 2103.1 L624.4 2120.5 L629.7 2137.9 L640.1 2136.2 L652.3 2143.1 L676.7 2141.4 L702.8 2155.3 L720.2 2158.8 L739.3 2150.1 L761.9 2146.6 L777.6 2162.3 L781.1 2167.5 L802.0 2162.3 L831.6 2155.3 L845.5 2165.8 L859.4 2162.3 L882.1 2172.7 L900.0 2174.5 L900.0 2202.3 L889.0 2202.3 L855.9 2197.1 L833.3 2188.4 L807.2 2191.9 L795.0 2202.3 L772.4 2197.1 L760.2 2190.1 L732.4 2186.7 L699.3 2188.4 L676.7 2176.2 L659.3 2183.2 L647.1 2191.9 L622.7 2184.9 L603.6 2155.3 L600.1 2141.4 L593.1 2137.9 L577.4 2129.2 L567.0 2118.8 L556.6 2127.5 L546.1 2144.9 L524.4 2151.8Z" fill="#007893" stroke="none"/>
<path d="M524.0 2108.9 L526.6 2112.8 L529.3 2115.3 L531.9 2118.7 L534.6 2122.5 L537.2 2124.3 L539.9 2128.0 L542.5 2130.2 L544.0 2128.1 L545.6 2124.7 L547.1 2120.6 L548.7 2116.8 L550.2 2112.6 L551.8 2107.4 L553.3 2104.0 L554.9 2101.3 L556.4 2096.5 L558.0 2091.8 L559.5 2089.4 L561.1 2086.2 L562.6 2080.4 L564.2 2077.0 L565.7 2072.5 L569.1 2075.4 L572.5 2078.2 L575.8 2082.7 L579.2 2086.1 L582.6 2087.4 L586.0 2090.8 L589.3 2092.5 L592.7 2096.7 L595.6 2099.7 L598.5 2103.6 L601.4 2105.6 L604.3 2110.6 L607.2 2114.7 L610.1 2116.4 L613.0 2120.5 L615.9 2124.5 L617.8 2128.1 L619.8 2130.8 L621.7 2134.7 L623.6 2137.9 L625.5 2141.4 L627.5 2145.2 L629.4 2151.1 L631.3 2154.7 L633.3 2157.4 L635.2 2161.3 L639.1 2160.9 L643.0 2158.4 L646.8 2156.2 L650.7 2155.1 L654.6 2155.2 L659.2 2155.1 L663.8 2152.9 L668.5 2152.2 L673.1 2152.1 L677.7 2150.0 L680.5 2153.8 L683.2 2156.8 L686.0 2160.3 L688.8 2163.9 L691.6 2167.8 L694.3 2170.5 L697.1 2172.7 L701.7 2171.5 L706.3 2172.0 L711.0 2170.8 L715.6 2170.9 L720.2 2170.1 L724.1 2169.3 L727.9 2167.6 L731.8 2165.4 L735.7 2163.6 L739.5 2163.2 L743.4 2160.9 L747.3 2161.5 L751.1 2160.4 L755.0 2158.5 L758.4 2161.4 L761.9 2163.2 L765.3 2166.1 L768.7 2169.8 L772.2 2170.5 L775.6 2174.7 L779.0 2176.9 L782.5 2178.4 L785.9 2181.5 L789.8 2180.3 L793.6 2178.7 L797.5 2177.9 L801.4 2177.0 L805.2 2175.2 L809.1 2174.7 L813.0 2171.9 L816.8 2171.8 L820.7 2169.2 L825.1 2169.1 L829.4 2170.0 L833.8 2170.9 L838.1 2172.7 L842.5 2172.9 L846.8 2172.2 L851.1 2172.4 L855.5 2173.1 L859.7 2175.3 L863.8 2174.7 L868.0 2175.7 L872.1 2177.6 L876.3 2178.9 L880.5 2178.7 L884.6 2179.1 L888.8 2181.6 L893.0 2182.3 L897.1 2183.1 L901.3 2184.5 L905.4 2185.1 L909.6 2185.4 L912.7 2183.2 L915.8 2181.0 L918.9 2176.6 L922.0 2173.4 L925.0 2170.6 L928.1 2169.5 L931.2 2166.3 L934.3 2163.4 L937.4 2160.9 L940.5 2159.3 L943.9 2161.3 L947.4 2164.0 L950.8 2165.0 L954.2 2167.6 L957.7 2168.4 L961.1 2170.0 L964.5 2173.4 L968.0 2176.1 L971.4 2177.7 L975.5 2178.5 L979.6 2178.5 L983.7 2179.4 L987.7 2180.0 L991.8 2181.0 L995.9 2181.8 L1000.0 2182.3 L1003.3 2186.2 L1006.7 2187.7 L1010.0 2190.0 L1013.4 2193.1 L1016.7 2196.7 L1020.1 2198.8 L1023.4 2203.2 L1026.8 2201.3 L1030.2 2197.9 L1033.7 2195.7 L1037.1 2192.3 L1040.5 2190.1 L1043.9 2189.0 L1047.9 2188.2 L1052.0 2190.3 L1056.0 2191.3 L1060.0 2190.7 L1064.0 2191.6 L1068.0 2192.7 L1072.1 2192.6 L1076.1 2193.2 L1080.5 2191.8 L1084.9 2191.9 L1089.3 2189.3 L1093.7 2187.0 L1098.1 2185.9 L1102.5 2186.0 L1106.3 2187.8 L1110.0 2190.8 L1113.8 2192.4 L1117.5 2194.3 L1121.3 2197.4 L1125.0 2200.5 L1128.8 2202.9 L1132.6 2205.7 L1136.3 2207.9 L1140.1 2209.6 L1143.9 2210.7 L1147.7 2211.3 L1151.4 2213.0 L1155.2 2214.4 L1159.0 2213.3 L1162.7 2211.1 L1166.5 2207.6 L1170.2 2206.4 L1174.0 2203.7 L1177.7 2200.8 L1181.5 2198.8 L1185.7 2199.3 L1189.9 2199.3 L1194.1 2200.8 L1198.2 2201.4 L1202.4 2202.0 L1206.6 2203.1 L1210.8 2202.8 L1214.5 2200.0 L1218.1 2197.2 L1221.8 2195.8 L1225.4 2193.7 L1229.0 2190.8 L1232.7 2190.3 L1236.3 2187.4 L1240.0 2184.5 L1244.4 2185.6 L1248.8 2184.3 L1253.2 2184.1 L1257.6 2183.9 L1261.5 2187.8 L1265.4 2190.2 L1269.3 2192.1 L1273.2 2194.5 L1277.1 2194.6 L1281.0 2196.5 L1285.2 2196.5 L1289.4 2194.9 L1293.6 2193.2 L1297.7 2194.3 L1301.9 2193.5 L1306.1 2193.0 L1310.3 2192.1 L1314.7 2192.6 L1319.1 2192.1 L1323.5 2192.1 L1327.8 2194.5 L1332.2 2194.8 L1336.6 2196.4 L1341.0 2196.6 L1345.4 2197.3 L1349.5 2196.6 L1353.6 2195.6 L1357.7 2194.2 L1361.8 2195.3 L1365.9 2195.1 L1370.0 2193.2 L1374.1 2191.6 L1378.2 2193.0 L1382.3 2191.9 L1386.4 2192.1 L1390.5 2192.6 L1394.5 2192.7 L1398.6 2191.3 L1402.6 2191.8 L1406.7 2191.9 L1410.7 2191.0 L1414.8 2190.5 L1418.8 2192.1 L1422.9 2192.3 L1426.9 2190.5 L1431.0 2191.2 L1435.0 2191.1 L1439.1 2190.4 L1443.8 2189.3 L1448.5 2189.0 L1453.1 2189.1 L1457.8 2189.8 L1462.5 2189.8 L1465.0 2191.3 L1467.5 2193.7 L1470.0 2198.7 L1472.5 2202.4 L1475.0 2205.6 L1477.5 2209.2 L1480.0 2212.9 L1484.7 2212.3 L1489.4 2213.2 L1494.0 2212.4 L1498.7 2214.0 L1503.4 2213.9 L1507.3 2212.4 L1511.2 2211.1 L1515.2 2210.1 L1519.1 2207.7 L1523.0 2204.8 L1526.9 2203.6 L1530.2 2201.4 L1533.5 2198.9 L1536.8 2195.3 L1540.1 2192.7 L1543.3 2191.1 L1546.6 2187.0 L1549.9 2183.9 L1553.2 2182.5 L1557.1 2180.3 L1561.0 2179.1 L1564.9 2179.8 L1568.8 2178.0 L1572.7 2178.2 L1576.6 2177.3 L1580.3 2174.8 L1583.9 2173.4 L1587.6 2171.0 L1591.2 2167.2 L1594.9 2165.8 L1598.6 2164.5 L1602.2 2160.8 L1605.9 2158.9 L1610.3 2159.1 L1614.7 2158.7 L1619.1 2159.6 L1623.5 2161.1 L1627.9 2162.0 L1632.3 2161.5 L1637.2 2160.3 L1642.0 2159.4 L1646.9 2158.7 L1649.0 2163.2 L1651.1 2167.5 L1653.2 2171.4 L1655.3 2174.2 L1657.4 2178.4 L1659.5 2181.4 L1661.6 2184.5 L1665.5 2187.9 L1669.4 2189.1 L1673.3 2190.4 L1677.2 2193.7 L1681.1 2194.3 L1685.0 2196.2 L1688.9 2198.3 L1692.8 2199.9 L1696.7 2203.3 L1700.6 2205.5 L1704.5 2206.3 L1708.4 2208.7 L1712.3 2208.0 L1716.2 2206.7 L1720.1 2205.9 L1724.0 2204.6 L1727.9 2203.9 L1731.8 2201.0 L1735.7 2198.8 L1739.6 2198.8 L1743.5 2197.5 L1747.9 2197.0 L1752.3 2194.8 L1756.7 2195.4 L1761.1 2193.5 L1765.5 2195.1 L1769.9 2197.5 L1774.3 2197.6 L1778.7 2200.6 L1783.1 2201.6 L1787.5 2203.5 L1791.7 2205.0 L1795.8 2206.0 L1800.0 2204.8 L1804.2 2206.0 L1808.4 2206.4 L1812.5 2208.5 L1816.7 2208.3 L1820.7 2208.9 L1824.8 2208.4 L1828.8 2209.6 L1832.8 2211.1 L1836.9 2211.8 L1840.9 2211.9 L1845.0 2212.4 L1849.0 2212.0 L1850.0 2214.2 L1853.9 2211.7 L1857.8 2209.5 L1861.7 2208.5 L1865.6 2206.3 L1869.5 2203.9 L1873.4 2201.7 L1877.3 2200.9 L1881.2 2199.0 L1885.1 2197.9 L1889.2 2197.4 L1893.2 2197.6 L1897.3 2196.1 L1901.3 2194.1 L1905.4 2195.2 L1909.4 2194.7 L1913.5 2194.2 L1917.5 2194.2 L1921.6 2192.3 L1925.6 2192.3 L1929.7 2192.0 L1933.7 2192.4 L1937.8 2191.5 L1941.9 2191.7 L1945.9 2189.8 L1950.0 2188.0 L1954.1 2188.8 L1958.1 2188.9 L1962.2 2188.1 L1966.3 2187.4 L1970.3 2186.5 L1974.4 2185.6 L1978.5 2185.6 L1982.5 2184.0 L1986.6 2183.7 L1990.7 2183.9 L1994.7 2182.9 L1998.8 2181.6 L2002.9 2180.5 L2006.9 2180.1 L2011.0 2178.9 L2015.0 2180.4 L2019.0 2181.1 L2023.0 2181.0 L2027.0 2181.1 L2031.0 2182.0 L2034.9 2181.9 L2038.9 2183.5 L2042.9 2183.2 L2046.9 2183.6 L2050.9 2183.3 L2054.9 2184.6 L2058.9 2186.2 L2062.9 2186.5 L2066.9 2187.9 L2070.9 2187.5 L2074.9 2186.8 L2078.8 2187.2 L2082.8 2187.5 L2086.8 2189.8 L2090.8 2189.6 L2094.8 2190.7 L2098.8 2190.2 L2102.5 2193.7 L2106.1 2196.2 L2109.8 2196.9 L2113.4 2198.7 L2117.1 2201.8 L2120.8 2203.8 L2124.4 2206.8 L2128.1 2207.7 L2132.2 2208.9 L2136.2 2208.9 L2140.3 2206.8 L2144.4 2206.4 L2148.4 2205.4 L2152.5 2204.3 L2156.6 2203.7 L2160.6 2204.2 L2164.7 2203.0 L2168.8 2202.7 L2172.8 2201.6 L2176.9 2202.4 L2181.0 2201.6 L2185.0 2200.9 L2189.1 2200.1 L2193.2 2201.2 L2197.2 2200.0 L2201.3 2198.6 L2205.5 2200.9 L2209.7 2202.0 L2213.8 2201.1 L2218.0 2201.2 L2222.2 2202.6 L2226.4 2204.3 L2230.6 2204.7 L2234.7 2204.7 L2238.9 2205.6 L2243.1 2205.1 L2247.3 2205.1 L2251.4 2207.3 L2255.6 2207.4 L2259.8 2207.3 L2261.3 2205.2 L2262.7 2200.0 L2264.2 2195.4 L2265.7 2192.5 L2267.1 2189.5 L2268.6 2185.9 L2270.1 2182.1 L2271.5 2176.9 L2273.0 2174.2 L2274.5 2168.7 L2275.9 2164.2 L2277.4 2162.1 L2281.3 2163.2 L2285.2 2166.4 L2289.1 2169.7 L2293.0 2172.2 L2296.9 2173.6 L2300.8 2175.6 L2303.4 2180.1 L2306.0 2182.6 L2308.6 2185.9 L2311.2 2189.1 L2313.8 2191.7 L2316.4 2195.0 L2319.0 2198.2 L2321.6 2201.5 L2324.2 2205.1 L2328.1 2204.7 L2332.1 2204.7 L2336.1 2203.1 L2340.0 2202.5 L2344.7 2202.2 L2349.4 2202.5 L2354.0 2204.5 L2358.7 2205.0 L2363.4 2205.4 L2367.8 2206.1 L2372.2 2207.7 L2376.6 2206.5 L2380.9 2206.7 L2385.3 2208.2 L2389.7 2208.3 L2394.1 2208.7 L2398.5 2210.0 L2402.9 2209.5 L2407.3 2211.1 L2411.7 2211.4 L2416.1 2210.6 L2420.5 2210.7 L2424.9 2213.2 L2429.3 2213.3 L2433.7 2214.2 L2438.1 2213.6 L2442.5 2214.8 L2446.9 2213.3 L2451.2 2214.1 L2455.6 2214.6 L2460.0 2213.2 L2464.4 2213.3 L2468.8 2212.9 L2473.2 2213.1 L2477.6 2212.0 L2482.0 2212.2 L2486.4 2211.8 L2490.7 2213.0 L2495.1 2211.4 L2499.5 2212.2 L2503.9 2212.7 L2507.7 2208.5 L2511.4 2204.6 L2515.2 2203.2 L2518.9 2200.1 L2522.7 2197.6 L2526.7 2197.1 L2530.7 2197.8 L2534.7 2200.1 L2538.8 2201.4 L2542.8 2202.0 L2546.8 2203.0 L2550.8 2202.3 L2555.2 2202.2 L2559.6 2201.8 L2564.0 2201.9 L2568.4 2201.6 L2572.7 2200.8 L2577.1 2200.8 L2581.5 2200.5 L2585.9 2200.5 L2590.3 2200.8 L2594.7 2202.1 L2599.1 2200.5 L2603.4 2200.0 L2607.8 2201.2 L2612.2 2201.4 L2616.6 2199.7 L2621.0 2200.4 L2625.4 2199.2 L2629.8 2199.3 L2634.2 2198.9 L2638.6 2198.5 L2643.0 2197.7 L2647.4 2197.1 L2651.8 2197.9 L2656.2 2198.0 L2660.3 2199.0 L2664.4 2199.9 L2668.5 2203.0 L2672.6 2204.7 L2675.7 2200.6 L2678.8 2196.8 L2681.9 2193.9 L2685.1 2191.9 L2688.2 2188.8 L2691.3 2185.9 L2695.3 2185.8 L2699.3 2186.2 L2703.3 2185.1 L2707.4 2186.2 L2711.4 2185.2 L2715.4 2184.7 L2719.4 2185.5 L2724.1 2184.4 L2728.8 2184.7 L2733.4 2183.2 L2738.1 2182.5 L2741.8 2180.3 L2745.5 2178.9 L2749.2 2176.6 L2752.8 2175.3 L2756.5 2173.2 L2760.2 2173.3 L2763.9 2171.8 L2768.1 2171.0 L2772.3 2171.4 L2776.6 2172.7 L2780.8 2172.9 L2785.0 2173.8 L2788.9 2171.5 L2792.8 2170.0 L2796.7 2170.6 L2800.6 2168.7 L2804.5 2168.9 L2808.4 2167.9 L2812.7 2169.9 L2816.9 2172.4 L2821.2 2175.0 L2825.6 2177.7 L2830.1 2178.6 L2834.5 2179.9 L2839.0 2179.6 L2843.4 2180.5 L2847.3 2183.0 L2851.2 2184.5 L2855.1 2186.5 L2859.0 2187.4 L2862.9 2189.4 L2866.8 2191.4 L2870.6 2187.9 L2874.3 2186.4 L2878.1 2185.6 L2881.8 2182.0 L2885.6 2181.2 L2890.3 2182.0 L2894.9 2184.6 L2899.6 2186.5 L2904.3 2189.0 L2908.2 2186.6 L2912.1 2183.8 L2916.0 2182.7 L2919.9 2180.0 L2923.8 2179.2 L2927.7 2176.5 L2932.4 2174.9 L2937.1 2175.2 L2941.7 2173.1 L2946.4 2171.8 L2951.1 2172.1 L2955.2 2172.1 L2959.3 2173.2 L2963.4 2173.7 L2967.5 2176.6 L2971.6 2178.2 L2975.7 2179.9 L2979.8 2181.0 L2983.9 2181.3 L2987.9 2181.4 L2991.9 2179.5 L2995.9 2178.7 L3000.0 2177.8 L3004.0 2179.0 L3008.0 2178.3 L3012.0 2179.3 L3016.7 2178.9 L3021.4 2178.9 L3026.1 2179.1 L3030.8 2181.0 L3034.7 2178.0 L3038.6 2177.3 L3042.5 2176.0 L3046.4 2172.4 L3050.3 2169.8 L3054.2 2167.9 L3058.1 2171.1 L3062.0 2173.1 L3065.9 2173.3 L3069.8 2175.4 L3073.7 2176.3 L3077.6 2178.9 L3082.3 2178.7 L3087.0 2179.4 L3091.6 2181.3 L3096.3 2181.9 L3101.0 2182.4 L3105.0 2182.6 L3109.0 2184.1 L3113.0 2185.1 L3117.1 2185.4 L3121.1 2185.1 L3125.1 2186.2 L3129.1 2187.1 L3133.8 2188.4 L3138.5 2190.0 L3143.2 2189.8 L3147.9 2190.7 L3152.6 2188.4 L3157.3 2186.6 L3161.9 2184.3 L3166.6 2182.8 L3171.3 2182.0 L3176.0 2181.1 L3180.7 2180.3 L3185.3 2178.3 L3190.0 2176.3 L3190.3 2173.8 L3190.6 2169.2 L3190.9 2164.2 L3191.2 2161.2 L3191.5 2158.0 L3191.8 2152.5 L3192.1 2149.5 L3192.4 2144.9 L3194.9 2147.4 L3197.5 2149.7 L3200.0 2153.2 L3204.6 2152.9 L3209.2 2151.3 L3213.8 2150.6 L3218.3 2151.3 L3222.9 2151.3 L3227.5 2150.0 L3232.1 2149.0 L3236.7 2149.2 L3241.2 2148.7 L3245.8 2150.2 L3250.4 2149.5 L3255.0 2149.2 L3259.6 2147.7 L3264.2 2148.3 L3268.8 2146.1 L3273.3 2146.3 L3277.9 2145.0 L3282.5 2145.9 L3287.1 2145.6 L3291.6 2146.1 L3296.2 2144.6 L3300.8 2145.3 L3305.3 2143.9 L3309.9 2144.2 L3313.8 2145.2 L3317.8 2146.6 L3321.7 2146.1 L3325.6 2147.5 L3329.5 2147.3 L3333.5 2148.6 L3337.4 2149.2 L3342.0 2150.2 L3346.6 2148.8 L3351.2 2148.7 L3355.7 2148.8 L3360.3 2149.3 L3364.9 2150.9 L3369.5 2149.4 L3374.1 2147.3 L3378.6 2147.1 L3383.2 2145.6 L3387.1 2147.5 L3391.1 2147.6 L3395.0 2149.4 L3398.9 2151.6 L3402.8 2152.1 L3406.8 2152.9 L3410.7 2153.7 L3415.3 2153.3 L3419.9 2153.6 L3424.4 2153.6 L3429.0 2154.6 L3433.6 2154.8 L3438.2 2155.9 L3442.1 2156.0 L3446.1 2153.3 L3450.0 2152.7 L3453.9 2152.6 L3457.8 2150.8 L3461.8 2149.5 L3465.7 2149.8 L3470.3 2148.3 L3474.8 2147.7 L3479.4 2147.5 L3484.0 2145.1 L3487.9 2145.5 L3491.9 2146.9 L3495.8 2147.9 L3499.7 2148.1 L3503.6 2148.0 L3507.6 2148.6 L3511.5 2151.4 L3515.4 2152.7 L3519.4 2152.2 L3523.3 2152.7 L3527.2 2153.8 L3531.1 2154.8 L3535.1 2157.2 L3539.0 2157.5 L3543.6 2158.7 L3548.2 2160.9 L3552.7 2163.0 L3557.3 2163.3 L3562.2 2165.3 L3567.1 2166.6 L3572.0 2166.3" stroke="#007893"/>
<path d="M524.0 2111.5 L526.6 2115.4 L529.3 2119.3 L531.9 2121.7 L534.6 2125.2 L537.2 2128.4 L539.9 2132.3 L542.5 2135.8 L544.0 2132.7 L545.6 2128.9 L547.1 2124.0 L548.7 2119.3 L550.2 2115.4 L551.8 2111.5 L553.3 2108.2 L554.9 2103.2 L556.4 2100.0 L558.0 2096.8 L559.5 2092.1 L561.1 2088.4 L562.6 2083.7 L564.2 2080.3 L565.7 2076.1 L569.1 2080.4 L572.5 2083.6 L575.8 2085.9 L579.2 2087.7 L582.6 2090.3 L586.0 2093.3 L589.3 2097.1 L592.7 2099.4 L595.6 2102.4 L598.5 2106.0 L601.4 2110.7 L604.3 2114.4 L607.2 2118.7 L610.1 2120.5 L613.0 2124.5 L615.9 2127.9 L617.8 2132.7 L619.8 2134.9 L621.7 2139.1 L623.6 2143.4 L625.5 2146.0 L627.5 2151.1 L629.4 2155.6 L631.3 2159.6 L633.3 2162.3 L635.2 2167.0 L639.1 2164.3 L643.0 2163.6 L646.8 2160.9 L650.7 2159.0 L654.6 2158.4 L659.2 2158.2 L663.8 2158.3 L668.5 2157.3 L673.1 2156.8 L677.7 2156.3 L680.5 2159.5 L683.2 2160.8 L686.0 2165.3 L688.8 2167.5 L691.6 2171.8 L694.3 2175.7 L697.1 2178.1 L701.7 2177.2 L706.3 2175.4 L711.0 2174.4 L715.6 2175.0 L720.2 2173.8 L724.1 2172.0 L727.9 2171.4 L731.8 2170.0 L735.7 2167.9 L739.5 2167.9 L743.4 2165.4 L747.3 2163.4 L751.1 2163.0 L755.0 2162.1 L758.4 2164.2 L761.9 2168.1 L765.3 2169.8 L768.7 2173.3 L772.2 2175.5 L775.6 2177.4 L779.0 2181.0 L782.5 2182.6 L785.9 2184.8 L789.8 2183.0 L793.6 2183.2 L797.5 2181.0 L801.4 2180.6 L805.2 2178.2 L809.1 2178.5 L813.0 2176.0 L816.8 2176.1 L820.7 2174.9 L825.1 2175.0 L829.4 2174.1 L833.8 2174.4 L838.1 2176.6 L842.5 2176.9 L846.8 2177.9 L851.1 2177.4 L855.5 2176.6 L859.7 2177.1 L863.8 2178.5 L868.0 2181.1 L872.1 2182.4 L876.3 2181.7 L880.5 2183.7 L884.6 2184.9 L888.8 2185.9 L893.0 2187.1 L897.1 2187.7 L901.3 2186.8 L905.4 2188.6 L909.6 2189.4 L912.7 2187.1 L915.8 2184.0 L918.9 2181.3 L922.0 2179.3 L925.0 2175.3 L928.1 2173.9 L931.2 2171.3 L934.3 2168.8 L937.4 2165.1 L940.5 2162.5 L943.9 2164.0 L947.4 2167.3 L950.8 2168.4 L954.2 2171.8 L957.7 2173.7 L961.1 2174.7 L964.5 2177.0 L968.0 2180.4 L971.4 2182.7 L975.5 2183.7 L979.6 2184.6 L983.7 2184.3 L987.7 2183.8 L991.8 2184.9 L995.9 2184.7 L1000.0 2186.5 L1003.3 2190.0 L1006.7 2192.8 L1010.0 2195.4 L1013.4 2198.6 L1016.7 2201.5 L1020.1 2203.6 L1023.4 2207.8 L1026.8 2204.2 L1030.2 2202.4 L1033.7 2199.7 L1037.1 2196.4 L1040.5 2193.5 L1043.9 2192.7 L1047.9 2193.7 L1052.0 2193.2 L1056.0 2193.5 L1060.0 2195.9 L1064.0 2195.9 L1068.0 2195.9 L1072.1 2197.4 L1076.1 2197.0 L1080.5 2196.7 L1084.9 2195.2 L1089.3 2192.9 L1093.7 2192.0 L1098.1 2191.0 L1102.5 2188.8 L1106.3 2191.8 L1110.0 2194.9 L1113.8 2196.9 L1117.5 2200.3 L1121.3 2201.1 L1125.0 2203.8 L1128.8 2207.4 L1132.6 2207.8 L1136.3 2209.6 L1140.1 2210.7 L1143.9 2214.3 L1147.7 2214.6 L1151.4 2217.3 L1155.2 2217.9 L1159.0 2217.2 L1162.7 2215.1 L1166.5 2212.8 L1170.2 2211.6 L1174.0 2207.6 L1177.7 2206.7 L1181.5 2204.4 L1185.7 2204.3 L1189.9 2204.3 L1194.1 2205.9 L1198.2 2206.4 L1202.4 2206.8 L1206.6 2207.5 L1210.8 2206.4 L1214.5 2205.2 L1218.1 2202.0 L1221.8 2200.6 L1225.4 2198.5 L1229.0 2196.2 L1232.7 2194.3 L1236.3 2190.6 L1240.0 2188.0 L1244.4 2188.4 L1248.8 2189.0 L1253.2 2189.8 L1257.6 2189.3 L1261.5 2190.8 L1265.4 2192.4 L1269.3 2193.9 L1273.2 2196.9 L1277.1 2200.2 L1281.0 2202.7 L1285.2 2200.7 L1289.4 2200.8 L1293.6 2198.1 L1297.7 2196.9 L1301.9 2196.0 L1306.1 2195.7 L1310.3 2194.0 L1314.7 2195.1 L1319.1 2197.1 L1323.5 2198.8 L1327.8 2197.9 L1332.2 2198.3 L1336.6 2198.3 L1341.0 2200.0 L1345.4 2201.8 L1349.5 2201.3 L1353.6 2201.0 L1357.7 2201.0 L1361.8 2199.1 L1365.9 2197.7 L1370.0 2198.4 L1374.1 2198.3 L1378.2 2197.4 L1382.3 2196.6 L1386.4 2195.4 L1390.5 2195.7 L1394.5 2195.1 L1398.6 2195.4 L1402.6 2196.6 L1406.7 2196.5 L1410.7 2196.1 L1414.8 2196.2 L1418.8 2196.0 L1422.9 2195.3 L1426.9 2194.5 L1431.0 2195.0 L1435.0 2194.1 L1439.1 2195.7 L1443.8 2195.3 L1448.5 2194.6 L1453.1 2192.9 L1457.8 2192.5 L1462.5 2192.1 L1465.0 2196.6 L1467.5 2199.6 L1470.0 2203.5 L1472.5 2206.9 L1475.0 2210.1 L1477.5 2212.7 L1480.0 2216.2 L1484.7 2217.5 L1489.4 2218.4 L1494.0 2217.8 L1498.7 2219.3 L1503.4 2218.2 L1507.3 2216.9 L1511.2 2214.9 L1515.2 2213.2 L1519.1 2211.9 L1523.0 2210.0 L1526.9 2208.4 L1530.2 2206.3 L1533.5 2203.6 L1536.8 2200.9 L1540.1 2196.8 L1543.3 2193.9 L1546.6 2192.5 L1549.9 2189.8 L1553.2 2187.1 L1557.1 2187.0 L1561.0 2185.3 L1564.9 2183.4 L1568.8 2181.9 L1572.7 2182.5 L1576.6 2180.2 L1580.3 2179.4 L1583.9 2176.2 L1587.6 2174.6 L1591.2 2172.2 L1594.9 2170.1 L1598.6 2167.3 L1602.2 2164.7 L1605.9 2162.8 L1610.3 2164.3 L1614.7 2165.0 L1619.1 2164.1 L1623.5 2164.8 L1627.9 2166.6 L1632.3 2166.0 L1637.2 2164.6 L1642.0 2163.2 L1646.9 2164.0 L1649.0 2168.3 L1651.1 2170.8 L1653.2 2174.1 L1655.3 2178.7 L1657.4 2182.4 L1659.5 2186.1 L1661.6 2190.1 L1665.5 2190.7 L1669.4 2193.5 L1673.3 2196.4 L1677.2 2197.5 L1681.1 2198.3 L1685.0 2201.3 L1688.9 2203.9 L1692.8 2205.1 L1696.7 2207.1 L1700.6 2209.3 L1704.5 2212.2 L1708.4 2212.8 L1712.3 2210.7 L1716.2 2211.0 L1720.1 2209.5 L1724.0 2209.1 L1727.9 2206.4 L1731.8 2206.4 L1735.7 2204.5 L1739.6 2203.9 L1743.5 2202.8 L1747.9 2201.4 L1752.3 2199.6 L1756.7 2198.0 L1761.1 2198.1 L1765.5 2199.6 L1769.9 2200.4 L1774.3 2202.3 L1778.7 2204.4 L1783.1 2205.5 L1787.5 2207.1 L1791.7 2208.3 L1795.8 2210.1 L1800.0 2211.2 L1804.2 2212.0 L1808.4 2212.2 L1812.5 2213.8 L1816.7 2213.9 L1820.7 2212.9 L1824.8 2212.5 L1828.8 2212.8 L1832.8 2214.2 L1836.9 2214.4 L1840.9 2214.5 L1845.0 2216.1 L1849.0 2217.1 L1850.0 2219.2 L1853.9 2218.0 L1857.8 2215.6 L1861.7 2214.0 L1865.6 2211.0 L1869.5 2209.7 L1873.4 2207.2 L1877.3 2204.5 L1881.2 2201.8 L1885.1 2201.4 L1889.2 2201.6 L1893.2 2200.0 L1897.3 2200.2 L1901.3 2200.3 L1905.4 2198.9 L1909.4 2198.9 L1913.5 2197.3 L1917.5 2197.9 L1921.6 2197.5 L1925.6 2196.6 L1929.7 2196.3 L1933.7 2195.9 L1937.8 2196.1 L1941.9 2195.7 L1945.9 2193.4 L1950.0 2194.2 L1954.1 2192.6 L1958.1 2192.9 L1962.2 2193.0 L1966.3 2191.4 L1970.3 2191.0 L1974.4 2190.2 L1978.5 2188.7 L1982.5 2189.0 L1986.6 2187.0 L1990.7 2187.9 L1994.7 2186.6 L1998.8 2185.4 L2002.9 2185.1 L2006.9 2183.2 L2011.0 2182.8 L2015.0 2183.4 L2019.0 2185.4 L2023.0 2186.6 L2027.0 2185.4 L2031.0 2186.3 L2034.9 2186.5 L2038.9 2188.1 L2042.9 2187.9 L2046.9 2189.4 L2050.9 2189.5 L2054.9 2190.3 L2058.9 2189.4 L2062.9 2189.3 L2066.9 2189.7 L2070.9 2192.2 L2074.9 2192.2 L2078.8 2193.9 L2082.8 2194.1 L2086.8 2195.3 L2090.8 2194.6 L2094.8 2194.0 L2098.8 2194.3 L2102.5 2196.6 L2106.1 2199.4 L2109.8 2201.3 L2113.4 2203.7 L2117.1 2205.2 L2120.8 2209.3 L2124.4 2210.5 L2128.1 2211.8 L2132.2 2212.6 L2136.2 2212.6 L2140.3 2211.9 L2144.4 2211.6 L2148.4 2210.7 L2152.5 2210.9 L2156.6 2209.0 L2160.6 2209.9 L2164.7 2208.6 L2168.8 2207.3 L2172.8 2206.2 L2176.9 2206.4 L2181.0 2205.2 L2185.0 2204.9 L2189.1 2204.6 L2193.2 2206.0 L2197.2 2205.5 L2201.3 2203.8 L2205.5 2205.9 L2209.7 2205.0 L2213.8 2206.4 L2218.0 2205.9 L2222.2 2206.4 L2226.4 2207.8 L2230.6 2209.4 L2234.7 2209.3 L2238.9 2209.0 L2243.1 2209.8 L2247.3 2211.2 L2251.4 2210.8 L2255.6 2212.1 L2259.8 2212.1 L2261.3 2209.5 L2262.7 2204.4 L2264.2 2201.7 L2265.7 2197.5 L2267.1 2194.6 L2268.6 2191.2 L2270.1 2187.3 L2271.5 2181.6 L2273.0 2177.7 L2274.5 2174.5 L2275.9 2171.0 L2277.4 2167.6 L2281.3 2168.8 L2285.2 2170.9 L2289.1 2174.3 L2293.0 2175.7 L2296.9 2179.4 L2300.8 2180.2 L2303.4 2184.7 L2306.0 2186.7 L2308.6 2191.3 L2311.2 2193.7 L2313.8 2195.9 L2316.4 2200.7 L2319.0 2203.5 L2321.6 2207.7 L2324.2 2210.2 L2328.1 2208.1 L2332.1 2208.1 L2336.1 2206.9 L2340.0 2207.3 L2344.7 2207.7 L2349.4 2207.9 L2354.0 2208.0 L2358.7 2209.1 L2363.4 2210.2 L2367.8 2210.0 L2372.2 2211.9 L2376.6 2211.7 L2380.9 2212.5 L2385.3 2213.9 L2389.7 2214.4 L2394.1 2214.1 L2398.5 2214.3 L2402.9 2213.4 L2407.3 2214.2 L2411.7 2215.0 L2416.1 2215.2 L2420.5 2215.1 L2424.9 2215.9 L2429.3 2217.8 L2433.7 2218.6 L2438.1 2218.3 L2442.5 2219.4 L2446.9 2219.2 L2451.2 2217.7 L2455.6 2217.0 L2460.0 2218.1 L2464.4 2219.3 L2468.8 2218.1 L2473.2 2218.2 L2477.6 2217.5 L2482.0 2216.6 L2486.4 2216.3 L2490.7 2217.1 L2495.1 2215.9 L2499.5 2215.8 L2503.9 2214.6 L2507.7 2212.7 L2511.4 2209.9 L2515.2 2207.6 L2518.9 2205.9 L2522.7 2202.0 L2526.7 2202.0 L2530.7 2203.2 L2534.7 2204.0 L2538.8 2205.8 L2542.8 2205.8 L2546.8 2205.4 L2550.8 2206.4 L2555.2 2206.0 L2559.6 2205.6 L2564.0 2206.6 L2568.4 2207.3 L2572.7 2206.2 L2577.1 2206.4 L2581.5 2206.0 L2585.9 2206.9 L2590.3 2206.4 L2594.7 2206.3 L2599.1 2205.8 L2603.4 2206.2 L2607.8 2205.7 L2612.2 2204.3 L2616.6 2205.0 L2621.0 2204.4 L2625.4 2204.2 L2629.8 2204.7 L2634.2 2203.9 L2638.6 2202.4 L2643.0 2202.5 L2647.4 2203.2 L2651.8 2203.6 L2656.2 2201.3 L2660.3 2202.7 L2664.4 2205.3 L2668.5 2207.2 L2672.6 2208.9 L2675.7 2206.4 L2678.8 2203.2 L2681.9 2200.7 L2685.1 2196.9 L2688.2 2193.6 L2691.3 2190.2 L2695.3 2189.6 L2699.3 2189.8 L2703.3 2191.0 L2707.4 2190.3 L2711.4 2189.2 L2715.4 2190.1 L2719.4 2191.3 L2724.1 2191.0 L2728.8 2189.4 L2733.4 2187.5 L2738.1 2186.9 L2741.8 2186.7 L2745.5 2184.5 L2749.2 2181.7 L2752.8 2181.2 L2756.5 2178.9 L2760.2 2177.6 L2763.9 2175.1 L2768.1 2176.8 L2772.3 2176.9 L2776.6 2177.7 L2780.8 2178.3 L2785.0 2179.1 L2788.9 2177.6 L2792.8 2176.6 L2796.7 2175.4 L2800.6 2173.7 L2804.5 2172.4 L2808.4 2170.6 L2812.7 2174.9 L2816.9 2178.9 L2821.2 2180.8 L2825.6 2180.9 L2830.1 2181.4 L2834.5 2182.3 L2839.0 2184.4 L2843.4 2186.1 L2847.3 2187.7 L2851.2 2189.2 L2855.1 2190.4 L2859.0 2191.3 L2862.9 2194.1 L2866.8 2194.9 L2870.6 2194.2 L2874.3 2192.2 L2878.1 2190.5 L2881.8 2188.7 L2885.6 2185.7 L2890.3 2186.8 L2894.9 2188.5 L2899.6 2190.1 L2904.3 2192.9 L2908.2 2189.6 L2912.1 2187.5 L2916.0 2186.4 L2919.9 2185.1 L2923.8 2182.7 L2927.7 2180.7 L2932.4 2180.6 L2937.1 2178.2 L2941.7 2178.4 L2946.4 2176.6 L2951.1 2176.4 L2955.2 2178.5 L2959.3 2179.9 L2963.4 2180.1 L2967.5 2181.0 L2971.6 2181.1 L2975.7 2182.2 L2979.8 2183.0 L2983.9 2184.5 L2987.9 2185.5 L2991.9 2185.9 L2995.9 2185.7 L3000.0 2184.0 L3004.0 2183.8 L3008.0 2183.5 L3012.0 2182.7 L3016.7 2183.3 L3021.4 2185.2 L3026.1 2185.2 L3030.8 2185.5 L3034.7 2182.5 L3038.6 2180.8 L3042.5 2179.0 L3046.4 2178.5 L3050.3 2175.4 L3054.2 2173.3 L3058.1 2175.1 L3062.0 2175.8 L3065.9 2177.4 L3069.8 2180.3 L3073.7 2182.9 L3077.6 2183.3 L3082.3 2185.1 L3087.0 2186.7 L3091.6 2187.6 L3096.3 2187.0 L3101.0 2188.3 L3105.0 2189.8 L3109.0 2189.0 L3113.0 2190.2 L3117.1 2190.1 L3121.1 2191.2 L3125.1 2191.3 L3129.1 2192.4 L3133.8 2192.5 L3138.5 2193.4 L3143.2 2194.2 L3147.9 2194.4 L3152.6 2194.1 L3157.3 2195.0 L3161.9 2194.9 L3166.6 2194.0 L3171.3 2193.9 L3176.0 2192.8 L3180.7 2193.2 L3185.3 2192.4 L3190.0 2193.8 L3190.3 2188.9 L3190.6 2185.4 L3190.9 2182.0 L3191.2 2177.2 L3191.5 2173.4 L3191.8 2169.0 L3192.1 2164.3 L3192.4 2160.1 L3194.9 2164.3 L3197.5 2168.4 L3200.0 2171.1 L3204.6 2171.8 L3209.2 2171.8 L3213.8 2171.6 L3218.3 2170.4 L3222.9 2169.5 L3227.5 2168.8 L3232.1 2169.0 L3236.7 2169.5 L3241.2 2168.8 L3245.8 2168.8 L3250.4 2167.2 L3255.0 2166.7 L3259.6 2165.3 L3264.2 2165.4 L3268.8 2164.8 L3273.3 2164.7 L3277.9 2163.4 L3282.5 2163.2 L3287.1 2162.6 L3291.6 2163.2 L3296.2 2162.4 L3300.8 2161.3 L3305.3 2162.6 L3309.9 2161.1 L3313.8 2161.6 L3317.8 2163.0 L3321.7 2162.7 L3325.6 2163.7 L3329.5 2164.7 L3333.5 2165.1 L3337.4 2167.2 L3342.0 2167.4 L3346.6 2167.4 L3351.2 2167.6 L3355.7 2168.6 L3360.3 2168.8 L3364.9 2169.8 L3369.5 2168.8 L3374.1 2165.7 L3378.6 2163.8 L3383.2 2163.5 L3387.1 2164.6 L3391.1 2165.8 L3395.0 2166.1 L3398.9 2168.3 L3402.8 2169.2 L3406.8 2170.4 L3410.7 2172.6 L3415.3 2171.7 L3419.9 2173.1 L3424.4 2174.0 L3429.0 2173.0 L3433.6 2173.6 L3438.2 2173.2 L3442.1 2172.5 L3446.1 2171.8 L3450.0 2170.7 L3453.9 2168.9 L3457.8 2169.7 L3461.8 2167.7 L3465.7 2166.4 L3470.3 2165.7 L3474.8 2164.5 L3479.4 2165.0 L3484.0 2164.1 L3487.9 2164.0 L3491.9 2164.6 L3495.8 2166.4 L3499.7 2167.3 L3503.6 2168.6 L3507.6 2168.8 L3511.5 2170.1 L3515.4 2169.3 L3519.4 2171.7 L3523.3 2173.3 L3527.2 2172.7 L3531.1 2173.4 L3535.1 2174.2 L3539.0 2176.4 L3543.6 2177.6 L3548.2 2179.0 L3552.7 2180.9 L3557.3 2180.7 L3562.2 2182.1 L3567.1 2182.2 L3572.0 2184.3" stroke="#007893"/>
<path d="M524.0 2108.8 L526.6 2112.1 L529.3 2115.4 L531.9 2118.7 L534.6 2122.4 L537.2 2125.7 L539.9 2129.7 L542.5 2133.9 L544.0 2130.5 L545.6 2125.0 L547.1 2121.8 L548.7 2117.3 L550.2 2114.8 L551.8 2110.6 L553.3 2105.7 L554.9 2102.3 L556.4 2097.6 L558.0 2094.9 L559.5 2091.7 L561.1 2087.0 L562.6 2084.2 L564.2 2080.7 L565.7 2076.2 L569.1 2078.3 L572.5 2081.4 L575.8 2084.7 L579.2 2087.0 L582.6 2089.2 L586.0 2091.3 L589.3 2095.6 L592.7 2098.1 L595.6 2102.2 L598.5 2106.3 L601.4 2108.3 L604.3 2111.6 L607.2 2115.6 L610.1 2118.2 L613.0 2121.9 L615.9 2126.5 L617.8 2129.6 L619.8 2134.0 L621.7 2137.2 L623.6 2140.6 L625.5 2145.0 L627.5 2149.8 L629.4 2152.3 L631.3 2157.1 L633.3 2161.5 L635.2 2164.8 L639.1 2163.3 L643.0 2161.6 L646.8 2159.3 L650.7 2158.1 L654.6 2157.5 L659.2 2157.3 L663.8 2156.5 L668.5 2154.2 L673.1 2153.7 L677.7 2152.5 L680.5 2155.8 L683.2 2158.6 L686.0 2162.7 L688.8 2167.0 L691.6 2169.4 L694.3 2173.4 L697.1 2175.4 L701.7 2174.1 L706.3 2174.4 L711.0 2173.9 L715.6 2173.1 L720.2 2172.5 L724.1 2171.3 L727.9 2169.9 L731.8 2167.5 L735.7 2165.7 L739.5 2164.6 L743.4 2165.0 L747.3 2162.5 L751.1 2162.4 L755.0 2159.5 L758.4 2162.5 L761.9 2164.5 L765.3 2167.3 L768.7 2170.8 L772.2 2173.8 L775.6 2176.9 L779.0 2178.2 L782.5 2181.4 L785.9 2183.5 L789.8 2183.0 L793.6 2180.2 L797.5 2180.1 L801.4 2178.4 L805.2 2176.1 L809.1 2176.2 L813.0 2173.6 L816.8 2173.7 L820.7 2171.9 L825.1 2172.0 L829.4 2173.4 L833.8 2174.5 L838.1 2175.4 L842.5 2176.0 L846.8 2174.6 L851.1 2174.2 L855.5 2174.7 L859.7 2176.4 L863.8 2177.7 L868.0 2179.3 L872.1 2178.8 L876.3 2179.7 L880.5 2179.7 L884.6 2181.6 L888.8 2182.9 L893.0 2183.9 L897.1 2185.0 L901.3 2185.4 L905.4 2186.1 L909.6 2186.7 L912.7 2184.2 L915.8 2182.9 L918.9 2180.2 L922.0 2176.9 L925.0 2173.5 L928.1 2170.5 L931.2 2169.1 L934.3 2166.3 L937.4 2163.4 L940.5 2160.4 L943.9 2162.3 L947.4 2163.8 L950.8 2166.8 L954.2 2169.0 L957.7 2171.7 L961.1 2173.6 L964.5 2174.5 L968.0 2177.2 L971.4 2180.4 L975.5 2181.6 L979.6 2182.3 L983.7 2181.8 L987.7 2182.2 L991.8 2183.7 L995.9 2184.8 L1000.0 2185.8 L1003.3 2187.8 L1006.7 2191.3 L1010.0 2194.7 L1013.4 2196.6 L1016.7 2199.1 L1020.1 2202.0 L1023.4 2204.3 L1026.8 2203.2 L1030.2 2200.8 L1033.7 2196.8 L1037.1 2194.3 L1040.5 2193.4 L1043.9 2191.4 L1047.9 2192.4 L1052.0 2192.9 L1056.0 2193.4 L1060.0 2192.8 L1064.0 2193.7 L1068.0 2195.8 L1072.1 2196.7 L1076.1 2197.5 L1080.5 2194.6 L1084.9 2193.4 L1089.3 2192.8 L1093.7 2190.7 L1098.1 2189.9 L1102.5 2187.9 L1106.3 2191.3 L1110.0 2192.1 L1113.8 2194.6 L1117.5 2197.8 L1121.3 2199.4 L1125.0 2201.2 L1128.8 2203.5 L1132.6 2205.7 L1136.3 2207.2 L1140.1 2210.6 L1143.9 2212.0 L1147.7 2212.8 L1151.4 2215.7 L1155.2 2216.6 L1159.0 2215.1 L1162.7 2213.7 L1166.5 2210.5 L1170.2 2209.0 L1174.0 2206.5 L1177.7 2203.1 L1181.5 2202.0 L1185.7 2203.0 L1189.9 2203.1 L1194.1 2202.8 L1198.2 2202.5 L1202.4 2203.3 L1206.6 2203.8 L1210.8 2204.9 L1214.5 2202.0 L1218.1 2201.3 L1221.8 2198.4 L1225.4 2197.1 L1229.0 2194.8 L1232.7 2192.8 L1236.3 2190.6 L1240.0 2188.7 L1244.4 2186.8 L1248.8 2187.5 L1253.2 2188.0 L1257.6 2188.7 L1261.5 2190.5 L1265.4 2192.9 L1269.3 2193.6 L1273.2 2196.4 L1277.1 2198.2 L1281.0 2198.5 L1285.2 2197.0 L1289.4 2197.8 L1293.6 2197.5 L1297.7 2195.4 L1301.9 2194.7 L1306.1 2193.2 L1310.3 2193.6 L1314.7 2194.5 L1319.1 2195.7 L1323.5 2196.0 L1327.8 2196.6 L1332.2 2198.2 L1336.6 2198.2 L1341.0 2198.6 L1345.4 2199.0 L1349.5 2199.6 L1353.6 2199.0 L1357.7 2197.0 L1361.8 2195.8 L1365.9 2194.9 L1370.0 2194.4 L1374.1 2195.1 L1378.2 2194.8 L1382.3 2194.5 L1386.4 2192.5 L1390.5 2192.2 L1394.5 2193.5 L1398.6 2192.3 L1402.6 2194.0 L1406.7 2193.4 L1410.7 2192.3 L1414.8 2192.2 L1418.8 2192.8 L1422.9 2194.2 L1426.9 2192.9 L1431.0 2193.8 L1435.0 2194.1 L1439.1 2192.8 L1443.8 2192.6 L1448.5 2192.4 L1453.1 2192.6 L1457.8 2192.0 L1462.5 2191.0 L1465.0 2195.0 L1467.5 2198.2 L1470.0 2201.3 L1472.5 2204.1 L1475.0 2207.8 L1477.5 2210.5 L1480.0 2214.5 L1484.7 2215.1 L1489.4 2214.7 L1494.0 2215.2 L1498.7 2217.0 L1503.4 2217.5 L1507.3 2216.3 L1511.2 2212.7 L1515.2 2211.3 L1519.1 2208.2 L1523.0 2206.5 L1526.9 2205.2 L1530.2 2201.9 L1533.5 2199.7 L1536.8 2198.1 L1540.1 2195.0 L1543.3 2193.2 L1546.6 2190.3 L1549.9 2188.3 L1553.2 2184.5 L1557.1 2183.4 L1561.0 2182.5 L1564.9 2182.5 L1568.8 2180.8 L1572.7 2179.5 L1576.6 2179.8 L1580.3 2177.6 L1583.9 2174.5 L1587.6 2172.5 L1591.2 2169.3 L1594.9 2168.4 L1598.6 2166.9 L1602.2 2164.3 L1605.9 2162.6 L1610.3 2161.4 L1614.7 2163.2 L1619.1 2163.7 L1623.5 2164.7 L1627.9 2163.8 L1632.3 2164.4 L1637.2 2163.5 L1642.0 2163.4 L1646.9 2160.6 L1649.0 2163.6 L1651.1 2167.4 L1653.2 2172.3 L1655.3 2175.5 L1657.4 2180.6 L1659.5 2185.0 L1661.6 2187.7 L1665.5 2188.5 L1669.4 2191.5 L1673.3 2194.4 L1677.2 2195.3 L1681.1 2197.3 L1685.0 2199.1 L1688.9 2201.3 L1692.8 2203.2 L1696.7 2204.5 L1700.6 2207.1 L1704.5 2208.6 L1708.4 2211.7 L1712.3 2209.8 L1716.2 2208.5 L1720.1 2206.5 L1724.0 2206.4 L1727.9 2204.4 L1731.8 2204.3 L1735.7 2201.8 L1739.6 2201.7 L1743.5 2199.4 L1747.9 2197.9 L1752.3 2197.7 L1756.7 2196.0 L1761.1 2196.8 L1765.5 2196.9 L1769.9 2199.7 L1774.3 2199.8 L1778.7 2202.8 L1783.1 2202.9 L1787.5 2204.6 L1791.7 2206.9 L1795.8 2207.3 L1800.0 2208.0 L1804.2 2208.9 L1808.4 2208.7 L1812.5 2209.0 L1816.7 2209.9 L1820.7 2211.2 L1824.8 2212.2 L1828.8 2212.2 L1832.8 2212.9 L1836.9 2212.3 L1840.9 2213.8 L1845.0 2212.7 L1849.0 2212.9 L1850.0 2215.4 L1853.9 2215.4 L1857.8 2212.0 L1861.7 2211.2 L1865.6 2209.4 L1869.5 2206.3 L1873.4 2204.5 L1877.3 2202.9 L1881.2 2201.6 L1885.1 2198.5 L1889.2 2198.1 L1893.2 2197.7 L1897.3 2198.0 L1901.3 2196.9 L1905.4 2196.7 L1909.4 2195.7 L1913.5 2195.3 L1917.5 2194.2 L1921.6 2195.0 L1925.6 2195.4 L1929.7 2193.4 L1933.7 2193.4 L1937.8 2193.4 L1941.9 2191.8 L1945.9 2191.9 L1950.0 2191.0 L1954.1 2191.5 L1958.1 2190.9 L1962.2 2190.3 L1966.3 2189.9 L1970.3 2189.5 L1974.4 2188.9 L1978.5 2187.6 L1982.5 2187.0 L1986.6 2186.0 L1990.7 2185.7 L1994.7 2184.6 L1998.8 2182.6 L2002.9 2182.9 L2006.9 2183.2 L2011.0 2180.8 L2015.0 2182.4 L2019.0 2183.9 L2023.0 2183.0 L2027.0 2184.1 L2031.0 2184.9 L2034.9 2186.1 L2038.9 2185.6 L2042.9 2186.6 L2046.9 2186.4 L2050.9 2186.1 L2054.9 2187.4 L2058.9 2189.1 L2062.9 2189.1 L2066.9 2188.7 L2070.9 2189.8 L2074.9 2189.9 L2078.8 2190.0 L2082.8 2191.4 L2086.8 2190.9 L2090.8 2192.3 L2094.8 2191.8 L2098.8 2193.7 L2102.5 2194.5 L2106.1 2196.4 L2109.8 2199.7 L2113.4 2201.5 L2117.1 2204.5 L2120.8 2206.4 L2124.4 2207.4 L2128.1 2209.3 L2132.2 2209.2 L2136.2 2208.3 L2140.3 2209.2 L2144.4 2209.6 L2148.4 2207.9 L2152.5 2207.1 L2156.6 2207.9 L2160.6 2207.4 L2164.7 2205.5 L2168.8 2205.8 L2172.8 2205.4 L2176.9 2204.6 L2181.0 2204.5 L2185.0 2205.0 L2189.1 2203.0 L2193.2 2203.8 L2197.2 2201.8 L2201.3 2201.3 L2205.5 2201.8 L2209.7 2204.1 L2213.8 2204.4 L2218.0 2204.5 L2222.2 2206.1 L2226.4 2205.2 L2230.6 2206.9 L2234.7 2206.5 L2238.9 2207.2 L2243.1 2208.6 L2247.3 2208.8 L2251.4 2209.5 L2255.6 2210.4 L2259.8 2211.7 L2261.3 2207.2 L2262.7 2202.6 L2264.2 2199.8 L2265.7 2196.6 L2267.1 2191.5 L2268.6 2186.8 L2270.1 2182.9 L2271.5 2179.5 L2273.0 2174.7 L2274.5 2171.6 L2275.9 2168.5 L2277.4 2164.0 L2281.3 2166.2 L2285.2 2169.7 L2289.1 2170.6 L2293.0 2173.4 L2296.9 2176.0 L2300.8 2178.8 L2303.4 2181.0 L2306.0 2184.2 L2308.6 2187.2 L2311.2 2190.8 L2313.8 2193.7 L2316.4 2197.1 L2319.0 2199.8 L2321.6 2203.5 L2324.2 2208.0 L2328.1 2207.1 L2332.1 2206.6 L2336.1 2205.8 L2340.0 2204.1 L2344.7 2204.9 L2349.4 2207.2 L2354.0 2206.5 L2358.7 2208.2 L2363.4 2208.5 L2367.8 2208.8 L2372.2 2210.2 L2376.6 2210.0 L2380.9 2209.4 L2385.3 2209.7 L2389.7 2209.7 L2394.1 2210.2 L2398.5 2210.4 L2402.9 2212.2 L2407.3 2212.6 L2411.7 2214.2 L2416.1 2214.3 L2420.5 2213.8 L2424.9 2214.5 L2429.3 2216.1 L2433.7 2217.0 L2438.1 2216.3 L2442.5 2216.5 L2446.9 2215.2 L2451.2 2216.7 L2455.6 2217.0 L2460.0 2217.1 L2464.4 2216.5 L2468.8 2217.1 L2473.2 2215.6 L2477.6 2214.9 L2482.0 2214.2 L2486.4 2215.1 L2490.7 2215.0 L2495.1 2214.8 L2499.5 2214.8 L2503.9 2213.7 L2507.7 2211.1 L2511.4 2207.0 L2515.2 2205.3 L2518.9 2202.2 L2522.7 2200.3 L2526.7 2199.8 L2530.7 2200.1 L2534.7 2200.9 L2538.8 2203.1 L2542.8 2204.3 L2546.8 2204.0 L2550.8 2204.8 L2555.2 2204.8 L2559.6 2205.3 L2564.0 2205.6 L2568.4 2203.7 L2572.7 2204.1 L2577.1 2203.5 L2581.5 2203.8 L2585.9 2203.6 L2590.3 2203.2 L2594.7 2204.5 L2599.1 2204.3 L2603.4 2203.6 L2607.8 2203.5 L2612.2 2203.7 L2616.6 2202.5 L2621.0 2200.9 L2625.4 2202.3 L2629.8 2200.9 L2634.2 2201.4 L2638.6 2200.8 L2643.0 2201.4 L2647.4 2199.7 L2651.8 2200.8 L2656.2 2200.4 L2660.3 2201.4 L2664.4 2203.4 L2668.5 2204.3 L2672.6 2206.8 L2675.7 2203.4 L2678.8 2201.4 L2681.9 2198.2 L2685.1 2195.2 L2688.2 2190.3 L2691.3 2187.6 L2695.3 2188.4 L2699.3 2187.4 L2703.3 2188.1 L2707.4 2187.9 L2711.4 2188.9 L2715.4 2189.1 L2719.4 2188.1 L2724.1 2187.8 L2728.8 2186.7 L2733.4 2185.0 L2738.1 2185.1 L2741.8 2183.9 L2745.5 2182.7 L2749.2 2181.2 L2752.8 2179.4 L2756.5 2177.7 L2760.2 2175.0 L2763.9 2174.5 L2768.1 2175.3 L2772.3 2174.8 L2776.6 2174.4 L2780.8 2175.1 L2785.0 2175.5 L2788.9 2174.5 L2792.8 2174.0 L2796.7 2171.7 L2800.6 2171.3 L2804.5 2169.1 L2808.4 2167.7 L2812.7 2171.6 L2816.9 2176.0 L2821.2 2179.4 L2825.6 2179.1 L2830.1 2180.9 L2834.5 2182.5 L2839.0 2182.5 L2843.4 2184.1 L2847.3 2186.1 L2851.2 2186.0 L2855.1 2188.8 L2859.0 2188.6 L2862.9 2190.7 L2866.8 2193.6 L2870.6 2192.2 L2874.3 2190.1 L2878.1 2188.6 L2881.8 2184.9 L2885.6 2183.8 L2890.3 2184.9 L2894.9 2185.8 L2899.6 2187.9 L2904.3 2189.6 L2908.2 2188.1 L2912.1 2186.9 L2916.0 2183.4 L2919.9 2181.2 L2923.8 2180.9 L2927.7 2178.4 L2932.4 2176.9 L2937.1 2176.8 L2941.7 2175.5 L2946.4 2175.1 L2951.1 2173.3 L2955.2 2173.9 L2959.3 2175.0 L2963.4 2176.7 L2967.5 2179.1 L2971.6 2179.9 L2975.7 2181.0 L2979.8 2181.7 L2983.9 2183.4 L2987.9 2183.0 L2991.9 2183.0 L2995.9 2182.1 L3000.0 2182.2 L3004.0 2180.9 L3008.0 2180.2 L3012.0 2179.5 L3016.7 2180.4 L3021.4 2182.1 L3026.1 2181.7 L3030.8 2183.2 L3034.7 2180.2 L3038.6 2178.0 L3042.5 2176.9 L3046.4 2175.4 L3050.3 2174.3 L3054.2 2172.9 L3058.1 2173.6 L3062.0 2175.1 L3065.9 2175.5 L3069.8 2178.1 L3073.7 2180.0 L3077.6 2180.8 L3082.3 2182.6 L3087.0 2182.7 L3091.6 2183.2 L3096.3 2183.4 L3101.0 2185.6 L3105.0 2186.5 L3109.0 2188.1 L3113.0 2186.9 L3117.1 2189.0 L3121.1 2190.3 L3125.1 2190.3 L3129.1 2189.4 L3133.8 2189.7 L3138.5 2190.4 L3143.2 2191.9 L3147.9 2191.7 L3152.6 2190.4 L3157.3 2189.2 L3161.9 2189.7 L3166.6 2189.8 L3171.3 2187.7 L3176.0 2186.4 L3180.7 2185.5 L3185.3 2185.0 L3190.0 2184.3 L3190.3 2181.3 L3190.6 2176.6 L3190.9 2172.1 L3191.2 2169.4 L3191.5 2164.2 L3191.8 2160.6 L3192.1 2155.5 L3192.4 2151.3 L3194.9 2154.6 L3197.5 2158.8 L3200.0 2162.1 L3204.6 2161.4 L3209.2 2160.7 L3213.8 2161.9 L3218.3 2159.7 L3222.9 2160.9 L3227.5 2159.2 L3232.1 2159.0 L3236.7 2159.4 L3241.2 2159.5 L3245.8 2159.9 L3250.4 2158.5 L3255.0 2158.0 L3259.6 2158.5 L3264.2 2156.2 L3268.8 2155.2 L3273.3 2155.4 L3277.9 2154.2 L3282.5 2154.7 L3287.1 2153.0 L3291.6 2154.0 L3296.2 2154.1 L3300.8 2153.3 L3305.3 2152.3 L3309.9 2151.4 L3313.8 2152.4 L3317.8 2152.5 L3321.7 2153.3 L3325.6 2155.5 L3329.5 2156.2 L3333.5 2157.6 L3337.4 2158.7 L3342.0 2159.5 L3346.6 2158.4 L3351.2 2157.7 L3355.7 2159.2 L3360.3 2158.5 L3364.9 2159.7 L3369.5 2159.0 L3374.1 2157.1 L3378.6 2154.7 L3383.2 2153.3 L3387.1 2154.0 L3391.1 2156.2 L3395.0 2157.8 L3398.9 2160.5 L3402.8 2161.6 L3406.8 2162.1 L3410.7 2163.2 L3415.3 2163.2 L3419.9 2164.1 L3424.4 2163.7 L3429.0 2163.4 L3433.6 2165.5 L3438.2 2165.3 L3442.1 2165.1 L3446.1 2163.0 L3450.0 2161.4 L3453.9 2161.5 L3457.8 2160.3 L3461.8 2158.6 L3465.7 2158.4 L3470.3 2156.5 L3474.8 2156.2 L3479.4 2155.3 L3484.0 2154.7 L3487.9 2155.9 L3491.9 2156.0 L3495.8 2157.5 L3499.7 2158.9 L3503.6 2158.9 L3507.6 2158.6 L3511.5 2160.1 L3515.4 2162.1 L3519.4 2161.8 L3523.3 2163.1 L3527.2 2163.8 L3531.1 2164.9 L3535.1 2166.0 L3539.0 2167.7 L3543.6 2168.9 L3548.2 2171.0 L3552.7 2171.2 L3557.3 2172.0 L3562.2 2173.8 L3567.1 2175.1 L3572.0 2175.3" stroke="#007893"/>
</g>
<g stroke-linecap="round" stroke-width="24">
<line x1="1782" y1="726" x2="2005" y2="726" stroke="#012907"/>
<line x1="2836" y1="726" x2="3060" y2="726" stroke="#5e8867"/>
<line x1="1782" y1="960" x2="2005" y2="960" stroke="#00b453"/>
<line x1="2836" y1="960" x2="3060" y2="960" stroke="#007893"/>
</g>
<text x="2028.9" y="757.3" class="lg" textLength="410" lengthAdjust="spacingAndGlyphs">Espanha</text>
<text x="3082.4" y="757.3" class="lg" textLength="231.3" lengthAdjust="spacingAndGlyphs">Itália</text>
<text x="2028.3" y="990.5" class="lg" textLength="414.6" lengthAdjust="spacingAndGlyphs">Portugal</text>
<text x="3084" y="990.5" class="lg" textLength="319.6" lengthAdjust="spacingAndGlyphs">França</text>
<text x="466.7" y="2731.3" class="ft" textLength="1778" lengthAdjust="spacingAndGlyphs">Fontes: Carmignac, Bloomberg, 18/02/2026</text>
</svg>
</body></html>
